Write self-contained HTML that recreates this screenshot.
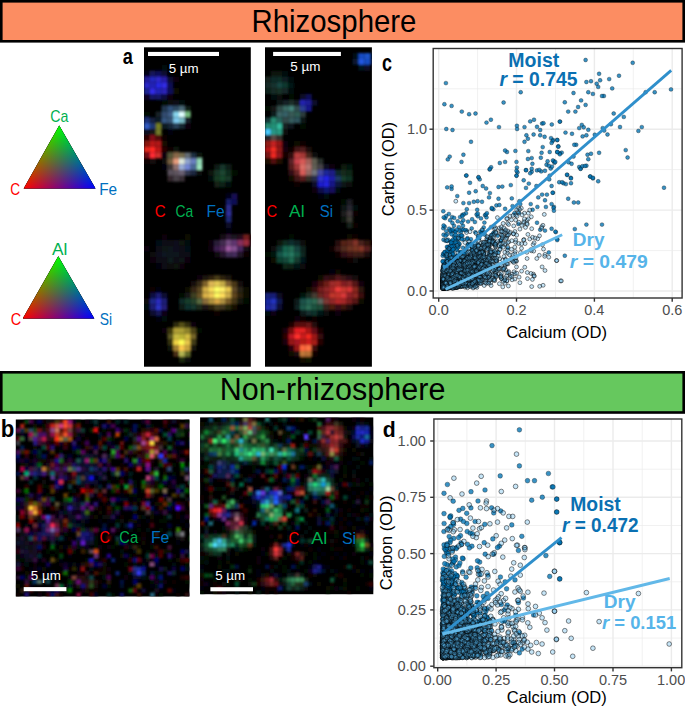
<!DOCTYPE html>
<html><head><meta charset="utf-8"><style>
html,body{margin:0;padding:0;background:#fff;}
svg{display:block;font-family:"Liberation Sans", sans-serif;}
.pts circle{r:1.95px;stroke:#000;stroke-width:.5px;stroke-opacity:.6}
.pd circle{r:2.35px}
.d circle{fill:#56b4e9;fill-opacity:.33;stroke-opacity:.95}
.m circle{fill:#0072b2;fill-opacity:.78}
.pa1 rect{width:5.84px;height:5.84px}
.pa2 rect{width:5.84px;height:5.84px}
.pb1 rect{width:4.33px;height:4.33px}
.pb2 rect{width:4.33px;height:4.33px}
</style></head><body>
<svg width="685" height="708" viewBox="0 0 685 708">
<defs><filter id="pba1" x="-5%" y="-5%" width="110%" height="110%"><feGaussianBlur stdDeviation="1.3"/></filter><filter id="pba2" x="-5%" y="-5%" width="110%" height="110%"><feGaussianBlur stdDeviation="1.3"/></filter><filter id="pbb1" x="-5%" y="-5%" width="110%" height="110%"><feGaussianBlur stdDeviation="0.9"/></filter><filter id="pbb2" x="-5%" y="-5%" width="110%" height="110%"><feGaussianBlur stdDeviation="0.9"/></filter></defs>
<defs><linearGradient id="t1g" gradientUnits="userSpaceOnUse" x1="59.2" y1="125.4" x2="59.2" y2="188.5"><stop offset="0" stop-color="#00ff00"/><stop offset="1" stop-color="#000"/></linearGradient><linearGradient id="t1r" gradientUnits="userSpaceOnUse" x1="23.7" y1="188.5" x2="77.6" y2="157.5"><stop offset="0" stop-color="#ff0000"/><stop offset="1" stop-color="#000"/></linearGradient><linearGradient id="t1b" gradientUnits="userSpaceOnUse" x1="95.5" y1="188.5" x2="41.0" y2="157.8"><stop offset="0" stop-color="#0000ff"/><stop offset="1" stop-color="#000"/></linearGradient><linearGradient id="t2g" gradientUnits="userSpaceOnUse" x1="58.3" y1="256.3" x2="58.3" y2="318.5"><stop offset="0" stop-color="#00ff00"/><stop offset="1" stop-color="#000"/></linearGradient><linearGradient id="t2r" gradientUnits="userSpaceOnUse" x1="22.8" y1="318.5" x2="76.4" y2="287.5"><stop offset="0" stop-color="#ff0000"/><stop offset="1" stop-color="#000"/></linearGradient><linearGradient id="t2b" gradientUnits="userSpaceOnUse" x1="94.3" y1="318.5" x2="40.4" y2="287.7"><stop offset="0" stop-color="#0000ff"/><stop offset="1" stop-color="#000"/></linearGradient><filter id="bl2" x="-50%" y="-50%" width="200%" height="200%"><feGaussianBlur stdDeviation="2.2"/></filter><filter id="bl3" x="-50%" y="-50%" width="200%" height="200%"><feGaussianBlur stdDeviation="3.5"/></filter><filter id="bl1" x="-50%" y="-50%" width="200%" height="200%"><feGaussianBlur stdDeviation="1.2"/></filter></defs><rect x="1.3" y="1.3" width="682.4" height="40" fill="#fc8d62" stroke="#000" stroke-width="2.6"/><text transform="translate(251.55,31.6) scale(0.954,1)" font-size="30.8" fill="#000">Rhizosphere</text><rect x="1.3" y="372.3" width="682.4" height="40.2" fill="#66c85e" stroke="#000" stroke-width="2.6"/><text transform="translate(219.76,399.9) scale(0.991,1)" font-size="30.8" fill="#000">Non-rhizosphere</text><g style="isolation:isolate"><polygon points="59.2,125.4 23.7,188.5 95.5,188.5" fill="url(#t1r)"/><polygon points="59.2,125.4 23.7,188.5 95.5,188.5" fill="url(#t1g)" style="mix-blend-mode:screen"/><polygon points="59.2,125.4 23.7,188.5 95.5,188.5" fill="url(#t1b)" style="mix-blend-mode:screen"/></g><g style="isolation:isolate"><polygon points="58.3,256.3 22.8,318.5 94.3,318.5" fill="url(#t2r)"/><polygon points="58.3,256.3 22.8,318.5 94.3,318.5" fill="url(#t2g)" style="mix-blend-mode:screen"/><polygon points="58.3,256.3 22.8,318.5 94.3,318.5" fill="url(#t2b)" style="mix-blend-mode:screen"/></g><text transform="translate(50.29,121.8) scale(0.878,1)" font-size="16.2" fill="#00b050">Ca</text><text transform="translate(10.32,195.4) scale(0.843,1)" font-size="16.2" fill="#ff0000">C</text><text transform="translate(99.17,195.4) scale(0.950,1)" font-size="16.2" fill="#0070c0">Fe</text><text transform="translate(51.90,255.3) scale(1.069,1)" font-size="16.2" fill="#00b050">Al</text><text transform="translate(10.78,325.4) scale(0.892,1)" font-size="16.2" fill="#ff0000">C</text><text transform="translate(99.71,325.4) scale(0.858,1)" font-size="16.2" fill="#0070c0">Si</text><text transform="translate(122.86,64.4) scale(0.788,1)" font-size="23.0" font-weight="bold" fill="#000">a</text><text transform="translate(381.88,70.6) scale(0.781,1)" font-size="23.0" font-weight="bold" fill="#000">c</text><text transform="translate(0.85,436.9) scale(0.941,1)" font-size="23.6" font-weight="bold" fill="#000">b</text><text transform="translate(382.65,436.7) scale(0.934,1)" font-size="22.7" font-weight="bold" fill="#000">d</text><rect x="144" y="47.3" width="106.8" height="319.4" fill="#000"/><svg x="144" y="47.3" width="106.8" height="319.4" overflow="hidden"><g class="pa1" filter="url(#pba1)"><rect x="17.5" y="17.5" fill="#00090b"/><rect x="0" y="23.4" fill="#050417"/><rect x="5.8" y="23.4" fill="#19195a"/><rect x="11.7" y="23.4" fill="#101058"/><rect x="17.5" y="23.4" fill="#090932"/><rect x="0" y="29.2" fill="#211b9c"/><rect x="5.8" y="29.2" fill="#2127be"/><rect x="11.7" y="29.2" fill="#2f25c9"/><rect x="17.5" y="29.2" fill="#271da9"/><rect x="23.4" y="29.2" fill="#090931"/><rect x="29.2" y="29.2" fill="#0a010b"/><rect x="0" y="35" fill="#2b26ca"/><rect x="5.8" y="35" fill="#2121b6"/><rect x="11.7" y="35" fill="#2828e3"/><rect x="17.5" y="35" fill="#3129e3"/><rect x="23.4" y="35" fill="#0f0f55"/><rect x="0" y="40.9" fill="#1a2093"/><rect x="5.8" y="40.9" fill="#322ae7"/><rect x="11.7" y="40.9" fill="#2121b7"/><rect x="17.5" y="40.9" fill="#2a21b7"/><rect x="23.4" y="40.9" fill="#0f0f59"/><rect x="29.2" y="40.9" fill="#0b0a05"/><rect x="0" y="46.7" fill="#0b0623"/><rect x="5.8" y="46.7" fill="#131267"/><rect x="11.7" y="46.7" fill="#141968"/><rect x="17.5" y="46.7" fill="#0c0c40"/><rect x="23.4" y="46.7" fill="#08020b"/><rect x="17.5" y="52.6" fill="#020b06"/><rect x="23.4" y="52.6" fill="#090c0d"/><rect x="29.2" y="52.6" fill="#070b19"/><rect x="35" y="52.6" fill="#050d0e"/><rect x="17.5" y="58.4" fill="#21384f"/><rect x="23.4" y="58.4" fill="#32527b"/><rect x="29.2" y="58.4" fill="#2f4b64"/><rect x="35" y="58.4" fill="#496777"/><rect x="40.9" y="58.4" fill="#0f1f14"/><rect x="0" y="64.2" fill="#000a05"/><rect x="11.7" y="64.2" fill="#172426"/><rect x="17.5" y="64.2" fill="#304c70"/><rect x="23.4" y="64.2" fill="#405e89"/><rect x="29.2" y="64.2" fill="#88d5ee"/><rect x="35" y="64.2" fill="#e1ffff"/><rect x="40.9" y="64.2" fill="#73b97b"/><rect x="0" y="70.1" fill="#1e3379"/><rect x="5.8" y="70.1" fill="#142141"/><rect x="11.7" y="70.1" fill="#111a27"/><rect x="17.5" y="70.1" fill="#355681"/><rect x="23.4" y="70.1" fill="#375778"/><rect x="29.2" y="70.1" fill="#7fc9ee"/><rect x="35" y="70.1" fill="#77b7c3"/><rect x="40.9" y="70.1" fill="#141f26"/><rect x="0" y="75.9" fill="#315ac2"/><rect x="5.8" y="75.9" fill="#1f3772"/><rect x="11.7" y="75.9" fill="#767f24"/><rect x="17.5" y="75.9" fill="#111a20"/><rect x="23.4" y="75.9" fill="#182739"/><rect x="29.2" y="75.9" fill="#273f57"/><rect x="35" y="75.9" fill="#142830"/><rect x="40.9" y="75.9" fill="#0a020c"/><rect x="0" y="81.8" fill="#080d23"/><rect x="5.8" y="81.8" fill="#161319"/><rect x="11.7" y="81.8" fill="#727c29"/><rect x="23.4" y="81.8" fill="#01010a"/><rect x="0" y="87.6" fill="#2d0606"/><rect x="5.8" y="87.6" fill="#811018"/><rect x="11.7" y="87.6" fill="#50110a"/><rect x="17.5" y="87.6" fill="#0b0000"/><rect x="0" y="93.4" fill="#8a1211"/><rect x="5.8" y="93.4" fill="#b91616"/><rect x="11.7" y="93.4" fill="#b21517"/><rect x="17.5" y="93.4" fill="#130b02"/><rect x="0" y="99.3" fill="#e3251b"/><rect x="5.8" y="99.3" fill="#ff2824"/><rect x="11.7" y="99.3" fill="#be1919"/><rect x="17.5" y="99.3" fill="#250404"/><rect x="23.4" y="99.3" fill="#0c0201"/><rect x="29.2" y="99.3" fill="#0f1209"/><rect x="0" y="105.1" fill="#720e14"/><rect x="5.8" y="105.1" fill="#ff2c35"/><rect x="11.7" y="105.1" fill="#cf2d2a"/><rect x="17.5" y="105.1" fill="#0d060e"/><rect x="23.4" y="105.1" fill="#555738"/><rect x="29.2" y="105.1" fill="#89694a"/><rect x="35" y="105.1" fill="#756c4e"/><rect x="40.9" y="105.1" fill="#636c73"/><rect x="46.7" y="105.1" fill="#1d2f40"/><rect x="52.6" y="105.1" fill="#09130d"/><rect x="0" y="111" fill="#0a0106"/><rect x="5.8" y="111" fill="#190b0b"/><rect x="17.5" y="111" fill="#0b0a07"/><rect x="23.4" y="111" fill="#776042"/><rect x="29.2" y="111" fill="#e79c7d"/><rect x="35" y="111" fill="#dce5d9"/><rect x="40.9" y="111" fill="#90a4cc"/><rect x="46.7" y="111" fill="#697fc0"/><rect x="52.6" y="111" fill="#93d8b4"/><rect x="17.5" y="116.8" fill="#02040b"/><rect x="23.4" y="116.8" fill="#3e3635"/><rect x="29.2" y="116.8" fill="#90716f"/><rect x="35" y="116.8" fill="#9aacd6"/><rect x="40.9" y="116.8" fill="#7386d6"/><rect x="46.7" y="116.8" fill="#4b6a98"/><rect x="52.6" y="116.8" fill="#9ce4be"/><rect x="70.1" y="116.8" fill="#0a1b12"/><rect x="75.9" y="116.8" fill="#133629"/><rect x="81.8" y="116.8" fill="#0c1f14"/><rect x="23.4" y="122.6" fill="#584f5a"/><rect x="29.2" y="122.6" fill="#5f555f"/><rect x="35" y="122.6" fill="#6b6072"/><rect x="40.9" y="122.6" fill="#333851"/><rect x="46.7" y="122.6" fill="#1e263f"/><rect x="52.6" y="122.6" fill="#090f0d"/><rect x="64.2" y="122.6" fill="#0d180f"/><rect x="70.1" y="122.6" fill="#143626"/><rect x="75.9" y="122.6" fill="#1a4732"/><rect x="81.8" y="122.6" fill="#102a1c"/><rect x="87.6" y="122.6" fill="#031005"/><rect x="23.4" y="128.5" fill="#33272c"/><rect x="29.2" y="128.5" fill="#473f47"/><rect x="35" y="128.5" fill="#382f34"/><rect x="64.2" y="128.5" fill="#060f0a"/><rect x="70.1" y="128.5" fill="#173a23"/><rect x="75.9" y="128.5" fill="#18462b"/><rect x="81.8" y="128.5" fill="#123726"/><rect x="70.1" y="134.3" fill="#122014"/><rect x="75.9" y="134.3" fill="#0c2414"/><rect x="81.8" y="134.3" fill="#051008"/><rect x="81.8" y="146" fill="#06061d"/><rect x="87.6" y="146" fill="#160f55"/><rect x="81.8" y="151.8" fill="#171d6a"/><rect x="87.6" y="151.8" fill="#111156"/><rect x="81.8" y="157.7" fill="#2a298a"/><rect x="81.8" y="163.5" fill="#2d2e99"/><rect x="81.8" y="169.4" fill="#1d2573"/><rect x="81.8" y="175.2" fill="#090926"/><rect x="81.8" y="181" fill="#00050b"/><rect x="17.5" y="186.9" fill="#0c0207"/><rect x="40.9" y="186.9" fill="#090a00"/><rect x="75.9" y="186.9" fill="#161016"/><rect x="81.8" y="186.9" fill="#2b1530"/><rect x="87.6" y="186.9" fill="#1d1422"/><rect x="93.4" y="186.9" fill="#260c1b"/><rect x="99.3" y="186.9" fill="#721f1d"/><rect x="105.1" y="186.9" fill="#100303"/><rect x="11.7" y="192.7" fill="#060e14"/><rect x="17.5" y="192.7" fill="#0a0d18"/><rect x="23.4" y="192.7" fill="#0b0e14"/><rect x="29.2" y="192.7" fill="#0e0f1c"/><rect x="35" y="192.7" fill="#0d130e"/><rect x="40.9" y="192.7" fill="#06070b"/><rect x="64.2" y="192.7" fill="#0e0307"/><rect x="70.1" y="192.7" fill="#2b1d39"/><rect x="75.9" y="192.7" fill="#43294f"/><rect x="81.8" y="192.7" fill="#71497f"/><rect x="87.6" y="192.7" fill="#5f356f"/><rect x="93.4" y="192.7" fill="#852f5d"/><rect x="99.3" y="192.7" fill="#9a2b3c"/><rect x="105.1" y="192.7" fill="#1d0708"/><rect x="0" y="198.6" fill="#07010b"/><rect x="11.7" y="198.6" fill="#0c0f16"/><rect x="17.5" y="198.6" fill="#0e1219"/><rect x="23.4" y="198.6" fill="#10181c"/><rect x="29.2" y="198.6" fill="#0c0f1c"/><rect x="35" y="198.6" fill="#0c0c18"/><rect x="40.9" y="198.6" fill="#061113"/><rect x="64.2" y="198.6" fill="#0a0511"/><rect x="70.1" y="198.6" fill="#3b1d4e"/><rect x="75.9" y="198.6" fill="#53275d"/><rect x="81.8" y="198.6" fill="#9c5aa0"/><rect x="87.6" y="198.6" fill="#834f90"/><rect x="93.4" y="198.6" fill="#49275f"/><rect x="99.3" y="198.6" fill="#160a19"/><rect x="5.8" y="204.4" fill="#0e0d0d"/><rect x="11.7" y="204.4" fill="#0f0e1d"/><rect x="17.5" y="204.4" fill="#101221"/><rect x="23.4" y="204.4" fill="#0f121f"/><rect x="29.2" y="204.4" fill="#0f171c"/><rect x="35" y="204.4" fill="#0a1113"/><rect x="40.9" y="204.4" fill="#080a15"/><rect x="70.1" y="204.4" fill="#0e0710"/><rect x="75.9" y="204.4" fill="#26132d"/><rect x="81.8" y="204.4" fill="#412a54"/><rect x="87.6" y="204.4" fill="#452b5c"/><rect x="93.4" y="204.4" fill="#211427"/><rect x="99.3" y="204.4" fill="#0b0306"/><rect x="5.8" y="210.2" fill="#0b0610"/><rect x="11.7" y="210.2" fill="#0b0e14"/><rect x="17.5" y="210.2" fill="#110f13"/><rect x="23.4" y="210.2" fill="#0d1a1b"/><rect x="29.2" y="210.2" fill="#0d1017"/><rect x="35" y="210.2" fill="#0d1317"/><rect x="40.9" y="210.2" fill="#08060f"/><rect x="11.7" y="216.1" fill="#06050f"/><rect x="17.5" y="216.1" fill="#0f0b19"/><rect x="23.4" y="216.1" fill="#070a0d"/><rect x="29.2" y="216.1" fill="#081211"/><rect x="35" y="216.1" fill="#0b0608"/><rect x="52.6" y="227.8" fill="#0f060c"/><rect x="58.4" y="227.8" fill="#1a130f"/><rect x="64.2" y="227.8" fill="#2d2111"/><rect x="70.1" y="227.8" fill="#463a18"/><rect x="75.9" y="227.8" fill="#2f2210"/><rect x="81.8" y="227.8" fill="#1f1508"/><rect x="46.7" y="233.6" fill="#181108"/><rect x="52.6" y="233.6" fill="#392a18"/><rect x="58.4" y="233.6" fill="#7f6229"/><rect x="64.2" y="233.6" fill="#dcb555"/><rect x="70.1" y="233.6" fill="#e3c752"/><rect x="75.9" y="233.6" fill="#c5ab46"/><rect x="81.8" y="233.6" fill="#7d5f30"/><rect x="87.6" y="233.6" fill="#483818"/><rect x="93.4" y="233.6" fill="#121010"/><rect x="5.8" y="239.4" fill="#0a0301"/><rect x="11.7" y="239.4" fill="#05060b"/><rect x="40.9" y="239.4" fill="#090d03"/><rect x="46.7" y="239.4" fill="#382812"/><rect x="52.6" y="239.4" fill="#5c4820"/><rect x="58.4" y="239.4" fill="#d0ac47"/><rect x="64.2" y="239.4" fill="#f7d959"/><rect x="70.1" y="239.4" fill="#ffff66"/><rect x="75.9" y="239.4" fill="#ffec68"/><rect x="81.8" y="239.4" fill="#e7c54d"/><rect x="87.6" y="239.4" fill="#5e4928"/><rect x="93.4" y="239.4" fill="#282016"/><rect x="99.3" y="239.4" fill="#0c0e03"/><rect x="5.8" y="245.3" fill="#100f43"/><rect x="11.7" y="245.3" fill="#1b1b76"/><rect x="17.5" y="245.3" fill="#0b0b33"/><rect x="35" y="245.3" fill="#040b03"/><rect x="40.9" y="245.3" fill="#151614"/><rect x="46.7" y="245.3" fill="#3e4122"/><rect x="52.6" y="245.3" fill="#695327"/><rect x="58.4" y="245.3" fill="#d9b148"/><rect x="64.2" y="245.3" fill="#eec652"/><rect x="70.1" y="245.3" fill="#fff861"/><rect x="75.9" y="245.3" fill="#ffdd5b"/><rect x="81.8" y="245.3" fill="#cbaa48"/><rect x="87.6" y="245.3" fill="#5f441e"/><rect x="93.4" y="245.3" fill="#2d240e"/><rect x="99.3" y="245.3" fill="#0b0804"/><rect x="0" y="251.1" fill="#0c090d"/><rect x="5.8" y="251.1" fill="#1f2589"/><rect x="11.7" y="251.1" fill="#2a2abd"/><rect x="17.5" y="251.1" fill="#1c1b75"/><rect x="35" y="251.1" fill="#102925"/><rect x="40.9" y="251.1" fill="#153e2a"/><rect x="46.7" y="251.1" fill="#27422c"/><rect x="52.6" y="251.1" fill="#586940"/><rect x="58.4" y="251.1" fill="#8a6c3a"/><rect x="64.2" y="251.1" fill="#ae903d"/><rect x="70.1" y="251.1" fill="#d6a545"/><rect x="75.9" y="251.1" fill="#ae8f3f"/><rect x="81.8" y="251.1" fill="#775a28"/><rect x="87.6" y="251.1" fill="#433517"/><rect x="93.4" y="251.1" fill="#19180d"/><rect x="99.3" y="251.1" fill="#040c03"/><rect x="0" y="257" fill="#050c0c"/><rect x="5.8" y="257" fill="#1a1a72"/><rect x="11.7" y="257" fill="#2a33c4"/><rect x="17.5" y="257" fill="#221b79"/><rect x="35" y="257" fill="#091c17"/><rect x="40.9" y="257" fill="#11312d"/><rect x="46.7" y="257" fill="#19372e"/><rect x="52.6" y="257" fill="#1d2a1d"/><rect x="58.4" y="257" fill="#1d1814"/><rect x="64.2" y="257" fill="#2c210f"/><rect x="70.1" y="257" fill="#433b1b"/><rect x="75.9" y="257" fill="#40351d"/><rect x="81.8" y="257" fill="#27250d"/><rect x="87.6" y="257" fill="#180e05"/><rect x="5.8" y="262.8" fill="#0a0a33"/><rect x="11.7" y="262.8" fill="#141758"/><rect x="17.5" y="262.8" fill="#0a0518"/><rect x="70.1" y="262.8" fill="#0c0502"/><rect x="11.7" y="268.6" fill="#00010a"/><rect x="17.5" y="268.6" fill="#000a07"/><rect x="29.2" y="274.5" fill="#2e2b0e"/><rect x="35" y="274.5" fill="#544f16"/><rect x="40.9" y="274.5" fill="#312e0e"/><rect x="46.7" y="274.5" fill="#08060a"/><rect x="17.5" y="280.3" fill="#0a0109"/><rect x="23.4" y="280.3" fill="#3d380f"/><rect x="29.2" y="280.3" fill="#ae9d35"/><rect x="35" y="280.3" fill="#aa9e36"/><rect x="40.9" y="280.3" fill="#8d822c"/><rect x="46.7" y="280.3" fill="#4e4414"/><rect x="52.6" y="280.3" fill="#030b04"/><rect x="23.4" y="286.2" fill="#5a5622"/><rect x="29.2" y="286.2" fill="#c7ba3f"/><rect x="35" y="286.2" fill="#bcb236"/><rect x="40.9" y="286.2" fill="#d1bc40"/><rect x="46.7" y="286.2" fill="#756527"/><rect x="23.4" y="292" fill="#353111"/><rect x="29.2" y="292" fill="#efd345"/><rect x="35" y="292" fill="#fffc54"/><rect x="40.9" y="292" fill="#e6c448"/><rect x="46.7" y="292" fill="#423c13"/><rect x="23.4" y="297.8" fill="#101608"/><rect x="29.2" y="297.8" fill="#a18031"/><rect x="35" y="297.8" fill="#fcc74c"/><rect x="40.9" y="297.8" fill="#c8a43c"/><rect x="46.7" y="297.8" fill="#161309"/><rect x="29.2" y="303.7" fill="#4a2d14"/><rect x="35" y="303.7" fill="#b2b351"/><rect x="40.9" y="303.7" fill="#606728"/><rect x="35" y="309.5" fill="#1f2b11"/><rect x="40.9" y="309.5" fill="#080c0a"/></g></svg><rect x="265" y="47.3" width="106.9" height="319.4" fill="#000"/><svg x="265" y="47.3" width="106.9" height="319.4" overflow="hidden"><g class="pa2" filter="url(#pba2)"><rect x="87.6" y="5.8" fill="#040e15"/><rect x="93.4" y="5.8" fill="#164cc5"/><rect x="99.3" y="5.8" fill="#1b55cd"/><rect x="105.1" y="5.8" fill="#030b20"/><rect x="87.6" y="11.7" fill="#081830"/><rect x="93.4" y="11.7" fill="#2358e2"/><rect x="99.3" y="11.7" fill="#164ec6"/><rect x="105.1" y="11.7" fill="#0f1b45"/><rect x="93.4" y="17.5" fill="#041623"/><rect x="99.3" y="17.5" fill="#0b0e2c"/><rect x="5.8" y="23.4" fill="#0f1311"/><rect x="11.7" y="23.4" fill="#0c130e"/><rect x="17.5" y="23.4" fill="#04080f"/><rect x="0" y="29.2" fill="#14201d"/><rect x="5.8" y="29.2" fill="#0f2a26"/><rect x="11.7" y="29.2" fill="#0f2d28"/><rect x="17.5" y="29.2" fill="#0b1f22"/><rect x="23.4" y="29.2" fill="#030c10"/><rect x="0" y="35" fill="#182b27"/><rect x="5.8" y="35" fill="#15332f"/><rect x="11.7" y="35" fill="#184643"/><rect x="17.5" y="35" fill="#10382f"/><rect x="23.4" y="35" fill="#061612"/><rect x="0" y="40.9" fill="#0c231a"/><rect x="5.8" y="40.9" fill="#182a25"/><rect x="11.7" y="40.9" fill="#123326"/><rect x="17.5" y="40.9" fill="#162526"/><rect x="23.4" y="40.9" fill="#020d0d"/><rect x="5.8" y="46.7" fill="#030a0e"/><rect x="11.7" y="46.7" fill="#090d08"/><rect x="23.4" y="46.7" fill="#000a01"/><rect x="35" y="46.7" fill="#07072a"/><rect x="40.9" y="46.7" fill="#0f0f58"/><rect x="11.7" y="52.6" fill="#081714"/><rect x="17.5" y="52.6" fill="#152126"/><rect x="23.4" y="52.6" fill="#1f2f2a"/><rect x="29.2" y="52.6" fill="#181e20"/><rect x="35" y="52.6" fill="#2022ae"/><rect x="40.9" y="52.6" fill="#1e1a95"/><rect x="46.7" y="52.6" fill="#070c29"/><rect x="0" y="58.4" fill="#000a01"/><rect x="5.8" y="58.4" fill="#131616"/><rect x="11.7" y="58.4" fill="#334d4c"/><rect x="17.5" y="58.4" fill="#3a6a65"/><rect x="23.4" y="58.4" fill="#45837a"/><rect x="29.2" y="58.4" fill="#334e4f"/><rect x="35" y="58.4" fill="#2a3c93"/><rect x="40.9" y="58.4" fill="#19198b"/><rect x="5.8" y="64.2" fill="#101e1e"/><rect x="11.7" y="64.2" fill="#3b6465"/><rect x="17.5" y="64.2" fill="#366167"/><rect x="23.4" y="64.2" fill="#395a56"/><rect x="29.2" y="64.2" fill="#2f5b53"/><rect x="35" y="64.2" fill="#2a3b3b"/><rect x="0" y="70.1" fill="#153938"/><rect x="5.8" y="70.1" fill="#258b72"/><rect x="11.7" y="70.1" fill="#28665d"/><rect x="17.5" y="70.1" fill="#324948"/><rect x="23.4" y="70.1" fill="#365b5d"/><rect x="29.2" y="70.1" fill="#2f535c"/><rect x="35" y="70.1" fill="#0c1715"/><rect x="0" y="75.9" fill="#258971"/><rect x="5.8" y="75.9" fill="#229077"/><rect x="11.7" y="75.9" fill="#30b99c"/><rect x="17.5" y="75.9" fill="#182321"/><rect x="23.4" y="75.9" fill="#0c151b"/><rect x="35" y="75.9" fill="#010b01"/><rect x="0" y="81.8" fill="#49caff"/><rect x="5.8" y="81.8" fill="#289886"/><rect x="11.7" y="81.8" fill="#279a80"/><rect x="17.5" y="81.8" fill="#0e110e"/><rect x="0" y="87.6" fill="#25262c"/><rect x="5.8" y="87.6" fill="#594945"/><rect x="11.7" y="87.6" fill="#352e29"/><rect x="0" y="93.4" fill="#951c19"/><rect x="5.8" y="93.4" fill="#c62420"/><rect x="11.7" y="93.4" fill="#941515"/><rect x="17.5" y="93.4" fill="#0b0108"/><rect x="29.2" y="93.4" fill="#0a0a03"/><rect x="35" y="93.4" fill="#0b0404"/><rect x="0" y="99.3" fill="#b11717"/><rect x="5.8" y="99.3" fill="#f02b21"/><rect x="11.7" y="99.3" fill="#911714"/><rect x="17.5" y="99.3" fill="#13030b"/><rect x="23.4" y="99.3" fill="#110404"/><rect x="29.2" y="99.3" fill="#441515"/><rect x="35" y="99.3" fill="#511a1d"/><rect x="40.9" y="99.3" fill="#1a1009"/><rect x="0" y="105.1" fill="#791919"/><rect x="5.8" y="105.1" fill="#ee2621"/><rect x="11.7" y="105.1" fill="#8f141c"/><rect x="17.5" y="105.1" fill="#140202"/><rect x="23.4" y="105.1" fill="#301010"/><rect x="29.2" y="105.1" fill="#b93d3d"/><rect x="35" y="105.1" fill="#a53936"/><rect x="40.9" y="105.1" fill="#4a281f"/><rect x="46.7" y="105.1" fill="#10100e"/><rect x="0" y="111" fill="#1b0b04"/><rect x="5.8" y="111" fill="#52100b"/><rect x="11.7" y="111" fill="#200e05"/><rect x="23.4" y="111" fill="#5b2025"/><rect x="29.2" y="111" fill="#ca434b"/><rect x="35" y="111" fill="#d75a57"/><rect x="40.9" y="111" fill="#a26159"/><rect x="46.7" y="111" fill="#5e5b50"/><rect x="52.6" y="111" fill="#252d29"/><rect x="23.4" y="116.8" fill="#571d1d"/><rect x="29.2" y="116.8" fill="#a23737"/><rect x="35" y="116.8" fill="#db6d65"/><rect x="40.9" y="116.8" fill="#b5736e"/><rect x="46.7" y="116.8" fill="#615f54"/><rect x="52.6" y="116.8" fill="#444347"/><rect x="58.4" y="116.8" fill="#0f1022"/><rect x="64.2" y="116.8" fill="#0b0311"/><rect x="75.9" y="116.8" fill="#0e1b0d"/><rect x="81.8" y="116.8" fill="#04150a"/><rect x="23.4" y="122.6" fill="#330f13"/><rect x="29.2" y="122.6" fill="#6d2725"/><rect x="35" y="122.6" fill="#d75c58"/><rect x="40.9" y="122.6" fill="#946964"/><rect x="46.7" y="122.6" fill="#71737b"/><rect x="52.6" y="122.6" fill="#4346a2"/><rect x="58.4" y="122.6" fill="#1e2599"/><rect x="64.2" y="122.6" fill="#1c1f86"/><rect x="70.1" y="122.6" fill="#10272c"/><rect x="75.9" y="122.6" fill="#172b1f"/><rect x="81.8" y="122.6" fill="#112517"/><rect x="23.4" y="128.5" fill="#100705"/><rect x="29.2" y="128.5" fill="#411313"/><rect x="35" y="128.5" fill="#581f1e"/><rect x="40.9" y="128.5" fill="#332e25"/><rect x="46.7" y="128.5" fill="#282a4c"/><rect x="52.6" y="128.5" fill="#2e32ce"/><rect x="58.4" y="128.5" fill="#2323e4"/><rect x="64.2" y="128.5" fill="#1a1da4"/><rect x="70.1" y="128.5" fill="#1a3863"/><rect x="75.9" y="128.5" fill="#123d29"/><rect x="81.8" y="128.5" fill="#0e3122"/><rect x="29.2" y="134.3" fill="#0c0402"/><rect x="46.7" y="134.3" fill="#08072b"/><rect x="52.6" y="134.3" fill="#1f1fcd"/><rect x="58.4" y="134.3" fill="#2222de"/><rect x="64.2" y="134.3" fill="#151586"/><rect x="70.1" y="134.3" fill="#0e193f"/><rect x="75.9" y="134.3" fill="#081813"/><rect x="81.8" y="134.3" fill="#090d09"/><rect x="46.7" y="140.2" fill="#09010e"/><rect x="52.6" y="140.2" fill="#0c0a46"/><rect x="58.4" y="140.2" fill="#10186e"/><rect x="64.2" y="140.2" fill="#140e5d"/><rect x="70.1" y="140.2" fill="#02070b"/><rect x="52.6" y="146" fill="#01050d"/><rect x="58.4" y="146" fill="#03080b"/><rect x="75.9" y="151.8" fill="#020b02"/><rect x="81.8" y="151.8" fill="#1a1a23"/><rect x="75.9" y="157.7" fill="#0f1514"/><rect x="81.8" y="157.7" fill="#272730"/><rect x="87.6" y="157.7" fill="#020b0a"/><rect x="75.9" y="163.5" fill="#1e1e1e"/><rect x="81.8" y="163.5" fill="#3f373b"/><rect x="87.6" y="163.5" fill="#0a0403"/><rect x="75.9" y="169.4" fill="#111511"/><rect x="81.8" y="169.4" fill="#3a3a33"/><rect x="81.8" y="175.2" fill="#19201b"/><rect x="87.6" y="175.2" fill="#0a0304"/><rect x="23.4" y="186.9" fill="#000b06"/><rect x="81.8" y="186.9" fill="#0a0b02"/><rect x="87.6" y="186.9" fill="#0c0504"/><rect x="11.7" y="192.7" fill="#0c1209"/><rect x="17.5" y="192.7" fill="#102f23"/><rect x="23.4" y="192.7" fill="#102e2d"/><rect x="29.2" y="192.7" fill="#092123"/><rect x="35" y="192.7" fill="#0c0908"/><rect x="70.1" y="192.7" fill="#27110e"/><rect x="75.9" y="192.7" fill="#542219"/><rect x="81.8" y="192.7" fill="#5b251b"/><rect x="87.6" y="192.7" fill="#803326"/><rect x="93.4" y="192.7" fill="#49241c"/><rect x="99.3" y="192.7" fill="#32140f"/><rect x="105.1" y="192.7" fill="#0c0506"/><rect x="5.8" y="198.6" fill="#0b080c"/><rect x="11.7" y="198.6" fill="#0d312e"/><rect x="17.5" y="198.6" fill="#19644d"/><rect x="23.4" y="198.6" fill="#216a53"/><rect x="29.2" y="198.6" fill="#14453f"/><rect x="35" y="198.6" fill="#0a241d"/><rect x="64.2" y="198.6" fill="#0d0504"/><rect x="70.1" y="198.6" fill="#391717"/><rect x="75.9" y="198.6" fill="#51291d"/><rect x="81.8" y="198.6" fill="#6b3120"/><rect x="87.6" y="198.6" fill="#763523"/><rect x="93.4" y="198.6" fill="#843527"/><rect x="99.3" y="198.6" fill="#571f1f"/><rect x="105.1" y="198.6" fill="#231513"/><rect x="0" y="204.4" fill="#000a00"/><rect x="5.8" y="204.4" fill="#061511"/><rect x="11.7" y="204.4" fill="#175549"/><rect x="17.5" y="204.4" fill="#1e715b"/><rect x="23.4" y="204.4" fill="#287860"/><rect x="29.2" y="204.4" fill="#155645"/><rect x="35" y="204.4" fill="#0b2720"/><rect x="70.1" y="204.4" fill="#100605"/><rect x="75.9" y="204.4" fill="#301114"/><rect x="81.8" y="204.4" fill="#3f1915"/><rect x="87.6" y="204.4" fill="#411a14"/><rect x="93.4" y="204.4" fill="#3c1e13"/><rect x="99.3" y="204.4" fill="#1f0c09"/><rect x="5.8" y="210.2" fill="#070d05"/><rect x="11.7" y="210.2" fill="#104331"/><rect x="17.5" y="210.2" fill="#134a3a"/><rect x="23.4" y="210.2" fill="#1a6950"/><rect x="29.2" y="210.2" fill="#123b2f"/><rect x="35" y="210.2" fill="#06161b"/><rect x="81.8" y="210.2" fill="#0a0101"/><rect x="87.6" y="210.2" fill="#08080b"/><rect x="17.5" y="216.1" fill="#082619"/><rect x="23.4" y="216.1" fill="#072016"/><rect x="29.2" y="216.1" fill="#051216"/><rect x="35" y="216.1" fill="#09070b"/><rect x="64.2" y="221.9" fill="#03010a"/><rect x="70.1" y="221.9" fill="#0a0701"/><rect x="52.6" y="227.8" fill="#0e0a03"/><rect x="58.4" y="227.8" fill="#350b13"/><rect x="64.2" y="227.8" fill="#300f0b"/><rect x="70.1" y="227.8" fill="#52181a"/><rect x="75.9" y="227.8" fill="#3e1715"/><rect x="81.8" y="227.8" fill="#290a13"/><rect x="87.6" y="227.8" fill="#130b0e"/><rect x="46.7" y="233.6" fill="#1e0508"/><rect x="52.6" y="233.6" fill="#440e0f"/><rect x="58.4" y="233.6" fill="#6e1d18"/><rect x="64.2" y="233.6" fill="#9e2b2c"/><rect x="70.1" y="233.6" fill="#a92a26"/><rect x="75.9" y="233.6" fill="#831e20"/><rect x="81.8" y="233.6" fill="#892828"/><rect x="87.6" y="233.6" fill="#541314"/><rect x="93.4" y="233.6" fill="#12040b"/><rect x="40.9" y="239.4" fill="#0d0b05"/><rect x="46.7" y="239.4" fill="#300b0b"/><rect x="52.6" y="239.4" fill="#731a1a"/><rect x="58.4" y="239.4" fill="#8f2726"/><rect x="64.2" y="239.4" fill="#ab2727"/><rect x="70.1" y="239.4" fill="#eb3b39"/><rect x="75.9" y="239.4" fill="#c9372e"/><rect x="81.8" y="239.4" fill="#d43231"/><rect x="87.6" y="239.4" fill="#86261f"/><rect x="93.4" y="239.4" fill="#2e140b"/><rect x="0" y="245.3" fill="#12207b"/><rect x="5.8" y="245.3" fill="#121a75"/><rect x="11.7" y="245.3" fill="#0e0722"/><rect x="35" y="245.3" fill="#06140f"/><rect x="40.9" y="245.3" fill="#1c2923"/><rect x="46.7" y="245.3" fill="#463e32"/><rect x="52.6" y="245.3" fill="#6c2523"/><rect x="58.4" y="245.3" fill="#8a2125"/><rect x="64.2" y="245.3" fill="#bf342c"/><rect x="70.1" y="245.3" fill="#c2312b"/><rect x="75.9" y="245.3" fill="#d83839"/><rect x="81.8" y="245.3" fill="#8f2327"/><rect x="87.6" y="245.3" fill="#8c2520"/><rect x="93.4" y="245.3" fill="#3e0e0e"/><rect x="0" y="251.1" fill="#1925a1"/><rect x="5.8" y="251.1" fill="#2433bd"/><rect x="11.7" y="251.1" fill="#0f1250"/><rect x="29.2" y="251.1" fill="#0e1b1a"/><rect x="35" y="251.1" fill="#1b514a"/><rect x="40.9" y="251.1" fill="#276555"/><rect x="46.7" y="251.1" fill="#2f6951"/><rect x="52.6" y="251.1" fill="#5c635b"/><rect x="58.4" y="251.1" fill="#7d3830"/><rect x="64.2" y="251.1" fill="#902525"/><rect x="70.1" y="251.1" fill="#b42828"/><rect x="75.9" y="251.1" fill="#a52525"/><rect x="81.8" y="251.1" fill="#7b1c1d"/><rect x="87.6" y="251.1" fill="#561712"/><rect x="93.4" y="251.1" fill="#100c04"/><rect x="0" y="257" fill="#1f25a7"/><rect x="5.8" y="257" fill="#202d9f"/><rect x="11.7" y="257" fill="#0a0b34"/><rect x="29.2" y="257" fill="#0b2122"/><rect x="35" y="257" fill="#1d5848"/><rect x="40.9" y="257" fill="#296c55"/><rect x="46.7" y="257" fill="#1e523f"/><rect x="52.6" y="257" fill="#1e4b37"/><rect x="58.4" y="257" fill="#35211d"/><rect x="64.2" y="257" fill="#4d1a10"/><rect x="70.1" y="257" fill="#3b0e15"/><rect x="75.9" y="257" fill="#40160f"/><rect x="81.8" y="257" fill="#230d11"/><rect x="0" y="262.8" fill="#010811"/><rect x="5.8" y="262.8" fill="#0a0413"/><rect x="35" y="262.8" fill="#0f1a1b"/><rect x="40.9" y="262.8" fill="#132e2e"/><rect x="46.7" y="262.8" fill="#113229"/><rect x="52.6" y="262.8" fill="#061514"/><rect x="58.4" y="262.8" fill="#080a0c"/><rect x="70.1" y="262.8" fill="#0c060a"/><rect x="29.2" y="268.6" fill="#0b0108"/><rect x="35" y="268.6" fill="#0b0206"/><rect x="46.7" y="268.6" fill="#0a0000"/><rect x="23.4" y="274.5" fill="#1a0404"/><rect x="29.2" y="274.5" fill="#560b0a"/><rect x="35" y="274.5" fill="#5a0c0c"/><rect x="40.9" y="274.5" fill="#691613"/><rect x="46.7" y="274.5" fill="#200b0c"/><rect x="17.5" y="280.3" fill="#1f0308"/><rect x="23.4" y="280.3" fill="#761010"/><rect x="29.2" y="280.3" fill="#e31f20"/><rect x="35" y="280.3" fill="#e12421"/><rect x="40.9" y="280.3" fill="#a71616"/><rect x="46.7" y="280.3" fill="#621016"/><rect x="52.6" y="280.3" fill="#1f0404"/><rect x="17.5" y="286.2" fill="#2f0505"/><rect x="23.4" y="286.2" fill="#b91822"/><rect x="29.2" y="286.2" fill="#ff2d2c"/><rect x="35" y="286.2" fill="#cc1b1d"/><rect x="40.9" y="286.2" fill="#f0281f"/><rect x="46.7" y="286.2" fill="#9b1915"/><rect x="52.6" y="286.2" fill="#370710"/><rect x="17.5" y="292" fill="#1f040b"/><rect x="23.4" y="292" fill="#951417"/><rect x="29.2" y="292" fill="#a61620"/><rect x="35" y="292" fill="#b71a19"/><rect x="40.9" y="292" fill="#cf1d1c"/><rect x="46.7" y="292" fill="#a71a15"/><rect x="52.6" y="292" fill="#270504"/><rect x="23.4" y="297.8" fill="#2c0609"/><rect x="29.2" y="297.8" fill="#981615"/><rect x="35" y="297.8" fill="#ff673d"/><rect x="40.9" y="297.8" fill="#ff7343"/><rect x="46.7" y="297.8" fill="#3c0e08"/><rect x="23.4" y="303.7" fill="#0d0801"/><rect x="29.2" y="303.7" fill="#1e070e"/><rect x="35" y="303.7" fill="#c07739"/><rect x="40.9" y="303.7" fill="#b67036"/><rect x="46.7" y="303.7" fill="#0d0402"/><rect x="35" y="309.5" fill="#120f04"/><rect x="40.9" y="309.5" fill="#0e1205"/></g></svg><rect x="15.8" y="419.5" width="173.6" height="177" fill="#000"/><svg x="15.8" y="419.5" width="173.6" height="177" overflow="hidden"><g class="pb1" filter="url(#pbb1)"><rect x="8.7" y="0" fill="#004209"/><rect x="13" y="0" fill="#440044"/><rect x="17.3" y="0" fill="#00000b"/><rect x="21.6" y="0" fill="#000053"/><rect x="26" y="0" fill="#0a0000"/><rect x="30.3" y="0" fill="#070d0e"/><rect x="34.6" y="0" fill="#1a0711"/><rect x="39" y="0" fill="#47390d"/><rect x="43.3" y="0" fill="#5c140c"/><rect x="47.6" y="0" fill="#ff4521"/><rect x="52" y="0" fill="#931772"/><rect x="56.3" y="0" fill="#0e041e"/><rect x="60.6" y="0" fill="#010c00"/><rect x="69.3" y="0" fill="#0b020b"/><rect x="73.6" y="0" fill="#00090a"/><rect x="77.9" y="0" fill="#0c3233"/><rect x="90.9" y="0" fill="#3a0d00"/><rect x="99.6" y="0" fill="#002424"/><rect x="103.9" y="0" fill="#00000a"/><rect x="108.2" y="0" fill="#042323"/><rect x="125.6" y="0" fill="#0c0424"/><rect x="129.9" y="0" fill="#550034"/><rect x="147.2" y="0" fill="#4b050c"/><rect x="151.6" y="0" fill="#0c0500"/><rect x="155.9" y="0" fill="#0b072c"/><rect x="160.2" y="0" fill="#0b0004"/><rect x="168.9" y="0" fill="#020b05"/><rect x="173.2" y="0" fill="#060d00"/><rect x="4.3" y="4.3" fill="#a8210a"/><rect x="17.3" y="4.3" fill="#0b0d00"/><rect x="26" y="4.3" fill="#010b04"/><rect x="30.3" y="4.3" fill="#440510"/><rect x="34.6" y="4.3" fill="#c62213"/><rect x="39" y="4.3" fill="#d3513d"/><rect x="43.3" y="4.3" fill="#d93e7f"/><rect x="47.6" y="4.3" fill="#ff5230"/><rect x="52" y="4.3" fill="#ce343c"/><rect x="56.3" y="4.3" fill="#300906"/><rect x="60.6" y="4.3" fill="#6d0f01"/><rect x="77.9" y="4.3" fill="#051919"/><rect x="82.3" y="4.3" fill="#0b0005"/><rect x="86.6" y="4.3" fill="#140d6e"/><rect x="90.9" y="4.3" fill="#000032"/><rect x="95.3" y="4.3" fill="#44004c"/><rect x="99.6" y="4.3" fill="#00060b"/><rect x="116.9" y="4.3" fill="#010c57"/><rect x="121.2" y="4.3" fill="#010c00"/><rect x="129.9" y="4.3" fill="#040b2d"/><rect x="134.2" y="4.3" fill="#010b00"/><rect x="147.2" y="4.3" fill="#220501"/><rect x="151.6" y="4.3" fill="#00000a"/><rect x="164.5" y="4.3" fill="#593b00"/><rect x="168.9" y="4.3" fill="#340a3f"/><rect x="0" y="8.7" fill="#631150"/><rect x="4.3" y="8.7" fill="#002c45"/><rect x="8.7" y="8.7" fill="#523a00"/><rect x="13" y="8.7" fill="#294864"/><rect x="17.3" y="8.7" fill="#0a4012"/><rect x="21.6" y="8.7" fill="#770f0e"/><rect x="26" y="8.7" fill="#140e0a"/><rect x="30.3" y="8.7" fill="#480f0d"/><rect x="34.6" y="8.7" fill="#954888"/><rect x="39" y="8.7" fill="#d07861"/><rect x="43.3" y="8.7" fill="#5c170c"/><rect x="47.6" y="8.7" fill="#bb2817"/><rect x="52" y="8.7" fill="#75473f"/><rect x="56.3" y="8.7" fill="#261009"/><rect x="60.6" y="8.7" fill="#3e0e3e"/><rect x="65" y="8.7" fill="#0e3b30"/><rect x="73.6" y="8.7" fill="#0b2000"/><rect x="77.9" y="8.7" fill="#e2070a"/><rect x="86.6" y="8.7" fill="#000c00"/><rect x="90.9" y="8.7" fill="#0d0500"/><rect x="99.6" y="8.7" fill="#3a016c"/><rect x="103.9" y="8.7" fill="#140017"/><rect x="108.2" y="8.7" fill="#042a07"/><rect x="112.6" y="8.7" fill="#0b0508"/><rect x="116.9" y="8.7" fill="#010c53"/><rect x="125.6" y="8.7" fill="#261006"/><rect x="129.9" y="8.7" fill="#2b080d"/><rect x="134.2" y="8.7" fill="#2c060a"/><rect x="138.6" y="8.7" fill="#5a0d02"/><rect x="142.9" y="8.7" fill="#010839"/><rect x="151.6" y="8.7" fill="#0c0800"/><rect x="155.9" y="8.7" fill="#55057c"/><rect x="160.2" y="8.7" fill="#0f2813"/><rect x="164.5" y="8.7" fill="#072007"/><rect x="168.9" y="8.7" fill="#000b00"/><rect x="173.2" y="8.7" fill="#051e00"/><rect x="0" y="13" fill="#000c00"/><rect x="4.3" y="13" fill="#0c0020"/><rect x="8.7" y="13" fill="#03010e"/><rect x="13" y="13" fill="#a40852"/><rect x="17.3" y="13" fill="#475b49"/><rect x="21.6" y="13" fill="#4d116c"/><rect x="26" y="13" fill="#4c1167"/><rect x="30.3" y="13" fill="#350c19"/><rect x="34.6" y="13" fill="#9a104d"/><rect x="39" y="13" fill="#c53e1b"/><rect x="43.3" y="13" fill="#882b14"/><rect x="47.6" y="13" fill="#ff562b"/><rect x="52" y="13" fill="#96124d"/><rect x="56.3" y="13" fill="#290b05"/><rect x="60.6" y="13" fill="#060b0c"/><rect x="65" y="13" fill="#0d040b"/><rect x="82.3" y="13" fill="#000e29"/><rect x="90.9" y="13" fill="#450052"/><rect x="99.6" y="13" fill="#ba4100"/><rect x="108.2" y="13" fill="#060b04"/><rect x="112.6" y="13" fill="#0b2828"/><rect x="116.9" y="13" fill="#150c09"/><rect x="121.2" y="13" fill="#220609"/><rect x="125.6" y="13" fill="#6c1313"/><rect x="129.9" y="13" fill="#cc233a"/><rect x="134.2" y="13" fill="#5e0e09"/><rect x="138.6" y="13" fill="#330908"/><rect x="147.2" y="13" fill="#034d2d"/><rect x="151.6" y="13" fill="#290a64"/><rect x="155.9" y="13" fill="#00020c"/><rect x="160.2" y="13" fill="#0f321c"/><rect x="164.5" y="13" fill="#163f0f"/><rect x="173.2" y="13" fill="#49024a"/><rect x="0" y="17.3" fill="#4c0008"/><rect x="4.3" y="17.3" fill="#356835"/><rect x="8.7" y="17.3" fill="#04010c"/><rect x="13" y="17.3" fill="#4f453b"/><rect x="17.3" y="17.3" fill="#511893"/><rect x="21.6" y="17.3" fill="#581649"/><rect x="26" y="17.3" fill="#b81648"/><rect x="30.3" y="17.3" fill="#31091b"/><rect x="34.6" y="17.3" fill="#2a150b"/><rect x="39" y="17.3" fill="#ff3013"/><rect x="43.3" y="17.3" fill="#c57724"/><rect x="47.6" y="17.3" fill="#586449"/><rect x="52" y="17.3" fill="#a5530b"/><rect x="56.3" y="17.3" fill="#110302"/><rect x="60.6" y="17.3" fill="#100534"/><rect x="69.3" y="17.3" fill="#0c0600"/><rect x="82.3" y="17.3" fill="#010b0e"/><rect x="86.6" y="17.3" fill="#500003"/><rect x="90.9" y="17.3" fill="#062c00"/><rect x="95.3" y="17.3" fill="#040b04"/><rect x="108.2" y="17.3" fill="#000045"/><rect x="116.9" y="17.3" fill="#1e2727"/><rect x="121.2" y="17.3" fill="#580e77"/><rect x="125.6" y="17.3" fill="#891f1a"/><rect x="129.9" y="17.3" fill="#3c0a0a"/><rect x="134.2" y="17.3" fill="#a33679"/><rect x="138.6" y="17.3" fill="#de6a43"/><rect x="142.9" y="17.3" fill="#130303"/><rect x="151.6" y="17.3" fill="#003e48"/><rect x="160.2" y="17.3" fill="#000d05"/><rect x="173.2" y="17.3" fill="#0e2b01"/><rect x="0" y="21.6" fill="#3d3f46"/><rect x="17.3" y="21.6" fill="#271482"/><rect x="21.6" y="21.6" fill="#3f1034"/><rect x="26" y="21.6" fill="#2e0b24"/><rect x="30.3" y="21.6" fill="#220512"/><rect x="34.6" y="21.6" fill="#120303"/><rect x="39" y="21.6" fill="#5e0502"/><rect x="43.3" y="21.6" fill="#180528"/><rect x="47.6" y="21.6" fill="#460b01"/><rect x="52" y="21.6" fill="#0f0101"/><rect x="56.3" y="21.6" fill="#271267"/><rect x="65" y="21.6" fill="#0d0004"/><rect x="69.3" y="21.6" fill="#3b004f"/><rect x="82.3" y="21.6" fill="#570802"/><rect x="90.9" y="21.6" fill="#080032"/><rect x="95.3" y="21.6" fill="#00000e"/><rect x="103.9" y="21.6" fill="#620e07"/><rect x="116.9" y="21.6" fill="#2f160f"/><rect x="121.2" y="21.6" fill="#3b0b08"/><rect x="125.6" y="21.6" fill="#a84794"/><rect x="129.9" y="21.6" fill="#a52922"/><rect x="134.2" y="21.6" fill="#ffdc41"/><rect x="138.6" y="21.6" fill="#3f150c"/><rect x="142.9" y="21.6" fill="#2c0e07"/><rect x="147.2" y="21.6" fill="#241701"/><rect x="155.9" y="21.6" fill="#0c0700"/><rect x="160.2" y="21.6" fill="#030046"/><rect x="164.5" y="21.6" fill="#1f0a65"/><rect x="173.2" y="21.6" fill="#000158"/><rect x="4.3" y="26" fill="#001f51"/><rect x="17.3" y="26" fill="#0c0e03"/><rect x="21.6" y="26" fill="#050510"/><rect x="26" y="26" fill="#034438"/><rect x="30.3" y="26" fill="#4a0400"/><rect x="34.6" y="26" fill="#270a73"/><rect x="43.3" y="26" fill="#01040c"/><rect x="47.6" y="26" fill="#37000d"/><rect x="56.3" y="26" fill="#000064"/><rect x="60.6" y="26" fill="#030436"/><rect x="69.3" y="26" fill="#350a02"/><rect x="73.6" y="26" fill="#290824"/><rect x="77.9" y="26" fill="#000152"/><rect x="82.3" y="26" fill="#30080d"/><rect x="86.6" y="26" fill="#00473b"/><rect x="90.9" y="26" fill="#0e0300"/><rect x="95.3" y="26" fill="#1a053b"/><rect x="99.6" y="26" fill="#004039"/><rect x="103.9" y="26" fill="#510000"/><rect x="112.6" y="26" fill="#105701"/><rect x="116.9" y="26" fill="#2f4949"/><rect x="121.2" y="26" fill="#7f4c16"/><rect x="125.6" y="26" fill="#6c121b"/><rect x="129.9" y="26" fill="#7a1715"/><rect x="134.2" y="26" fill="#941f1e"/><rect x="138.6" y="26" fill="#671315"/><rect x="142.9" y="26" fill="#423334"/><rect x="151.6" y="26" fill="#0e5e2c"/><rect x="155.9" y="26" fill="#0d060d"/><rect x="173.2" y="26" fill="#06000b"/><rect x="0" y="30.3" fill="#480754"/><rect x="4.3" y="30.3" fill="#2f2000"/><rect x="8.7" y="30.3" fill="#6e0800"/><rect x="13" y="30.3" fill="#01090b"/><rect x="17.3" y="30.3" fill="#00004b"/><rect x="21.6" y="30.3" fill="#002525"/><rect x="30.3" y="30.3" fill="#00000a"/><rect x="34.6" y="30.3" fill="#4b2d00"/><rect x="43.3" y="30.3" fill="#000b06"/><rect x="56.3" y="30.3" fill="#000e0b"/><rect x="60.6" y="30.3" fill="#0c3d07"/><rect x="65" y="30.3" fill="#57045b"/><rect x="69.3" y="30.3" fill="#0a0209"/><rect x="73.6" y="30.3" fill="#02060f"/><rect x="77.9" y="30.3" fill="#401e3e"/><rect x="86.6" y="30.3" fill="#0b000d"/><rect x="95.3" y="30.3" fill="#27a327"/><rect x="99.6" y="30.3" fill="#4a044c"/><rect x="108.2" y="30.3" fill="#412c09"/><rect x="112.6" y="30.3" fill="#2c0532"/><rect x="116.9" y="30.3" fill="#261205"/><rect x="121.2" y="30.3" fill="#200606"/><rect x="125.6" y="30.3" fill="#260710"/><rect x="129.9" y="30.3" fill="#5c102d"/><rect x="134.2" y="30.3" fill="#ad932b"/><rect x="138.6" y="30.3" fill="#b95a68"/><rect x="142.9" y="30.3" fill="#1a040a"/><rect x="147.2" y="30.3" fill="#4a004e"/><rect x="155.9" y="30.3" fill="#180539"/><rect x="160.2" y="30.3" fill="#03000c"/><rect x="164.5" y="30.3" fill="#19060a"/><rect x="168.9" y="30.3" fill="#760a03"/><rect x="0" y="34.6" fill="#000b69"/><rect x="8.7" y="34.6" fill="#29000c"/><rect x="17.3" y="34.6" fill="#0b0008"/><rect x="21.6" y="34.6" fill="#002216"/><rect x="26" y="34.6" fill="#020c5a"/><rect x="30.3" y="34.6" fill="#0e0000"/><rect x="39" y="34.6" fill="#560402"/><rect x="43.3" y="34.6" fill="#311b6c"/><rect x="47.6" y="34.6" fill="#02080d"/><rect x="52" y="34.6" fill="#01002d"/><rect x="60.6" y="34.6" fill="#040412"/><rect x="65" y="34.6" fill="#0d1424"/><rect x="69.3" y="34.6" fill="#0a1737"/><rect x="73.6" y="34.6" fill="#160f2c"/><rect x="77.9" y="34.6" fill="#06081d"/><rect x="82.3" y="34.6" fill="#0f050f"/><rect x="86.6" y="34.6" fill="#4d2b57"/><rect x="90.9" y="34.6" fill="#0a0e23"/><rect x="95.3" y="34.6" fill="#1c4410"/><rect x="99.6" y="34.6" fill="#460572"/><rect x="103.9" y="34.6" fill="#550707"/><rect x="108.2" y="34.6" fill="#000e0c"/><rect x="112.6" y="34.6" fill="#0b0100"/><rect x="121.2" y="34.6" fill="#310e13"/><rect x="125.6" y="34.6" fill="#310707"/><rect x="129.9" y="34.6" fill="#266607"/><rect x="134.2" y="34.6" fill="#e1596e"/><rect x="138.6" y="34.6" fill="#47290e"/><rect x="142.9" y="34.6" fill="#2937ff"/><rect x="147.2" y="34.6" fill="#4c0000"/><rect x="151.6" y="34.6" fill="#3b2a00"/><rect x="155.9" y="34.6" fill="#55080c"/><rect x="160.2" y="34.6" fill="#07000a"/><rect x="168.9" y="34.6" fill="#0d0500"/><rect x="0" y="39" fill="#00012f"/><rect x="4.3" y="39" fill="#1b002c"/><rect x="8.7" y="39" fill="#03052e"/><rect x="13" y="39" fill="#0d0009"/><rect x="17.3" y="39" fill="#1a002c"/><rect x="21.6" y="39" fill="#0c0b0c"/><rect x="26" y="39" fill="#080a04"/><rect x="30.3" y="39" fill="#13030c"/><rect x="34.6" y="39" fill="#210d1b"/><rect x="39" y="39" fill="#1f0889"/><rect x="43.3" y="39" fill="#1f661e"/><rect x="47.6" y="39" fill="#070212"/><rect x="52" y="39" fill="#2c052e"/><rect x="56.3" y="39" fill="#110414"/><rect x="60.6" y="39" fill="#1f554e"/><rect x="65" y="39" fill="#091438"/><rect x="69.3" y="39" fill="#9e1374"/><rect x="73.6" y="39" fill="#056817"/><rect x="77.9" y="39" fill="#5c3611"/><rect x="82.3" y="39" fill="#03034d"/><rect x="86.6" y="39" fill="#2d1087"/><rect x="90.9" y="39" fill="#221c00"/><rect x="108.2" y="39" fill="#280b6c"/><rect x="112.6" y="39" fill="#05000c"/><rect x="116.9" y="39" fill="#288622"/><rect x="121.2" y="39" fill="#180265"/><rect x="125.6" y="39" fill="#4c020e"/><rect x="129.9" y="39" fill="#740404"/><rect x="134.2" y="39" fill="#1c040f"/><rect x="142.9" y="39" fill="#372408"/><rect x="147.2" y="39" fill="#09259d"/><rect x="160.2" y="39" fill="#0a0008"/><rect x="164.5" y="39" fill="#3a0038"/><rect x="173.2" y="39" fill="#00000b"/><rect x="4.3" y="43.3" fill="#070d00"/><rect x="8.7" y="43.3" fill="#0b070c"/><rect x="13" y="43.3" fill="#020214"/><rect x="17.3" y="43.3" fill="#0e072a"/><rect x="21.6" y="43.3" fill="#035816"/><rect x="26" y="43.3" fill="#0d0310"/><rect x="30.3" y="43.3" fill="#180e15"/><rect x="34.6" y="43.3" fill="#691421"/><rect x="39" y="43.3" fill="#370441"/><rect x="43.3" y="43.3" fill="#1c071b"/><rect x="47.6" y="43.3" fill="#380d27"/><rect x="52" y="43.3" fill="#2f151e"/><rect x="56.3" y="43.3" fill="#1f0c5f"/><rect x="60.6" y="43.3" fill="#101737"/><rect x="65" y="43.3" fill="#0d0823"/><rect x="69.3" y="43.3" fill="#0e0b3e"/><rect x="73.6" y="43.3" fill="#150928"/><rect x="77.9" y="43.3" fill="#081020"/><rect x="82.3" y="43.3" fill="#4c0929"/><rect x="86.6" y="43.3" fill="#02020b"/><rect x="90.9" y="43.3" fill="#26002c"/><rect x="103.9" y="43.3" fill="#0c0002"/><rect x="112.6" y="43.3" fill="#080365"/><rect x="116.9" y="43.3" fill="#0d0e0b"/><rect x="121.2" y="43.3" fill="#250940"/><rect x="125.6" y="43.3" fill="#0c0c00"/><rect x="129.9" y="43.3" fill="#880e7f"/><rect x="134.2" y="43.3" fill="#0a0000"/><rect x="142.9" y="43.3" fill="#043a0a"/><rect x="147.2" y="43.3" fill="#440000"/><rect x="151.6" y="43.3" fill="#3f0009"/><rect x="155.9" y="43.3" fill="#000d00"/><rect x="164.5" y="43.3" fill="#008c00"/><rect x="173.2" y="43.3" fill="#006600"/><rect x="4.3" y="47.6" fill="#af0047"/><rect x="8.7" y="47.6" fill="#02023f"/><rect x="13" y="47.6" fill="#491637"/><rect x="17.3" y="47.6" fill="#332647"/><rect x="21.6" y="47.6" fill="#111547"/><rect x="26" y="47.6" fill="#bc782d"/><rect x="30.3" y="47.6" fill="#442f0e"/><rect x="34.6" y="47.6" fill="#3f0d39"/><rect x="39" y="47.6" fill="#420f6a"/><rect x="43.3" y="47.6" fill="#32192b"/><rect x="47.6" y="47.6" fill="#401270"/><rect x="52" y="47.6" fill="#6a733d"/><rect x="56.3" y="47.6" fill="#2f5663"/><rect x="60.6" y="47.6" fill="#4f389c"/><rect x="65" y="47.6" fill="#290c40"/><rect x="69.3" y="47.6" fill="#120827"/><rect x="73.6" y="47.6" fill="#0f3f68"/><rect x="77.9" y="47.6" fill="#1a1d5c"/><rect x="82.3" y="47.6" fill="#060c26"/><rect x="86.6" y="47.6" fill="#2d0e75"/><rect x="90.9" y="47.6" fill="#080d07"/><rect x="95.3" y="47.6" fill="#40028f"/><rect x="99.6" y="47.6" fill="#573205"/><rect x="103.9" y="47.6" fill="#0c0503"/><rect x="108.2" y="47.6" fill="#420800"/><rect x="116.9" y="47.6" fill="#140303"/><rect x="121.2" y="47.6" fill="#ba1f1d"/><rect x="125.6" y="47.6" fill="#05010e"/><rect x="129.9" y="47.6" fill="#5b0a8a"/><rect x="134.2" y="47.6" fill="#000c00"/><rect x="138.6" y="47.6" fill="#271732"/><rect x="147.2" y="47.6" fill="#0e0000"/><rect x="151.6" y="47.6" fill="#2c4a72"/><rect x="164.5" y="47.6" fill="#00410c"/><rect x="168.9" y="47.6" fill="#1f3362"/><rect x="0" y="52" fill="#040d44"/><rect x="4.3" y="52" fill="#00000e"/><rect x="8.7" y="52" fill="#03b57d"/><rect x="13" y="52" fill="#3f1677"/><rect x="17.3" y="52" fill="#1a2181"/><rect x="21.6" y="52" fill="#141653"/><rect x="26" y="52" fill="#43157f"/><rect x="30.3" y="52" fill="#23141c"/><rect x="34.6" y="52" fill="#107276"/><rect x="39" y="52" fill="#2d0b28"/><rect x="43.3" y="52" fill="#3a0e47"/><rect x="47.6" y="52" fill="#1f0719"/><rect x="52" y="52" fill="#190511"/><rect x="56.3" y="52" fill="#810b17"/><rect x="60.6" y="52" fill="#0b0722"/><rect x="65" y="52" fill="#080728"/><rect x="69.3" y="52" fill="#0d193e"/><rect x="73.6" y="52" fill="#07131b"/><rect x="77.9" y="52" fill="#070a25"/><rect x="82.3" y="52" fill="#220d46"/><rect x="86.6" y="52" fill="#030c15"/><rect x="95.3" y="52" fill="#032b2d"/><rect x="99.6" y="52" fill="#567640"/><rect x="103.9" y="52" fill="#000063"/><rect x="108.2" y="52" fill="#0e000a"/><rect x="112.6" y="52" fill="#021a1a"/><rect x="129.9" y="52" fill="#00000c"/><rect x="134.2" y="52" fill="#3b3505"/><rect x="138.6" y="52" fill="#2dc03a"/><rect x="147.2" y="52" fill="#0a0c06"/><rect x="155.9" y="52" fill="#000c01"/><rect x="164.5" y="52" fill="#332c0c"/><rect x="168.9" y="52" fill="#090a08"/><rect x="173.2" y="52" fill="#3e0044"/><rect x="4.3" y="56.3" fill="#5c392e"/><rect x="8.7" y="56.3" fill="#510b51"/><rect x="17.3" y="56.3" fill="#052833"/><rect x="21.6" y="56.3" fill="#04030f"/><rect x="26" y="56.3" fill="#0a0106"/><rect x="34.6" y="56.3" fill="#5c3591"/><rect x="39" y="56.3" fill="#0f0c10"/><rect x="43.3" y="56.3" fill="#350e64"/><rect x="47.6" y="56.3" fill="#190a57"/><rect x="52" y="56.3" fill="#140512"/><rect x="56.3" y="56.3" fill="#390c17"/><rect x="60.6" y="56.3" fill="#0b404c"/><rect x="65" y="56.3" fill="#4d3a31"/><rect x="69.3" y="56.3" fill="#0d0d48"/><rect x="73.6" y="56.3" fill="#0e0eea"/><rect x="77.9" y="56.3" fill="#06061b"/><rect x="82.3" y="56.3" fill="#031325"/><rect x="86.6" y="56.3" fill="#261e43"/><rect x="95.3" y="56.3" fill="#00000a"/><rect x="99.6" y="56.3" fill="#000b03"/><rect x="103.9" y="56.3" fill="#0a0001"/><rect x="112.6" y="56.3" fill="#000c07"/><rect x="129.9" y="56.3" fill="#b24172"/><rect x="134.2" y="56.3" fill="#460e51"/><rect x="138.6" y="56.3" fill="#034345"/><rect x="147.2" y="56.3" fill="#0c6000"/><rect x="151.6" y="56.3" fill="#030049"/><rect x="155.9" y="56.3" fill="#000027"/><rect x="168.9" y="56.3" fill="#6d4c64"/><rect x="173.2" y="56.3" fill="#374479"/><rect x="13" y="60.6" fill="#002a2a"/><rect x="26" y="60.6" fill="#070d0c"/><rect x="39" y="60.6" fill="#0d026d"/><rect x="43.3" y="60.6" fill="#dc2d52"/><rect x="47.6" y="60.6" fill="#0c0109"/><rect x="52" y="60.6" fill="#1d0904"/><rect x="56.3" y="60.6" fill="#402d06"/><rect x="60.6" y="60.6" fill="#044961"/><rect x="65" y="60.6" fill="#070b20"/><rect x="69.3" y="60.6" fill="#0d0d3e"/><rect x="73.6" y="60.6" fill="#0a0b38"/><rect x="77.9" y="60.6" fill="#0a0b2c"/><rect x="82.3" y="60.6" fill="#03030e"/><rect x="90.9" y="60.6" fill="#010d00"/><rect x="103.9" y="60.6" fill="#38000c"/><rect x="112.6" y="60.6" fill="#210963"/><rect x="116.9" y="60.6" fill="#000b00"/><rect x="125.6" y="60.6" fill="#01660b"/><rect x="129.9" y="60.6" fill="#20132e"/><rect x="134.2" y="60.6" fill="#1d062c"/><rect x="138.6" y="60.6" fill="#0a0a03"/><rect x="142.9" y="60.6" fill="#000d07"/><rect x="147.2" y="60.6" fill="#0c0446"/><rect x="151.6" y="60.6" fill="#04000b"/><rect x="155.9" y="60.6" fill="#2a003a"/><rect x="168.9" y="60.6" fill="#0b0000"/><rect x="173.2" y="60.6" fill="#1b6142"/><rect x="8.7" y="65" fill="#310000"/><rect x="21.6" y="65" fill="#4a0000"/><rect x="26" y="65" fill="#000a00"/><rect x="30.3" y="65" fill="#020a00"/><rect x="34.6" y="65" fill="#52080b"/><rect x="39" y="65" fill="#1e1871"/><rect x="43.3" y="65" fill="#000459"/><rect x="52" y="65" fill="#0b3a3f"/><rect x="60.6" y="65" fill="#07010e"/><rect x="65" y="65" fill="#070a13"/><rect x="69.3" y="65" fill="#40061a"/><rect x="77.9" y="65" fill="#0c0911"/><rect x="82.3" y="65" fill="#031a2a"/><rect x="90.9" y="65" fill="#24186e"/><rect x="95.3" y="65" fill="#462e00"/><rect x="99.6" y="65" fill="#004c04"/><rect x="108.2" y="65" fill="#009e38"/><rect x="112.6" y="65" fill="#4e2f06"/><rect x="116.9" y="65" fill="#000a0e"/><rect x="125.6" y="65" fill="#2d5102"/><rect x="129.9" y="65" fill="#391708"/><rect x="134.2" y="65" fill="#250b0f"/><rect x="138.6" y="65" fill="#0d0a00"/><rect x="142.9" y="65" fill="#015400"/><rect x="147.2" y="65" fill="#000b00"/><rect x="151.6" y="65" fill="#09000a"/><rect x="155.9" y="65" fill="#0c0428"/><rect x="160.2" y="65" fill="#081a0f"/><rect x="164.5" y="65" fill="#013d38"/><rect x="168.9" y="65" fill="#0c0404"/><rect x="0" y="69.3" fill="#3a002d"/><rect x="4.3" y="69.3" fill="#060e00"/><rect x="8.7" y="69.3" fill="#006c00"/><rect x="21.6" y="69.3" fill="#5e0000"/><rect x="26" y="69.3" fill="#03000e"/><rect x="34.6" y="69.3" fill="#553900"/><rect x="39" y="69.3" fill="#0d0308"/><rect x="52" y="69.3" fill="#000e00"/><rect x="56.3" y="69.3" fill="#000e09"/><rect x="65" y="69.3" fill="#c20002"/><rect x="69.3" y="69.3" fill="#610703"/><rect x="73.6" y="69.3" fill="#780105"/><rect x="77.9" y="69.3" fill="#352624"/><rect x="82.3" y="69.3" fill="#080c05"/><rect x="86.6" y="69.3" fill="#5c272d"/><rect x="95.3" y="69.3" fill="#003105"/><rect x="99.6" y="69.3" fill="#4d000b"/><rect x="108.2" y="69.3" fill="#380400"/><rect x="112.6" y="69.3" fill="#5d3f00"/><rect x="116.9" y="69.3" fill="#010057"/><rect x="125.6" y="69.3" fill="#030d00"/><rect x="129.9" y="69.3" fill="#c54427"/><rect x="134.2" y="69.3" fill="#545f2a"/><rect x="138.6" y="69.3" fill="#483900"/><rect x="142.9" y="69.3" fill="#0c1906"/><rect x="147.2" y="69.3" fill="#79664b"/><rect x="160.2" y="69.3" fill="#200b6c"/><rect x="164.5" y="69.3" fill="#05052f"/><rect x="168.9" y="69.3" fill="#035e05"/><rect x="8.7" y="73.6" fill="#0d0f0f"/><rect x="13" y="73.6" fill="#1d074c"/><rect x="17.3" y="73.6" fill="#0d010d"/><rect x="21.6" y="73.6" fill="#070037"/><rect x="30.3" y="73.6" fill="#000d03"/><rect x="34.6" y="73.6" fill="#0c0000"/><rect x="47.6" y="73.6" fill="#6a3f01"/><rect x="56.3" y="73.6" fill="#0e0204"/><rect x="60.6" y="73.6" fill="#290007"/><rect x="69.3" y="73.6" fill="#5b330e"/><rect x="73.6" y="73.6" fill="#28183d"/><rect x="77.9" y="73.6" fill="#00000a"/><rect x="82.3" y="73.6" fill="#540000"/><rect x="86.6" y="73.6" fill="#0d030b"/><rect x="103.9" y="73.6" fill="#00000a"/><rect x="112.6" y="73.6" fill="#050a00"/><rect x="116.9" y="73.6" fill="#010b00"/><rect x="129.9" y="73.6" fill="#851013"/><rect x="134.2" y="73.6" fill="#2f1412"/><rect x="147.2" y="73.6" fill="#0c0639"/><rect x="155.9" y="73.6" fill="#453505"/><rect x="160.2" y="73.6" fill="#260d00"/><rect x="164.5" y="73.6" fill="#1d3d2e"/><rect x="173.2" y="73.6" fill="#000b04"/><rect x="0" y="77.9" fill="#0d045b"/><rect x="4.3" y="77.9" fill="#150d46"/><rect x="8.7" y="77.9" fill="#092e02"/><rect x="13" y="77.9" fill="#2b0f04"/><rect x="17.3" y="77.9" fill="#0c060b"/><rect x="21.6" y="77.9" fill="#220943"/><rect x="26" y="77.9" fill="#6f4800"/><rect x="30.3" y="77.9" fill="#390e38"/><rect x="34.6" y="77.9" fill="#034338"/><rect x="47.6" y="77.9" fill="#0e4b11"/><rect x="52" y="77.9" fill="#027209"/><rect x="56.3" y="77.9" fill="#17094f"/><rect x="60.6" y="77.9" fill="#08041c"/><rect x="69.3" y="77.9" fill="#365c05"/><rect x="82.3" y="77.9" fill="#09000b"/><rect x="86.6" y="77.9" fill="#550200"/><rect x="90.9" y="77.9" fill="#020b00"/><rect x="95.3" y="77.9" fill="#520270"/><rect x="99.6" y="77.9" fill="#000451"/><rect x="103.9" y="77.9" fill="#000923"/><rect x="108.2" y="77.9" fill="#040721"/><rect x="116.9" y="77.9" fill="#01000c"/><rect x="121.2" y="77.9" fill="#000b00"/><rect x="125.6" y="77.9" fill="#0b0209"/><rect x="129.9" y="77.9" fill="#020b0c"/><rect x="134.2" y="77.9" fill="#00000d"/><rect x="142.9" y="77.9" fill="#730001"/><rect x="147.2" y="77.9" fill="#080d06"/><rect x="151.6" y="77.9" fill="#4f3540"/><rect x="168.9" y="77.9" fill="#0e0708"/><rect x="173.2" y="77.9" fill="#000031"/><rect x="0" y="82.3" fill="#00070e"/><rect x="4.3" y="82.3" fill="#13052b"/><rect x="8.7" y="82.3" fill="#2b221e"/><rect x="13" y="82.3" fill="#723011"/><rect x="17.3" y="82.3" fill="#5f610f"/><rect x="21.6" y="82.3" fill="#582e0b"/><rect x="26" y="82.3" fill="#280a34"/><rect x="30.3" y="82.3" fill="#42004c"/><rect x="39" y="82.3" fill="#564d31"/><rect x="43.3" y="82.3" fill="#0d0911"/><rect x="47.6" y="82.3" fill="#0d131c"/><rect x="52" y="82.3" fill="#0c0c32"/><rect x="56.3" y="82.3" fill="#15172a"/><rect x="60.6" y="82.3" fill="#070724"/><rect x="65" y="82.3" fill="#0d304c"/><rect x="69.3" y="82.3" fill="#4e046e"/><rect x="73.6" y="82.3" fill="#020112"/><rect x="77.9" y="82.3" fill="#270f72"/><rect x="86.6" y="82.3" fill="#0b0000"/><rect x="90.9" y="82.3" fill="#00000b"/><rect x="95.3" y="82.3" fill="#002927"/><rect x="108.2" y="82.3" fill="#770000"/><rect x="112.6" y="82.3" fill="#0d0008"/><rect x="116.9" y="82.3" fill="#1f0a05"/><rect x="125.6" y="82.3" fill="#760b26"/><rect x="129.9" y="82.3" fill="#381d98"/><rect x="138.6" y="82.3" fill="#0c0b00"/><rect x="142.9" y="82.3" fill="#070d00"/><rect x="147.2" y="82.3" fill="#612400"/><rect x="151.6" y="82.3" fill="#033500"/><rect x="155.9" y="82.3" fill="#00003b"/><rect x="160.2" y="82.3" fill="#380000"/><rect x="164.5" y="82.3" fill="#1d020e"/><rect x="173.2" y="82.3" fill="#601d0e"/><rect x="0" y="86.6" fill="#0e062f"/><rect x="4.3" y="86.6" fill="#0c0520"/><rect x="8.7" y="86.6" fill="#471e0f"/><rect x="13" y="86.6" fill="#ffcb39"/><rect x="17.3" y="86.6" fill="#d5772b"/><rect x="21.6" y="86.6" fill="#4d200b"/><rect x="26" y="86.6" fill="#100902"/><rect x="34.6" y="86.6" fill="#3b0001"/><rect x="39" y="86.6" fill="#2e1f0c"/><rect x="47.6" y="86.6" fill="#140822"/><rect x="52" y="86.6" fill="#311da3"/><rect x="56.3" y="86.6" fill="#130d47"/><rect x="60.6" y="86.6" fill="#130925"/><rect x="65" y="86.6" fill="#550e7e"/><rect x="69.3" y="86.6" fill="#140821"/><rect x="73.6" y="86.6" fill="#690d6b"/><rect x="77.9" y="86.6" fill="#18100c"/><rect x="82.3" y="86.6" fill="#0d0000"/><rect x="90.9" y="86.6" fill="#370d00"/><rect x="95.3" y="86.6" fill="#030c00"/><rect x="99.6" y="86.6" fill="#003d04"/><rect x="103.9" y="86.6" fill="#050a00"/><rect x="108.2" y="86.6" fill="#270d5c"/><rect x="112.6" y="86.6" fill="#1c095f"/><rect x="116.9" y="86.6" fill="#003349"/><rect x="121.2" y="86.6" fill="#0c0501"/><rect x="125.6" y="86.6" fill="#573523"/><rect x="129.9" y="86.6" fill="#760000"/><rect x="134.2" y="86.6" fill="#000c5f"/><rect x="142.9" y="86.6" fill="#380700"/><rect x="147.2" y="86.6" fill="#000d00"/><rect x="151.6" y="86.6" fill="#00004a"/><rect x="155.9" y="86.6" fill="#0e000b"/><rect x="160.2" y="86.6" fill="#4e07ff"/><rect x="164.5" y="86.6" fill="#3d003d"/><rect x="173.2" y="86.6" fill="#0d0400"/><rect x="4.3" y="90.9" fill="#8e042e"/><rect x="8.7" y="90.9" fill="#3e0f11"/><rect x="13" y="90.9" fill="#c34e5b"/><rect x="17.3" y="90.9" fill="#ffb137"/><rect x="21.6" y="90.9" fill="#991d0a"/><rect x="39" y="90.9" fill="#08030d"/><rect x="43.3" y="90.9" fill="#0a0a30"/><rect x="47.6" y="90.9" fill="#061317"/><rect x="52" y="90.9" fill="#150a37"/><rect x="56.3" y="90.9" fill="#0c051a"/><rect x="60.6" y="90.9" fill="#0e0513"/><rect x="65" y="90.9" fill="#0b0b33"/><rect x="69.3" y="90.9" fill="#416717"/><rect x="73.6" y="90.9" fill="#020e06"/><rect x="82.3" y="90.9" fill="#0d0705"/><rect x="90.9" y="90.9" fill="#330007"/><rect x="95.3" y="90.9" fill="#000c0b"/><rect x="99.6" y="90.9" fill="#210842"/><rect x="116.9" y="90.9" fill="#0b0b00"/><rect x="129.9" y="90.9" fill="#4d3b41"/><rect x="134.2" y="90.9" fill="#090c0b"/><rect x="138.6" y="90.9" fill="#090031"/><rect x="142.9" y="90.9" fill="#07000d"/><rect x="147.2" y="90.9" fill="#390a3e"/><rect x="151.6" y="90.9" fill="#00000c"/><rect x="160.2" y="90.9" fill="#0a0402"/><rect x="168.9" y="90.9" fill="#0c0000"/><rect x="173.2" y="90.9" fill="#000b00"/><rect x="0" y="95.3" fill="#000a08"/><rect x="4.3" y="95.3" fill="#6b0104"/><rect x="8.7" y="95.3" fill="#140309"/><rect x="13" y="95.3" fill="#683714"/><rect x="17.3" y="95.3" fill="#3e1f16"/><rect x="21.6" y="95.3" fill="#150d0a"/><rect x="26" y="95.3" fill="#730666"/><rect x="30.3" y="95.3" fill="#3749d2"/><rect x="34.6" y="95.3" fill="#4a0f49"/><rect x="39" y="95.3" fill="#04040f"/><rect x="43.3" y="95.3" fill="#2c0a3a"/><rect x="47.6" y="95.3" fill="#120410"/><rect x="52" y="95.3" fill="#0b0c23"/><rect x="56.3" y="95.3" fill="#0c0c21"/><rect x="60.6" y="95.3" fill="#480c6a"/><rect x="65" y="95.3" fill="#0e0f3f"/><rect x="69.3" y="95.3" fill="#0b142b"/><rect x="73.6" y="95.3" fill="#0c010e"/><rect x="77.9" y="95.3" fill="#0b0a02"/><rect x="86.6" y="95.3" fill="#070c0d"/><rect x="90.9" y="95.3" fill="#0c080b"/><rect x="95.3" y="95.3" fill="#21074a"/><rect x="99.6" y="95.3" fill="#00000b"/><rect x="103.9" y="95.3" fill="#0b0001"/><rect x="116.9" y="95.3" fill="#000069"/><rect x="121.2" y="95.3" fill="#0d0701"/><rect x="125.6" y="95.3" fill="#000a0a"/><rect x="134.2" y="95.3" fill="#0d0800"/><rect x="147.2" y="95.3" fill="#000c03"/><rect x="151.6" y="95.3" fill="#0a2f2f"/><rect x="160.2" y="95.3" fill="#0b0600"/><rect x="164.5" y="95.3" fill="#00000c"/><rect x="168.9" y="95.3" fill="#1d0621"/><rect x="173.2" y="95.3" fill="#350002"/><rect x="0" y="99.6" fill="#00080c"/><rect x="13" y="99.6" fill="#820406"/><rect x="17.3" y="99.6" fill="#130603"/><rect x="21.6" y="99.6" fill="#0e1112"/><rect x="26" y="99.6" fill="#060e1a"/><rect x="30.3" y="99.6" fill="#5d1a92"/><rect x="34.6" y="99.6" fill="#400f2e"/><rect x="39" y="99.6" fill="#36182a"/><rect x="43.3" y="99.6" fill="#120c15"/><rect x="47.6" y="99.6" fill="#752c0d"/><rect x="52" y="99.6" fill="#0c1015"/><rect x="56.3" y="99.6" fill="#060921"/><rect x="60.6" y="99.6" fill="#050515"/><rect x="65" y="99.6" fill="#090c17"/><rect x="69.3" y="99.6" fill="#050514"/><rect x="82.3" y="99.6" fill="#00000b"/><rect x="90.9" y="99.6" fill="#03040d"/><rect x="95.3" y="99.6" fill="#00000a"/><rect x="99.6" y="99.6" fill="#000d06"/><rect x="103.9" y="99.6" fill="#090b08"/><rect x="112.6" y="99.6" fill="#0c0e00"/><rect x="116.9" y="99.6" fill="#0b0700"/><rect x="121.2" y="99.6" fill="#01000b"/><rect x="129.9" y="99.6" fill="#00000e"/><rect x="134.2" y="99.6" fill="#0b0006"/><rect x="142.9" y="99.6" fill="#010c04"/><rect x="147.2" y="99.6" fill="#000d03"/><rect x="164.5" y="99.6" fill="#00000e"/><rect x="0" y="103.9" fill="#890001"/><rect x="8.7" y="103.9" fill="#03080f"/><rect x="13" y="103.9" fill="#04020c"/><rect x="17.3" y="103.9" fill="#6d2930"/><rect x="21.6" y="103.9" fill="#0d053d"/><rect x="26" y="103.9" fill="#151c54"/><rect x="30.3" y="103.9" fill="#491a53"/><rect x="34.6" y="103.9" fill="#ff295c"/><rect x="39" y="103.9" fill="#731836"/><rect x="43.3" y="103.9" fill="#160c11"/><rect x="47.6" y="103.9" fill="#5d0b06"/><rect x="52" y="103.9" fill="#0b4a21"/><rect x="56.3" y="103.9" fill="#0e1328"/><rect x="60.6" y="103.9" fill="#061226"/><rect x="65" y="103.9" fill="#01090c"/><rect x="86.6" y="103.9" fill="#030d3a"/><rect x="99.6" y="103.9" fill="#003636"/><rect x="108.2" y="103.9" fill="#011926"/><rect x="112.6" y="103.9" fill="#1c15a4"/><rect x="116.9" y="103.9" fill="#01000c"/><rect x="121.2" y="103.9" fill="#0b0008"/><rect x="134.2" y="103.9" fill="#46050c"/><rect x="151.6" y="103.9" fill="#060438"/><rect x="160.2" y="103.9" fill="#00000b"/><rect x="168.9" y="103.9" fill="#05000c"/><rect x="173.2" y="103.9" fill="#0e0000"/><rect x="0" y="108.2" fill="#50355b"/><rect x="4.3" y="108.2" fill="#0c090d"/><rect x="8.7" y="108.2" fill="#990d53"/><rect x="13" y="108.2" fill="#100410"/><rect x="17.3" y="108.2" fill="#2a0523"/><rect x="21.6" y="108.2" fill="#070410"/><rect x="26" y="108.2" fill="#13174b"/><rect x="30.3" y="108.2" fill="#682372"/><rect x="34.6" y="108.2" fill="#7c69ac"/><rect x="39" y="108.2" fill="#682068"/><rect x="43.3" y="108.2" fill="#2f0d14"/><rect x="47.6" y="108.2" fill="#2d0136"/><rect x="52" y="108.2" fill="#0b0106"/><rect x="56.3" y="108.2" fill="#010149"/><rect x="60.6" y="108.2" fill="#3d040b"/><rect x="65" y="108.2" fill="#093317"/><rect x="69.3" y="108.2" fill="#120a36"/><rect x="73.6" y="108.2" fill="#21230b"/><rect x="77.9" y="108.2" fill="#5d053b"/><rect x="82.3" y="108.2" fill="#000b00"/><rect x="86.6" y="108.2" fill="#040d56"/><rect x="90.9" y="108.2" fill="#06010d"/><rect x="95.3" y="108.2" fill="#4d0958"/><rect x="99.6" y="108.2" fill="#0c040d"/><rect x="112.6" y="108.2" fill="#000b0c"/><rect x="121.2" y="108.2" fill="#000d00"/><rect x="129.9" y="108.2" fill="#000c09"/><rect x="142.9" y="108.2" fill="#000d05"/><rect x="151.6" y="108.2" fill="#050a06"/><rect x="160.2" y="108.2" fill="#397d00"/><rect x="164.5" y="108.2" fill="#0c0505"/><rect x="0" y="112.6" fill="#0b0104"/><rect x="4.3" y="112.6" fill="#0c0f18"/><rect x="8.7" y="112.6" fill="#1d0a2e"/><rect x="13" y="112.6" fill="#0e0449"/><rect x="17.3" y="112.6" fill="#130826"/><rect x="21.6" y="112.6" fill="#1a0d55"/><rect x="26" y="112.6" fill="#141b5f"/><rect x="30.3" y="112.6" fill="#221356"/><rect x="34.6" y="112.6" fill="#372453"/><rect x="39" y="112.6" fill="#5e1620"/><rect x="43.3" y="112.6" fill="#100312"/><rect x="47.6" y="112.6" fill="#000a04"/><rect x="60.6" y="112.6" fill="#69482a"/><rect x="65" y="112.6" fill="#131374"/><rect x="69.3" y="112.6" fill="#161677"/><rect x="73.6" y="112.6" fill="#14114c"/><rect x="77.9" y="112.6" fill="#0a0007"/><rect x="90.9" y="112.6" fill="#0b0003"/><rect x="95.3" y="112.6" fill="#0b0008"/><rect x="103.9" y="112.6" fill="#06050d"/><rect x="116.9" y="112.6" fill="#00060b"/><rect x="125.6" y="112.6" fill="#0e0000"/><rect x="138.6" y="112.6" fill="#2d150b"/><rect x="147.2" y="112.6" fill="#0e0200"/><rect x="151.6" y="112.6" fill="#00414e"/><rect x="155.9" y="112.6" fill="#00000b"/><rect x="160.2" y="112.6" fill="#3d4842"/><rect x="164.5" y="112.6" fill="#7d7d82"/><rect x="173.2" y="112.6" fill="#000c00"/><rect x="0" y="116.9" fill="#090a12"/><rect x="4.3" y="116.9" fill="#1b0a2d"/><rect x="8.7" y="116.9" fill="#080e11"/><rect x="13" y="116.9" fill="#0e4c5a"/><rect x="17.3" y="116.9" fill="#601420"/><rect x="21.6" y="116.9" fill="#100f6c"/><rect x="26" y="116.9" fill="#540d31"/><rect x="30.3" y="116.9" fill="#0a0a2c"/><rect x="34.6" y="116.9" fill="#2d0747"/><rect x="39" y="116.9" fill="#0c151d"/><rect x="43.3" y="116.9" fill="#01353f"/><rect x="47.6" y="116.9" fill="#00000a"/><rect x="52" y="116.9" fill="#0b0001"/><rect x="60.6" y="116.9" fill="#0d0d4c"/><rect x="65" y="116.9" fill="#221679"/><rect x="69.3" y="116.9" fill="#111162"/><rect x="73.6" y="116.9" fill="#161558"/><rect x="77.9" y="116.9" fill="#000d01"/><rect x="90.9" y="116.9" fill="#5f0000"/><rect x="99.6" y="116.9" fill="#083940"/><rect x="108.2" y="116.9" fill="#00000e"/><rect x="121.2" y="116.9" fill="#000b00"/><rect x="125.6" y="116.9" fill="#0e040b"/><rect x="147.2" y="116.9" fill="#032107"/><rect x="160.2" y="116.9" fill="#0c0d10"/><rect x="164.5" y="116.9" fill="#1f1319"/><rect x="173.2" y="116.9" fill="#004000"/><rect x="0" y="121.2" fill="#0a142c"/><rect x="4.3" y="121.2" fill="#100d28"/><rect x="8.7" y="121.2" fill="#140b1c"/><rect x="13" y="121.2" fill="#12061d"/><rect x="17.3" y="121.2" fill="#130818"/><rect x="21.6" y="121.2" fill="#1a0f23"/><rect x="26" y="121.2" fill="#0c0106"/><rect x="34.6" y="121.2" fill="#0e222b"/><rect x="39" y="121.2" fill="#01010f"/><rect x="56.3" y="121.2" fill="#350073"/><rect x="60.6" y="121.2" fill="#091118"/><rect x="65" y="121.2" fill="#5e14c9"/><rect x="69.3" y="121.2" fill="#100b2f"/><rect x="73.6" y="121.2" fill="#111229"/><rect x="77.9" y="121.2" fill="#000b00"/><rect x="99.6" y="121.2" fill="#073100"/><rect x="103.9" y="121.2" fill="#000068"/><rect x="108.2" y="121.2" fill="#000b26"/><rect x="112.6" y="121.2" fill="#0a0600"/><rect x="125.6" y="121.2" fill="#0d0700"/><rect x="134.2" y="121.2" fill="#0a000d"/><rect x="160.2" y="121.2" fill="#00000c"/><rect x="173.2" y="121.2" fill="#00000d"/><rect x="0" y="125.6" fill="#0b0516"/><rect x="4.3" y="125.6" fill="#0b0d1a"/><rect x="8.7" y="125.6" fill="#0d121d"/><rect x="13" y="125.6" fill="#0c0e16"/><rect x="17.3" y="125.6" fill="#140927"/><rect x="21.6" y="125.6" fill="#060f67"/><rect x="26" y="125.6" fill="#1e010b"/><rect x="34.6" y="125.6" fill="#02630c"/><rect x="43.3" y="125.6" fill="#080c00"/><rect x="47.6" y="125.6" fill="#06000e"/><rect x="52" y="125.6" fill="#181004"/><rect x="56.3" y="125.6" fill="#2d002d"/><rect x="60.6" y="125.6" fill="#020a0d"/><rect x="65" y="125.6" fill="#07080c"/><rect x="69.3" y="125.6" fill="#0d0122"/><rect x="77.9" y="125.6" fill="#040f01"/><rect x="82.3" y="125.6" fill="#0e020d"/><rect x="90.9" y="125.6" fill="#0a0509"/><rect x="95.3" y="125.6" fill="#000c05"/><rect x="108.2" y="125.6" fill="#29000d"/><rect x="112.6" y="125.6" fill="#011010"/><rect x="116.9" y="125.6" fill="#35240c"/><rect x="121.2" y="125.6" fill="#0c0d00"/><rect x="134.2" y="125.6" fill="#060b06"/><rect x="138.6" y="125.6" fill="#390706"/><rect x="151.6" y="125.6" fill="#430c32"/><rect x="0" y="129.9" fill="#340309"/><rect x="4.3" y="129.9" fill="#1e1936"/><rect x="8.7" y="129.9" fill="#190c33"/><rect x="13" y="129.9" fill="#160a17"/><rect x="17.3" y="129.9" fill="#130926"/><rect x="21.6" y="129.9" fill="#14030e"/><rect x="30.3" y="129.9" fill="#000d00"/><rect x="39" y="129.9" fill="#000c05"/><rect x="43.3" y="129.9" fill="#0c0000"/><rect x="52" y="129.9" fill="#650000"/><rect x="56.3" y="129.9" fill="#000d04"/><rect x="65" y="129.9" fill="#371f00"/><rect x="69.3" y="129.9" fill="#010d00"/><rect x="73.6" y="129.9" fill="#614759"/><rect x="77.9" y="129.9" fill="#db4e18"/><rect x="82.3" y="129.9" fill="#0b0000"/><rect x="103.9" y="129.9" fill="#050e08"/><rect x="116.9" y="129.9" fill="#000c09"/><rect x="121.2" y="129.9" fill="#423600"/><rect x="129.9" y="129.9" fill="#000a06"/><rect x="138.6" y="129.9" fill="#09000c"/><rect x="142.9" y="129.9" fill="#470004"/><rect x="147.2" y="129.9" fill="#070d00"/><rect x="151.6" y="129.9" fill="#0b0705"/><rect x="164.5" y="129.9" fill="#000069"/><rect x="168.9" y="129.9" fill="#191241"/><rect x="0" y="134.2" fill="#060b0f"/><rect x="4.3" y="134.2" fill="#0a041b"/><rect x="8.7" y="134.2" fill="#111025"/><rect x="13" y="134.2" fill="#12072f"/><rect x="17.3" y="134.2" fill="#120824"/><rect x="21.6" y="134.2" fill="#042532"/><rect x="34.6" y="134.2" fill="#000d00"/><rect x="43.3" y="134.2" fill="#003d0b"/><rect x="52" y="134.2" fill="#00000c"/><rect x="77.9" y="134.2" fill="#632e74"/><rect x="82.3" y="134.2" fill="#0b0004"/><rect x="90.9" y="134.2" fill="#200389"/><rect x="103.9" y="134.2" fill="#0b0e05"/><rect x="108.2" y="134.2" fill="#090050"/><rect x="112.6" y="134.2" fill="#000a00"/><rect x="116.9" y="134.2" fill="#0c0003"/><rect x="121.2" y="134.2" fill="#0c0000"/><rect x="129.9" y="134.2" fill="#00372e"/><rect x="134.2" y="134.2" fill="#6d0046"/><rect x="138.6" y="134.2" fill="#000b0b"/><rect x="142.9" y="134.2" fill="#4a0400"/><rect x="151.6" y="134.2" fill="#270b72"/><rect x="155.9" y="134.2" fill="#08000c"/><rect x="164.5" y="134.2" fill="#2d0d35"/><rect x="173.2" y="134.2" fill="#004946"/><rect x="0" y="138.6" fill="#070d10"/><rect x="4.3" y="138.6" fill="#030e06"/><rect x="8.7" y="138.6" fill="#080f1c"/><rect x="13" y="138.6" fill="#0b0915"/><rect x="17.3" y="138.6" fill="#34083f"/><rect x="21.6" y="138.6" fill="#04010c"/><rect x="26" y="138.6" fill="#1e001b"/><rect x="34.6" y="138.6" fill="#614a0d"/><rect x="39" y="138.6" fill="#0d0700"/><rect x="43.3" y="138.6" fill="#04000c"/><rect x="69.3" y="138.6" fill="#000c00"/><rect x="73.6" y="138.6" fill="#1d0cbd"/><rect x="77.9" y="138.6" fill="#000a01"/><rect x="82.3" y="138.6" fill="#0c0004"/><rect x="86.6" y="138.6" fill="#2b0003"/><rect x="95.3" y="138.6" fill="#071d65"/><rect x="112.6" y="138.6" fill="#2d0003"/><rect x="116.9" y="138.6" fill="#05096c"/><rect x="121.2" y="138.6" fill="#5d0308"/><rect x="125.6" y="138.6" fill="#00000c"/><rect x="129.9" y="138.6" fill="#0d0d0d"/><rect x="134.2" y="138.6" fill="#05060d"/><rect x="138.6" y="138.6" fill="#000073"/><rect x="151.6" y="138.6" fill="#030a00"/><rect x="160.2" y="138.6" fill="#0b0b02"/><rect x="164.5" y="138.6" fill="#380300"/><rect x="168.9" y="138.6" fill="#530100"/><rect x="173.2" y="138.6" fill="#070d00"/><rect x="0" y="142.9" fill="#15133b"/><rect x="4.3" y="142.9" fill="#08000a"/><rect x="8.7" y="142.9" fill="#040f0f"/><rect x="17.3" y="142.9" fill="#0d0007"/><rect x="30.3" y="142.9" fill="#0a0055"/><rect x="43.3" y="142.9" fill="#0a0008"/><rect x="47.6" y="142.9" fill="#0d002c"/><rect x="52" y="142.9" fill="#01040e"/><rect x="56.3" y="142.9" fill="#070c0e"/><rect x="60.6" y="142.9" fill="#04040b"/><rect x="65" y="142.9" fill="#1b1008"/><rect x="69.3" y="142.9" fill="#2d0e00"/><rect x="73.6" y="142.9" fill="#4c1737"/><rect x="77.9" y="142.9" fill="#000066"/><rect x="82.3" y="142.9" fill="#1b0959"/><rect x="86.6" y="142.9" fill="#0a0c0c"/><rect x="108.2" y="142.9" fill="#000c05"/><rect x="116.9" y="142.9" fill="#010b05"/><rect x="125.6" y="142.9" fill="#010b07"/><rect x="129.9" y="142.9" fill="#00040d"/><rect x="134.2" y="142.9" fill="#864e7c"/><rect x="138.6" y="142.9" fill="#00002f"/><rect x="155.9" y="142.9" fill="#000b0d"/><rect x="164.5" y="142.9" fill="#0e0500"/><rect x="168.9" y="142.9" fill="#000d05"/><rect x="0" y="147.2" fill="#370631"/><rect x="4.3" y="147.2" fill="#1c0000"/><rect x="13" y="147.2" fill="#00000b"/><rect x="17.3" y="147.2" fill="#0e000b"/><rect x="21.6" y="147.2" fill="#000227"/><rect x="26" y="147.2" fill="#0d0800"/><rect x="47.6" y="147.2" fill="#1f0441"/><rect x="52" y="147.2" fill="#0b0606"/><rect x="56.3" y="147.2" fill="#2a2600"/><rect x="60.6" y="147.2" fill="#03020b"/><rect x="65" y="147.2" fill="#830f08"/><rect x="73.6" y="147.2" fill="#001116"/><rect x="82.3" y="147.2" fill="#0d0000"/><rect x="86.6" y="147.2" fill="#0d0700"/><rect x="90.9" y="147.2" fill="#07000a"/><rect x="112.6" y="147.2" fill="#710214"/><rect x="116.9" y="147.2" fill="#212b87"/><rect x="121.2" y="147.2" fill="#1a329e"/><rect x="125.6" y="147.2" fill="#0a0b8f"/><rect x="142.9" y="147.2" fill="#160749"/><rect x="147.2" y="147.2" fill="#071616"/><rect x="155.9" y="147.2" fill="#0b003d"/><rect x="164.5" y="147.2" fill="#000067"/><rect x="168.9" y="147.2" fill="#000b08"/><rect x="173.2" y="147.2" fill="#08061a"/><rect x="8.7" y="151.6" fill="#0d0c00"/><rect x="13" y="151.6" fill="#0d0000"/><rect x="17.3" y="151.6" fill="#1e0626"/><rect x="26" y="151.6" fill="#0e000c"/><rect x="34.6" y="151.6" fill="#000d49"/><rect x="43.3" y="151.6" fill="#0c0602"/><rect x="47.6" y="151.6" fill="#0a6b02"/><rect x="60.6" y="151.6" fill="#0b010a"/><rect x="65" y="151.6" fill="#110402"/><rect x="69.3" y="151.6" fill="#2a0a23"/><rect x="77.9" y="151.6" fill="#450e05"/><rect x="82.3" y="151.6" fill="#0a0700"/><rect x="86.6" y="151.6" fill="#090d00"/><rect x="90.9" y="151.6" fill="#0d0104"/><rect x="99.6" y="151.6" fill="#08236f"/><rect x="112.6" y="151.6" fill="#030c0f"/><rect x="116.9" y="151.6" fill="#1f2068"/><rect x="121.2" y="151.6" fill="#343bf9"/><rect x="125.6" y="151.6" fill="#0c3066"/><rect x="134.2" y="151.6" fill="#040935"/><rect x="138.6" y="151.6" fill="#010b00"/><rect x="142.9" y="151.6" fill="#000b00"/><rect x="151.6" y="151.6" fill="#1f0e6f"/><rect x="155.9" y="151.6" fill="#08282a"/><rect x="0" y="155.9" fill="#220727"/><rect x="4.3" y="155.9" fill="#000462"/><rect x="8.7" y="155.9" fill="#060c09"/><rect x="13" y="155.9" fill="#4e0654"/><rect x="17.3" y="155.9" fill="#00030c"/><rect x="30.3" y="155.9" fill="#05000c"/><rect x="34.6" y="155.9" fill="#000d09"/><rect x="52" y="155.9" fill="#09000c"/><rect x="56.3" y="155.9" fill="#804239"/><rect x="60.6" y="155.9" fill="#280a14"/><rect x="65" y="155.9" fill="#2a070e"/><rect x="69.3" y="155.9" fill="#110c0c"/><rect x="73.6" y="155.9" fill="#10464a"/><rect x="86.6" y="155.9" fill="#000c0c"/><rect x="90.9" y="155.9" fill="#45004f"/><rect x="108.2" y="155.9" fill="#0c040e"/><rect x="116.9" y="155.9" fill="#0a0b31"/><rect x="121.2" y="155.9" fill="#070a28"/><rect x="125.6" y="155.9" fill="#040f18"/><rect x="129.9" y="155.9" fill="#000b00"/><rect x="134.2" y="155.9" fill="#4b005f"/><rect x="138.6" y="155.9" fill="#000a0b"/><rect x="142.9" y="155.9" fill="#000b6f"/><rect x="164.5" y="155.9" fill="#240000"/><rect x="168.9" y="155.9" fill="#300000"/><rect x="173.2" y="155.9" fill="#0c0600"/><rect x="8.7" y="160.2" fill="#330d3d"/><rect x="13" y="160.2" fill="#000a03"/><rect x="17.3" y="160.2" fill="#053461"/><rect x="21.6" y="160.2" fill="#547769"/><rect x="26" y="160.2" fill="#0c0000"/><rect x="30.3" y="160.2" fill="#0c3f47"/><rect x="39" y="160.2" fill="#0d000b"/><rect x="52" y="160.2" fill="#023805"/><rect x="56.3" y="160.2" fill="#190c12"/><rect x="60.6" y="160.2" fill="#6d1175"/><rect x="65" y="160.2" fill="#270a14"/><rect x="69.3" y="160.2" fill="#270f13"/><rect x="73.6" y="160.2" fill="#2d361a"/><rect x="77.9" y="160.2" fill="#220f0d"/><rect x="82.3" y="160.2" fill="#0b0000"/><rect x="90.9" y="160.2" fill="#2a190c"/><rect x="103.9" y="160.2" fill="#000c40"/><rect x="116.9" y="160.2" fill="#000060"/><rect x="121.2" y="160.2" fill="#00000b"/><rect x="134.2" y="160.2" fill="#060d00"/><rect x="138.6" y="160.2" fill="#15031f"/><rect x="142.9" y="160.2" fill="#00080a"/><rect x="147.2" y="160.2" fill="#0c0009"/><rect x="155.9" y="160.2" fill="#0d0300"/><rect x="168.9" y="160.2" fill="#000e00"/><rect x="173.2" y="160.2" fill="#000e00"/><rect x="0" y="164.5" fill="#070a00"/><rect x="8.7" y="164.5" fill="#5b0e00"/><rect x="13" y="164.5" fill="#00050a"/><rect x="39" y="164.5" fill="#6a2e4f"/><rect x="43.3" y="164.5" fill="#006637"/><rect x="47.6" y="164.5" fill="#0d040b"/><rect x="52" y="164.5" fill="#00151e"/><rect x="56.3" y="164.5" fill="#0c030a"/><rect x="60.6" y="164.5" fill="#1a130d"/><rect x="65" y="164.5" fill="#140976"/><rect x="69.3" y="164.5" fill="#2e0b1c"/><rect x="73.6" y="164.5" fill="#254f1e"/><rect x="77.9" y="164.5" fill="#170707"/><rect x="86.6" y="164.5" fill="#020037"/><rect x="90.9" y="164.5" fill="#060e00"/><rect x="103.9" y="164.5" fill="#000c2c"/><rect x="116.9" y="164.5" fill="#070c05"/><rect x="121.2" y="164.5" fill="#593c00"/><rect x="134.2" y="164.5" fill="#00000d"/><rect x="138.6" y="164.5" fill="#00090c"/><rect x="142.9" y="164.5" fill="#0c0b66"/><rect x="173.2" y="164.5" fill="#000b0d"/><rect x="4.3" y="168.9" fill="#301c0e"/><rect x="8.7" y="168.9" fill="#050d00"/><rect x="13" y="168.9" fill="#3d0406"/><rect x="21.6" y="168.9" fill="#0b0004"/><rect x="30.3" y="168.9" fill="#040034"/><rect x="34.6" y="168.9" fill="#000027"/><rect x="39" y="168.9" fill="#00005f"/><rect x="47.6" y="168.9" fill="#0a0e0c"/><rect x="52" y="168.9" fill="#037400"/><rect x="65" y="168.9" fill="#130312"/><rect x="69.3" y="168.9" fill="#190f06"/><rect x="73.6" y="168.9" fill="#100204"/><rect x="77.9" y="168.9" fill="#0b0000"/><rect x="112.6" y="168.9" fill="#0d5d07"/><rect x="116.9" y="168.9" fill="#5d000d"/><rect x="125.6" y="168.9" fill="#100738"/><rect x="138.6" y="168.9" fill="#1a0e24"/><rect x="151.6" y="168.9" fill="#5b0000"/><rect x="155.9" y="168.9" fill="#00000d"/><rect x="0" y="173.2" fill="#0d0000"/><rect x="8.7" y="173.2" fill="#200d73"/><rect x="21.6" y="173.2" fill="#0b000c"/><rect x="30.3" y="173.2" fill="#370100"/><rect x="34.6" y="173.2" fill="#000765"/><rect x="39" y="173.2" fill="#3f0b07"/><rect x="43.3" y="173.2" fill="#0d0000"/><rect x="60.6" y="173.2" fill="#84083e"/><rect x="73.6" y="173.2" fill="#3f0500"/><rect x="77.9" y="173.2" fill="#000021"/><rect x="90.9" y="173.2" fill="#062a27"/><rect x="95.3" y="173.2" fill="#000d00"/><rect x="103.9" y="173.2" fill="#080961"/><rect x="121.2" y="173.2" fill="#380b00"/><rect x="134.2" y="173.2" fill="#286983"/><rect x="138.6" y="173.2" fill="#0a0000"/><rect x="142.9" y="173.2" fill="#000e00"/><rect x="160.2" y="173.2" fill="#0a0306"/><rect x="168.9" y="173.2" fill="#2d0709"/><rect x="173.2" y="173.2" fill="#0a081b"/></g></svg><rect x="200.1" y="417.4" width="173.2" height="176.8" fill="#000"/><svg x="200.1" y="417.4" width="173.2" height="176.8" overflow="hidden"><g class="pb2" filter="url(#pbb2)"><rect x="8.7" y="0" fill="#085372"/><rect x="17.3" y="0" fill="#020c04"/><rect x="21.6" y="0" fill="#041d50"/><rect x="26" y="0" fill="#0c0f08"/><rect x="30.3" y="0" fill="#0a4e2e"/><rect x="34.6" y="0" fill="#031806"/><rect x="39" y="0" fill="#0b0a06"/><rect x="43.3" y="0" fill="#7b7c43"/><rect x="47.6" y="0" fill="#59191e"/><rect x="52" y="0" fill="#290b0f"/><rect x="65" y="0" fill="#1c7469"/><rect x="77.9" y="0" fill="#04240b"/><rect x="82.3" y="0" fill="#0d3b2c"/><rect x="86.6" y="0" fill="#03020d"/><rect x="90.9" y="0" fill="#1f0200"/><rect x="95.3" y="0" fill="#040e03"/><rect x="99.6" y="0" fill="#2b0e05"/><rect x="108.2" y="0" fill="#000e03"/><rect x="112.6" y="0" fill="#0b3315"/><rect x="125.6" y="0" fill="#4c155d"/><rect x="129.9" y="0" fill="#190404"/><rect x="134.2" y="0" fill="#09040f"/><rect x="151.6" y="0" fill="#0d000e"/><rect x="155.9" y="0" fill="#00000e"/><rect x="160.2" y="0" fill="#0e0105"/><rect x="0" y="4.3" fill="#0e1003"/><rect x="4.3" y="4.3" fill="#030c07"/><rect x="8.7" y="4.3" fill="#0d1907"/><rect x="13" y="4.3" fill="#0f1d0f"/><rect x="17.3" y="4.3" fill="#0f0c0b"/><rect x="21.6" y="4.3" fill="#071a1a"/><rect x="26" y="4.3" fill="#092a1d"/><rect x="30.3" y="4.3" fill="#0e414c"/><rect x="34.6" y="4.3" fill="#041e4e"/><rect x="39" y="4.3" fill="#28191c"/><rect x="43.3" y="4.3" fill="#4d3a67"/><rect x="47.6" y="4.3" fill="#6e352a"/><rect x="52" y="4.3" fill="#816f41"/><rect x="56.3" y="4.3" fill="#0b4e25"/><rect x="60.6" y="4.3" fill="#03150f"/><rect x="69.3" y="4.3" fill="#000d0d"/><rect x="73.6" y="4.3" fill="#0c0000"/><rect x="82.3" y="4.3" fill="#010b0d"/><rect x="116.9" y="4.3" fill="#166731"/><rect x="121.2" y="4.3" fill="#110508"/><rect x="125.6" y="4.3" fill="#3d1010"/><rect x="129.9" y="4.3" fill="#2d0c11"/><rect x="134.2" y="4.3" fill="#433922"/><rect x="138.6" y="4.3" fill="#181407"/><rect x="155.9" y="4.3" fill="#030824"/><rect x="160.2" y="4.3" fill="#0f071f"/><rect x="164.5" y="4.3" fill="#020a0f"/><rect x="0" y="8.7" fill="#111109"/><rect x="4.3" y="8.7" fill="#0a2514"/><rect x="8.7" y="8.7" fill="#0a2614"/><rect x="13" y="8.7" fill="#134826"/><rect x="17.3" y="8.7" fill="#172922"/><rect x="21.6" y="8.7" fill="#184525"/><rect x="26" y="8.7" fill="#1f5f32"/><rect x="30.3" y="8.7" fill="#a05f34"/><rect x="34.6" y="8.7" fill="#1c6f41"/><rect x="39" y="8.7" fill="#75623d"/><rect x="43.3" y="8.7" fill="#83b05e"/><rect x="47.6" y="8.7" fill="#af433e"/><rect x="52" y="8.7" fill="#425b64"/><rect x="56.3" y="8.7" fill="#4d2f21"/><rect x="60.6" y="8.7" fill="#08290f"/><rect x="65" y="8.7" fill="#0e0704"/><rect x="73.6" y="8.7" fill="#003528"/><rect x="82.3" y="8.7" fill="#00030b"/><rect x="86.6" y="8.7" fill="#093971"/><rect x="90.9" y="8.7" fill="#001369"/><rect x="95.3" y="8.7" fill="#00000a"/><rect x="116.9" y="8.7" fill="#480c0e"/><rect x="121.2" y="8.7" fill="#4e141e"/><rect x="125.6" y="8.7" fill="#922932"/><rect x="129.9" y="8.7" fill="#902d36"/><rect x="134.2" y="8.7" fill="#792f22"/><rect x="138.6" y="8.7" fill="#501414"/><rect x="142.9" y="8.7" fill="#0c0a03"/><rect x="147.2" y="8.7" fill="#04000e"/><rect x="151.6" y="8.7" fill="#0b0517"/><rect x="155.9" y="8.7" fill="#232caa"/><rect x="160.2" y="8.7" fill="#15208d"/><rect x="164.5" y="8.7" fill="#162e9b"/><rect x="168.9" y="8.7" fill="#020310"/><rect x="0" y="13" fill="#082b10"/><rect x="4.3" y="13" fill="#0c8a36"/><rect x="8.7" y="13" fill="#194625"/><rect x="13" y="13" fill="#162a16"/><rect x="17.3" y="13" fill="#3e4422"/><rect x="21.6" y="13" fill="#297e40"/><rect x="26" y="13" fill="#185f30"/><rect x="30.3" y="13" fill="#0b3f54"/><rect x="34.6" y="13" fill="#0a251d"/><rect x="39" y="13" fill="#2f4d2f"/><rect x="43.3" y="13" fill="#857a4d"/><rect x="47.6" y="13" fill="#68c980"/><rect x="52" y="13" fill="#4e4d56"/><rect x="56.3" y="13" fill="#134123"/><rect x="60.6" y="13" fill="#115724"/><rect x="65" y="13" fill="#0b3816"/><rect x="69.3" y="13" fill="#080b06"/><rect x="77.9" y="13" fill="#5a4929"/><rect x="82.3" y="13" fill="#070d00"/><rect x="86.6" y="13" fill="#000a00"/><rect x="90.9" y="13" fill="#0b062c"/><rect x="95.3" y="13" fill="#003629"/><rect x="99.6" y="13" fill="#010c07"/><rect x="103.9" y="13" fill="#0b0106"/><rect x="108.2" y="13" fill="#063f2a"/><rect x="116.9" y="13" fill="#2f6f31"/><rect x="121.2" y="13" fill="#612a1d"/><rect x="125.6" y="13" fill="#bb383f"/><rect x="129.9" y="13" fill="#32152e"/><rect x="134.2" y="13" fill="#872828"/><rect x="138.6" y="13" fill="#652420"/><rect x="142.9" y="13" fill="#1f0e12"/><rect x="147.2" y="13" fill="#0a0e0c"/><rect x="151.6" y="13" fill="#050c31"/><rect x="155.9" y="13" fill="#1b28c5"/><rect x="160.2" y="13" fill="#252dd3"/><rect x="164.5" y="13" fill="#1925b9"/><rect x="168.9" y="13" fill="#030518"/><rect x="0" y="17.3" fill="#1f6e39"/><rect x="4.3" y="17.3" fill="#123017"/><rect x="8.7" y="17.3" fill="#15201d"/><rect x="13" y="17.3" fill="#10351d"/><rect x="17.3" y="17.3" fill="#279c4f"/><rect x="21.6" y="17.3" fill="#133c23"/><rect x="26" y="17.3" fill="#2c8f95"/><rect x="30.3" y="17.3" fill="#0a321e"/><rect x="34.6" y="17.3" fill="#704e2f"/><rect x="39" y="17.3" fill="#0d2f17"/><rect x="43.3" y="17.3" fill="#2c9b47"/><rect x="47.6" y="17.3" fill="#29482b"/><rect x="52" y="17.3" fill="#263f23"/><rect x="56.3" y="17.3" fill="#165b2b"/><rect x="60.6" y="17.3" fill="#2e9742"/><rect x="65" y="17.3" fill="#0c2b17"/><rect x="69.3" y="17.3" fill="#0e1009"/><rect x="77.9" y="17.3" fill="#0d0402"/><rect x="82.3" y="17.3" fill="#030d06"/><rect x="86.6" y="17.3" fill="#0c0c0a"/><rect x="90.9" y="17.3" fill="#004a15"/><rect x="103.9" y="17.3" fill="#573dff"/><rect x="116.9" y="17.3" fill="#325c4c"/><rect x="121.2" y="17.3" fill="#3f1b3b"/><rect x="125.6" y="17.3" fill="#491616"/><rect x="129.9" y="17.3" fill="#942929"/><rect x="134.2" y="17.3" fill="#c6413b"/><rect x="138.6" y="17.3" fill="#8c3533"/><rect x="142.9" y="17.3" fill="#191308"/><rect x="151.6" y="17.3" fill="#0b1056"/><rect x="155.9" y="17.3" fill="#192da1"/><rect x="160.2" y="17.3" fill="#101c7a"/><rect x="164.5" y="17.3" fill="#15689f"/><rect x="168.9" y="17.3" fill="#030516"/><rect x="0" y="21.6" fill="#09211d"/><rect x="4.3" y="21.6" fill="#081f16"/><rect x="8.7" y="21.6" fill="#842e1b"/><rect x="13" y="21.6" fill="#43f676"/><rect x="17.3" y="21.6" fill="#2a8051"/><rect x="21.6" y="21.6" fill="#29e967"/><rect x="26" y="21.6" fill="#279457"/><rect x="30.3" y="21.6" fill="#6c5439"/><rect x="34.6" y="21.6" fill="#1d7040"/><rect x="39" y="21.6" fill="#2ab5cb"/><rect x="43.3" y="21.6" fill="#266141"/><rect x="47.6" y="21.6" fill="#10231a"/><rect x="52" y="21.6" fill="#6e7245"/><rect x="56.3" y="21.6" fill="#092b12"/><rect x="60.6" y="21.6" fill="#1f552c"/><rect x="65" y="21.6" fill="#278344"/><rect x="69.3" y="21.6" fill="#07190d"/><rect x="73.6" y="21.6" fill="#01090c"/><rect x="82.3" y="21.6" fill="#000f06"/><rect x="86.6" y="21.6" fill="#001259"/><rect x="103.9" y="21.6" fill="#0e0e11"/><rect x="108.2" y="21.6" fill="#0b0001"/><rect x="112.6" y="21.6" fill="#041346"/><rect x="116.9" y="21.6" fill="#290e1a"/><rect x="121.2" y="21.6" fill="#902b2b"/><rect x="125.6" y="21.6" fill="#4e215a"/><rect x="129.9" y="21.6" fill="#7f2323"/><rect x="134.2" y="21.6" fill="#942933"/><rect x="138.6" y="21.6" fill="#481318"/><rect x="142.9" y="21.6" fill="#481214"/><rect x="147.2" y="21.6" fill="#100202"/><rect x="151.6" y="21.6" fill="#050824"/><rect x="155.9" y="21.6" fill="#081638"/><rect x="160.2" y="21.6" fill="#1d2bcd"/><rect x="164.5" y="21.6" fill="#161f96"/><rect x="168.9" y="21.6" fill="#090e16"/><rect x="0" y="26" fill="#0c3e29"/><rect x="4.3" y="26" fill="#215a29"/><rect x="8.7" y="26" fill="#0e2a19"/><rect x="13" y="26" fill="#16542d"/><rect x="17.3" y="26" fill="#132614"/><rect x="21.6" y="26" fill="#183d25"/><rect x="26" y="26" fill="#1a6e37"/><rect x="30.3" y="26" fill="#114123"/><rect x="34.6" y="26" fill="#344221"/><rect x="39" y="26" fill="#4b8f5c"/><rect x="43.3" y="26" fill="#1f7641"/><rect x="47.6" y="26" fill="#155d2d"/><rect x="52" y="26" fill="#144c2c"/><rect x="56.3" y="26" fill="#256436"/><rect x="60.6" y="26" fill="#3a552f"/><rect x="65" y="26" fill="#1a4d2d"/><rect x="69.3" y="26" fill="#082a19"/><rect x="73.6" y="26" fill="#1a452a"/><rect x="77.9" y="26" fill="#0c3b5a"/><rect x="82.3" y="26" fill="#0f1816"/><rect x="86.6" y="26" fill="#11200e"/><rect x="90.9" y="26" fill="#9c140f"/><rect x="99.6" y="26" fill="#061d10"/><rect x="103.9" y="26" fill="#4a0002"/><rect x="108.2" y="26" fill="#0e0800"/><rect x="112.6" y="26" fill="#0e0a03"/><rect x="116.9" y="26" fill="#1c0808"/><rect x="121.2" y="26" fill="#531919"/><rect x="125.6" y="26" fill="#5f1d1d"/><rect x="129.9" y="26" fill="#9e222c"/><rect x="134.2" y="26" fill="#8e322b"/><rect x="138.6" y="26" fill="#371016"/><rect x="142.9" y="26" fill="#0e0404"/><rect x="147.2" y="26" fill="#0a0101"/><rect x="155.9" y="26" fill="#0f162b"/><rect x="160.2" y="26" fill="#0f051a"/><rect x="164.5" y="26" fill="#030720"/><rect x="0" y="30.3" fill="#16371b"/><rect x="4.3" y="30.3" fill="#162c16"/><rect x="8.7" y="30.3" fill="#216e3a"/><rect x="13" y="30.3" fill="#1a6335"/><rect x="17.3" y="30.3" fill="#267d41"/><rect x="21.6" y="30.3" fill="#204f27"/><rect x="26" y="30.3" fill="#196937"/><rect x="30.3" y="30.3" fill="#185b34"/><rect x="34.6" y="30.3" fill="#3ec372"/><rect x="39" y="30.3" fill="#249090"/><rect x="43.3" y="30.3" fill="#2ca967"/><rect x="47.6" y="30.3" fill="#267650"/><rect x="52" y="30.3" fill="#30c670"/><rect x="56.3" y="30.3" fill="#2aa666"/><rect x="60.6" y="30.3" fill="#2cae69"/><rect x="65" y="30.3" fill="#226045"/><rect x="69.3" y="30.3" fill="#41e3b1"/><rect x="73.6" y="30.3" fill="#1a683f"/><rect x="77.9" y="30.3" fill="#103a22"/><rect x="82.3" y="30.3" fill="#62784b"/><rect x="86.6" y="30.3" fill="#09664c"/><rect x="90.9" y="30.3" fill="#115037"/><rect x="95.3" y="30.3" fill="#0a2a1a"/><rect x="99.6" y="30.3" fill="#13461f"/><rect x="103.9" y="30.3" fill="#010e3a"/><rect x="108.2" y="30.3" fill="#010e01"/><rect x="112.6" y="30.3" fill="#0f321c"/><rect x="116.9" y="30.3" fill="#2f281c"/><rect x="121.2" y="30.3" fill="#301217"/><rect x="125.6" y="30.3" fill="#4c2219"/><rect x="129.9" y="30.3" fill="#c16052"/><rect x="134.2" y="30.3" fill="#c7392c"/><rect x="138.6" y="30.3" fill="#341710"/><rect x="142.9" y="30.3" fill="#110805"/><rect x="151.6" y="30.3" fill="#0b0802"/><rect x="0" y="34.6" fill="#060f08"/><rect x="4.3" y="34.6" fill="#12231a"/><rect x="8.7" y="34.6" fill="#0a325c"/><rect x="13" y="34.6" fill="#0e4667"/><rect x="17.3" y="34.6" fill="#488140"/><rect x="21.6" y="34.6" fill="#144d29"/><rect x="26" y="34.6" fill="#24884a"/><rect x="30.3" y="34.6" fill="#114225"/><rect x="34.6" y="34.6" fill="#1fbb7c"/><rect x="39" y="34.6" fill="#359857"/><rect x="43.3" y="34.6" fill="#2eb977"/><rect x="47.6" y="34.6" fill="#3ae986"/><rect x="52" y="34.6" fill="#2db06d"/><rect x="56.3" y="34.6" fill="#27bcdd"/><rect x="60.6" y="34.6" fill="#76ba74"/><rect x="65" y="34.6" fill="#279c60"/><rect x="69.3" y="34.6" fill="#48915f"/><rect x="73.6" y="34.6" fill="#2b8150"/><rect x="77.9" y="34.6" fill="#2caea6"/><rect x="82.3" y="34.6" fill="#32d17b"/><rect x="86.6" y="34.6" fill="#22936f"/><rect x="90.9" y="34.6" fill="#1c7499"/><rect x="95.3" y="34.6" fill="#0b361d"/><rect x="99.6" y="34.6" fill="#082414"/><rect x="103.9" y="34.6" fill="#051415"/><rect x="108.2" y="34.6" fill="#5d070b"/><rect x="112.6" y="34.6" fill="#01070d"/><rect x="116.9" y="34.6" fill="#19374e"/><rect x="121.2" y="34.6" fill="#191311"/><rect x="125.6" y="34.6" fill="#561a1f"/><rect x="129.9" y="34.6" fill="#8d8a44"/><rect x="134.2" y="34.6" fill="#5f1b1b"/><rect x="138.6" y="34.6" fill="#1c0808"/><rect x="142.9" y="34.6" fill="#0b0202"/><rect x="155.9" y="34.6" fill="#0c0300"/><rect x="160.2" y="34.6" fill="#0b0d07"/><rect x="0" y="39" fill="#0a090b"/><rect x="4.3" y="39" fill="#073d2e"/><rect x="8.7" y="39" fill="#092217"/><rect x="13" y="39" fill="#071b11"/><rect x="17.3" y="39" fill="#072410"/><rect x="21.6" y="39" fill="#133526"/><rect x="26" y="39" fill="#082813"/><rect x="30.3" y="39" fill="#0c2e1c"/><rect x="34.6" y="39" fill="#123d21"/><rect x="39" y="39" fill="#23aa99"/><rect x="43.3" y="39" fill="#22834d"/><rect x="47.6" y="39" fill="#237e46"/><rect x="52" y="39" fill="#5f5c39"/><rect x="56.3" y="39" fill="#163829"/><rect x="60.6" y="39" fill="#26985d"/><rect x="65" y="39" fill="#175e36"/><rect x="69.3" y="39" fill="#0e2d1e"/><rect x="73.6" y="39" fill="#155442"/><rect x="77.9" y="39" fill="#104533"/><rect x="82.3" y="39" fill="#092717"/><rect x="86.6" y="39" fill="#0b583e"/><rect x="90.9" y="39" fill="#0f3d26"/><rect x="95.3" y="39" fill="#0b311a"/><rect x="99.6" y="39" fill="#021706"/><rect x="108.2" y="39" fill="#0d0201"/><rect x="112.6" y="39" fill="#01000e"/><rect x="121.2" y="39" fill="#0f1040"/><rect x="125.6" y="39" fill="#100b06"/><rect x="129.9" y="39" fill="#270b13"/><rect x="134.2" y="39" fill="#195f43"/><rect x="138.6" y="39" fill="#110f05"/><rect x="151.6" y="39" fill="#000a0c"/><rect x="155.9" y="39" fill="#050b08"/><rect x="168.9" y="39" fill="#00080b"/><rect x="4.3" y="43.3" fill="#061002"/><rect x="8.7" y="43.3" fill="#0c0f0d"/><rect x="13" y="43.3" fill="#08161d"/><rect x="17.3" y="43.3" fill="#3e3f70"/><rect x="21.6" y="43.3" fill="#13244c"/><rect x="26" y="43.3" fill="#0c2630"/><rect x="30.3" y="43.3" fill="#081621"/><rect x="34.6" y="43.3" fill="#07241b"/><rect x="39" y="43.3" fill="#061914"/><rect x="43.3" y="43.3" fill="#072344"/><rect x="47.6" y="43.3" fill="#062317"/><rect x="52" y="43.3" fill="#0c100d"/><rect x="56.3" y="43.3" fill="#081e12"/><rect x="60.6" y="43.3" fill="#118638"/><rect x="65" y="43.3" fill="#072312"/><rect x="69.3" y="43.3" fill="#061e10"/><rect x="73.6" y="43.3" fill="#0b4f2d"/><rect x="77.9" y="43.3" fill="#0e1c11"/><rect x="82.3" y="43.3" fill="#395424"/><rect x="86.6" y="43.3" fill="#031907"/><rect x="90.9" y="43.3" fill="#0f080f"/><rect x="116.9" y="43.3" fill="#000b01"/><rect x="125.6" y="43.3" fill="#16020b"/><rect x="129.9" y="43.3" fill="#0d040e"/><rect x="134.2" y="43.3" fill="#03020c"/><rect x="138.6" y="43.3" fill="#08000b"/><rect x="147.2" y="43.3" fill="#00000d"/><rect x="160.2" y="43.3" fill="#000c00"/><rect x="168.9" y="43.3" fill="#00185c"/><rect x="0" y="47.6" fill="#000c00"/><rect x="4.3" y="47.6" fill="#000c00"/><rect x="8.7" y="47.6" fill="#034241"/><rect x="13" y="47.6" fill="#081228"/><rect x="17.3" y="47.6" fill="#0e2078"/><rect x="21.6" y="47.6" fill="#15295d"/><rect x="26" y="47.6" fill="#0d1839"/><rect x="30.3" y="47.6" fill="#0d2aa0"/><rect x="34.6" y="47.6" fill="#195833"/><rect x="39" y="47.6" fill="#08040d"/><rect x="52" y="47.6" fill="#000e00"/><rect x="65" y="47.6" fill="#000b07"/><rect x="73.6" y="47.6" fill="#00000b"/><rect x="77.9" y="47.6" fill="#4a0000"/><rect x="82.3" y="47.6" fill="#002bd5"/><rect x="90.9" y="47.6" fill="#5e351a"/><rect x="95.3" y="47.6" fill="#000d00"/><rect x="99.6" y="47.6" fill="#001860"/><rect x="103.9" y="47.6" fill="#05090c"/><rect x="108.2" y="47.6" fill="#000a00"/><rect x="112.6" y="47.6" fill="#1a0702"/><rect x="116.9" y="47.6" fill="#655e28"/><rect x="121.2" y="47.6" fill="#02061e"/><rect x="125.6" y="47.6" fill="#08030c"/><rect x="129.9" y="47.6" fill="#16103a"/><rect x="134.2" y="47.6" fill="#4a1752"/><rect x="142.9" y="47.6" fill="#000c00"/><rect x="155.9" y="47.6" fill="#000e08"/><rect x="4.3" y="52" fill="#450800"/><rect x="8.7" y="52" fill="#1b593d"/><rect x="13" y="52" fill="#080f22"/><rect x="17.3" y="52" fill="#1c226a"/><rect x="21.6" y="52" fill="#0f1c46"/><rect x="26" y="52" fill="#121c52"/><rect x="30.3" y="52" fill="#183e7c"/><rect x="34.6" y="52" fill="#03176a"/><rect x="52" y="52" fill="#000d07"/><rect x="56.3" y="52" fill="#000d42"/><rect x="65" y="52" fill="#053234"/><rect x="69.3" y="52" fill="#055421"/><rect x="73.6" y="52" fill="#00115d"/><rect x="77.9" y="52" fill="#290600"/><rect x="82.3" y="52" fill="#001134"/><rect x="95.3" y="52" fill="#050a08"/><rect x="108.2" y="52" fill="#0c1e1a"/><rect x="112.6" y="52" fill="#9d0b16"/><rect x="116.9" y="52" fill="#631414"/><rect x="121.2" y="52" fill="#220610"/><rect x="125.6" y="52" fill="#05141e"/><rect x="129.9" y="52" fill="#101244"/><rect x="134.2" y="52" fill="#14122c"/><rect x="142.9" y="52" fill="#000b04"/><rect x="151.6" y="52" fill="#000a0c"/><rect x="0" y="56.3" fill="#00000d"/><rect x="8.7" y="56.3" fill="#280506"/><rect x="13" y="56.3" fill="#16165e"/><rect x="17.3" y="56.3" fill="#0e1d46"/><rect x="21.6" y="56.3" fill="#0e1c48"/><rect x="26" y="56.3" fill="#4f2a5a"/><rect x="30.3" y="56.3" fill="#080e26"/><rect x="34.6" y="56.3" fill="#014635"/><rect x="39" y="56.3" fill="#0d0800"/><rect x="47.6" y="56.3" fill="#0a0603"/><rect x="52" y="56.3" fill="#08000d"/><rect x="60.6" y="56.3" fill="#580a17"/><rect x="69.3" y="56.3" fill="#0a0000"/><rect x="73.6" y="56.3" fill="#460704"/><rect x="82.3" y="56.3" fill="#0e0708"/><rect x="86.6" y="56.3" fill="#4b0620"/><rect x="90.9" y="56.3" fill="#0b3021"/><rect x="95.3" y="56.3" fill="#510001"/><rect x="103.9" y="56.3" fill="#08030b"/><rect x="108.2" y="56.3" fill="#0b1307"/><rect x="112.6" y="56.3" fill="#086b2b"/><rect x="116.9" y="56.3" fill="#19211f"/><rect x="121.2" y="56.3" fill="#0f2a1e"/><rect x="125.6" y="56.3" fill="#082416"/><rect x="129.9" y="56.3" fill="#111032"/><rect x="142.9" y="56.3" fill="#080b06"/><rect x="151.6" y="56.3" fill="#0e0708"/><rect x="0" y="60.6" fill="#0a0000"/><rect x="4.3" y="60.6" fill="#083610"/><rect x="8.7" y="60.6" fill="#080f35"/><rect x="17.3" y="60.6" fill="#0f0103"/><rect x="21.6" y="60.6" fill="#0c030a"/><rect x="26" y="60.6" fill="#0e0908"/><rect x="30.3" y="60.6" fill="#00133c"/><rect x="43.3" y="60.6" fill="#002220"/><rect x="47.6" y="60.6" fill="#05173f"/><rect x="65" y="60.6" fill="#2f0605"/><rect x="69.3" y="60.6" fill="#005923"/><rect x="73.6" y="60.6" fill="#0c0008"/><rect x="82.3" y="60.6" fill="#00164d"/><rect x="86.6" y="60.6" fill="#000725"/><rect x="90.9" y="60.6" fill="#096c24"/><rect x="95.3" y="60.6" fill="#001451"/><rect x="103.9" y="60.6" fill="#070d09"/><rect x="108.2" y="60.6" fill="#6f7161"/><rect x="112.6" y="60.6" fill="#193429"/><rect x="116.9" y="60.6" fill="#317b62"/><rect x="121.2" y="60.6" fill="#33bdb8"/><rect x="125.6" y="60.6" fill="#154739"/><rect x="129.9" y="60.6" fill="#0b261e"/><rect x="138.6" y="60.6" fill="#050d00"/><rect x="151.6" y="60.6" fill="#0d0004"/><rect x="155.9" y="60.6" fill="#08000b"/><rect x="164.5" y="60.6" fill="#000b08"/><rect x="4.3" y="65" fill="#0b0300"/><rect x="8.7" y="65" fill="#050d0a"/><rect x="26" y="65" fill="#4d0909"/><rect x="30.3" y="65" fill="#1c4b27"/><rect x="39" y="65" fill="#006b47"/><rect x="43.3" y="65" fill="#0a0000"/><rect x="77.9" y="65" fill="#0e0000"/><rect x="86.6" y="65" fill="#020c00"/><rect x="90.9" y="65" fill="#003a30"/><rect x="95.3" y="65" fill="#000e44"/><rect x="99.6" y="65" fill="#021005"/><rect x="103.9" y="65" fill="#08141b"/><rect x="108.2" y="65" fill="#31a486"/><rect x="112.6" y="65" fill="#26dd7d"/><rect x="116.9" y="65" fill="#22a781"/><rect x="121.2" y="65" fill="#13a3e8"/><rect x="125.6" y="65" fill="#2fa57b"/><rect x="129.9" y="65" fill="#163228"/><rect x="134.2" y="65" fill="#090e0b"/><rect x="138.6" y="65" fill="#00000c"/><rect x="142.9" y="65" fill="#520000"/><rect x="147.2" y="65" fill="#061129"/><rect x="151.6" y="65" fill="#000d04"/><rect x="155.9" y="65" fill="#070b0c"/><rect x="160.2" y="65" fill="#000c00"/><rect x="168.9" y="65" fill="#000d00"/><rect x="4.3" y="69.3" fill="#0a040c"/><rect x="8.7" y="69.3" fill="#570100"/><rect x="13" y="69.3" fill="#050c0b"/><rect x="17.3" y="69.3" fill="#000c00"/><rect x="21.6" y="69.3" fill="#000d0d"/><rect x="30.3" y="69.3" fill="#450808"/><rect x="34.6" y="69.3" fill="#0c0e08"/><rect x="47.6" y="69.3" fill="#964b3a"/><rect x="52" y="69.3" fill="#000110"/><rect x="56.3" y="69.3" fill="#03030b"/><rect x="60.6" y="69.3" fill="#231626"/><rect x="65" y="69.3" fill="#145b74"/><rect x="69.3" y="69.3" fill="#041427"/><rect x="73.6" y="69.3" fill="#641d3d"/><rect x="77.9" y="69.3" fill="#200714"/><rect x="82.3" y="69.3" fill="#010e0b"/><rect x="86.6" y="69.3" fill="#031967"/><rect x="90.9" y="69.3" fill="#161454"/><rect x="95.3" y="69.3" fill="#4f1315"/><rect x="99.6" y="69.3" fill="#571110"/><rect x="103.9" y="69.3" fill="#0d181e"/><rect x="108.2" y="69.3" fill="#2e7c5f"/><rect x="112.6" y="69.3" fill="#2f8c6f"/><rect x="116.9" y="69.3" fill="#27876b"/><rect x="121.2" y="69.3" fill="#297c61"/><rect x="125.6" y="69.3" fill="#9fd39b"/><rect x="129.9" y="69.3" fill="#664532"/><rect x="134.2" y="69.3" fill="#021213"/><rect x="147.2" y="69.3" fill="#0b0000"/><rect x="168.9" y="69.3" fill="#00020b"/><rect x="8.7" y="73.6" fill="#0a0700"/><rect x="26" y="73.6" fill="#0d0400"/><rect x="30.3" y="73.6" fill="#090d0c"/><rect x="43.3" y="73.6" fill="#58000d"/><rect x="47.6" y="73.6" fill="#01471a"/><rect x="52" y="73.6" fill="#0e0c3b"/><rect x="56.3" y="73.6" fill="#3479e9"/><rect x="60.6" y="73.6" fill="#6037d8"/><rect x="65" y="73.6" fill="#0f2262"/><rect x="69.3" y="73.6" fill="#1c2ab3"/><rect x="73.6" y="73.6" fill="#2730d4"/><rect x="77.9" y="73.6" fill="#5b66cf"/><rect x="82.3" y="73.6" fill="#061223"/><rect x="86.6" y="73.6" fill="#09041c"/><rect x="90.9" y="73.6" fill="#130406"/><rect x="95.3" y="73.6" fill="#a5263b"/><rect x="99.6" y="73.6" fill="#b54f30"/><rect x="103.9" y="73.6" fill="#0c0706"/><rect x="108.2" y="73.6" fill="#092822"/><rect x="112.6" y="73.6" fill="#1a5a73"/><rect x="116.9" y="73.6" fill="#15503b"/><rect x="121.2" y="73.6" fill="#1c5342"/><rect x="125.6" y="73.6" fill="#a21e1b"/><rect x="129.9" y="73.6" fill="#0b240e"/><rect x="134.2" y="73.6" fill="#501108"/><rect x="151.6" y="73.6" fill="#00000a"/><rect x="160.2" y="73.6" fill="#0e0404"/><rect x="164.5" y="73.6" fill="#00010c"/><rect x="0" y="77.9" fill="#0b0400"/><rect x="8.7" y="77.9" fill="#27080d"/><rect x="21.6" y="77.9" fill="#1b4b1d"/><rect x="30.3" y="77.9" fill="#06000c"/><rect x="39" y="77.9" fill="#0a0309"/><rect x="47.6" y="77.9" fill="#010210"/><rect x="52" y="77.9" fill="#0e155f"/><rect x="56.3" y="77.9" fill="#202fce"/><rect x="60.6" y="77.9" fill="#1b2489"/><rect x="65" y="77.9" fill="#0f3ba0"/><rect x="69.3" y="77.9" fill="#205d90"/><rect x="73.6" y="77.9" fill="#264fff"/><rect x="77.9" y="77.9" fill="#1c248d"/><rect x="82.3" y="77.9" fill="#0f1b7a"/><rect x="86.6" y="77.9" fill="#0a1f9d"/><rect x="90.9" y="77.9" fill="#010112"/><rect x="95.3" y="77.9" fill="#090e00"/><rect x="103.9" y="77.9" fill="#004432"/><rect x="112.6" y="77.9" fill="#001353"/><rect x="116.9" y="77.9" fill="#00142b"/><rect x="125.6" y="77.9" fill="#1b1003"/><rect x="129.9" y="77.9" fill="#005419"/><rect x="134.2" y="77.9" fill="#39000b"/><rect x="142.9" y="77.9" fill="#003f2f"/><rect x="147.2" y="77.9" fill="#00040a"/><rect x="155.9" y="77.9" fill="#0b0200"/><rect x="164.5" y="77.9" fill="#000c00"/><rect x="168.9" y="77.9" fill="#0d0004"/><rect x="0" y="82.3" fill="#0d000c"/><rect x="8.7" y="82.3" fill="#17080c"/><rect x="13" y="82.3" fill="#115e45"/><rect x="17.3" y="82.3" fill="#181003"/><rect x="26" y="82.3" fill="#226035"/><rect x="30.3" y="82.3" fill="#43b662"/><rect x="34.6" y="82.3" fill="#071b13"/><rect x="43.3" y="82.3" fill="#01000d"/><rect x="47.6" y="82.3" fill="#00000e"/><rect x="52" y="82.3" fill="#0b0922"/><rect x="56.3" y="82.3" fill="#061524"/><rect x="60.6" y="82.3" fill="#2454b3"/><rect x="65" y="82.3" fill="#2aa1c8"/><rect x="69.3" y="82.3" fill="#246274"/><rect x="73.6" y="82.3" fill="#2268ff"/><rect x="77.9" y="82.3" fill="#222c7b"/><rect x="82.3" y="82.3" fill="#131630"/><rect x="86.6" y="82.3" fill="#03090d"/><rect x="90.9" y="82.3" fill="#12512c"/><rect x="95.3" y="82.3" fill="#400d0e"/><rect x="99.6" y="82.3" fill="#000a3f"/><rect x="112.6" y="82.3" fill="#39070c"/><rect x="121.2" y="82.3" fill="#000b45"/><rect x="125.6" y="82.3" fill="#42164a"/><rect x="129.9" y="82.3" fill="#0b0d00"/><rect x="142.9" y="82.3" fill="#0c0000"/><rect x="151.6" y="82.3" fill="#000b00"/><rect x="155.9" y="82.3" fill="#241339"/><rect x="164.5" y="82.3" fill="#0b3216"/><rect x="4.3" y="86.6" fill="#0d571b"/><rect x="8.7" y="86.6" fill="#562176"/><rect x="13" y="86.6" fill="#530c0d"/><rect x="17.3" y="86.6" fill="#3f090a"/><rect x="21.6" y="86.6" fill="#63100f"/><rect x="26" y="86.6" fill="#359d4f"/><rect x="30.3" y="86.6" fill="#1e5939"/><rect x="34.6" y="86.6" fill="#0e385c"/><rect x="39" y="86.6" fill="#540700"/><rect x="52" y="86.6" fill="#04060e"/><rect x="56.3" y="86.6" fill="#06160c"/><rect x="60.6" y="86.6" fill="#27c270"/><rect x="65" y="86.6" fill="#37d984"/><rect x="69.3" y="86.6" fill="#6e985d"/><rect x="73.6" y="86.6" fill="#183825"/><rect x="77.9" y="86.6" fill="#287040"/><rect x="82.3" y="86.6" fill="#044967"/><rect x="86.6" y="86.6" fill="#0e0206"/><rect x="95.3" y="86.6" fill="#154220"/><rect x="99.6" y="86.6" fill="#003b2c"/><rect x="103.9" y="86.6" fill="#0d0400"/><rect x="121.2" y="86.6" fill="#0c000a"/><rect x="125.6" y="86.6" fill="#001f09"/><rect x="129.9" y="86.6" fill="#0d5067"/><rect x="134.2" y="86.6" fill="#000b06"/><rect x="151.6" y="86.6" fill="#00000b"/><rect x="160.2" y="86.6" fill="#0e0000"/><rect x="164.5" y="86.6" fill="#0c0000"/><rect x="8.7" y="90.9" fill="#8f1914"/><rect x="13" y="90.9" fill="#ec2020"/><rect x="17.3" y="90.9" fill="#ff2c40"/><rect x="21.6" y="90.9" fill="#601c58"/><rect x="26" y="90.9" fill="#040b3d"/><rect x="30.3" y="90.9" fill="#080512"/><rect x="34.6" y="90.9" fill="#0f0414"/><rect x="39" y="90.9" fill="#0e0103"/><rect x="43.3" y="90.9" fill="#390606"/><rect x="56.3" y="90.9" fill="#0a1914"/><rect x="60.6" y="90.9" fill="#16657b"/><rect x="65" y="90.9" fill="#648451"/><rect x="69.3" y="90.9" fill="#21683f"/><rect x="73.6" y="90.9" fill="#3dbc6c"/><rect x="77.9" y="90.9" fill="#188351"/><rect x="82.3" y="90.9" fill="#112315"/><rect x="90.9" y="90.9" fill="#000d06"/><rect x="95.3" y="90.9" fill="#0e7784"/><rect x="103.9" y="90.9" fill="#091f16"/><rect x="112.6" y="90.9" fill="#230704"/><rect x="125.6" y="90.9" fill="#005516"/><rect x="134.2" y="90.9" fill="#01092b"/><rect x="138.6" y="90.9" fill="#0e000d"/><rect x="147.2" y="90.9" fill="#0b0006"/><rect x="160.2" y="90.9" fill="#0a0c00"/><rect x="164.5" y="90.9" fill="#000d00"/><rect x="4.3" y="95.3" fill="#03531d"/><rect x="8.7" y="95.3" fill="#370707"/><rect x="13" y="95.3" fill="#6c0f15"/><rect x="17.3" y="95.3" fill="#923689"/><rect x="21.6" y="95.3" fill="#2e1d77"/><rect x="26" y="95.3" fill="#1d2592"/><rect x="30.3" y="95.3" fill="#371f44"/><rect x="34.6" y="95.3" fill="#694e5c"/><rect x="39" y="95.3" fill="#360e1b"/><rect x="43.3" y="95.3" fill="#0b0306"/><rect x="56.3" y="95.3" fill="#277a4a"/><rect x="60.6" y="95.3" fill="#154d36"/><rect x="65" y="95.3" fill="#1b532d"/><rect x="69.3" y="95.3" fill="#85b172"/><rect x="73.6" y="95.3" fill="#30a361"/><rect x="77.9" y="95.3" fill="#2f975b"/><rect x="82.3" y="95.3" fill="#121009"/><rect x="86.6" y="95.3" fill="#1e8c42"/><rect x="90.9" y="95.3" fill="#000b0e"/><rect x="95.3" y="95.3" fill="#000c00"/><rect x="108.2" y="95.3" fill="#2d1105"/><rect x="112.6" y="95.3" fill="#0b0200"/><rect x="116.9" y="95.3" fill="#0b0900"/><rect x="125.6" y="95.3" fill="#071031"/><rect x="129.9" y="95.3" fill="#00030d"/><rect x="134.2" y="95.3" fill="#050d07"/><rect x="138.6" y="95.3" fill="#0a0004"/><rect x="147.2" y="95.3" fill="#000d0c"/><rect x="151.6" y="95.3" fill="#07010a"/><rect x="155.9" y="95.3" fill="#0d0005"/><rect x="164.5" y="95.3" fill="#0d0000"/><rect x="168.9" y="95.3" fill="#000a0d"/><rect x="4.3" y="99.6" fill="#001b84"/><rect x="13" y="99.6" fill="#10010e"/><rect x="17.3" y="99.6" fill="#080627"/><rect x="21.6" y="99.6" fill="#5f2c80"/><rect x="26" y="99.6" fill="#160713"/><rect x="30.3" y="99.6" fill="#360e1c"/><rect x="34.6" y="99.6" fill="#ae6674"/><rect x="39" y="99.6" fill="#5c172e"/><rect x="43.3" y="99.6" fill="#16050a"/><rect x="52" y="99.6" fill="#0c0306"/><rect x="56.3" y="99.6" fill="#0f0c13"/><rect x="60.6" y="99.6" fill="#1c4727"/><rect x="65" y="99.6" fill="#137c5d"/><rect x="69.3" y="99.6" fill="#1cb24e"/><rect x="73.6" y="99.6" fill="#2e9862"/><rect x="77.9" y="99.6" fill="#775438"/><rect x="82.3" y="99.6" fill="#d84739"/><rect x="86.6" y="99.6" fill="#0e0101"/><rect x="95.3" y="99.6" fill="#0d3b1a"/><rect x="99.6" y="99.6" fill="#00853f"/><rect x="116.9" y="99.6" fill="#0b1131"/><rect x="121.2" y="99.6" fill="#000e00"/><rect x="125.6" y="99.6" fill="#000e00"/><rect x="129.9" y="99.6" fill="#052b37"/><rect x="138.6" y="99.6" fill="#00000b"/><rect x="142.9" y="99.6" fill="#0a0000"/><rect x="155.9" y="99.6" fill="#000d1b"/><rect x="160.2" y="99.6" fill="#050b04"/><rect x="164.5" y="99.6" fill="#001a46"/><rect x="168.9" y="99.6" fill="#09000a"/><rect x="0" y="103.9" fill="#5b0a00"/><rect x="4.3" y="103.9" fill="#01020d"/><rect x="8.7" y="103.9" fill="#1d6878"/><rect x="21.6" y="103.9" fill="#00000d"/><rect x="26" y="103.9" fill="#822360"/><rect x="30.3" y="103.9" fill="#5c222e"/><rect x="34.6" y="103.9" fill="#641a37"/><rect x="39" y="103.9" fill="#d3304e"/><rect x="43.3" y="103.9" fill="#1b0609"/><rect x="52" y="103.9" fill="#0026a0"/><rect x="60.6" y="103.9" fill="#02372a"/><rect x="69.3" y="103.9" fill="#0d2219"/><rect x="73.6" y="103.9" fill="#4a2516"/><rect x="77.9" y="103.9" fill="#030b06"/><rect x="82.3" y="103.9" fill="#133e19"/><rect x="90.9" y="103.9" fill="#09000b"/><rect x="95.3" y="103.9" fill="#003b16"/><rect x="103.9" y="103.9" fill="#000a0c"/><rect x="116.9" y="103.9" fill="#0a0c41"/><rect x="121.2" y="103.9" fill="#0b0104"/><rect x="125.6" y="103.9" fill="#00145e"/><rect x="129.9" y="103.9" fill="#002111"/><rect x="134.2" y="103.9" fill="#00000b"/><rect x="138.6" y="103.9" fill="#0d0000"/><rect x="147.2" y="103.9" fill="#00051b"/><rect x="164.5" y="103.9" fill="#00070e"/><rect x="4.3" y="108.2" fill="#0a1b15"/><rect x="21.6" y="108.2" fill="#000e08"/><rect x="26" y="108.2" fill="#2a0f19"/><rect x="30.3" y="108.2" fill="#581d38"/><rect x="34.6" y="108.2" fill="#87404d"/><rect x="39" y="108.2" fill="#3f372d"/><rect x="43.3" y="108.2" fill="#2a382c"/><rect x="47.6" y="108.2" fill="#06160a"/><rect x="65" y="108.2" fill="#1f010c"/><rect x="69.3" y="108.2" fill="#010c05"/><rect x="77.9" y="108.2" fill="#11381d"/><rect x="82.3" y="108.2" fill="#0c0000"/><rect x="86.6" y="108.2" fill="#001f13"/><rect x="95.3" y="108.2" fill="#001155"/><rect x="108.2" y="108.2" fill="#060b0b"/><rect x="129.9" y="108.2" fill="#300511"/><rect x="138.6" y="108.2" fill="#09000c"/><rect x="142.9" y="108.2" fill="#0d0005"/><rect x="151.6" y="108.2" fill="#0b0d00"/><rect x="155.9" y="108.2" fill="#00000c"/><rect x="160.2" y="108.2" fill="#01000c"/><rect x="4.3" y="112.6" fill="#0a162b"/><rect x="13" y="112.6" fill="#07020d"/><rect x="21.6" y="112.6" fill="#000c00"/><rect x="26" y="112.6" fill="#090d0b"/><rect x="30.3" y="112.6" fill="#283522"/><rect x="34.6" y="112.6" fill="#336b48"/><rect x="39" y="112.6" fill="#394c34"/><rect x="43.3" y="112.6" fill="#1f351c"/><rect x="47.6" y="112.6" fill="#152912"/><rect x="52" y="112.6" fill="#0e0c06"/><rect x="86.6" y="112.6" fill="#00020e"/><rect x="90.9" y="112.6" fill="#080e04"/><rect x="103.9" y="112.6" fill="#000a0d"/><rect x="112.6" y="112.6" fill="#060b00"/><rect x="116.9" y="112.6" fill="#0d0000"/><rect x="125.6" y="112.6" fill="#0c0006"/><rect x="129.9" y="112.6" fill="#0a0000"/><rect x="134.2" y="112.6" fill="#0b0e00"/><rect x="151.6" y="112.6" fill="#0c0100"/><rect x="155.9" y="112.6" fill="#0c050e"/><rect x="160.2" y="112.6" fill="#231111"/><rect x="164.5" y="112.6" fill="#00010c"/><rect x="0" y="116.9" fill="#023420"/><rect x="4.3" y="116.9" fill="#271b1b"/><rect x="8.7" y="116.9" fill="#0e3c21"/><rect x="13" y="116.9" fill="#0e3021"/><rect x="17.3" y="116.9" fill="#144b2f"/><rect x="21.6" y="116.9" fill="#4b3024"/><rect x="26" y="116.9" fill="#102214"/><rect x="30.3" y="116.9" fill="#195128"/><rect x="34.6" y="116.9" fill="#52bb64"/><rect x="39" y="116.9" fill="#368b4d"/><rect x="43.3" y="116.9" fill="#0e3025"/><rect x="47.6" y="116.9" fill="#2c6b35"/><rect x="52" y="116.9" fill="#101d15"/><rect x="69.3" y="116.9" fill="#0c0508"/><rect x="77.9" y="116.9" fill="#350d03"/><rect x="86.6" y="116.9" fill="#00090c"/><rect x="90.9" y="116.9" fill="#0a0000"/><rect x="95.3" y="116.9" fill="#00010c"/><rect x="99.6" y="116.9" fill="#080a0c"/><rect x="112.6" y="116.9" fill="#0c0002"/><rect x="116.9" y="116.9" fill="#030b00"/><rect x="134.2" y="116.9" fill="#010d05"/><rect x="147.2" y="116.9" fill="#00000b"/><rect x="155.9" y="116.9" fill="#793314"/><rect x="160.2" y="116.9" fill="#5f2810"/><rect x="164.5" y="116.9" fill="#110703"/><rect x="0" y="121.2" fill="#040f0b"/><rect x="4.3" y="121.2" fill="#164d3b"/><rect x="8.7" y="121.2" fill="#19533b"/><rect x="13" y="121.2" fill="#37aa9e"/><rect x="17.3" y="121.2" fill="#44bff0"/><rect x="21.6" y="121.2" fill="#34a17f"/><rect x="26" y="121.2" fill="#164e3f"/><rect x="30.3" y="121.2" fill="#1a5d2e"/><rect x="34.6" y="121.2" fill="#1d6230"/><rect x="39" y="121.2" fill="#42cb6d"/><rect x="43.3" y="121.2" fill="#1e6333"/><rect x="47.6" y="121.2" fill="#2a8c4c"/><rect x="52" y="121.2" fill="#0b1d18"/><rect x="73.6" y="121.2" fill="#010e00"/><rect x="86.6" y="121.2" fill="#0a081e"/><rect x="90.9" y="121.2" fill="#00000d"/><rect x="99.6" y="121.2" fill="#003129"/><rect x="103.9" y="121.2" fill="#001b16"/><rect x="108.2" y="121.2" fill="#0b3e25"/><rect x="121.2" y="121.2" fill="#00000d"/><rect x="125.6" y="121.2" fill="#0e0600"/><rect x="129.9" y="121.2" fill="#0b0b0b"/><rect x="134.2" y="121.2" fill="#0b0000"/><rect x="151.6" y="121.2" fill="#000b00"/><rect x="155.9" y="121.2" fill="#246f28"/><rect x="160.2" y="121.2" fill="#279837"/><rect x="164.5" y="121.2" fill="#082f1b"/><rect x="0" y="125.6" fill="#112616"/><rect x="4.3" y="125.6" fill="#185b37"/><rect x="8.7" y="125.6" fill="#42be86"/><rect x="13" y="125.6" fill="#50e0ff"/><rect x="17.3" y="125.6" fill="#39afbe"/><rect x="21.6" y="125.6" fill="#3ab7b1"/><rect x="26" y="125.6" fill="#22704e"/><rect x="30.3" y="125.6" fill="#1a8b5c"/><rect x="34.6" y="125.6" fill="#0c2d20"/><rect x="39" y="125.6" fill="#185a28"/><rect x="43.3" y="125.6" fill="#143f1f"/><rect x="47.6" y="125.6" fill="#62381b"/><rect x="52" y="125.6" fill="#041807"/><rect x="69.3" y="125.6" fill="#150303"/><rect x="73.6" y="125.6" fill="#741d1f"/><rect x="77.9" y="125.6" fill="#270815"/><rect x="82.3" y="125.6" fill="#152988"/><rect x="86.6" y="125.6" fill="#2132de"/><rect x="90.9" y="125.6" fill="#021013"/><rect x="99.6" y="125.6" fill="#00000b"/><rect x="103.9" y="125.6" fill="#0a0000"/><rect x="108.2" y="125.6" fill="#04000d"/><rect x="129.9" y="125.6" fill="#0d0002"/><rect x="142.9" y="125.6" fill="#00010c"/><rect x="151.6" y="125.6" fill="#010b08"/><rect x="155.9" y="125.6" fill="#105823"/><rect x="160.2" y="125.6" fill="#2fe84f"/><rect x="164.5" y="125.6" fill="#6b561b"/><rect x="168.9" y="125.6" fill="#0d0009"/><rect x="0" y="129.9" fill="#071817"/><rect x="4.3" y="129.9" fill="#1e4530"/><rect x="8.7" y="129.9" fill="#184f33"/><rect x="13" y="129.9" fill="#1e6346"/><rect x="17.3" y="129.9" fill="#328461"/><rect x="21.6" y="129.9" fill="#35845c"/><rect x="26" y="129.9" fill="#151e17"/><rect x="34.6" y="129.9" fill="#051716"/><rect x="39" y="129.9" fill="#0b2613"/><rect x="43.3" y="129.9" fill="#041606"/><rect x="47.6" y="129.9" fill="#0b0903"/><rect x="60.6" y="129.9" fill="#0d030c"/><rect x="69.3" y="129.9" fill="#531515"/><rect x="73.6" y="129.9" fill="#ff3c37"/><rect x="77.9" y="129.9" fill="#9a242d"/><rect x="82.3" y="129.9" fill="#070719"/><rect x="86.6" y="129.9" fill="#18299e"/><rect x="108.2" y="129.9" fill="#0d0000"/><rect x="116.9" y="129.9" fill="#03000c"/><rect x="129.9" y="129.9" fill="#000a00"/><rect x="134.2" y="129.9" fill="#0a0000"/><rect x="138.6" y="129.9" fill="#0a0000"/><rect x="155.9" y="129.9" fill="#12541e"/><rect x="160.2" y="129.9" fill="#1e8933"/><rect x="164.5" y="129.9" fill="#082316"/><rect x="168.9" y="129.9" fill="#070d00"/><rect x="0" y="134.2" fill="#0b0202"/><rect x="4.3" y="134.2" fill="#0e0a07"/><rect x="8.7" y="134.2" fill="#152615"/><rect x="13" y="134.2" fill="#0f3824"/><rect x="17.3" y="134.2" fill="#0f3223"/><rect x="26" y="134.2" fill="#080811"/><rect x="34.6" y="134.2" fill="#0d0900"/><rect x="60.6" y="134.2" fill="#00000c"/><rect x="65" y="134.2" fill="#000d00"/><rect x="69.3" y="134.2" fill="#481213"/><rect x="73.6" y="134.2" fill="#d0343e"/><rect x="77.9" y="134.2" fill="#8a2728"/><rect x="86.6" y="134.2" fill="#090c00"/><rect x="90.9" y="134.2" fill="#150307"/><rect x="95.3" y="134.2" fill="#7a221f"/><rect x="99.6" y="134.2" fill="#321615"/><rect x="103.9" y="134.2" fill="#0f0f05"/><rect x="112.6" y="134.2" fill="#000d05"/><rect x="121.2" y="134.2" fill="#00000d"/><rect x="134.2" y="134.2" fill="#00000c"/><rect x="142.9" y="134.2" fill="#00000e"/><rect x="151.6" y="134.2" fill="#0b000d"/><rect x="168.9" y="134.2" fill="#04000b"/><rect x="0" y="138.6" fill="#000b0a"/><rect x="4.3" y="138.6" fill="#040a00"/><rect x="17.3" y="138.6" fill="#0d000d"/><rect x="26" y="138.6" fill="#020d0d"/><rect x="56.3" y="138.6" fill="#0d050b"/><rect x="69.3" y="138.6" fill="#210a0e"/><rect x="73.6" y="138.6" fill="#61241a"/><rect x="77.9" y="138.6" fill="#0b0303"/><rect x="82.3" y="138.6" fill="#000c00"/><rect x="90.9" y="138.6" fill="#140505"/><rect x="95.3" y="138.6" fill="#3a0f14"/><rect x="99.6" y="138.6" fill="#581f13"/><rect x="112.6" y="138.6" fill="#040a00"/><rect x="116.9" y="138.6" fill="#04040c"/><rect x="129.9" y="138.6" fill="#0e0100"/><rect x="138.6" y="138.6" fill="#00060b"/><rect x="142.9" y="138.6" fill="#0e0000"/><rect x="160.2" y="138.6" fill="#000d07"/><rect x="164.5" y="138.6" fill="#0c0102"/><rect x="0" y="142.9" fill="#000c00"/><rect x="4.3" y="142.9" fill="#000e0c"/><rect x="17.3" y="142.9" fill="#000b00"/><rect x="26" y="142.9" fill="#090a00"/><rect x="56.3" y="142.9" fill="#0c000b"/><rect x="77.9" y="142.9" fill="#010d05"/><rect x="95.3" y="142.9" fill="#0e0106"/><rect x="99.6" y="142.9" fill="#01281e"/><rect x="108.2" y="142.9" fill="#000e00"/><rect x="112.6" y="142.9" fill="#00000c"/><rect x="160.2" y="142.9" fill="#000e00"/><rect x="164.5" y="142.9" fill="#04000d"/><rect x="168.9" y="142.9" fill="#0a4332"/><rect x="0" y="147.2" fill="#00030d"/><rect x="17.3" y="147.2" fill="#090d00"/><rect x="30.3" y="147.2" fill="#012f0e"/><rect x="34.6" y="147.2" fill="#000c3b"/><rect x="47.6" y="147.2" fill="#000b00"/><rect x="65" y="147.2" fill="#000b44"/><rect x="69.3" y="147.2" fill="#0d0000"/><rect x="73.6" y="147.2" fill="#060c07"/><rect x="82.3" y="147.2" fill="#000e00"/><rect x="90.9" y="147.2" fill="#00104e"/><rect x="95.3" y="147.2" fill="#000b00"/><rect x="108.2" y="147.2" fill="#02030c"/><rect x="112.6" y="147.2" fill="#141757"/><rect x="116.9" y="147.2" fill="#1a1d88"/><rect x="121.2" y="147.2" fill="#030415"/><rect x="125.6" y="147.2" fill="#04010d"/><rect x="142.9" y="147.2" fill="#0a0000"/><rect x="147.2" y="147.2" fill="#004030"/><rect x="151.6" y="147.2" fill="#0b0000"/><rect x="0" y="151.6" fill="#00090c"/><rect x="21.6" y="151.6" fill="#000d0a"/><rect x="26" y="151.6" fill="#000d0c"/><rect x="47.6" y="151.6" fill="#112510"/><rect x="56.3" y="151.6" fill="#04020d"/><rect x="69.3" y="151.6" fill="#000b0b"/><rect x="82.3" y="151.6" fill="#000d00"/><rect x="86.6" y="151.6" fill="#06080e"/><rect x="95.3" y="151.6" fill="#00000a"/><rect x="103.9" y="151.6" fill="#050c00"/><rect x="108.2" y="151.6" fill="#0e0524"/><rect x="112.6" y="151.6" fill="#1a1b88"/><rect x="116.9" y="151.6" fill="#0e1d6b"/><rect x="121.2" y="151.6" fill="#05102b"/><rect x="129.9" y="151.6" fill="#00080c"/><rect x="134.2" y="151.6" fill="#00020b"/><rect x="151.6" y="151.6" fill="#00000c"/><rect x="155.9" y="151.6" fill="#090d00"/><rect x="160.2" y="151.6" fill="#00030c"/><rect x="168.9" y="151.6" fill="#05060d"/><rect x="0" y="155.9" fill="#0e0c00"/><rect x="4.3" y="155.9" fill="#004d17"/><rect x="8.7" y="155.9" fill="#084113"/><rect x="26" y="155.9" fill="#01030c"/><rect x="30.3" y="155.9" fill="#050b0c"/><rect x="56.3" y="155.9" fill="#01000e"/><rect x="60.6" y="155.9" fill="#07100b"/><rect x="65" y="155.9" fill="#1e1105"/><rect x="69.3" y="155.9" fill="#0d030e"/><rect x="73.6" y="155.9" fill="#0f0c36"/><rect x="77.9" y="155.9" fill="#03000b"/><rect x="86.6" y="155.9" fill="#0e1a1c"/><rect x="90.9" y="155.9" fill="#101e1e"/><rect x="95.3" y="155.9" fill="#443732"/><rect x="99.6" y="155.9" fill="#0a1a12"/><rect x="108.2" y="155.9" fill="#0e0400"/><rect x="112.6" y="155.9" fill="#0b0b0a"/><rect x="134.2" y="155.9" fill="#090b00"/><rect x="138.6" y="155.9" fill="#1c0000"/><rect x="160.2" y="155.9" fill="#020a00"/><rect x="168.9" y="155.9" fill="#000d00"/><rect x="0" y="160.2" fill="#0d0207"/><rect x="13" y="160.2" fill="#050d00"/><rect x="34.6" y="160.2" fill="#0d0800"/><rect x="39" y="160.2" fill="#0c0007"/><rect x="47.6" y="160.2" fill="#000c00"/><rect x="56.3" y="160.2" fill="#160505"/><rect x="60.6" y="160.2" fill="#38180e"/><rect x="65" y="160.2" fill="#6e1818"/><rect x="69.3" y="160.2" fill="#a22735"/><rect x="73.6" y="160.2" fill="#320c0c"/><rect x="77.9" y="160.2" fill="#06130e"/><rect x="82.3" y="160.2" fill="#163521"/><rect x="86.6" y="160.2" fill="#2a7046"/><rect x="90.9" y="160.2" fill="#36895c"/><rect x="95.3" y="160.2" fill="#46a065"/><rect x="99.6" y="160.2" fill="#3d8b59"/><rect x="103.9" y="160.2" fill="#172616"/><rect x="129.9" y="160.2" fill="#0a5438"/><rect x="142.9" y="160.2" fill="#0c0800"/><rect x="0" y="164.5" fill="#0b0000"/><rect x="4.3" y="164.5" fill="#09061e"/><rect x="13" y="164.5" fill="#0b0500"/><rect x="21.6" y="164.5" fill="#0c0709"/><rect x="26" y="164.5" fill="#060b00"/><rect x="34.6" y="164.5" fill="#004e33"/><rect x="47.6" y="164.5" fill="#0a0d0d"/><rect x="52" y="164.5" fill="#0a3815"/><rect x="56.3" y="164.5" fill="#1f0505"/><rect x="60.6" y="164.5" fill="#2b0a12"/><rect x="65" y="164.5" fill="#54151d"/><rect x="69.3" y="164.5" fill="#782621"/><rect x="73.6" y="164.5" fill="#670e16"/><rect x="77.9" y="164.5" fill="#0e0f0d"/><rect x="82.3" y="164.5" fill="#091618"/><rect x="86.6" y="164.5" fill="#194031"/><rect x="90.9" y="164.5" fill="#245e3b"/><rect x="95.3" y="164.5" fill="#203421"/><rect x="99.6" y="164.5" fill="#1b3519"/><rect x="103.9" y="164.5" fill="#133a69"/><rect x="108.2" y="164.5" fill="#040b13"/><rect x="116.9" y="164.5" fill="#090b00"/><rect x="129.9" y="164.5" fill="#0c0000"/><rect x="142.9" y="164.5" fill="#000c06"/><rect x="164.5" y="164.5" fill="#0c0000"/><rect x="168.9" y="164.5" fill="#320404"/><rect x="0" y="168.9" fill="#02060c"/><rect x="13" y="168.9" fill="#0c0000"/><rect x="17.3" y="168.9" fill="#57000a"/><rect x="34.6" y="168.9" fill="#03030c"/><rect x="60.6" y="168.9" fill="#02000c"/><rect x="65" y="168.9" fill="#0a0303"/><rect x="69.3" y="168.9" fill="#0f0101"/><rect x="73.6" y="168.9" fill="#0c0000"/><rect x="77.9" y="168.9" fill="#071469"/><rect x="82.3" y="168.9" fill="#050c08"/><rect x="86.6" y="168.9" fill="#194237"/><rect x="90.9" y="168.9" fill="#16261b"/><rect x="95.3" y="168.9" fill="#173f2e"/><rect x="99.6" y="168.9" fill="#0f231c"/><rect x="103.9" y="168.9" fill="#100a0d"/><rect x="125.6" y="168.9" fill="#0e0b00"/><rect x="129.9" y="168.9" fill="#000b00"/><rect x="134.2" y="168.9" fill="#0e000e"/><rect x="138.6" y="168.9" fill="#000a07"/><rect x="142.9" y="168.9" fill="#090c05"/><rect x="155.9" y="168.9" fill="#000c03"/><rect x="168.9" y="168.9" fill="#00000c"/><rect x="0" y="173.2" fill="#000b04"/><rect x="13" y="173.2" fill="#0b0b05"/><rect x="17.3" y="173.2" fill="#0c0004"/><rect x="21.6" y="173.2" fill="#09060b"/><rect x="34.6" y="173.2" fill="#000c0a"/><rect x="47.6" y="173.2" fill="#0a0d03"/><rect x="56.3" y="173.2" fill="#081d14"/><rect x="65" y="173.2" fill="#0c0600"/><rect x="73.6" y="173.2" fill="#0b0000"/><rect x="125.6" y="173.2" fill="#000e02"/><rect x="147.2" y="173.2" fill="#0b0600"/></g></svg><rect x="148" y="51.9" width="71" height="4.1" fill="#fff"/><text transform="translate(168.67,72.6) scale(1.012,1)" font-size="13.2" fill="#fff">5 µm</text><rect x="273.1" y="51.9" width="67.79999999999995" height="4.1" fill="#fff"/><text transform="translate(290.36,71.2) scale(1.020,1)" font-size="13.2" fill="#fff">5 µm</text><rect x="23.7" y="587.1" width="42.7" height="4.1" fill="#fff"/><text transform="translate(30.86,579.6) scale(1.016,1)" font-size="13.2" fill="#fff">5 µm</text><rect x="210.4" y="587.2" width="42.599999999999994" height="4.1" fill="#fff"/><text transform="translate(215.16,579.6) scale(1.016,1)" font-size="13.2" fill="#fff">5 µm</text><text transform="translate(154.75,217.1) scale(0.931,1)" font-size="16.2" fill="#ff0000">C</text><text transform="translate(175.40,217.1) scale(0.858,1)" font-size="16.2" fill="#00b050">Ca</text><text transform="translate(206.55,217.1) scale(0.962,1)" font-size="16.2" fill="#0070c0">Fe</text><text transform="translate(266.46,217.1) scale(0.911,1)" font-size="16.2" fill="#ff0000">C</text><text transform="translate(289.10,217.1) scale(1.069,1)" font-size="16.2" fill="#00b050">Al</text><text transform="translate(319.85,217.1) scale(0.922,1)" font-size="16.2" fill="#0070c0">Si</text><text transform="translate(99.38,543.1) scale(0.892,1)" font-size="16.2" fill="#ff0000">C</text><text transform="translate(119.37,543.1) scale(0.903,1)" font-size="16.2" fill="#00b050">Ca</text><text transform="translate(150.93,543.1) scale(0.979,1)" font-size="16.2" fill="#0070c0">Fe</text><text transform="translate(288.45,544.0) scale(0.921,1)" font-size="16.2" fill="#ff0000">C</text><text transform="translate(311.20,544.0) scale(1.107,1)" font-size="16.2" fill="#00b050">Al</text><text transform="translate(341.89,544.0) scale(0.994,1)" font-size="16.2" fill="#0070c0">Si</text><rect x="433.2" y="48.5" width="248.9" height="249.5" fill="#fff"/><line x1="477.6" y1="48.5" x2="477.6" y2="298" stroke="#ebebeb" stroke-width="0.7"/><line x1="555.5" y1="48.5" x2="555.5" y2="298" stroke="#ebebeb" stroke-width="0.7"/><line x1="633.3" y1="48.5" x2="633.3" y2="298" stroke="#ebebeb" stroke-width="0.7"/><line x1="433.2" y1="250.6" x2="682.1" y2="250.6" stroke="#ebebeb" stroke-width="0.7"/><line x1="433.2" y1="169.6" x2="682.1" y2="169.6" stroke="#ebebeb" stroke-width="0.7"/><line x1="433.2" y1="88.8" x2="682.1" y2="88.8" stroke="#ebebeb" stroke-width="0.7"/><line x1="438.7" y1="48.5" x2="438.7" y2="298" stroke="#ebebeb" stroke-width="1.4"/><line x1="516.5" y1="48.5" x2="516.5" y2="298" stroke="#ebebeb" stroke-width="1.4"/><line x1="594.4" y1="48.5" x2="594.4" y2="298" stroke="#ebebeb" stroke-width="1.4"/><line x1="672.2" y1="48.5" x2="672.2" y2="298" stroke="#ebebeb" stroke-width="1.4"/><line x1="433.2" y1="291" x2="682.1" y2="291" stroke="#ebebeb" stroke-width="1.4"/><line x1="433.2" y1="210.1" x2="682.1" y2="210.1" stroke="#ebebeb" stroke-width="1.4"/><line x1="433.2" y1="129.2" x2="682.1" y2="129.2" stroke="#ebebeb" stroke-width="1.4"/><g class="pts pts"><g class="m"><circle cx="573.5" cy="156.6"/><circle cx="561.7" cy="152.6"/><circle cx="473.7" cy="262.5"/><circle cx="448" cy="248.2"/><circle cx="559.8" cy="153.3"/><circle cx="450.7" cy="267.7"/><circle cx="458" cy="276.9"/><circle cx="443.7" cy="278.6"/><circle cx="452.5" cy="241"/><circle cx="524.5" cy="141.8"/><circle cx="449.2" cy="282"/><circle cx="451.5" cy="230.4"/><circle cx="445.4" cy="279.4"/><circle cx="541.2" cy="171.4"/><circle cx="446" cy="284"/><circle cx="555.8" cy="232.1"/><circle cx="455" cy="273.6"/><circle cx="443.3" cy="228.3"/><circle cx="540.8" cy="157.7"/><circle cx="574.8" cy="229.1"/><circle cx="612.2" cy="88.4"/><circle cx="465.5" cy="273.6"/><circle cx="551.6" cy="186"/><circle cx="457" cy="255.5"/><circle cx="442.9" cy="284.4"/><circle cx="579.2" cy="167"/><circle cx="451" cy="242"/><circle cx="467.5" cy="238.1"/><circle cx="452.5" cy="249.8"/><circle cx="466.8" cy="209.2"/><circle cx="474.1" cy="251.8"/><circle cx="490.9" cy="119.7"/><circle cx="461.8" cy="263.2"/><circle cx="586.4" cy="82"/><circle cx="481.5" cy="267.8"/><circle cx="476.6" cy="263.2"/><circle cx="446.9" cy="263.8"/><circle cx="466" cy="213.2"/><circle cx="463.6" cy="239.6"/><circle cx="532.6" cy="209.8"/></g><g class="m"><circle cx="452.4" cy="281.3"/><circle cx="446.7" cy="252.8"/><circle cx="489.6" cy="169.5"/><circle cx="443.9" cy="266.3"/><circle cx="537" cy="126.8"/><circle cx="452.9" cy="244.2"/><circle cx="483.5" cy="232.4"/><circle cx="451.6" cy="105.9"/><circle cx="459.5" cy="276.5"/><circle cx="486.1" cy="188.5"/><circle cx="447.6" cy="284.2"/><circle cx="537" cy="222.7"/><circle cx="445.3" cy="276.5"/><circle cx="553.8" cy="161.3"/><circle cx="477.8" cy="216.3"/><circle cx="452.9" cy="278.6"/><circle cx="452.1" cy="252.5"/><circle cx="553" cy="140"/><circle cx="444.1" cy="286.6"/><circle cx="582.6" cy="136.4"/><circle cx="515.4" cy="150.9"/><circle cx="462.3" cy="214.9"/><circle cx="445.1" cy="218.2"/><circle cx="571" cy="183.2"/><circle cx="452.2" cy="262"/><circle cx="491.8" cy="239.3"/><circle cx="446.8" cy="273"/><circle cx="447.6" cy="246.9"/><circle cx="531.7" cy="171.8"/><circle cx="546.5" cy="164.7"/><circle cx="542.1" cy="123.5"/><circle cx="507" cy="152"/><circle cx="453.7" cy="264.1"/><circle cx="451" cy="275.5"/><circle cx="505.1" cy="208.8"/><circle cx="613.7" cy="113.5"/><circle cx="451.6" cy="188.9"/><circle cx="443.7" cy="284.9"/><circle cx="527.9" cy="159"/><circle cx="442.5" cy="284.1"/></g><g class="m"><circle cx="452" cy="271.7"/><circle cx="444.2" cy="277.2"/><circle cx="459" cy="274.9"/><circle cx="478.1" cy="253.4"/><circle cx="586.4" cy="165.7"/><circle cx="568.6" cy="162.3"/><circle cx="460.1" cy="253.3"/><circle cx="479.7" cy="249.4"/><circle cx="483.1" cy="254.9"/><circle cx="446.6" cy="262.6"/><circle cx="485" cy="215.2"/><circle cx="516.9" cy="125.8"/><circle cx="461.1" cy="231.8"/><circle cx="462.7" cy="260.6"/><circle cx="456.7" cy="239.7"/><circle cx="451" cy="268.4"/><circle cx="484.9" cy="269.4"/><circle cx="443.9" cy="276.8"/><circle cx="446" cy="260.5"/><circle cx="549.2" cy="179.4"/><circle cx="451.1" cy="270.6"/><circle cx="443.5" cy="234.8"/><circle cx="443.5" cy="262.5"/><circle cx="458" cy="258.9"/><circle cx="448.9" cy="270.3"/><circle cx="472.4" cy="252.8"/><circle cx="467.9" cy="257"/><circle cx="464.9" cy="269.7"/><circle cx="445.2" cy="279.1"/><circle cx="451.4" cy="257.6"/><circle cx="471.9" cy="247.6"/><circle cx="446.6" cy="256.1"/><circle cx="632.7" cy="62.8"/><circle cx="498.5" cy="187"/><circle cx="457.8" cy="242.2"/><circle cx="558.3" cy="146.3"/><circle cx="447.5" cy="269.9"/><circle cx="443.4" cy="279.5"/><circle cx="550.7" cy="168.5"/><circle cx="453.5" cy="275.9"/></g><g class="m"><circle cx="446.4" cy="264.1"/><circle cx="526.4" cy="135.3"/><circle cx="459.1" cy="238.6"/><circle cx="588.3" cy="159.2"/><circle cx="453.6" cy="245.3"/><circle cx="463" cy="252.8"/><circle cx="554.5" cy="162.8"/><circle cx="526" cy="187.9"/><circle cx="551.6" cy="228.7"/><circle cx="444" cy="279.1"/><circle cx="474.9" cy="222"/><circle cx="443.3" cy="284.5"/><circle cx="463.7" cy="214.4"/><circle cx="445" cy="268.5"/><circle cx="443.2" cy="280.6"/><circle cx="449.6" cy="269.8"/><circle cx="486.5" cy="217.4"/><circle cx="505.1" cy="161.9"/><circle cx="445.2" cy="268.5"/><circle cx="444.9" cy="287.5"/><circle cx="446.6" cy="275.8"/><circle cx="476.1" cy="261.2"/><circle cx="457.9" cy="266.9"/><circle cx="446.5" cy="264.5"/><circle cx="444.5" cy="283.1"/><circle cx="463.1" cy="267.7"/><circle cx="451.8" cy="275.1"/><circle cx="444.8" cy="252.7"/><circle cx="500.8" cy="246.5"/><circle cx="448.6" cy="249.9"/><circle cx="451.6" cy="186.4"/><circle cx="463" cy="225.8"/><circle cx="455.9" cy="243.8"/><circle cx="446.9" cy="278.9"/><circle cx="464" cy="265.8"/><circle cx="568.2" cy="111.6"/><circle cx="552" cy="166.6"/><circle cx="472.8" cy="272.3"/><circle cx="453.8" cy="256.7"/><circle cx="474.4" cy="264.2"/></g><g class="m"><circle cx="585.6" cy="104.9"/><circle cx="457.9" cy="275.9"/><circle cx="458.5" cy="281.7"/><circle cx="448.7" cy="258.7"/><circle cx="452" cy="262.9"/><circle cx="489.1" cy="253.9"/><circle cx="442.7" cy="255.7"/><circle cx="449.4" cy="271.5"/><circle cx="581.8" cy="124.9"/><circle cx="516.5" cy="175.6"/><circle cx="446.3" cy="129"/><circle cx="485.9" cy="214.5"/><circle cx="460" cy="217.1"/><circle cx="586.4" cy="224.6"/><circle cx="540.2" cy="135.3"/><circle cx="444.3" cy="265.9"/><circle cx="442.8" cy="275.4"/><circle cx="457.2" cy="263.6"/><circle cx="443.6" cy="269"/><circle cx="447.9" cy="272.6"/><circle cx="587.5" cy="154.7"/><circle cx="499.8" cy="163"/><circle cx="465.3" cy="261"/><circle cx="493.3" cy="209.3"/><circle cx="459.4" cy="244.5"/><circle cx="450.6" cy="264"/><circle cx="451.2" cy="244.4"/><circle cx="445.3" cy="284.2"/><circle cx="472.9" cy="253.9"/><circle cx="452.1" cy="217.1"/><circle cx="455.6" cy="244.8"/><circle cx="462.4" cy="216.1"/><circle cx="458.3" cy="246.1"/><circle cx="548.8" cy="165.7"/><circle cx="448.5" cy="268.5"/><circle cx="553" cy="192.7"/><circle cx="469.1" cy="114.2"/><circle cx="627.6" cy="157.5"/><circle cx="453.8" cy="278.2"/><circle cx="458.4" cy="258.2"/></g><g class="m"><circle cx="564.8" cy="102.3"/><circle cx="575.4" cy="111.6"/><circle cx="451.8" cy="241.2"/><circle cx="446.6" cy="257.7"/><circle cx="581.1" cy="100.4"/><circle cx="452" cy="251.4"/><circle cx="446.8" cy="282.3"/><circle cx="449.2" cy="267.6"/><circle cx="491.1" cy="167.2"/><circle cx="476.6" cy="214.5"/><circle cx="551" cy="138.1"/><circle cx="443.6" cy="254.2"/><circle cx="472.6" cy="264.5"/><circle cx="483.8" cy="253.9"/><circle cx="551.8" cy="124.5"/><circle cx="443.5" cy="239.8"/><circle cx="547.6" cy="161.3"/><circle cx="447.7" cy="251.9"/><circle cx="448.2" cy="259.8"/><circle cx="466.2" cy="175.6"/><circle cx="557.3" cy="239.2"/><circle cx="447.5" cy="274.3"/><circle cx="475.1" cy="248.1"/><circle cx="458" cy="261.8"/><circle cx="451.1" cy="282.6"/><circle cx="580.7" cy="168.5"/><circle cx="444.6" cy="273.2"/><circle cx="447.8" cy="279.8"/><circle cx="542.1" cy="194.6"/><circle cx="484.9" cy="234.7"/><circle cx="454.9" cy="274.1"/><circle cx="450.8" cy="264.6"/><circle cx="459.9" cy="258.9"/><circle cx="454" cy="225.7"/><circle cx="489" cy="197.4"/><circle cx="453.9" cy="275.7"/><circle cx="461.1" cy="262.1"/><circle cx="442.7" cy="283.6"/><circle cx="448.3" cy="275"/><circle cx="453" cy="243.3"/></g><g class="m"><circle cx="447.8" cy="273.6"/><circle cx="489.9" cy="193.1"/><circle cx="443.4" cy="281"/><circle cx="458.2" cy="275.4"/><circle cx="447.4" cy="268"/><circle cx="469.8" cy="266.1"/><circle cx="471.7" cy="228.4"/><circle cx="510.8" cy="185.1"/><circle cx="458.4" cy="279.6"/><circle cx="449.2" cy="228.6"/><circle cx="455.5" cy="277.6"/><circle cx="592.9" cy="178.4"/><circle cx="645.6" cy="92.2"/><circle cx="444.5" cy="284.7"/><circle cx="497.9" cy="252.4"/><circle cx="461.5" cy="161.9"/><circle cx="468.1" cy="256.9"/><circle cx="458.8" cy="227.1"/><circle cx="542.7" cy="147.1"/><circle cx="448.8" cy="247.1"/><circle cx="448" cy="275.6"/><circle cx="445.5" cy="240.7"/><circle cx="477.2" cy="209.8"/><circle cx="468.6" cy="265.8"/><circle cx="453.8" cy="259.9"/><circle cx="442.5" cy="280.6"/><circle cx="465.6" cy="266.7"/><circle cx="460.3" cy="252.3"/><circle cx="447.2" cy="274.7"/><circle cx="466.4" cy="175.5"/><circle cx="459.3" cy="256.2"/><circle cx="446" cy="277.1"/><circle cx="454" cy="245.9"/><circle cx="533.6" cy="134.5"/><circle cx="449.8" cy="246.7"/><circle cx="523.7" cy="180.3"/><circle cx="497.7" cy="235.8"/><circle cx="620" cy="127"/><circle cx="560" cy="121.6"/><circle cx="526" cy="170"/></g><g class="m"><circle cx="557.3" cy="140"/><circle cx="481" cy="218.4"/><circle cx="570.8" cy="177.8"/><circle cx="450.3" cy="252.2"/><circle cx="552.6" cy="192.7"/><circle cx="553.9" cy="206.9"/><circle cx="457.7" cy="246.6"/><circle cx="585.6" cy="60"/><circle cx="450.5" cy="282.1"/><circle cx="493.7" cy="251.9"/><circle cx="545" cy="200.3"/><circle cx="450" cy="272.3"/><circle cx="450.4" cy="247.8"/><circle cx="481.3" cy="232.2"/><circle cx="450.5" cy="231.8"/><circle cx="442.5" cy="279.9"/><circle cx="446.4" cy="252.1"/><circle cx="449.7" cy="267.8"/><circle cx="470.4" cy="268"/><circle cx="461" cy="282.8"/><circle cx="511.8" cy="198.4"/><circle cx="443.5" cy="275.4"/><circle cx="454.6" cy="283.4"/><circle cx="444.9" cy="279.6"/><circle cx="453.1" cy="266"/><circle cx="590" cy="176.5"/><circle cx="459.3" cy="243.5"/><circle cx="443.7" cy="285.9"/><circle cx="452.8" cy="267.3"/><circle cx="461.5" cy="229.6"/><circle cx="450.3" cy="273.9"/><circle cx="600.1" cy="80.3"/><circle cx="450.4" cy="270.2"/><circle cx="478" cy="237.8"/><circle cx="443.3" cy="278.1"/><circle cx="459.9" cy="236.3"/><circle cx="461.5" cy="272.1"/><circle cx="599.1" cy="73.8"/><circle cx="604.2" cy="130.6"/><circle cx="443" cy="260.9"/></g><g class="m"><circle cx="442.5" cy="284.9"/><circle cx="457.5" cy="266.4"/><circle cx="448.4" cy="267.6"/><circle cx="456.1" cy="260.6"/><circle cx="573.5" cy="93"/><circle cx="478" cy="235.8"/><circle cx="532.4" cy="163.8"/><circle cx="591" cy="153.7"/><circle cx="540.2" cy="130"/><circle cx="516.5" cy="161.9"/><circle cx="545" cy="230.6"/><circle cx="442.9" cy="267.6"/><circle cx="446.5" cy="285"/><circle cx="444.7" cy="226.6"/><circle cx="638.4" cy="130.9"/><circle cx="462.3" cy="235.7"/><circle cx="472.7" cy="251.5"/><circle cx="456.9" cy="256.4"/><circle cx="447.6" cy="282.9"/><circle cx="480.3" cy="271.8"/><circle cx="442.9" cy="270.7"/><circle cx="456.8" cy="275.5"/><circle cx="457.9" cy="271.1"/><circle cx="530.7" cy="204.1"/><circle cx="471.2" cy="243.7"/><circle cx="465.8" cy="252.3"/><circle cx="442.8" cy="284.5"/><circle cx="445.8" cy="262.7"/><circle cx="468.8" cy="259.6"/><circle cx="559.8" cy="154.3"/><circle cx="460.5" cy="278.3"/><circle cx="534" cy="119.7"/><circle cx="483.7" cy="227.4"/><circle cx="519.4" cy="201.2"/><circle cx="468.6" cy="260.2"/><circle cx="486.9" cy="213.2"/><circle cx="565.9" cy="184.1"/><circle cx="586.4" cy="135.3"/><circle cx="470.9" cy="239.2"/><circle cx="454" cy="267.8"/></g><g class="m"><circle cx="444.4" cy="286.1"/><circle cx="491.8" cy="208.7"/><circle cx="458.3" cy="258"/><circle cx="580.5" cy="168.9"/><circle cx="443.6" cy="272.5"/><circle cx="475" cy="272.3"/><circle cx="545.9" cy="206.9"/><circle cx="491" cy="235.3"/><circle cx="591" cy="81.2"/><circle cx="454" cy="236.2"/><circle cx="467.5" cy="272.6"/><circle cx="454.7" cy="259.8"/><circle cx="443.6" cy="279.2"/><circle cx="463.4" cy="154.7"/><circle cx="452.5" cy="130"/><circle cx="464.8" cy="260"/><circle cx="442.8" cy="277.2"/><circle cx="454.2" cy="217.9"/><circle cx="453.1" cy="252.9"/><circle cx="590.4" cy="176.5"/><circle cx="553.5" cy="207.9"/><circle cx="468.8" cy="244.1"/><circle cx="641.8" cy="127.1"/><circle cx="456.9" cy="248.5"/><circle cx="450.9" cy="277.7"/><circle cx="454.5" cy="270.5"/><circle cx="517.5" cy="172.3"/><circle cx="443.4" cy="282.6"/><circle cx="520.3" cy="204.1"/><circle cx="516.9" cy="167.6"/><circle cx="443.3" cy="282.8"/><circle cx="602.7" cy="128.1"/><circle cx="475.8" cy="254.2"/><circle cx="446.2" cy="231.1"/><circle cx="444.9" cy="263.3"/><circle cx="448" cy="280.7"/><circle cx="443.9" cy="286"/><circle cx="599.1" cy="152.8"/><circle cx="457" cy="250.2"/><circle cx="443.7" cy="275.1"/></g><g class="m"><circle cx="471.4" cy="261.8"/><circle cx="448.1" cy="254.7"/><circle cx="468.1" cy="221.6"/><circle cx="461.6" cy="222.6"/><circle cx="551.6" cy="204.1"/><circle cx="583.7" cy="127.3"/><circle cx="444.7" cy="279.8"/><circle cx="452.8" cy="230.9"/><circle cx="450.7" cy="274.6"/><circle cx="487.6" cy="239.3"/><circle cx="502.3" cy="186.6"/><circle cx="455.8" cy="280.3"/><circle cx="475.5" cy="113.5"/><circle cx="567.2" cy="175"/><circle cx="603.9" cy="96"/><circle cx="465.7" cy="276.1"/><circle cx="448.9" cy="213.9"/><circle cx="484.4" cy="222.6"/><circle cx="445.9" cy="278.5"/><circle cx="463.4" cy="229.6"/><circle cx="488.2" cy="265"/><circle cx="472.1" cy="219.2"/><circle cx="453.9" cy="263.7"/><circle cx="524.5" cy="127.1"/><circle cx="536.4" cy="186"/><circle cx="455.2" cy="231.6"/><circle cx="446.9" cy="234.5"/><circle cx="448" cy="278.8"/><circle cx="453.7" cy="262.7"/><circle cx="549.7" cy="175.6"/><circle cx="514.4" cy="213.2"/><circle cx="528.8" cy="183.6"/><circle cx="464.2" cy="254.1"/><circle cx="454.8" cy="277"/><circle cx="607.5" cy="134.5"/><circle cx="609.2" cy="79.1"/><circle cx="457.6" cy="267"/><circle cx="565.5" cy="132.6"/><circle cx="452.4" cy="223"/><circle cx="445.2" cy="276.5"/></g><g class="m"><circle cx="501.2" cy="241.4"/><circle cx="544.6" cy="136.8"/><circle cx="485.6" cy="244.4"/><circle cx="443.3" cy="277.7"/><circle cx="445.6" cy="235.8"/><circle cx="443.9" cy="284.3"/><circle cx="467.5" cy="265.2"/><circle cx="582.4" cy="166.2"/><circle cx="467.4" cy="245.8"/><circle cx="448.8" cy="260.5"/><circle cx="445" cy="285.2"/><circle cx="452.5" cy="250.3"/><circle cx="446.8" cy="266.4"/><circle cx="453.7" cy="266.2"/><circle cx="443.2" cy="253.6"/><circle cx="491.8" cy="208"/><circle cx="451.9" cy="282.7"/><circle cx="485.9" cy="243.9"/><circle cx="579.2" cy="128.1"/><circle cx="446.8" cy="283.2"/><circle cx="456.7" cy="266.1"/><circle cx="446.8" cy="265.3"/><circle cx="459.3" cy="230.7"/><circle cx="443" cy="285.7"/><circle cx="465.5" cy="256.7"/><circle cx="568.2" cy="198.7"/><circle cx="558.3" cy="146.7"/><circle cx="448.3" cy="269.1"/><circle cx="478.5" cy="177.4"/><circle cx="455.6" cy="231.8"/><circle cx="461.5" cy="258"/><circle cx="460" cy="280.4"/><circle cx="476.4" cy="259.3"/><circle cx="494.8" cy="243.6"/><circle cx="530.2" cy="173.3"/><circle cx="458.7" cy="235.4"/><circle cx="447.9" cy="279.1"/><circle cx="499" cy="127.1"/><circle cx="445.1" cy="274"/><circle cx="443.3" cy="211.3"/></g><g class="m"><circle cx="446.8" cy="278"/><circle cx="446.2" cy="216"/><circle cx="443.6" cy="225.5"/><circle cx="474.1" cy="245.8"/><circle cx="459.9" cy="261"/><circle cx="452.8" cy="259.1"/><circle cx="576.2" cy="144.8"/><circle cx="450.3" cy="230.5"/><circle cx="451.8" cy="273.3"/><circle cx="443.9" cy="284.5"/><circle cx="527.9" cy="138.7"/><circle cx="457.5" cy="243.6"/><circle cx="447.1" cy="264.2"/><circle cx="531.7" cy="158.1"/><circle cx="449.6" cy="246.5"/><circle cx="473.8" cy="201.8"/><circle cx="447.5" cy="276.6"/><circle cx="518.4" cy="224"/><circle cx="482.7" cy="186"/><circle cx="543.5" cy="123.2"/><circle cx="541.6" cy="152.8"/><circle cx="471" cy="141.8"/><circle cx="545" cy="170.8"/><circle cx="552.9" cy="160.4"/><circle cx="456.9" cy="263.5"/><circle cx="588.3" cy="129.8"/><circle cx="519.1" cy="213.1"/><circle cx="610.9" cy="124.3"/><circle cx="466.6" cy="230.5"/><circle cx="459.4" cy="269.4"/><circle cx="443.9" cy="282.8"/><circle cx="464.7" cy="258.8"/><circle cx="466.9" cy="269.8"/><circle cx="654.7" cy="92.2"/><circle cx="481" cy="251.7"/><circle cx="458.9" cy="260.4"/><circle cx="443.2" cy="268.5"/><circle cx="552.6" cy="141"/><circle cx="482.4" cy="230.2"/><circle cx="456.2" cy="281.8"/></g><g class="m"><circle cx="498.5" cy="198.7"/><circle cx="461.7" cy="268.1"/><circle cx="447.4" cy="241"/><circle cx="537.4" cy="206.9"/><circle cx="455.2" cy="239.3"/><circle cx="442.6" cy="261.6"/><circle cx="468.5" cy="244.3"/><circle cx="602" cy="224.6"/><circle cx="475.7" cy="191.2"/><circle cx="444" cy="284.2"/><circle cx="457" cy="256.6"/><circle cx="479.7" cy="179.4"/><circle cx="452.2" cy="261.2"/><circle cx="455.2" cy="237.7"/><circle cx="448" cy="239.7"/><circle cx="496.4" cy="205.4"/><circle cx="468.3" cy="272.1"/><circle cx="474.1" cy="262.6"/><circle cx="563.4" cy="183.2"/><circle cx="528.3" cy="151.1"/><circle cx="482" cy="201.8"/><circle cx="477.6" cy="201.2"/><circle cx="452.6" cy="268.5"/><circle cx="453.5" cy="246.3"/><circle cx="503.6" cy="102.5"/><circle cx="444.5" cy="279.2"/><circle cx="462.6" cy="265.7"/><circle cx="461.5" cy="262"/><circle cx="598.2" cy="181.3"/><circle cx="442.5" cy="282.8"/><circle cx="450.6" cy="255.5"/><circle cx="475.1" cy="253.8"/><circle cx="443" cy="286.7"/><circle cx="461.8" cy="239.3"/><circle cx="452.5" cy="239.9"/><circle cx="540.2" cy="229.7"/><circle cx="538.3" cy="197.4"/><circle cx="567" cy="174.6"/><circle cx="446.6" cy="274.3"/><circle cx="455.5" cy="271.7"/></g><g class="m"><circle cx="446.6" cy="277.6"/><circle cx="553.9" cy="210.7"/><circle cx="546.9" cy="194.6"/><circle cx="470.4" cy="274.1"/><circle cx="455.7" cy="242.8"/><circle cx="555.3" cy="161.9"/><circle cx="454.4" cy="273.8"/><circle cx="442.6" cy="271.5"/><circle cx="555.4" cy="231.6"/><circle cx="574.3" cy="144.8"/><circle cx="444.3" cy="279.5"/><circle cx="449.7" cy="156.6"/><circle cx="452.7" cy="229.4"/><circle cx="442.8" cy="269.7"/><circle cx="456.6" cy="273.5"/><circle cx="499.4" cy="205"/><circle cx="451.7" cy="246.6"/><circle cx="452.4" cy="271.4"/><circle cx="444.7" cy="276.6"/><circle cx="443.2" cy="276.7"/><circle cx="486.5" cy="122.6"/><circle cx="452.5" cy="257.1"/><circle cx="469.1" cy="192.7"/><circle cx="512.5" cy="206.1"/><circle cx="559.2" cy="182.2"/><circle cx="457.3" cy="196.1"/><circle cx="445.9" cy="83.1"/><circle cx="467.8" cy="269"/><circle cx="477.2" cy="244.1"/><circle cx="447.5" cy="262"/><circle cx="455.1" cy="271"/><circle cx="445.1" cy="253.7"/><circle cx="458.4" cy="247.3"/><circle cx="443.7" cy="217.4"/><circle cx="445.9" cy="255.9"/><circle cx="443.7" cy="266.7"/><circle cx="447.8" cy="159.4"/><circle cx="463.3" cy="220.3"/><circle cx="454.3" cy="271.4"/><circle cx="444.4" cy="104.2"/></g><g class="m"><circle cx="448.1" cy="252.4"/><circle cx="507.7" cy="248.1"/><circle cx="454.1" cy="273.7"/><circle cx="461.8" cy="111.6"/><circle cx="592.9" cy="177.8"/><circle cx="571" cy="178.4"/><circle cx="500.5" cy="240.7"/><circle cx="602" cy="96"/><circle cx="596.7" cy="83.7"/><circle cx="453.5" cy="249"/><circle cx="588.3" cy="92.2"/><circle cx="516.5" cy="175.7"/><circle cx="479.3" cy="238.4"/><circle cx="451.5" cy="234.3"/><circle cx="477.7" cy="258.9"/><circle cx="451" cy="281.9"/><circle cx="625.7" cy="150.1"/><circle cx="457.7" cy="221.3"/><circle cx="453.7" cy="260.1"/><circle cx="443.5" cy="273.4"/><circle cx="453" cy="274.6"/><circle cx="549.7" cy="152"/><circle cx="454.3" cy="282"/><circle cx="459.9" cy="264.4"/><circle cx="478.5" cy="177.1"/><circle cx="444.5" cy="264.7"/><circle cx="448.8" cy="277.5"/><circle cx="443.7" cy="265.9"/><circle cx="619" cy="75.7"/><circle cx="551.6" cy="142.9"/><circle cx="447.7" cy="275.4"/><circle cx="462.1" cy="266.4"/><circle cx="526" cy="170.3"/><circle cx="445.6" cy="269.8"/><circle cx="453.7" cy="284.1"/><circle cx="449" cy="283.7"/><circle cx="477.8" cy="213.6"/><circle cx="573.9" cy="202.5"/><circle cx="531.7" cy="168.7"/><circle cx="451.1" cy="242.6"/></g><g class="m"><circle cx="447.2" cy="187.4"/><circle cx="475.3" cy="232.3"/><circle cx="489.9" cy="168.9"/><circle cx="453.7" cy="265.2"/><circle cx="452.7" cy="254.3"/><circle cx="444.2" cy="271.8"/><circle cx="444.8" cy="252.3"/><circle cx="664" cy="187.7"/><circle cx="447.2" cy="284.7"/><circle cx="448.7" cy="266.1"/><circle cx="467" cy="277.7"/><circle cx="455.3" cy="234.8"/><circle cx="671" cy="89.4"/><circle cx="493.6" cy="232.7"/><circle cx="458.4" cy="275.7"/><circle cx="578.1" cy="107"/><circle cx="444.1" cy="264.7"/><circle cx="557.2" cy="140"/><circle cx="564.8" cy="255.7"/><circle cx="578.2" cy="202.5"/><circle cx="465.3" cy="230.2"/><circle cx="444.6" cy="270.5"/><circle cx="493" cy="233.9"/><circle cx="462.4" cy="270.3"/><circle cx="453.1" cy="249.4"/><circle cx="548.8" cy="252.5"/><circle cx="461.4" cy="235.4"/><circle cx="460.8" cy="265.6"/><circle cx="450.2" cy="271.6"/><circle cx="449.2" cy="280.7"/><circle cx="623.8" cy="116.9"/><circle cx="572" cy="133.8"/><circle cx="459.8" cy="257.9"/><circle cx="530.2" cy="121.4"/><circle cx="450.8" cy="263.2"/><circle cx="516.5" cy="170.8"/><circle cx="467.8" cy="272.9"/><circle cx="445.5" cy="285.6"/><circle cx="537" cy="170.4"/><circle cx="476.9" cy="258"/></g><g class="m"><circle cx="444.7" cy="252"/><circle cx="557.2" cy="152"/><circle cx="559.8" cy="121.6"/><circle cx="517.1" cy="129"/><circle cx="562.1" cy="182.2"/><circle cx="592.9" cy="93.9"/><circle cx="520.7" cy="92.2"/><circle cx="444.2" cy="266.7"/><circle cx="446.1" cy="271.9"/><circle cx="446" cy="278"/><circle cx="557.3" cy="152"/><circle cx="444.5" cy="277.7"/><circle cx="448.9" cy="265.4"/><circle cx="463" cy="247.8"/><circle cx="470.1" cy="262"/><circle cx="461" cy="252"/><circle cx="470.3" cy="244"/><circle cx="450.8" cy="264.2"/><circle cx="443.9" cy="277.6"/><circle cx="447.7" cy="282.5"/><circle cx="456.9" cy="229.6"/><circle cx="571.6" cy="163.8"/><circle cx="470" cy="182.8"/><circle cx="449.3" cy="273.1"/><circle cx="594.8" cy="134.7"/><circle cx="469.8" cy="274.8"/><circle cx="472.4" cy="249.4"/><circle cx="584.9" cy="166"/><circle cx="443" cy="278.3"/><circle cx="446.9" cy="246.9"/><circle cx="450.1" cy="220.2"/><circle cx="456.2" cy="264.5"/><circle cx="480.3" cy="231.6"/><circle cx="539.3" cy="169.9"/><circle cx="469.1" cy="203.1"/><circle cx="468.9" cy="261.5"/><circle cx="481.5" cy="233.7"/><circle cx="447.2" cy="250.5"/><circle cx="453.3" cy="265"/><circle cx="457.2" cy="269.2"/></g><g class="d"><circle cx="450.7" cy="278.2"/><circle cx="453.9" cy="276.1"/><circle cx="472.3" cy="275.2"/><circle cx="490.5" cy="259.6"/><circle cx="451.2" cy="279.4"/><circle cx="449.1" cy="286"/><circle cx="470.4" cy="275.3"/><circle cx="443.7" cy="284.6"/><circle cx="460.3" cy="269.8"/><circle cx="483.4" cy="251.7"/><circle cx="457.2" cy="287.2"/><circle cx="468.4" cy="282.3"/><circle cx="451.7" cy="276.3"/><circle cx="467" cy="277.3"/><circle cx="521.5" cy="248.3"/><circle cx="533.4" cy="274.1"/><circle cx="444.9" cy="286.6"/><circle cx="486.6" cy="246.3"/><circle cx="450.9" cy="284.4"/><circle cx="490.9" cy="266.9"/><circle cx="451.8" cy="270"/><circle cx="476.3" cy="282.6"/><circle cx="458.7" cy="275.7"/><circle cx="455.6" cy="274.2"/><circle cx="444.6" cy="286.3"/><circle cx="469" cy="279.6"/><circle cx="490.7" cy="249.6"/><circle cx="446.3" cy="282.7"/><circle cx="459.2" cy="261"/></g><g class="m"><circle cx="444" cy="286.3"/><circle cx="505.1" cy="150.5"/><circle cx="463.4" cy="203.1"/><circle cx="458" cy="277.8"/><circle cx="557.2" cy="240.1"/><circle cx="598.2" cy="86.9"/><circle cx="476.1" cy="253.4"/><circle cx="467.3" cy="239"/><circle cx="455.8" cy="260.7"/><circle cx="469.3" cy="273.7"/><circle cx="445.9" cy="281.2"/></g><g class="d"><circle cx="454.2" cy="285.8"/><circle cx="446.5" cy="286.5"/><circle cx="443.7" cy="281.3"/><circle cx="473.8" cy="258.2"/><circle cx="443" cy="282.9"/><circle cx="456.5" cy="286.8"/><circle cx="455.8" cy="281.2"/><circle cx="453.7" cy="279.5"/><circle cx="524" cy="239.5"/><circle cx="451.5" cy="284.9"/><circle cx="445.7" cy="282.9"/><circle cx="465.6" cy="267.7"/><circle cx="485.8" cy="253.7"/><circle cx="487.2" cy="266.7"/><circle cx="450.5" cy="280.4"/><circle cx="442.7" cy="284.3"/><circle cx="452.6" cy="278.3"/><circle cx="444.6" cy="285.1"/><circle cx="445.7" cy="283.2"/><circle cx="462.5" cy="258.6"/><circle cx="449.5" cy="281"/><circle cx="521.3" cy="208.2"/><circle cx="446.6" cy="281.7"/><circle cx="448.6" cy="282.6"/><circle cx="444.4" cy="288.3"/><circle cx="450" cy="287.6"/><circle cx="470.2" cy="260.3"/><circle cx="446.4" cy="286.1"/><circle cx="443.6" cy="278.6"/><circle cx="444.4" cy="284.8"/><circle cx="449" cy="281.1"/><circle cx="446" cy="274.5"/><circle cx="447.4" cy="285.6"/><circle cx="447.2" cy="286.6"/><circle cx="460.6" cy="274.2"/><circle cx="450.7" cy="283.3"/><circle cx="442.8" cy="281.4"/><circle cx="456.5" cy="274.2"/><circle cx="443.4" cy="286.2"/><circle cx="473.9" cy="281.7"/></g><g class="d"><circle cx="488.7" cy="246.4"/><circle cx="453" cy="280.2"/><circle cx="459.6" cy="274.9"/><circle cx="459.8" cy="275.6"/><circle cx="467.7" cy="252.8"/><circle cx="465.4" cy="267.5"/><circle cx="523.2" cy="223.3"/><circle cx="455.6" cy="280.5"/><circle cx="465.6" cy="269.1"/><circle cx="447.3" cy="277.4"/><circle cx="451.2" cy="279.3"/><circle cx="453.7" cy="284.9"/><circle cx="453.2" cy="281.9"/><circle cx="458.4" cy="281.7"/><circle cx="464.8" cy="270.2"/><circle cx="480.9" cy="264"/><circle cx="444.2" cy="284.6"/><circle cx="446.3" cy="285.7"/><circle cx="442.6" cy="286.1"/><circle cx="461.1" cy="268.6"/><circle cx="443.1" cy="274.7"/><circle cx="485.8" cy="274"/><circle cx="451.2" cy="284.6"/><circle cx="454" cy="286.9"/><circle cx="449.2" cy="286.3"/><circle cx="461.8" cy="269.3"/><circle cx="475.8" cy="270.7"/><circle cx="478.6" cy="256.6"/><circle cx="457.6" cy="283"/><circle cx="446.4" cy="284.4"/><circle cx="451.3" cy="284"/><circle cx="458.8" cy="274.4"/><circle cx="512.2" cy="274.3"/><circle cx="449.6" cy="274.8"/><circle cx="451.7" cy="282.9"/><circle cx="444.7" cy="286.8"/><circle cx="446.4" cy="286.2"/><circle cx="447.7" cy="288.2"/><circle cx="449.5" cy="277.3"/><circle cx="460.2" cy="273.8"/></g><g class="d"><circle cx="449.9" cy="274.1"/><circle cx="493.8" cy="279.9"/><circle cx="447.2" cy="281.1"/><circle cx="442.7" cy="284.3"/><circle cx="466" cy="266.3"/><circle cx="445.9" cy="285.7"/><circle cx="473.2" cy="257.4"/><circle cx="456" cy="281"/><circle cx="455.9" cy="283.5"/><circle cx="444.2" cy="287.8"/><circle cx="481.2" cy="251.4"/><circle cx="452" cy="272.4"/><circle cx="451.4" cy="276.4"/><circle cx="476.9" cy="287.4"/><circle cx="447.2" cy="281.2"/><circle cx="445" cy="284"/><circle cx="455.9" cy="282.4"/><circle cx="445" cy="284.8"/><circle cx="449.7" cy="276.1"/><circle cx="446.6" cy="284.1"/><circle cx="455.6" cy="268.7"/><circle cx="518.5" cy="208.2"/><circle cx="458.6" cy="277.4"/><circle cx="445.7" cy="283.5"/><circle cx="446.1" cy="280.9"/><circle cx="467.1" cy="276.7"/><circle cx="481" cy="277.6"/><circle cx="482" cy="245.5"/><circle cx="514.9" cy="279"/><circle cx="443.8" cy="267.6"/><circle cx="449.3" cy="284.6"/><circle cx="475" cy="243"/><circle cx="451.3" cy="287.5"/><circle cx="492.2" cy="271.9"/><circle cx="542.9" cy="225.3"/><circle cx="443.5" cy="277.9"/><circle cx="459.3" cy="285.2"/><circle cx="465.8" cy="266.1"/><circle cx="443.9" cy="287.3"/><circle cx="446.3" cy="286.9"/></g><g class="d"><circle cx="469.1" cy="267"/><circle cx="488.8" cy="263.5"/><circle cx="442.7" cy="281.3"/><circle cx="446.2" cy="280.8"/><circle cx="490.7" cy="282.9"/><circle cx="473.3" cy="258.4"/><circle cx="480.1" cy="263.1"/><circle cx="446.7" cy="285.6"/><circle cx="442.6" cy="287.9"/><circle cx="484.4" cy="266.1"/><circle cx="464.9" cy="242.5"/><circle cx="445.5" cy="282.4"/><circle cx="482.8" cy="261.7"/><circle cx="450.5" cy="279.2"/><circle cx="450.6" cy="282.4"/><circle cx="480.7" cy="256.7"/><circle cx="461.4" cy="279.1"/><circle cx="461.1" cy="281.9"/><circle cx="454.6" cy="280.8"/><circle cx="450.1" cy="270.8"/><circle cx="506.8" cy="281"/><circle cx="493.5" cy="235.9"/><circle cx="445.6" cy="285"/><circle cx="459.1" cy="273"/><circle cx="450.3" cy="278.1"/><circle cx="457.3" cy="277.2"/><circle cx="443.2" cy="286.3"/><circle cx="466.1" cy="269.2"/><circle cx="445.9" cy="287.7"/><circle cx="450.3" cy="283.4"/><circle cx="476.5" cy="259.8"/><circle cx="446.3" cy="288.1"/><circle cx="459" cy="266.7"/><circle cx="480.5" cy="255.2"/><circle cx="458.4" cy="276.6"/><circle cx="447.6" cy="275.9"/><circle cx="444.7" cy="286.2"/><circle cx="446.4" cy="281.7"/><circle cx="455.4" cy="283.8"/><circle cx="446.6" cy="283.3"/></g><g class="d"><circle cx="491.9" cy="243.1"/><circle cx="464.8" cy="284.8"/><circle cx="471.3" cy="245.6"/><circle cx="492.2" cy="258.7"/><circle cx="450.7" cy="284"/><circle cx="492" cy="244"/><circle cx="452" cy="284.3"/><circle cx="452.8" cy="286.1"/><circle cx="461.8" cy="282.1"/><circle cx="446" cy="281.4"/><circle cx="453.7" cy="273.4"/><circle cx="456.7" cy="285.4"/><circle cx="455.5" cy="276.5"/><circle cx="465.1" cy="264.4"/><circle cx="453.4" cy="284.5"/><circle cx="446.1" cy="285.8"/><circle cx="452" cy="287.2"/><circle cx="455.5" cy="284.5"/><circle cx="457.7" cy="281.6"/><circle cx="453.4" cy="279.6"/><circle cx="476.1" cy="256.3"/><circle cx="452.5" cy="283.5"/><circle cx="451.2" cy="285.6"/><circle cx="461.3" cy="276.7"/><circle cx="445.6" cy="285.1"/><circle cx="473.4" cy="271.1"/><circle cx="451.5" cy="279.7"/><circle cx="473.9" cy="282.4"/><circle cx="444" cy="286.6"/><circle cx="451.8" cy="280.7"/><circle cx="447.1" cy="285.6"/><circle cx="444.5" cy="287"/><circle cx="453.9" cy="270.9"/><circle cx="442.6" cy="287.5"/><circle cx="447.9" cy="284.3"/><circle cx="455.5" cy="278.8"/><circle cx="469.5" cy="280.8"/><circle cx="445.4" cy="280.2"/><circle cx="443.3" cy="288.2"/><circle cx="463.5" cy="277.4"/></g><g class="d"><circle cx="443.6" cy="287.5"/><circle cx="470.7" cy="262.6"/><circle cx="442.6" cy="287"/><circle cx="465.8" cy="282"/><circle cx="445.7" cy="283.9"/><circle cx="445.7" cy="276.7"/><circle cx="443.8" cy="279.6"/><circle cx="447.2" cy="274.8"/><circle cx="468.2" cy="266.7"/><circle cx="445.5" cy="285.9"/><circle cx="446.7" cy="286.4"/><circle cx="476.6" cy="281.7"/><circle cx="504.3" cy="237.3"/><circle cx="466.6" cy="262.5"/><circle cx="445.6" cy="285.2"/><circle cx="451.5" cy="281.9"/><circle cx="446.8" cy="281.9"/><circle cx="443.7" cy="284.7"/><circle cx="444.1" cy="285.8"/><circle cx="451.3" cy="284.5"/><circle cx="458.1" cy="282.1"/><circle cx="463.7" cy="283.7"/><circle cx="476.1" cy="265.7"/><circle cx="476.5" cy="280.4"/><circle cx="447.7" cy="273.3"/><circle cx="444.5" cy="285.3"/><circle cx="447.3" cy="283.4"/><circle cx="464.5" cy="280"/><circle cx="448.6" cy="283.3"/><circle cx="490.2" cy="266.4"/><circle cx="471" cy="285.9"/><circle cx="448.6" cy="283.7"/><circle cx="447.8" cy="283.7"/><circle cx="446.7" cy="277.9"/><circle cx="490.9" cy="257.7"/><circle cx="471.8" cy="284.9"/><circle cx="446.8" cy="280.5"/><circle cx="444.4" cy="279.9"/><circle cx="461.7" cy="272.6"/><circle cx="449.4" cy="282.1"/></g><g class="d"><circle cx="453.4" cy="278.3"/><circle cx="459.3" cy="281.9"/><circle cx="448.7" cy="267.4"/><circle cx="442.8" cy="288.2"/><circle cx="483.1" cy="251.3"/><circle cx="446.8" cy="240.5"/><circle cx="455.7" cy="285.8"/><circle cx="467" cy="274"/><circle cx="443.5" cy="287.5"/><circle cx="448" cy="284.2"/><circle cx="457.4" cy="277"/><circle cx="453.3" cy="281.5"/><circle cx="444.1" cy="286.1"/><circle cx="451.9" cy="280"/><circle cx="443.7" cy="285"/><circle cx="527" cy="220.3"/><circle cx="454.3" cy="287"/><circle cx="447.2" cy="261.5"/><circle cx="448" cy="281.9"/><circle cx="449.5" cy="282.5"/><circle cx="453.5" cy="275.8"/><circle cx="486.4" cy="246.4"/><circle cx="481.8" cy="279.8"/><circle cx="443.1" cy="286.1"/><circle cx="511.5" cy="249.3"/><circle cx="496.3" cy="233.2"/><circle cx="462.1" cy="272.9"/><circle cx="448.7" cy="282.8"/><circle cx="447.7" cy="285.2"/><circle cx="447.2" cy="274.7"/><circle cx="445.4" cy="285"/><circle cx="494.6" cy="229.1"/><circle cx="450.1" cy="285.6"/><circle cx="463.9" cy="277"/><circle cx="457.6" cy="286.2"/><circle cx="442.8" cy="284.8"/><circle cx="452.3" cy="284.3"/><circle cx="448.5" cy="278.6"/><circle cx="458.2" cy="274.4"/><circle cx="445.7" cy="286.7"/></g><g class="d"><circle cx="501.7" cy="279"/><circle cx="452.9" cy="281.2"/><circle cx="524.4" cy="213.2"/><circle cx="458.5" cy="269.3"/><circle cx="470" cy="231.7"/><circle cx="443.5" cy="287.6"/><circle cx="477.7" cy="262.7"/><circle cx="465.6" cy="261.5"/><circle cx="444.3" cy="275.2"/><circle cx="478.2" cy="283.3"/><circle cx="444.9" cy="285.7"/><circle cx="456.5" cy="277.6"/><circle cx="447.1" cy="280.4"/><circle cx="467.2" cy="272.5"/><circle cx="449.8" cy="286"/><circle cx="447.1" cy="286.9"/><circle cx="453.1" cy="284.3"/><circle cx="442.9" cy="284"/><circle cx="449.1" cy="281.1"/><circle cx="470.7" cy="275.3"/><circle cx="452.3" cy="287"/><circle cx="445.6" cy="288.3"/><circle cx="482" cy="274.5"/><circle cx="448" cy="273.7"/><circle cx="466.6" cy="272.8"/><circle cx="445.4" cy="281.8"/><circle cx="445.5" cy="281.8"/><circle cx="472.2" cy="266.2"/><circle cx="478.2" cy="245.3"/><circle cx="456.5" cy="277.9"/><circle cx="450.6" cy="285.8"/><circle cx="492" cy="271.2"/><circle cx="466.6" cy="268.6"/><circle cx="442.8" cy="282.8"/><circle cx="445.5" cy="275.1"/><circle cx="477.9" cy="265.6"/><circle cx="445.7" cy="280.9"/><circle cx="453.3" cy="271.5"/><circle cx="453" cy="278.2"/><circle cx="483.1" cy="243.5"/></g><g class="d"><circle cx="545" cy="270.5"/><circle cx="456.4" cy="278.7"/><circle cx="456.3" cy="275"/><circle cx="449.4" cy="278.2"/><circle cx="453.7" cy="280.9"/><circle cx="457.9" cy="281.3"/><circle cx="468" cy="269"/><circle cx="477.4" cy="255.1"/><circle cx="443.9" cy="285.9"/><circle cx="450.5" cy="284.3"/><circle cx="485.4" cy="242.7"/><circle cx="469.2" cy="286.2"/><circle cx="446.7" cy="285.3"/><circle cx="487.4" cy="239.2"/><circle cx="496.1" cy="267"/><circle cx="448.9" cy="287.1"/><circle cx="448.9" cy="277.6"/><circle cx="443.9" cy="281.9"/><circle cx="449.8" cy="274.8"/><circle cx="446.3" cy="280.9"/><circle cx="475.3" cy="266"/><circle cx="461.8" cy="278.6"/><circle cx="451.4" cy="285.7"/><circle cx="453.2" cy="285.1"/><circle cx="469.5" cy="271.8"/><circle cx="452.4" cy="271.8"/><circle cx="449.5" cy="277.7"/><circle cx="483.7" cy="254.9"/><circle cx="446.7" cy="283.2"/><circle cx="447.7" cy="281"/><circle cx="465.7" cy="280"/><circle cx="468.6" cy="282.9"/><circle cx="458.9" cy="279.3"/><circle cx="457.6" cy="277.1"/><circle cx="472.8" cy="259.1"/><circle cx="477.8" cy="262.7"/><circle cx="453.3" cy="284.6"/><circle cx="479" cy="256.5"/><circle cx="445.1" cy="287.9"/><circle cx="445" cy="287.3"/></g><g class="d"><circle cx="515.6" cy="215.2"/><circle cx="443.6" cy="283"/><circle cx="443.2" cy="285"/><circle cx="464" cy="266.6"/><circle cx="469" cy="269.1"/><circle cx="451.6" cy="283.3"/><circle cx="477.6" cy="266.3"/><circle cx="474.9" cy="255"/><circle cx="463.3" cy="277.1"/><circle cx="451.7" cy="285.5"/><circle cx="445.4" cy="286.7"/><circle cx="466" cy="264.3"/><circle cx="508" cy="263.9"/><circle cx="447.6" cy="287.3"/><circle cx="446.6" cy="279"/><circle cx="445.3" cy="284.5"/><circle cx="473.2" cy="276.2"/><circle cx="477.8" cy="273.1"/><circle cx="465.4" cy="270.9"/><circle cx="446.1" cy="285.8"/><circle cx="449.3" cy="286.4"/><circle cx="455.5" cy="276.1"/><circle cx="472.1" cy="265.5"/><circle cx="453.6" cy="279.6"/><circle cx="450.6" cy="279.2"/><circle cx="482.4" cy="257.2"/><circle cx="490.6" cy="244.6"/><circle cx="457.1" cy="273"/><circle cx="444.6" cy="284"/><circle cx="448.1" cy="286.2"/><circle cx="446.4" cy="277.7"/><circle cx="452.5" cy="284.6"/><circle cx="456.9" cy="281.1"/><circle cx="451.1" cy="285.5"/><circle cx="448.6" cy="285.2"/><circle cx="474" cy="284.4"/><circle cx="452.8" cy="282.8"/><circle cx="447.5" cy="282.9"/><circle cx="499.3" cy="273.8"/><circle cx="448.8" cy="285.5"/></g><g class="d"><circle cx="508.4" cy="286"/><circle cx="457.3" cy="281.7"/><circle cx="454.9" cy="277"/><circle cx="444.4" cy="282.8"/><circle cx="444.6" cy="281.9"/><circle cx="448.8" cy="278.4"/><circle cx="442.8" cy="276.1"/><circle cx="466.5" cy="280.3"/><circle cx="443" cy="284.7"/><circle cx="471" cy="271.6"/><circle cx="455.3" cy="277.8"/><circle cx="461.4" cy="274.8"/><circle cx="458.6" cy="283.2"/><circle cx="457.4" cy="276.9"/><circle cx="495.6" cy="250.2"/><circle cx="449.9" cy="281.8"/><circle cx="471.3" cy="255.4"/><circle cx="442.9" cy="279.5"/><circle cx="469.4" cy="261.7"/><circle cx="449.9" cy="277.2"/><circle cx="495.4" cy="247.1"/><circle cx="447.4" cy="273"/><circle cx="500.9" cy="240.6"/><circle cx="446.7" cy="284.5"/><circle cx="442.9" cy="281.4"/><circle cx="450.5" cy="277.6"/><circle cx="444.6" cy="288.1"/><circle cx="449.2" cy="282.1"/><circle cx="460.4" cy="270.5"/><circle cx="478" cy="254.5"/><circle cx="453.7" cy="277.3"/><circle cx="471.3" cy="269.1"/><circle cx="451.4" cy="283.2"/><circle cx="482.4" cy="252.9"/><circle cx="465.1" cy="278.6"/><circle cx="445.6" cy="283.1"/><circle cx="443.2" cy="283.1"/><circle cx="453.9" cy="279.6"/><circle cx="473.7" cy="278.8"/><circle cx="446.8" cy="281.2"/></g><g class="d"><circle cx="466.3" cy="281.9"/><circle cx="456.4" cy="286.3"/><circle cx="445.3" cy="287.6"/><circle cx="444.5" cy="275.2"/><circle cx="445.7" cy="285.7"/><circle cx="457" cy="283"/><circle cx="481.6" cy="253"/><circle cx="447.4" cy="282.1"/><circle cx="482.9" cy="268.1"/><circle cx="446.2" cy="288.1"/><circle cx="458.7" cy="270.6"/><circle cx="482.5" cy="245"/><circle cx="449.8" cy="284.2"/><circle cx="451.3" cy="284.5"/><circle cx="456.6" cy="287.3"/><circle cx="448.1" cy="281.7"/><circle cx="443.1" cy="284.9"/><circle cx="445.1" cy="284.3"/><circle cx="450.1" cy="276.7"/><circle cx="501.1" cy="276.1"/><circle cx="560.5" cy="280.9"/><circle cx="500.3" cy="264.7"/><circle cx="448.2" cy="274.2"/><circle cx="463.8" cy="275.8"/><circle cx="446.2" cy="284.6"/><circle cx="460.8" cy="281.2"/><circle cx="517" cy="216.3"/><circle cx="525.1" cy="243.6"/><circle cx="455.2" cy="283.1"/><circle cx="447.7" cy="280.1"/><circle cx="451.3" cy="282.7"/><circle cx="447.1" cy="286.1"/><circle cx="478.5" cy="278.5"/><circle cx="463.1" cy="283"/><circle cx="443.7" cy="286.1"/><circle cx="443.1" cy="274.7"/><circle cx="445" cy="284.8"/><circle cx="446.5" cy="280.2"/><circle cx="443.9" cy="287.9"/><circle cx="457.3" cy="284.4"/></g><g class="d"><circle cx="451.4" cy="286.4"/><circle cx="456.1" cy="272.3"/><circle cx="449.8" cy="268.8"/><circle cx="449.6" cy="280.5"/><circle cx="543.5" cy="249.1"/><circle cx="450.4" cy="280.8"/><circle cx="495.7" cy="231.8"/><circle cx="451.4" cy="278.5"/><circle cx="460.4" cy="275.7"/><circle cx="467.8" cy="285.4"/><circle cx="446.9" cy="285"/><circle cx="445.8" cy="276.2"/><circle cx="462.2" cy="269.8"/><circle cx="482.1" cy="250.8"/><circle cx="501.1" cy="275.4"/><circle cx="446.7" cy="285.1"/><circle cx="508.7" cy="242"/><circle cx="443" cy="282.6"/><circle cx="443.3" cy="286.8"/><circle cx="469.4" cy="281.7"/><circle cx="473.5" cy="282.3"/><circle cx="458.3" cy="268.2"/><circle cx="446.6" cy="287.1"/><circle cx="468.4" cy="277.5"/><circle cx="445.9" cy="271.1"/><circle cx="444.1" cy="286.3"/><circle cx="451.1" cy="277.9"/><circle cx="451.6" cy="283.6"/><circle cx="448.3" cy="287.1"/><circle cx="478" cy="282.7"/><circle cx="477.9" cy="282.4"/><circle cx="456" cy="281.4"/><circle cx="446.3" cy="284.2"/><circle cx="456.7" cy="281.2"/><circle cx="458.6" cy="269.4"/><circle cx="472.7" cy="278.4"/><circle cx="446" cy="282.2"/><circle cx="482" cy="282.3"/><circle cx="463.9" cy="274.9"/><circle cx="443.1" cy="276.9"/></g><g class="d"><circle cx="443.8" cy="287.3"/><circle cx="467.6" cy="284"/><circle cx="495.2" cy="245.3"/><circle cx="445.7" cy="285.4"/><circle cx="460.9" cy="280.6"/><circle cx="455.7" cy="280.4"/><circle cx="450" cy="279.3"/><circle cx="499.8" cy="249.1"/><circle cx="449" cy="284.2"/><circle cx="445.9" cy="288.1"/><circle cx="452.2" cy="257.7"/><circle cx="479.8" cy="275.5"/><circle cx="462.6" cy="270.3"/><circle cx="444" cy="273.5"/><circle cx="446" cy="285.6"/><circle cx="443.6" cy="274.6"/><circle cx="513.7" cy="225.9"/><circle cx="478" cy="280.4"/><circle cx="446.6" cy="284"/><circle cx="445.5" cy="286.8"/><circle cx="450.6" cy="277.8"/><circle cx="448.4" cy="283.8"/><circle cx="443.9" cy="285.8"/><circle cx="446.5" cy="286.8"/><circle cx="456.8" cy="280.8"/><circle cx="447.9" cy="284.8"/><circle cx="449.8" cy="281.4"/><circle cx="450.7" cy="285.3"/><circle cx="492.5" cy="256.1"/><circle cx="447.8" cy="278.7"/><circle cx="452" cy="281.8"/><circle cx="462.7" cy="265"/><circle cx="444.7" cy="274.3"/><circle cx="459.2" cy="275.3"/><circle cx="449.6" cy="273.6"/><circle cx="487.5" cy="282.6"/><circle cx="455.8" cy="279.8"/><circle cx="451.2" cy="284.1"/><circle cx="448.2" cy="275.9"/><circle cx="471.8" cy="255.5"/></g><g class="d"><circle cx="445.4" cy="280.2"/><circle cx="443" cy="279.2"/><circle cx="445.2" cy="286.7"/><circle cx="447.6" cy="286.1"/><circle cx="445.2" cy="283.7"/><circle cx="457.7" cy="266.2"/><circle cx="453.4" cy="279.5"/><circle cx="471.1" cy="282.8"/><circle cx="442.9" cy="285.4"/><circle cx="523.9" cy="221.6"/><circle cx="507.1" cy="236.1"/><circle cx="489.3" cy="257.1"/><circle cx="446.5" cy="280.4"/><circle cx="459.2" cy="276.1"/><circle cx="465" cy="287.3"/><circle cx="448.6" cy="287.1"/><circle cx="454.5" cy="277.4"/><circle cx="524.8" cy="267.2"/><circle cx="445.1" cy="280.8"/><circle cx="530.9" cy="249.6"/><circle cx="454.6" cy="287.6"/><circle cx="442.8" cy="273.9"/><circle cx="466.9" cy="275.6"/><circle cx="455.9" cy="279"/><circle cx="470.9" cy="257"/><circle cx="459.6" cy="259.3"/><circle cx="465.5" cy="260.2"/><circle cx="443.3" cy="276"/><circle cx="460.7" cy="276.1"/><circle cx="454.6" cy="274.1"/><circle cx="442.7" cy="286.7"/><circle cx="455.9" cy="278.3"/><circle cx="469.5" cy="276.1"/><circle cx="446.8" cy="283.7"/><circle cx="469" cy="278"/><circle cx="446.5" cy="284.4"/><circle cx="460.4" cy="286.6"/><circle cx="454.2" cy="285.8"/><circle cx="495.8" cy="261.4"/><circle cx="452.4" cy="278.3"/></g><g class="d"><circle cx="446.9" cy="287.3"/><circle cx="449.2" cy="282.9"/><circle cx="444.6" cy="279.7"/><circle cx="442.8" cy="288.1"/><circle cx="447.8" cy="287"/><circle cx="477.1" cy="285.5"/><circle cx="466.9" cy="268.8"/><circle cx="458.1" cy="270.3"/><circle cx="458.6" cy="277.3"/><circle cx="458.2" cy="281.9"/><circle cx="447.2" cy="284.9"/><circle cx="447" cy="284.6"/><circle cx="442.5" cy="277"/><circle cx="472.7" cy="275.9"/><circle cx="467" cy="281.7"/><circle cx="452.4" cy="285.8"/><circle cx="446.2" cy="285.9"/><circle cx="476.7" cy="269.5"/><circle cx="444.1" cy="282.3"/><circle cx="464.7" cy="283.4"/><circle cx="468.5" cy="263.3"/><circle cx="502.7" cy="260.2"/><circle cx="448.6" cy="286.2"/><circle cx="453.6" cy="281.1"/><circle cx="451.3" cy="281.8"/><circle cx="486.9" cy="277.1"/><circle cx="461.7" cy="273.3"/><circle cx="457.7" cy="272.3"/><circle cx="450.4" cy="284.2"/><circle cx="500.7" cy="277.2"/><circle cx="450.4" cy="284.3"/><circle cx="470.3" cy="252.2"/><circle cx="454.4" cy="275.9"/><circle cx="514.8" cy="231.5"/><circle cx="467.3" cy="277.9"/><circle cx="444.4" cy="286"/><circle cx="442.7" cy="280.7"/><circle cx="515.5" cy="242.2"/><circle cx="444.9" cy="285.6"/><circle cx="444.7" cy="269.7"/></g><g class="d"><circle cx="447.6" cy="284.7"/><circle cx="457.4" cy="282.1"/><circle cx="447.7" cy="283.1"/><circle cx="446.4" cy="279.9"/><circle cx="459.1" cy="286.3"/><circle cx="443.6" cy="288"/><circle cx="448.1" cy="281.8"/><circle cx="447.7" cy="283.1"/><circle cx="475.8" cy="285.9"/><circle cx="457.7" cy="283.9"/><circle cx="448" cy="286.3"/><circle cx="467.4" cy="268.2"/><circle cx="510.1" cy="276"/><circle cx="506.3" cy="263.4"/><circle cx="449.1" cy="282"/><circle cx="456.1" cy="283.7"/><circle cx="444" cy="283.2"/><circle cx="448.2" cy="285.2"/><circle cx="491.9" cy="235.3"/><circle cx="448.4" cy="285.7"/><circle cx="451.5" cy="282.1"/><circle cx="444.1" cy="286.7"/><circle cx="443.7" cy="284.7"/><circle cx="445.1" cy="282.9"/><circle cx="442.6" cy="270.3"/><circle cx="500.8" cy="234.3"/><circle cx="452" cy="285"/><circle cx="459.8" cy="283.1"/><circle cx="459.9" cy="274.1"/><circle cx="450.8" cy="276.1"/><circle cx="446.1" cy="285.8"/><circle cx="445.2" cy="278"/><circle cx="449.7" cy="276.1"/><circle cx="456.5" cy="274.8"/><circle cx="462.4" cy="270.4"/><circle cx="467.2" cy="278.4"/><circle cx="458" cy="279.3"/><circle cx="443.5" cy="281"/><circle cx="472.8" cy="255.9"/><circle cx="457.6" cy="277.3"/></g><g class="d"><circle cx="451.8" cy="282.6"/><circle cx="460.4" cy="284.7"/><circle cx="444.7" cy="284.5"/><circle cx="459.8" cy="268.6"/><circle cx="484.5" cy="270.3"/><circle cx="482.8" cy="269.5"/><circle cx="447.1" cy="285.8"/><circle cx="466.5" cy="280.2"/><circle cx="454.2" cy="277.8"/><circle cx="443.6" cy="285.5"/><circle cx="454.4" cy="268.9"/><circle cx="452.5" cy="277.2"/><circle cx="443.1" cy="286.9"/><circle cx="468.9" cy="276.8"/><circle cx="467.4" cy="258.7"/><circle cx="489.8" cy="263.7"/><circle cx="481.2" cy="242.7"/><circle cx="507.6" cy="242.8"/><circle cx="447" cy="276.9"/><circle cx="445" cy="284.2"/><circle cx="468" cy="262.9"/><circle cx="448.6" cy="275.8"/><circle cx="458.8" cy="278.1"/><circle cx="443.3" cy="280.3"/><circle cx="444.5" cy="285.5"/><circle cx="477.1" cy="250.8"/><circle cx="531.3" cy="216.8"/><circle cx="467.8" cy="263.2"/><circle cx="449" cy="248.6"/><circle cx="468.2" cy="267.9"/><circle cx="445.3" cy="284.9"/><circle cx="457.9" cy="285.7"/><circle cx="464.2" cy="277.8"/><circle cx="443.7" cy="284"/><circle cx="471.6" cy="269.3"/><circle cx="444.6" cy="285.4"/><circle cx="444.1" cy="282.2"/><circle cx="445.9" cy="283.2"/><circle cx="444.8" cy="277.8"/><circle cx="457.2" cy="281.6"/></g><g class="d"><circle cx="444.9" cy="282.9"/><circle cx="451" cy="283.6"/><circle cx="458.4" cy="277.4"/><circle cx="458.6" cy="283"/><circle cx="444.9" cy="281.9"/><circle cx="527.9" cy="234.4"/><circle cx="444.4" cy="285.5"/><circle cx="485.3" cy="272.8"/><circle cx="457.6" cy="283.7"/><circle cx="444.9" cy="287.7"/><circle cx="482.8" cy="275.4"/><circle cx="468.5" cy="268.7"/><circle cx="453" cy="285.4"/><circle cx="476.7" cy="273.4"/><circle cx="445.8" cy="277"/><circle cx="462.3" cy="268"/><circle cx="454.9" cy="273.2"/><circle cx="444.8" cy="286.9"/><circle cx="487" cy="274.7"/><circle cx="452.4" cy="287.6"/><circle cx="444.5" cy="286.9"/><circle cx="445.4" cy="286.3"/><circle cx="461.5" cy="281.3"/><circle cx="460.1" cy="273.1"/><circle cx="458.7" cy="273.6"/><circle cx="463.2" cy="264.1"/><circle cx="446.6" cy="285.4"/><circle cx="493.6" cy="240.8"/><circle cx="459.2" cy="281.6"/><circle cx="469.2" cy="281.6"/><circle cx="453.9" cy="273.5"/><circle cx="446.9" cy="281.7"/><circle cx="452.1" cy="280.6"/><circle cx="452.4" cy="287.1"/><circle cx="467.9" cy="264.1"/><circle cx="445.1" cy="286.2"/><circle cx="451.5" cy="279.3"/><circle cx="453.6" cy="274.7"/><circle cx="449" cy="271.4"/><circle cx="456.2" cy="271.8"/></g><g class="d"><circle cx="446.3" cy="283"/><circle cx="460.8" cy="273.7"/><circle cx="465.4" cy="276"/><circle cx="459.4" cy="267"/><circle cx="475.3" cy="253.9"/><circle cx="443.3" cy="281.2"/><circle cx="443.5" cy="274.9"/><circle cx="446.6" cy="283.3"/><circle cx="487.2" cy="271.2"/><circle cx="473.4" cy="263.4"/><circle cx="499.2" cy="228"/><circle cx="443.8" cy="284.2"/><circle cx="445.5" cy="285"/><circle cx="475.3" cy="261.4"/><circle cx="442.8" cy="284.6"/><circle cx="484" cy="259.3"/><circle cx="472.5" cy="285.9"/><circle cx="452.9" cy="262.3"/><circle cx="449" cy="282.6"/><circle cx="442.8" cy="282.7"/><circle cx="462.5" cy="267.1"/><circle cx="450.3" cy="280.1"/><circle cx="445.8" cy="287.4"/><circle cx="468.7" cy="256.1"/><circle cx="443.4" cy="283.8"/><circle cx="471.5" cy="273.2"/><circle cx="475.2" cy="269.3"/><circle cx="518.8" cy="243.5"/><circle cx="454.2" cy="284.9"/><circle cx="444.4" cy="282.4"/><circle cx="447.3" cy="285.1"/><circle cx="450.6" cy="281.1"/><circle cx="446.6" cy="287.7"/><circle cx="443.1" cy="285.8"/><circle cx="453.1" cy="284.7"/><circle cx="459.1" cy="265"/><circle cx="475.6" cy="282.8"/><circle cx="452.9" cy="269"/><circle cx="493.7" cy="269.7"/><circle cx="465.1" cy="283"/></g><g class="d"><circle cx="458" cy="278.9"/><circle cx="444" cy="287.7"/><circle cx="442.8" cy="287.3"/><circle cx="512.1" cy="279.8"/><circle cx="454.5" cy="275.7"/><circle cx="455.4" cy="274.6"/><circle cx="476.2" cy="272.5"/><circle cx="461.3" cy="268.9"/><circle cx="442.5" cy="284.5"/><circle cx="449.8" cy="277.1"/><circle cx="467.2" cy="286"/><circle cx="447.9" cy="279.1"/><circle cx="458.7" cy="284.1"/><circle cx="447.1" cy="286.6"/><circle cx="458.5" cy="285.1"/><circle cx="445.7" cy="281.7"/><circle cx="450.4" cy="283.9"/><circle cx="467" cy="278.7"/><circle cx="466.7" cy="282.7"/><circle cx="448" cy="278.4"/><circle cx="443.4" cy="285.6"/><circle cx="498.6" cy="252.7"/><circle cx="474.6" cy="271.3"/><circle cx="444.8" cy="282.8"/><circle cx="448.6" cy="282.7"/><circle cx="443.2" cy="287.1"/><circle cx="443.6" cy="281"/><circle cx="450.1" cy="282.7"/><circle cx="484.6" cy="245"/><circle cx="445.2" cy="282.3"/><circle cx="448" cy="271.8"/><circle cx="455.1" cy="267.8"/><circle cx="446.5" cy="282.9"/><circle cx="452.5" cy="284.3"/><circle cx="454.2" cy="277.9"/><circle cx="455.2" cy="277.6"/><circle cx="473" cy="281.8"/><circle cx="450.6" cy="282.3"/><circle cx="443.8" cy="284.2"/><circle cx="443.8" cy="270.1"/></g><g class="d"><circle cx="462.5" cy="272"/><circle cx="443.4" cy="287.5"/><circle cx="480.4" cy="253.5"/><circle cx="448.6" cy="269.4"/><circle cx="447.7" cy="281.4"/><circle cx="443.4" cy="265.6"/><circle cx="471" cy="270"/><circle cx="446.1" cy="287.4"/><circle cx="446.7" cy="281.7"/><circle cx="448.5" cy="272.1"/><circle cx="478.6" cy="261.8"/><circle cx="449" cy="281.3"/><circle cx="443.5" cy="283.7"/><circle cx="465.9" cy="278.4"/><circle cx="444.4" cy="279.4"/><circle cx="451.9" cy="277.3"/><circle cx="447.4" cy="277.7"/><circle cx="461.9" cy="276"/><circle cx="489.7" cy="238.9"/><circle cx="495.8" cy="244.3"/><circle cx="454.7" cy="283.1"/><circle cx="455.9" cy="281.5"/><circle cx="450.4" cy="274.4"/><circle cx="490.8" cy="252.2"/><circle cx="443.3" cy="286.3"/><circle cx="458.4" cy="282.1"/><circle cx="479.6" cy="267"/><circle cx="451.9" cy="278.9"/><circle cx="444.1" cy="286"/><circle cx="443.7" cy="284.2"/><circle cx="452" cy="275.3"/><circle cx="448.1" cy="285.7"/><circle cx="443.3" cy="275.3"/><circle cx="500.7" cy="229.2"/><circle cx="450.1" cy="278.7"/><circle cx="456.1" cy="277.7"/><circle cx="446.4" cy="278.3"/><circle cx="456.9" cy="280"/><circle cx="534.1" cy="242.8"/><circle cx="451.2" cy="287.3"/></g><g class="d"><circle cx="463.1" cy="269.6"/><circle cx="447.2" cy="285.4"/><circle cx="459.1" cy="281.3"/><circle cx="467.1" cy="263.5"/><circle cx="448.1" cy="275.5"/><circle cx="454.1" cy="276.3"/><circle cx="461" cy="273"/><circle cx="449.9" cy="287.3"/><circle cx="556.4" cy="260.6"/><circle cx="463" cy="279.1"/><circle cx="509.4" cy="233.3"/><circle cx="451.1" cy="283.2"/><circle cx="471.2" cy="264.6"/><circle cx="461.2" cy="276.6"/><circle cx="455.8" cy="275.5"/><circle cx="455.5" cy="278"/><circle cx="470.3" cy="261.3"/><circle cx="443.9" cy="286.2"/><circle cx="450.6" cy="281.6"/><circle cx="486.4" cy="260.9"/><circle cx="470.9" cy="265.3"/><circle cx="446.7" cy="285.3"/><circle cx="445.3" cy="279.6"/><circle cx="462.4" cy="278.2"/><circle cx="446.4" cy="282.1"/><circle cx="443.2" cy="279.9"/><circle cx="449.7" cy="278.7"/><circle cx="462.8" cy="272.7"/><circle cx="443" cy="277.2"/><circle cx="460.9" cy="282.7"/><circle cx="473.7" cy="249.5"/><circle cx="456.4" cy="277.4"/><circle cx="445" cy="285.1"/><circle cx="463" cy="268.5"/><circle cx="451.5" cy="273.1"/><circle cx="482.1" cy="229.8"/><circle cx="451.5" cy="284.6"/><circle cx="467.9" cy="260.6"/><circle cx="461.2" cy="269.8"/><circle cx="488.9" cy="281.3"/></g><g class="d"><circle cx="476.5" cy="274.9"/><circle cx="445.6" cy="285"/><circle cx="475.7" cy="266.5"/><circle cx="501.4" cy="278.5"/><circle cx="443.2" cy="285.2"/><circle cx="455.7" cy="278"/><circle cx="444.6" cy="284.3"/><circle cx="444.2" cy="280.7"/><circle cx="463" cy="279.8"/><circle cx="490.5" cy="254.7"/><circle cx="504.8" cy="244.9"/><circle cx="447.1" cy="287.8"/><circle cx="467.5" cy="282.2"/><circle cx="445.1" cy="283.9"/><circle cx="483.5" cy="279.6"/><circle cx="445.4" cy="283.6"/><circle cx="443.8" cy="288"/><circle cx="470.5" cy="272.4"/><circle cx="445.5" cy="275"/><circle cx="454.2" cy="278.9"/><circle cx="480.4" cy="278.7"/><circle cx="459.6" cy="281.3"/><circle cx="444.4" cy="284.2"/><circle cx="447.4" cy="282.5"/><circle cx="484.1" cy="263.4"/><circle cx="448.6" cy="285.5"/><circle cx="461.9" cy="275.2"/><circle cx="446.8" cy="283.2"/><circle cx="531" cy="273.4"/><circle cx="488" cy="257.1"/><circle cx="457.6" cy="287.5"/><circle cx="459.5" cy="279.3"/><circle cx="445.7" cy="281.6"/><circle cx="460.6" cy="276.7"/><circle cx="446.5" cy="270.2"/><circle cx="448.9" cy="286.1"/><circle cx="447.6" cy="282"/><circle cx="452.7" cy="282.3"/><circle cx="483" cy="267.1"/><circle cx="449.3" cy="286.9"/></g><g class="d"><circle cx="443.8" cy="281.9"/><circle cx="452.3" cy="282.4"/><circle cx="520.5" cy="252.6"/><circle cx="460.2" cy="277"/><circle cx="458.2" cy="268.5"/><circle cx="462.3" cy="271.7"/><circle cx="472.1" cy="258.1"/><circle cx="494.6" cy="251.3"/><circle cx="442.7" cy="282.3"/><circle cx="458.6" cy="271.2"/><circle cx="449.7" cy="284.5"/><circle cx="453.8" cy="280.1"/><circle cx="502.4" cy="237.2"/><circle cx="503.3" cy="247.2"/><circle cx="464.2" cy="277"/><circle cx="447.6" cy="278.7"/><circle cx="445.5" cy="282.9"/><circle cx="443.2" cy="287.9"/><circle cx="451.2" cy="282.8"/><circle cx="443.7" cy="283.7"/><circle cx="442.7" cy="286.6"/><circle cx="452.7" cy="283.2"/><circle cx="451.3" cy="280.8"/><circle cx="459.6" cy="282.2"/><circle cx="451.5" cy="286.8"/><circle cx="475.4" cy="249.7"/><circle cx="466.1" cy="272.2"/><circle cx="452.4" cy="277.8"/><circle cx="455.3" cy="284.6"/><circle cx="514.1" cy="271.7"/><circle cx="457" cy="279.5"/><circle cx="442.7" cy="279.9"/><circle cx="458.6" cy="283.2"/><circle cx="495.8" cy="268"/><circle cx="448" cy="284.6"/><circle cx="444.9" cy="282.6"/><circle cx="446.6" cy="285.1"/><circle cx="467.7" cy="265.1"/><circle cx="463.9" cy="278"/><circle cx="475.2" cy="268.3"/></g><g class="d"><circle cx="471.7" cy="260.5"/><circle cx="445.6" cy="285.4"/><circle cx="442.9" cy="283.4"/><circle cx="443.9" cy="285.8"/><circle cx="442.7" cy="287.7"/><circle cx="479.4" cy="249.9"/><circle cx="445.1" cy="285.7"/><circle cx="474.6" cy="263.1"/><circle cx="458.8" cy="284"/><circle cx="447.9" cy="287.1"/><circle cx="475.1" cy="273.5"/><circle cx="468.7" cy="261.7"/><circle cx="480.9" cy="277.7"/><circle cx="449.6" cy="280.5"/><circle cx="475.9" cy="262.3"/><circle cx="444.6" cy="274.6"/><circle cx="460.1" cy="278"/><circle cx="480.1" cy="273.9"/><circle cx="444.8" cy="287.4"/><circle cx="464.1" cy="268.4"/><circle cx="444.7" cy="284.6"/><circle cx="446.3" cy="287.2"/><circle cx="450" cy="282.5"/><circle cx="453" cy="279"/><circle cx="443.4" cy="287.1"/><circle cx="458.5" cy="278.9"/><circle cx="442.8" cy="288.4"/><circle cx="484.2" cy="285.5"/><circle cx="469.9" cy="261.9"/><circle cx="444.6" cy="287.3"/><circle cx="468.7" cy="276.7"/><circle cx="463.8" cy="269.2"/><circle cx="478.6" cy="279"/><circle cx="492.8" cy="276.7"/><circle cx="473.5" cy="254.3"/><circle cx="458" cy="283.4"/><circle cx="445" cy="288.3"/><circle cx="456.5" cy="276.9"/><circle cx="462.1" cy="273.8"/><circle cx="447.3" cy="282.8"/></g><g class="d"><circle cx="454" cy="277.8"/><circle cx="446.2" cy="283.4"/><circle cx="443.8" cy="283.9"/><circle cx="442.9" cy="286.5"/><circle cx="443" cy="284.2"/><circle cx="477.6" cy="267.6"/><circle cx="459.4" cy="275.7"/><circle cx="506.8" cy="238"/><circle cx="461.2" cy="283.1"/><circle cx="448.5" cy="270"/><circle cx="487.7" cy="259.6"/><circle cx="481.6" cy="258.8"/><circle cx="452.9" cy="275.5"/><circle cx="507.3" cy="235"/><circle cx="467.4" cy="256"/><circle cx="449.1" cy="282.9"/><circle cx="467" cy="267.9"/><circle cx="445.1" cy="281.9"/><circle cx="460.2" cy="267.9"/><circle cx="449.3" cy="280.5"/><circle cx="470.6" cy="266"/><circle cx="461.7" cy="276.9"/><circle cx="443.3" cy="287.4"/><circle cx="455" cy="278.9"/><circle cx="443.6" cy="285.3"/><circle cx="452.8" cy="283.6"/><circle cx="485" cy="259.1"/><circle cx="444.4" cy="285.8"/><circle cx="464.9" cy="274.8"/><circle cx="465.1" cy="275.5"/><circle cx="478.2" cy="252.1"/><circle cx="446.2" cy="279.9"/><circle cx="493.6" cy="237.6"/><circle cx="443.5" cy="278.6"/><circle cx="467.9" cy="270.4"/><circle cx="501.4" cy="226.9"/><circle cx="458.4" cy="280.9"/><circle cx="458.6" cy="279.5"/><circle cx="475.8" cy="264.9"/><circle cx="474.9" cy="257"/></g><g class="d"><circle cx="466.6" cy="263.5"/><circle cx="468" cy="264.2"/><circle cx="459.4" cy="283.1"/><circle cx="448.9" cy="277.8"/><circle cx="443.7" cy="287.7"/><circle cx="452.3" cy="285.4"/><circle cx="476.8" cy="274.1"/><circle cx="443.3" cy="285.6"/><circle cx="503.7" cy="269.9"/><circle cx="470.9" cy="275.6"/><circle cx="510" cy="277.5"/><circle cx="501.6" cy="235"/><circle cx="447.1" cy="287.8"/><circle cx="454.4" cy="284.4"/><circle cx="444.4" cy="286.7"/><circle cx="445.6" cy="285.9"/><circle cx="444.3" cy="279.1"/><circle cx="460.4" cy="264.2"/><circle cx="481.6" cy="261"/><circle cx="461.2" cy="273.3"/><circle cx="450.5" cy="274"/><circle cx="450.1" cy="286.7"/><circle cx="489.9" cy="251.5"/><circle cx="450.7" cy="273.4"/><circle cx="455.9" cy="285.5"/><circle cx="444.5" cy="287.3"/><circle cx="448.2" cy="272.7"/><circle cx="476.2" cy="262.6"/><circle cx="447.1" cy="283.5"/><circle cx="444.5" cy="286.2"/><circle cx="516.4" cy="261.3"/><circle cx="460.5" cy="286.2"/><circle cx="449.7" cy="284.5"/><circle cx="539.7" cy="286.3"/><circle cx="455.5" cy="282"/><circle cx="466.1" cy="249"/><circle cx="448.1" cy="286.4"/><circle cx="479.2" cy="282.1"/><circle cx="453.4" cy="279.3"/><circle cx="461.5" cy="279.8"/></g><g class="d"><circle cx="467.3" cy="276.4"/><circle cx="447.6" cy="285.7"/><circle cx="442.7" cy="285.9"/><circle cx="454.1" cy="283.5"/><circle cx="459.3" cy="283.2"/><circle cx="442.8" cy="284.6"/><circle cx="456.5" cy="264"/><circle cx="449.9" cy="276.8"/><circle cx="460.6" cy="274.3"/><circle cx="446.2" cy="270.3"/><circle cx="464.5" cy="267.9"/><circle cx="447.6" cy="283.6"/><circle cx="470" cy="267.8"/><circle cx="448.1" cy="275.2"/><circle cx="442.9" cy="286.8"/><circle cx="462.3" cy="269.2"/><circle cx="450" cy="283.6"/><circle cx="450.2" cy="283.9"/><circle cx="449.2" cy="285.4"/><circle cx="489.4" cy="243.4"/><circle cx="445.1" cy="275.6"/><circle cx="444.7" cy="285.1"/><circle cx="449.9" cy="285.9"/><circle cx="448.4" cy="274.9"/><circle cx="449.8" cy="281.2"/><circle cx="457.1" cy="283.8"/><circle cx="472.8" cy="268.3"/><circle cx="448.5" cy="275"/><circle cx="453" cy="286.4"/><circle cx="452" cy="279.3"/><circle cx="443.2" cy="284.3"/><circle cx="458.3" cy="275.6"/><circle cx="451.3" cy="285.3"/><circle cx="464.1" cy="284.3"/><circle cx="469.7" cy="273.7"/><circle cx="443.9" cy="286.4"/><circle cx="455" cy="278.2"/><circle cx="456.3" cy="286.6"/><circle cx="464.3" cy="256.5"/><circle cx="456.9" cy="261.9"/></g><g class="d"><circle cx="460" cy="278"/><circle cx="508.7" cy="271.6"/><circle cx="444" cy="270.3"/><circle cx="448.3" cy="280"/><circle cx="443.8" cy="266.2"/><circle cx="495.2" cy="255.3"/><circle cx="488.6" cy="247.7"/><circle cx="458.4" cy="274.1"/><circle cx="448.2" cy="285.4"/><circle cx="450.4" cy="283.9"/><circle cx="453.7" cy="281.3"/><circle cx="508.2" cy="272.5"/><circle cx="457.6" cy="275.6"/><circle cx="474.8" cy="248.1"/><circle cx="458.1" cy="283"/><circle cx="470.6" cy="261"/><circle cx="447.3" cy="283.9"/><circle cx="454.5" cy="281.8"/><circle cx="457.3" cy="276.7"/><circle cx="451" cy="266.9"/><circle cx="444.1" cy="285.4"/><circle cx="445.8" cy="285.3"/><circle cx="466.5" cy="279.6"/><circle cx="512.3" cy="257.9"/><circle cx="521.6" cy="271.1"/><circle cx="498" cy="268.8"/><circle cx="460.8" cy="266.2"/><circle cx="521.6" cy="243.7"/><circle cx="468.6" cy="268.2"/><circle cx="447.5" cy="285.7"/><circle cx="451.5" cy="281.1"/><circle cx="445.8" cy="281.8"/><circle cx="449.4" cy="287.8"/><circle cx="449.8" cy="284.8"/><circle cx="500.9" cy="231.3"/><circle cx="462.1" cy="267.1"/><circle cx="445.1" cy="283.4"/><circle cx="491.1" cy="279.3"/><circle cx="450.4" cy="286.9"/><circle cx="447.2" cy="282.5"/></g><g class="d"><circle cx="446" cy="271.5"/><circle cx="447.3" cy="281.2"/><circle cx="459.4" cy="269.9"/><circle cx="493.4" cy="243.5"/><circle cx="445.4" cy="284.1"/><circle cx="454.9" cy="287.4"/><circle cx="448" cy="265.9"/><circle cx="445.4" cy="285.5"/><circle cx="479.8" cy="258.4"/><circle cx="446.3" cy="282.7"/><circle cx="444.6" cy="281.6"/><circle cx="460.5" cy="279.7"/><circle cx="452.7" cy="282.6"/><circle cx="448.6" cy="276.7"/><circle cx="457.1" cy="279.2"/><circle cx="475.1" cy="258.2"/><circle cx="456.5" cy="280.1"/><circle cx="457.8" cy="285.1"/><circle cx="454.8" cy="282"/><circle cx="531.7" cy="286.6"/><circle cx="460.7" cy="275.1"/><circle cx="528.3" cy="218.8"/><circle cx="446.4" cy="282.8"/><circle cx="456.4" cy="267.9"/><circle cx="446.9" cy="287.2"/><circle cx="452.8" cy="280.3"/><circle cx="504.7" cy="280.2"/><circle cx="453.9" cy="267.6"/><circle cx="475.7" cy="267.4"/><circle cx="478.8" cy="240.5"/><circle cx="456.1" cy="283.9"/><circle cx="445.6" cy="286.1"/><circle cx="444.2" cy="281.4"/><circle cx="470.7" cy="272.6"/><circle cx="459.6" cy="269.6"/><circle cx="464.3" cy="280.4"/><circle cx="448.5" cy="262.9"/><circle cx="484.7" cy="262.1"/><circle cx="445.9" cy="280.1"/><circle cx="464.2" cy="274.9"/></g><g class="d"><circle cx="479.7" cy="258.5"/><circle cx="444.2" cy="285.1"/><circle cx="455.9" cy="282.9"/><circle cx="442.7" cy="286.1"/><circle cx="447.6" cy="281.1"/><circle cx="445.3" cy="287.2"/><circle cx="455.6" cy="285.1"/><circle cx="468.7" cy="257.2"/><circle cx="447.2" cy="280.7"/><circle cx="446.1" cy="286.2"/><circle cx="448.3" cy="281.3"/><circle cx="448" cy="285"/><circle cx="454.1" cy="274.8"/><circle cx="458.8" cy="282.9"/><circle cx="466.8" cy="278.7"/><circle cx="450.1" cy="278.5"/><circle cx="464.8" cy="276"/><circle cx="445.3" cy="284"/><circle cx="443.9" cy="284.9"/><circle cx="462" cy="283.1"/><circle cx="449.2" cy="277.7"/><circle cx="463.2" cy="266.8"/><circle cx="456.3" cy="283.1"/><circle cx="511.6" cy="276.4"/><circle cx="443.3" cy="284.6"/><circle cx="463.6" cy="275.6"/><circle cx="450.7" cy="279.5"/><circle cx="445.4" cy="284.2"/><circle cx="460.1" cy="284"/><circle cx="469.2" cy="280.3"/><circle cx="443.2" cy="282.7"/><circle cx="458.4" cy="286.3"/><circle cx="449" cy="278.6"/><circle cx="453" cy="284.5"/><circle cx="448.7" cy="285.2"/><circle cx="458.3" cy="273.3"/><circle cx="462.1" cy="286.6"/><circle cx="447" cy="276.6"/><circle cx="446.7" cy="283.3"/><circle cx="444.7" cy="283.4"/></g><g class="d"><circle cx="456" cy="276.3"/><circle cx="448.9" cy="275.3"/><circle cx="446.9" cy="285.5"/><circle cx="466.1" cy="258.4"/><circle cx="447.6" cy="285.9"/><circle cx="450.5" cy="269.8"/><circle cx="456.6" cy="286.5"/><circle cx="447.3" cy="288.3"/><circle cx="444.8" cy="285.4"/><circle cx="459.9" cy="277.2"/><circle cx="460.1" cy="282.8"/><circle cx="482.4" cy="263.6"/><circle cx="450.3" cy="281.4"/><circle cx="465.6" cy="270.4"/><circle cx="457.9" cy="270.8"/><circle cx="515.7" cy="220.1"/><circle cx="446.9" cy="285.9"/><circle cx="461.7" cy="283.3"/><circle cx="456.7" cy="275.7"/><circle cx="451.1" cy="279"/><circle cx="442.7" cy="278.5"/><circle cx="451.5" cy="282.7"/><circle cx="450.1" cy="283.2"/><circle cx="453.6" cy="278.8"/><circle cx="465.1" cy="273.4"/><circle cx="470.5" cy="255.7"/><circle cx="465.6" cy="266.1"/><circle cx="451" cy="281.9"/><circle cx="451.7" cy="286.5"/><circle cx="449.3" cy="276.6"/><circle cx="453.9" cy="272"/><circle cx="456.8" cy="282.8"/><circle cx="445.9" cy="284.4"/><circle cx="444" cy="270"/><circle cx="452.1" cy="283.1"/><circle cx="474.5" cy="256"/><circle cx="452.2" cy="280.4"/><circle cx="466.7" cy="280.1"/><circle cx="447.2" cy="284.6"/><circle cx="467.7" cy="262"/></g><g class="d"><circle cx="453.3" cy="284"/><circle cx="481.4" cy="279.2"/><circle cx="461.9" cy="279.1"/><circle cx="442.8" cy="288.1"/><circle cx="494.7" cy="279.1"/><circle cx="472.9" cy="261.2"/><circle cx="443.7" cy="287.9"/><circle cx="472.2" cy="246.7"/><circle cx="488.6" cy="242.7"/><circle cx="453.8" cy="278"/><circle cx="471.8" cy="274.6"/><circle cx="446.6" cy="284.1"/><circle cx="444.4" cy="287.4"/><circle cx="448" cy="285.1"/><circle cx="454.9" cy="259.6"/><circle cx="460.9" cy="278.4"/><circle cx="465.4" cy="278.2"/><circle cx="453.6" cy="280.6"/><circle cx="449.6" cy="254.9"/><circle cx="506.6" cy="275.8"/><circle cx="453" cy="275.8"/><circle cx="467.9" cy="269.6"/><circle cx="459.8" cy="277.4"/><circle cx="450.3" cy="281.4"/><circle cx="465.8" cy="273.1"/><circle cx="459.1" cy="271.9"/><circle cx="513.4" cy="233.9"/><circle cx="475.4" cy="281.8"/><circle cx="443.3" cy="287.9"/><circle cx="447.2" cy="285.6"/><circle cx="446.3" cy="284.7"/><circle cx="448.5" cy="276.6"/><circle cx="459" cy="277.7"/><circle cx="466.3" cy="270"/><circle cx="444.9" cy="282.6"/><circle cx="443" cy="278.6"/><circle cx="456.7" cy="266.5"/><circle cx="443.1" cy="288.2"/><circle cx="459.2" cy="282.4"/><circle cx="448.4" cy="278.1"/></g><g class="d"><circle cx="449.8" cy="283.7"/><circle cx="467.1" cy="278.1"/><circle cx="445.6" cy="286.3"/><circle cx="449.4" cy="273.5"/><circle cx="465" cy="274.4"/><circle cx="457" cy="271.7"/><circle cx="443.9" cy="286.4"/><circle cx="463.7" cy="273.7"/><circle cx="445.8" cy="286.3"/><circle cx="443.9" cy="283.2"/><circle cx="442.6" cy="286.7"/><circle cx="450.7" cy="284.3"/><circle cx="468.2" cy="278.7"/><circle cx="447.4" cy="285.1"/><circle cx="469.1" cy="269.6"/><circle cx="443" cy="273.6"/><circle cx="443.2" cy="283.2"/><circle cx="443.4" cy="280.7"/><circle cx="459" cy="270.9"/><circle cx="450.4" cy="287.2"/><circle cx="448" cy="285.7"/><circle cx="445.4" cy="282.5"/><circle cx="451" cy="281.2"/><circle cx="447.8" cy="276.7"/><circle cx="447.1" cy="278.3"/><circle cx="443.4" cy="285.7"/><circle cx="446.3" cy="280.3"/><circle cx="450" cy="283.1"/><circle cx="476.5" cy="269.1"/><circle cx="446.1" cy="281.6"/><circle cx="495.8" cy="275.3"/><circle cx="450.2" cy="279.1"/><circle cx="446.9" cy="274.6"/><circle cx="449.9" cy="278.4"/><circle cx="458.7" cy="274.2"/><circle cx="444.1" cy="269.8"/><circle cx="474" cy="270.2"/><circle cx="455.1" cy="280.3"/><circle cx="464.6" cy="284.3"/><circle cx="457.5" cy="273"/></g><g class="d"><circle cx="446.7" cy="285.2"/><circle cx="477.5" cy="261.7"/><circle cx="448.7" cy="284.4"/><circle cx="444.9" cy="286.1"/><circle cx="451.6" cy="282"/><circle cx="561.4" cy="280.9"/><circle cx="450.2" cy="285.2"/><circle cx="451.5" cy="273.8"/><circle cx="444.7" cy="287.1"/><circle cx="454.4" cy="277.3"/><circle cx="450.8" cy="286"/><circle cx="478.2" cy="256.4"/><circle cx="495.7" cy="252.9"/><circle cx="453.1" cy="279.4"/><circle cx="454.9" cy="277.5"/><circle cx="462.6" cy="268.9"/><circle cx="447.4" cy="285.3"/><circle cx="447.3" cy="282"/><circle cx="458.9" cy="279"/><circle cx="475.3" cy="283.3"/><circle cx="505.3" cy="230.8"/><circle cx="443.2" cy="284"/><circle cx="458.3" cy="280.8"/><circle cx="449.3" cy="285"/><circle cx="526.9" cy="223.4"/><circle cx="480.1" cy="263.7"/><circle cx="448.8" cy="283.2"/><circle cx="442.7" cy="285.7"/><circle cx="447" cy="283.7"/><circle cx="448.7" cy="287.2"/><circle cx="460.4" cy="275"/><circle cx="463.6" cy="273.8"/><circle cx="476.7" cy="250.9"/><circle cx="444.8" cy="285.9"/><circle cx="447.8" cy="281.5"/><circle cx="516.2" cy="260.8"/><circle cx="514.8" cy="247.1"/><circle cx="473.9" cy="272.3"/><circle cx="460.2" cy="275.7"/><circle cx="446.8" cy="284.3"/></g><g class="d"><circle cx="473.6" cy="287.2"/><circle cx="443.1" cy="282.2"/><circle cx="522.1" cy="214.9"/><circle cx="444.8" cy="283.5"/><circle cx="443.9" cy="287.9"/><circle cx="483.1" cy="242.1"/><circle cx="453.2" cy="281.6"/><circle cx="467.4" cy="272.2"/><circle cx="457.8" cy="281.7"/><circle cx="453" cy="277.1"/><circle cx="450" cy="280.3"/><circle cx="445.4" cy="279.2"/><circle cx="450.7" cy="284.2"/><circle cx="460.4" cy="277.7"/><circle cx="444" cy="275.3"/><circle cx="449.3" cy="286.7"/><circle cx="465.5" cy="271.1"/><circle cx="473" cy="282.1"/><circle cx="501.2" cy="239.8"/><circle cx="446.9" cy="273.2"/><circle cx="457.7" cy="278.7"/><circle cx="444.4" cy="281.6"/><circle cx="470.7" cy="285.3"/><circle cx="449.1" cy="282.3"/><circle cx="446.5" cy="280.9"/><circle cx="456.2" cy="276"/><circle cx="478.6" cy="265.8"/><circle cx="497" cy="266.7"/><circle cx="458.1" cy="276.1"/><circle cx="467" cy="272.3"/><circle cx="442.7" cy="279.6"/><circle cx="453.4" cy="260.3"/><circle cx="464.3" cy="271.5"/><circle cx="446.2" cy="285.9"/><circle cx="494.3" cy="234.3"/><circle cx="543.1" cy="285.3"/><circle cx="449.4" cy="284"/><circle cx="447.9" cy="267"/><circle cx="443.8" cy="286.9"/><circle cx="448.2" cy="285.5"/></g><g class="d"><circle cx="470.3" cy="284.1"/><circle cx="477.2" cy="276.9"/><circle cx="488.3" cy="237.4"/><circle cx="473.4" cy="273.5"/><circle cx="452.1" cy="277.2"/><circle cx="451.9" cy="273.4"/><circle cx="446.7" cy="285.5"/><circle cx="447.3" cy="285.4"/><circle cx="490.1" cy="274.9"/><circle cx="446.8" cy="284.9"/><circle cx="457.2" cy="276.8"/><circle cx="505.6" cy="259"/><circle cx="465.8" cy="277.4"/><circle cx="452.5" cy="281.1"/><circle cx="442.6" cy="279.3"/><circle cx="448.2" cy="271.8"/><circle cx="465.1" cy="269.7"/><circle cx="443.3" cy="287.5"/><circle cx="456.6" cy="282.2"/><circle cx="445.2" cy="287.3"/><circle cx="444.7" cy="286.2"/><circle cx="488.1" cy="272.1"/><circle cx="446.7" cy="284.9"/><circle cx="453.9" cy="275.5"/><circle cx="466.4" cy="280"/><circle cx="443.3" cy="286.7"/><circle cx="453" cy="281.1"/><circle cx="472.3" cy="250.7"/><circle cx="465.7" cy="270.6"/><circle cx="455.6" cy="279"/><circle cx="462.5" cy="279.7"/><circle cx="447" cy="283.9"/><circle cx="443.9" cy="278.7"/><circle cx="457.4" cy="261.9"/><circle cx="451" cy="286.4"/><circle cx="459.4" cy="272.4"/><circle cx="444.6" cy="283.9"/><circle cx="479.2" cy="271.7"/><circle cx="463.7" cy="272.5"/><circle cx="460.7" cy="283.1"/></g><g class="d"><circle cx="442.7" cy="282.4"/><circle cx="459.3" cy="268.1"/><circle cx="450.8" cy="279.4"/><circle cx="452" cy="280.1"/><circle cx="458.6" cy="278.2"/><circle cx="450.6" cy="276"/><circle cx="452" cy="272.5"/><circle cx="514.9" cy="273.7"/><circle cx="448.4" cy="281"/><circle cx="462.8" cy="284.3"/><circle cx="445.7" cy="283.4"/><circle cx="445.6" cy="285.1"/><circle cx="444" cy="277.1"/><circle cx="477.9" cy="249.1"/><circle cx="489.5" cy="265.4"/><circle cx="446.9" cy="278.5"/><circle cx="476.7" cy="259.4"/><circle cx="451.7" cy="280.2"/><circle cx="483.9" cy="274.8"/><circle cx="450.4" cy="274.5"/><circle cx="495.9" cy="269.8"/><circle cx="447.7" cy="278.4"/><circle cx="459.6" cy="276.3"/><circle cx="454" cy="288"/><circle cx="449.9" cy="279.8"/><circle cx="453.1" cy="284.8"/><circle cx="453.3" cy="285.6"/><circle cx="442.7" cy="282.6"/><circle cx="483.6" cy="253"/><circle cx="443.6" cy="272.5"/><circle cx="454.4" cy="276.4"/><circle cx="447.3" cy="281.1"/><circle cx="453.5" cy="269.4"/><circle cx="485.3" cy="245.3"/><circle cx="449.1" cy="283.1"/><circle cx="447.1" cy="286.3"/><circle cx="451.3" cy="287.5"/><circle cx="473.3" cy="263"/><circle cx="467.5" cy="273.6"/><circle cx="451.5" cy="267.8"/></g><g class="d"><circle cx="456.5" cy="275.9"/><circle cx="449.8" cy="280.9"/><circle cx="462.4" cy="282.7"/><circle cx="470" cy="257.8"/><circle cx="497.4" cy="265.6"/><circle cx="449.6" cy="282.5"/><circle cx="452.1" cy="281.6"/><circle cx="455" cy="279.9"/><circle cx="498.6" cy="269.2"/><circle cx="501.4" cy="273.6"/><circle cx="451" cy="283.1"/><circle cx="444.3" cy="287"/><circle cx="453.4" cy="279.4"/><circle cx="448.1" cy="281.9"/><circle cx="445.1" cy="282.7"/><circle cx="444.5" cy="287.3"/><circle cx="456.3" cy="285.7"/><circle cx="442.7" cy="286.7"/><circle cx="445.4" cy="287.4"/><circle cx="446.3" cy="280.2"/><circle cx="463.2" cy="277.7"/><circle cx="443.8" cy="282.4"/><circle cx="456.1" cy="283.7"/><circle cx="452.2" cy="276.4"/><circle cx="450.8" cy="281.1"/><circle cx="495.5" cy="271.4"/><circle cx="458" cy="280.6"/><circle cx="476.4" cy="272.9"/><circle cx="472.4" cy="261.4"/><circle cx="458.8" cy="274.8"/><circle cx="448.9" cy="280.3"/><circle cx="451.3" cy="275.6"/><circle cx="459.5" cy="266.3"/><circle cx="445" cy="287"/><circle cx="456.5" cy="272.1"/><circle cx="450.6" cy="276.9"/><circle cx="446.5" cy="281.7"/><circle cx="442.5" cy="287.5"/><circle cx="473.3" cy="276.4"/><circle cx="459.1" cy="269.6"/></g><g class="d"><circle cx="443.4" cy="287"/><circle cx="446.4" cy="285.5"/><circle cx="467.1" cy="266.6"/><circle cx="450.5" cy="277.1"/><circle cx="446.7" cy="282.3"/><circle cx="505.6" cy="238.8"/><circle cx="454.8" cy="282"/><circle cx="449" cy="285.6"/><circle cx="505" cy="265"/><circle cx="467.2" cy="267.2"/><circle cx="453.3" cy="286.1"/><circle cx="443.6" cy="284.3"/><circle cx="457.7" cy="279.4"/><circle cx="466.5" cy="282.4"/><circle cx="445.5" cy="282.5"/><circle cx="447.3" cy="284"/><circle cx="444.2" cy="286.2"/><circle cx="446.7" cy="284.6"/><circle cx="454.2" cy="271.3"/><circle cx="449.1" cy="282.5"/><circle cx="497.4" cy="217.6"/><circle cx="451.6" cy="282.2"/><circle cx="460.9" cy="260.5"/><circle cx="446.2" cy="284.3"/><circle cx="482.2" cy="260.5"/><circle cx="444.6" cy="278.3"/><circle cx="456.9" cy="269.1"/><circle cx="454.2" cy="267.5"/><circle cx="443.7" cy="282.8"/><circle cx="445.3" cy="278.3"/><circle cx="472.7" cy="253.6"/><circle cx="449.1" cy="285.1"/><circle cx="504" cy="256.5"/><circle cx="445.1" cy="284.1"/><circle cx="448.8" cy="273.4"/><circle cx="449.5" cy="284.6"/><circle cx="445" cy="286.7"/><circle cx="449.5" cy="280.4"/><circle cx="455.8" cy="201.2"/><circle cx="445.2" cy="285.7"/></g><g class="d"><circle cx="448.4" cy="285.7"/><circle cx="454" cy="277.5"/><circle cx="449.1" cy="285.5"/><circle cx="523.6" cy="240.1"/><circle cx="444.3" cy="285.6"/><circle cx="460.2" cy="277.5"/><circle cx="467.8" cy="262.9"/><circle cx="448" cy="285.8"/><circle cx="471.3" cy="280.9"/><circle cx="447.5" cy="269.1"/><circle cx="444" cy="285.8"/><circle cx="442.6" cy="286.9"/><circle cx="444.6" cy="286.6"/><circle cx="456.1" cy="282.3"/><circle cx="452.2" cy="282.5"/><circle cx="465.1" cy="263.6"/><circle cx="447.8" cy="287"/><circle cx="456.6" cy="274.2"/><circle cx="465" cy="270.6"/><circle cx="486.1" cy="266.4"/><circle cx="471.9" cy="278.6"/><circle cx="450" cy="284.2"/><circle cx="448.9" cy="282.5"/><circle cx="461.2" cy="272.9"/><circle cx="459.6" cy="280.6"/><circle cx="493.6" cy="261.6"/><circle cx="449.8" cy="282"/><circle cx="452.2" cy="276.2"/><circle cx="464.8" cy="261"/><circle cx="471.1" cy="279.2"/><circle cx="457.6" cy="284.2"/><circle cx="450.5" cy="282.5"/><circle cx="456.7" cy="275.4"/><circle cx="443.8" cy="286.6"/><circle cx="507.4" cy="218.6"/><circle cx="475.2" cy="262.2"/><circle cx="449" cy="287.9"/><circle cx="449.6" cy="276.8"/><circle cx="457.5" cy="264.5"/><circle cx="476.4" cy="250.8"/></g><g class="d"><circle cx="444.9" cy="287.4"/><circle cx="473.5" cy="262"/><circle cx="458.3" cy="283.9"/><circle cx="450.7" cy="282.9"/><circle cx="457.3" cy="277.1"/><circle cx="454.8" cy="278"/><circle cx="451.4" cy="283.6"/><circle cx="460.1" cy="279.9"/><circle cx="462.7" cy="279.6"/><circle cx="477.7" cy="268.8"/><circle cx="450" cy="284.8"/><circle cx="443.7" cy="285.1"/><circle cx="467.6" cy="278.7"/><circle cx="459.5" cy="276.6"/><circle cx="487.4" cy="268"/><circle cx="475.1" cy="265.1"/><circle cx="466.5" cy="282.7"/><circle cx="442.7" cy="285.6"/><circle cx="447.8" cy="275.4"/><circle cx="467.3" cy="271.8"/><circle cx="494.8" cy="258.4"/><circle cx="466.8" cy="276.1"/><circle cx="495.3" cy="259.8"/><circle cx="459.4" cy="285.2"/><circle cx="443.5" cy="288.1"/><circle cx="467.3" cy="269.5"/><circle cx="451.3" cy="277.8"/><circle cx="445.9" cy="282.1"/><circle cx="442.5" cy="274.1"/><circle cx="478.1" cy="258.1"/><circle cx="453" cy="280.3"/><circle cx="448" cy="287.6"/><circle cx="447.3" cy="279.8"/><circle cx="455.4" cy="277"/><circle cx="452.7" cy="281.6"/><circle cx="491.9" cy="240.2"/><circle cx="484.9" cy="269.6"/><circle cx="465.3" cy="279.5"/><circle cx="456.2" cy="281.1"/><circle cx="481.1" cy="283.6"/></g><g class="d"><circle cx="446.3" cy="282.2"/><circle cx="527.2" cy="224.4"/><circle cx="452" cy="282.8"/><circle cx="444.7" cy="287"/><circle cx="451.2" cy="283.8"/><circle cx="498.8" cy="245.4"/><circle cx="485.6" cy="257.3"/><circle cx="443.6" cy="282.7"/><circle cx="484.7" cy="270.2"/><circle cx="518.2" cy="211.7"/><circle cx="448.2" cy="288.1"/><circle cx="446.3" cy="284.4"/><circle cx="444.3" cy="285.6"/><circle cx="455.4" cy="278.2"/><circle cx="444.6" cy="282.3"/><circle cx="448.2" cy="283.1"/><circle cx="454.1" cy="285.3"/><circle cx="539.3" cy="255.3"/><circle cx="450.8" cy="279.8"/><circle cx="446.9" cy="272.7"/><circle cx="446.1" cy="275.2"/><circle cx="472.2" cy="282.6"/><circle cx="519.9" cy="282.7"/><circle cx="469" cy="260.8"/><circle cx="443.7" cy="276.7"/><circle cx="442.9" cy="280.9"/><circle cx="482.4" cy="267.2"/><circle cx="451.5" cy="279"/><circle cx="454.9" cy="282.9"/><circle cx="451.3" cy="278.5"/><circle cx="457.9" cy="273.9"/><circle cx="446.2" cy="285.7"/><circle cx="444.8" cy="280.8"/><circle cx="443.3" cy="279.3"/><circle cx="497.4" cy="240.9"/><circle cx="456" cy="280.3"/><circle cx="452.8" cy="273.2"/><circle cx="449.8" cy="285.2"/><circle cx="495.9" cy="232.7"/><circle cx="446" cy="288"/></g><g class="d"><circle cx="445.6" cy="282.9"/><circle cx="442.9" cy="287.7"/><circle cx="443.2" cy="285.3"/><circle cx="469.1" cy="280.2"/><circle cx="445.1" cy="284.7"/><circle cx="522" cy="225.3"/><circle cx="444.9" cy="279"/><circle cx="454.8" cy="266.8"/><circle cx="451.8" cy="279.1"/><circle cx="462.7" cy="281.3"/><circle cx="469.7" cy="280.8"/><circle cx="510" cy="216.1"/><circle cx="446.8" cy="278.9"/><circle cx="472.8" cy="273.2"/><circle cx="450" cy="283.6"/><circle cx="453.8" cy="286.2"/><circle cx="469.4" cy="272.3"/><circle cx="447.2" cy="284.4"/><circle cx="447.4" cy="285.8"/><circle cx="458.5" cy="264.8"/><circle cx="443.9" cy="287.2"/><circle cx="492.7" cy="274.8"/><circle cx="443.3" cy="285.7"/><circle cx="448.7" cy="279.8"/><circle cx="444.3" cy="286.3"/><circle cx="461.4" cy="270"/><circle cx="451.2" cy="283.3"/><circle cx="465.5" cy="274.4"/><circle cx="451.7" cy="277.8"/><circle cx="448.4" cy="264.9"/><circle cx="464.2" cy="262.8"/><circle cx="447.2" cy="283.9"/><circle cx="489.7" cy="261.5"/><circle cx="443.4" cy="283.5"/><circle cx="464.5" cy="271.3"/><circle cx="453.2" cy="284.1"/><circle cx="445.5" cy="274.1"/><circle cx="446.9" cy="255.8"/><circle cx="451" cy="276.5"/><circle cx="457.6" cy="279.7"/></g><g class="d"><circle cx="474.6" cy="254.9"/><circle cx="443.3" cy="285.3"/><circle cx="445.1" cy="287.4"/><circle cx="449.4" cy="266.3"/><circle cx="477.2" cy="254.6"/><circle cx="458.1" cy="280.9"/><circle cx="447.3" cy="277.2"/><circle cx="446.2" cy="275"/><circle cx="449.3" cy="284.9"/><circle cx="486.9" cy="257.3"/><circle cx="452.2" cy="278.9"/><circle cx="445" cy="285.8"/><circle cx="455" cy="274.7"/><circle cx="461.6" cy="257.5"/><circle cx="444.1" cy="285.2"/><circle cx="444" cy="287.2"/><circle cx="454.1" cy="280.3"/><circle cx="447.2" cy="280.2"/><circle cx="452.4" cy="287.4"/><circle cx="507" cy="263.8"/><circle cx="460.9" cy="274.5"/><circle cx="461.1" cy="278.4"/><circle cx="446.2" cy="283.1"/><circle cx="451.2" cy="272.3"/><circle cx="472.4" cy="262.7"/><circle cx="450.2" cy="280.6"/><circle cx="442.7" cy="286.5"/><circle cx="445.6" cy="287.1"/><circle cx="489.1" cy="240.3"/><circle cx="452.4" cy="279.2"/><circle cx="450.2" cy="284.5"/><circle cx="488.4" cy="259"/><circle cx="452.6" cy="270.6"/><circle cx="466.5" cy="265.4"/><circle cx="448.7" cy="282.4"/><circle cx="449.4" cy="281.1"/><circle cx="452.7" cy="275"/><circle cx="444.1" cy="284"/><circle cx="500.9" cy="276.6"/><circle cx="462.9" cy="276"/></g><g class="d"><circle cx="446.1" cy="280.4"/><circle cx="447.5" cy="272.9"/><circle cx="472.9" cy="254.7"/><circle cx="444.6" cy="280.7"/><circle cx="451" cy="280.3"/><circle cx="444.7" cy="285.9"/><circle cx="451.8" cy="283.3"/><circle cx="451.8" cy="281.7"/><circle cx="478.8" cy="253.3"/><circle cx="491.1" cy="285.6"/><circle cx="443.6" cy="285.5"/><circle cx="472.3" cy="263.6"/><circle cx="483.1" cy="249.3"/><circle cx="476.8" cy="276.3"/><circle cx="450.2" cy="282.3"/><circle cx="459" cy="266.4"/><circle cx="443.3" cy="269.9"/><circle cx="450.4" cy="284.8"/><circle cx="447.6" cy="279.2"/><circle cx="457.3" cy="272.1"/><circle cx="442.7" cy="284.6"/><circle cx="448" cy="287.1"/><circle cx="450.5" cy="282.4"/><circle cx="484" cy="263.3"/><circle cx="507.6" cy="253.2"/><circle cx="445.5" cy="278.6"/><circle cx="471.8" cy="267.7"/><circle cx="448.6" cy="284.8"/><circle cx="468.5" cy="280.6"/><circle cx="448.9" cy="283.3"/><circle cx="490.1" cy="237.9"/><circle cx="448.1" cy="285.6"/><circle cx="455.4" cy="285.9"/><circle cx="488.6" cy="244.3"/><circle cx="483.9" cy="253.2"/><circle cx="445.4" cy="286"/><circle cx="461.1" cy="265"/><circle cx="442.8" cy="281.1"/><circle cx="451.8" cy="278.4"/><circle cx="447.8" cy="284.3"/></g><g class="d"><circle cx="452.1" cy="285.2"/><circle cx="457" cy="282.1"/><circle cx="449.8" cy="280.1"/><circle cx="443.7" cy="285.7"/><circle cx="442.7" cy="288"/><circle cx="470.4" cy="264"/><circle cx="442.9" cy="282.5"/><circle cx="460.4" cy="279.1"/><circle cx="453.6" cy="286.7"/><circle cx="476.4" cy="275.5"/><circle cx="453.5" cy="271.8"/><circle cx="446.7" cy="285.3"/><circle cx="464.6" cy="271.1"/><circle cx="448.3" cy="272.4"/><circle cx="445.5" cy="284.2"/><circle cx="442.5" cy="270.9"/><circle cx="456.8" cy="280.2"/><circle cx="460" cy="277.8"/><circle cx="475.4" cy="257.1"/><circle cx="451.7" cy="282.4"/><circle cx="490.5" cy="255.3"/><circle cx="451.4" cy="285.2"/><circle cx="486.3" cy="283.4"/><circle cx="455.9" cy="263.6"/><circle cx="533.7" cy="251.1"/><circle cx="446.4" cy="276.8"/><circle cx="447.1" cy="279.8"/><circle cx="443.7" cy="281.1"/><circle cx="445.8" cy="284.3"/><circle cx="444.8" cy="275.5"/><circle cx="450.3" cy="280.1"/><circle cx="448.5" cy="279.2"/><circle cx="472.8" cy="282.2"/><circle cx="463.1" cy="284.2"/><circle cx="447.8" cy="286.4"/><circle cx="447.5" cy="282.2"/><circle cx="443.8" cy="286.2"/><circle cx="455.7" cy="285.9"/><circle cx="447.5" cy="285.2"/><circle cx="487.2" cy="278.3"/></g><g class="d"><circle cx="453.5" cy="265.6"/><circle cx="442.9" cy="288.4"/><circle cx="461.9" cy="283.7"/><circle cx="460.1" cy="281.9"/><circle cx="472.9" cy="274.4"/><circle cx="454.6" cy="280.8"/><circle cx="532.4" cy="279.4"/><circle cx="448.9" cy="284.1"/><circle cx="448.2" cy="283.5"/><circle cx="475.4" cy="259"/><circle cx="519.9" cy="229.1"/><circle cx="502.2" cy="238"/><circle cx="513" cy="215.5"/><circle cx="459.8" cy="284.8"/><circle cx="467.8" cy="280.2"/><circle cx="443.8" cy="283.4"/><circle cx="453.3" cy="283.9"/><circle cx="446.5" cy="276.1"/><circle cx="445.7" cy="279"/><circle cx="478.3" cy="264.5"/><circle cx="467.3" cy="257.5"/><circle cx="453.8" cy="268.2"/><circle cx="448.4" cy="283"/><circle cx="450.3" cy="285"/><circle cx="445.2" cy="287.4"/><circle cx="527.5" cy="278.6"/><circle cx="451.4" cy="285.8"/><circle cx="451.6" cy="280.2"/><circle cx="445.5" cy="283.9"/><circle cx="463.8" cy="274"/><circle cx="443.3" cy="285.7"/><circle cx="445.7" cy="285.8"/><circle cx="444.5" cy="285.7"/><circle cx="456.9" cy="273.8"/><circle cx="463.5" cy="278.8"/><circle cx="452.8" cy="280.3"/><circle cx="450.8" cy="285.8"/><circle cx="445.8" cy="280.3"/><circle cx="450.3" cy="280.9"/><circle cx="442.8" cy="276.4"/></g><g class="d"><circle cx="455.8" cy="284"/><circle cx="449.2" cy="281"/><circle cx="449.4" cy="283.4"/><circle cx="449.6" cy="283"/><circle cx="445.7" cy="284"/><circle cx="457.9" cy="269.8"/><circle cx="447.8" cy="284.8"/><circle cx="458.7" cy="278.1"/><circle cx="445.5" cy="279.1"/><circle cx="454.7" cy="276.7"/><circle cx="454.8" cy="274.8"/><circle cx="471.9" cy="271.1"/><circle cx="452.7" cy="277.6"/><circle cx="475.7" cy="265.7"/><circle cx="447" cy="282.9"/><circle cx="452.5" cy="273.9"/><circle cx="446.6" cy="286"/><circle cx="451.8" cy="284"/><circle cx="467.5" cy="274.4"/><circle cx="446" cy="282.6"/><circle cx="449.8" cy="285"/><circle cx="445.4" cy="281.2"/><circle cx="462.9" cy="279.1"/><circle cx="471.6" cy="257.4"/><circle cx="457" cy="282.1"/><circle cx="446.1" cy="286.8"/><circle cx="481.7" cy="262"/><circle cx="450.5" cy="281.6"/><circle cx="450.4" cy="272.1"/><circle cx="464.9" cy="275.2"/><circle cx="476.3" cy="275.6"/><circle cx="460.9" cy="267.1"/><circle cx="443.3" cy="286.5"/><circle cx="449.7" cy="285.9"/><circle cx="460.3" cy="278.2"/><circle cx="504.9" cy="266.8"/><circle cx="459" cy="274.3"/><circle cx="472.5" cy="280.7"/><circle cx="469.4" cy="274.7"/><circle cx="451.9" cy="282.1"/></g><g class="d"><circle cx="472.9" cy="270.8"/><circle cx="465.9" cy="271.9"/><circle cx="445.5" cy="285"/><circle cx="443.2" cy="285.5"/><circle cx="450.7" cy="282.6"/><circle cx="444.9" cy="282.2"/><circle cx="505.6" cy="260.1"/><circle cx="446.1" cy="282.6"/><circle cx="446.8" cy="277.1"/><circle cx="451.7" cy="286.3"/><circle cx="444.4" cy="275"/><circle cx="442.7" cy="285.1"/><circle cx="445.5" cy="286.6"/><circle cx="443.9" cy="281"/><circle cx="458.9" cy="265.1"/><circle cx="453.5" cy="283.3"/><circle cx="460.1" cy="280.1"/><circle cx="556.8" cy="260.6"/><circle cx="461.7" cy="271.3"/><circle cx="442.8" cy="273.4"/><circle cx="443.3" cy="277.8"/><circle cx="443.6" cy="281.9"/><circle cx="442.9" cy="286.9"/><circle cx="459.2" cy="276.7"/><circle cx="445.2" cy="272"/><circle cx="445.2" cy="284.9"/><circle cx="455.9" cy="269.4"/><circle cx="466.9" cy="264.8"/><circle cx="444" cy="276.1"/><circle cx="446.5" cy="283.6"/><circle cx="485.3" cy="282.4"/><circle cx="447.5" cy="281"/><circle cx="465.9" cy="275.3"/><circle cx="466.7" cy="278.9"/><circle cx="452.7" cy="273.5"/><circle cx="474.9" cy="272.7"/><circle cx="443.1" cy="287.2"/><circle cx="453.2" cy="277.2"/><circle cx="447.8" cy="284.2"/><circle cx="446.4" cy="280"/></g><g class="d"><circle cx="447.2" cy="287.2"/><circle cx="475.4" cy="266.9"/><circle cx="482.5" cy="261.9"/><circle cx="444.4" cy="277.6"/><circle cx="467.9" cy="281.9"/><circle cx="445.1" cy="280.6"/><circle cx="473.1" cy="288"/><circle cx="481.1" cy="257.8"/><circle cx="467" cy="269.6"/><circle cx="446.3" cy="280"/><circle cx="457.9" cy="261.7"/><circle cx="464.4" cy="281.5"/><circle cx="443.9" cy="287.3"/><circle cx="443.3" cy="286.8"/><circle cx="489.5" cy="267.1"/><circle cx="455.9" cy="279.6"/><circle cx="446.9" cy="284.2"/><circle cx="542.5" cy="244.7"/><circle cx="489.7" cy="239.5"/><circle cx="504.9" cy="283.2"/><circle cx="491.1" cy="227.1"/><circle cx="455.1" cy="278"/><circle cx="449.8" cy="286.7"/><circle cx="453.1" cy="284.4"/><circle cx="450.2" cy="286.7"/><circle cx="449" cy="285.9"/><circle cx="515.8" cy="240"/><circle cx="443.5" cy="287.4"/><circle cx="447.7" cy="279.8"/><circle cx="531.4" cy="250.8"/><circle cx="459.5" cy="279.2"/><circle cx="479.9" cy="264.1"/><circle cx="456.9" cy="279.1"/><circle cx="459.5" cy="267.8"/><circle cx="446" cy="277.7"/><circle cx="449.1" cy="278.5"/><circle cx="446" cy="285.9"/><circle cx="453.8" cy="275.4"/><circle cx="451.6" cy="279.5"/><circle cx="467.5" cy="283.2"/></g><g class="d"><circle cx="443.8" cy="284.8"/><circle cx="456.9" cy="282.8"/><circle cx="474.7" cy="280.3"/><circle cx="492.2" cy="278.4"/><circle cx="443.1" cy="286.5"/><circle cx="447.1" cy="280.8"/><circle cx="515.2" cy="251.5"/><circle cx="445.6" cy="286.4"/><circle cx="459.8" cy="285.6"/><circle cx="453.3" cy="285"/><circle cx="449" cy="286.5"/><circle cx="488.6" cy="276.8"/><circle cx="450.3" cy="284.5"/><circle cx="452.8" cy="278.2"/><circle cx="460.5" cy="284.8"/><circle cx="453.2" cy="279.4"/><circle cx="449.8" cy="283.2"/><circle cx="464.8" cy="280.4"/><circle cx="444.9" cy="286"/><circle cx="446.9" cy="280.5"/><circle cx="484.2" cy="260.3"/><circle cx="455.8" cy="282.9"/><circle cx="467.4" cy="266.2"/><circle cx="526.9" cy="252.3"/><circle cx="461.5" cy="280.3"/><circle cx="454.9" cy="286.7"/><circle cx="461.7" cy="271.4"/><circle cx="482.2" cy="263.9"/><circle cx="444.1" cy="284.3"/><circle cx="451.2" cy="285"/><circle cx="459.2" cy="284"/><circle cx="500.7" cy="268.5"/><circle cx="458.2" cy="286"/><circle cx="481.7" cy="247.6"/><circle cx="471.1" cy="279.2"/><circle cx="449.3" cy="284.5"/><circle cx="449.1" cy="271.1"/><circle cx="445.9" cy="282.7"/><circle cx="473.2" cy="283.2"/><circle cx="453.9" cy="283.8"/></g><g class="d"><circle cx="460.2" cy="276.6"/><circle cx="458.1" cy="285.4"/><circle cx="450.7" cy="268"/><circle cx="443.3" cy="286.2"/><circle cx="458.4" cy="280.2"/><circle cx="459.3" cy="284.5"/><circle cx="444" cy="285.5"/><circle cx="462.8" cy="283.2"/><circle cx="443.7" cy="276.3"/><circle cx="451" cy="268.1"/><circle cx="474.2" cy="281.7"/><circle cx="450.2" cy="286.5"/><circle cx="469.7" cy="282.6"/><circle cx="459.4" cy="279.8"/><circle cx="467.2" cy="283.6"/><circle cx="453.5" cy="276.6"/><circle cx="453.6" cy="284.4"/><circle cx="467.7" cy="268.2"/><circle cx="493.7" cy="241.8"/><circle cx="467" cy="267.3"/><circle cx="484.5" cy="258.2"/><circle cx="494.8" cy="280.7"/><circle cx="465.6" cy="276"/><circle cx="537.7" cy="238.8"/><circle cx="444.3" cy="286.2"/><circle cx="452.5" cy="283.7"/><circle cx="452.9" cy="262.2"/><circle cx="451.7" cy="285.9"/><circle cx="464.5" cy="274.6"/><circle cx="457" cy="284.1"/><circle cx="510" cy="232.1"/><circle cx="472.3" cy="279.3"/><circle cx="449.6" cy="279.4"/><circle cx="446.9" cy="279.1"/><circle cx="474.6" cy="269.8"/><circle cx="488.8" cy="283.3"/><circle cx="466.9" cy="278.9"/><circle cx="464.9" cy="270"/><circle cx="442.7" cy="288.2"/><circle cx="476.1" cy="233.4"/></g><g class="d"><circle cx="445.7" cy="277.3"/><circle cx="447.5" cy="272.5"/><circle cx="456.5" cy="287.3"/><circle cx="459.6" cy="272.3"/><circle cx="450.6" cy="270.8"/><circle cx="446.9" cy="280.7"/><circle cx="462.1" cy="279"/><circle cx="464.9" cy="285.6"/><circle cx="461.8" cy="281.7"/><circle cx="444.7" cy="283.7"/><circle cx="451.1" cy="279.3"/><circle cx="443.3" cy="286.7"/><circle cx="445.5" cy="286.7"/><circle cx="471.6" cy="280.5"/><circle cx="513.1" cy="261.6"/><circle cx="456.4" cy="266.7"/><circle cx="467.5" cy="287.8"/><circle cx="443.7" cy="287.7"/><circle cx="457.4" cy="275.8"/><circle cx="446.4" cy="284.3"/><circle cx="453.4" cy="281.8"/><circle cx="457.9" cy="277.3"/><circle cx="454" cy="287"/><circle cx="450.5" cy="280.9"/><circle cx="454.9" cy="281.6"/><circle cx="444.4" cy="287"/><circle cx="462.4" cy="264"/><circle cx="456.3" cy="280.4"/><circle cx="450.7" cy="285.6"/><circle cx="460.2" cy="284.7"/><circle cx="461" cy="273.5"/><circle cx="479.1" cy="279.5"/><circle cx="443.5" cy="285.8"/><circle cx="448.4" cy="282.8"/><circle cx="443.4" cy="277.7"/><circle cx="443.1" cy="280.9"/><circle cx="486" cy="280.1"/><circle cx="444.4" cy="276.3"/><circle cx="449.2" cy="279.1"/><circle cx="444.2" cy="280.4"/></g><g class="d"><circle cx="482" cy="264.2"/><circle cx="502.8" cy="286.9"/><circle cx="450" cy="281.8"/><circle cx="449.8" cy="270.2"/><circle cx="453.8" cy="271.5"/><circle cx="442.9" cy="285.8"/><circle cx="504" cy="228"/><circle cx="445.4" cy="286.7"/><circle cx="505.2" cy="243.6"/><circle cx="475.3" cy="265.6"/><circle cx="469.3" cy="275.8"/><circle cx="448.3" cy="286.1"/><circle cx="487.3" cy="248.2"/><circle cx="468.6" cy="248.4"/><circle cx="465.8" cy="264.5"/><circle cx="457.3" cy="266.6"/><circle cx="449.2" cy="285.7"/><circle cx="442.7" cy="279.8"/><circle cx="449.7" cy="284.6"/><circle cx="451.1" cy="284"/><circle cx="444.5" cy="283.1"/><circle cx="443.2" cy="281.4"/><circle cx="445.3" cy="285.5"/><circle cx="455" cy="283.7"/><circle cx="448" cy="285.1"/><circle cx="457.5" cy="270.9"/><circle cx="458.9" cy="279.9"/><circle cx="445.2" cy="285.8"/><circle cx="459.7" cy="268.7"/><circle cx="457.1" cy="278.6"/><circle cx="444.5" cy="283.3"/><circle cx="459.3" cy="273"/><circle cx="460" cy="273.3"/><circle cx="450.8" cy="283.3"/><circle cx="461" cy="278.9"/><circle cx="467" cy="263.9"/><circle cx="452.3" cy="285.8"/><circle cx="450.9" cy="274.3"/><circle cx="443.5" cy="284.1"/><circle cx="443.3" cy="288"/></g><g class="d"><circle cx="451" cy="281.9"/><circle cx="527.3" cy="272.5"/><circle cx="467.9" cy="263.1"/><circle cx="457.9" cy="285"/><circle cx="458.2" cy="271"/><circle cx="501.7" cy="265.5"/><circle cx="449.9" cy="277.5"/><circle cx="444.2" cy="280.1"/><circle cx="447.3" cy="285.1"/><circle cx="442.6" cy="285.8"/><circle cx="442.6" cy="283.4"/><circle cx="446.1" cy="277.6"/><circle cx="453.8" cy="286.9"/><circle cx="445.5" cy="285.9"/><circle cx="463.5" cy="274"/><circle cx="444.8" cy="286.4"/><circle cx="468.8" cy="262.8"/><circle cx="495.5" cy="228.3"/><circle cx="448.8" cy="284.9"/><circle cx="462.7" cy="270.9"/><circle cx="488.3" cy="245.8"/><circle cx="444.7" cy="281.5"/><circle cx="479.2" cy="256.8"/><circle cx="450.6" cy="282.7"/><circle cx="451.1" cy="274.2"/><circle cx="443.5" cy="287.7"/><circle cx="452.3" cy="278.8"/><circle cx="445.9" cy="279"/><circle cx="458.1" cy="272.8"/><circle cx="442.6" cy="282"/><circle cx="443.5" cy="272.7"/><circle cx="457.6" cy="261.6"/><circle cx="459.7" cy="270.4"/><circle cx="452" cy="287.9"/><circle cx="495.9" cy="273.1"/><circle cx="500.1" cy="249.6"/><circle cx="450.7" cy="284.3"/><circle cx="454.4" cy="285.9"/><circle cx="446.2" cy="277.2"/><circle cx="451" cy="279.5"/></g><g class="d"><circle cx="447.4" cy="279.9"/><circle cx="446.2" cy="287.2"/><circle cx="443.3" cy="287"/><circle cx="444.7" cy="279.9"/><circle cx="479.5" cy="272.6"/><circle cx="455.7" cy="264.8"/><circle cx="447.6" cy="276.6"/><circle cx="539.5" cy="235.8"/><circle cx="466.5" cy="285.2"/><circle cx="443.9" cy="278.3"/><circle cx="443.2" cy="284.9"/><circle cx="444.3" cy="287.9"/><circle cx="452.3" cy="277"/><circle cx="447.6" cy="285"/><circle cx="485.9" cy="242.5"/><circle cx="443.9" cy="287.3"/><circle cx="457" cy="275.1"/><circle cx="445.7" cy="278.4"/><circle cx="518.8" cy="222.2"/><circle cx="443.7" cy="286.1"/><circle cx="442.9" cy="280.3"/><circle cx="450.8" cy="273.4"/><circle cx="507.6" cy="223.3"/><circle cx="447.5" cy="284.8"/><circle cx="495.1" cy="267.3"/><circle cx="453.3" cy="285.3"/><circle cx="445.4" cy="286.9"/><circle cx="458.8" cy="257.4"/><circle cx="443.1" cy="283.5"/><circle cx="468.8" cy="248.6"/><circle cx="510.5" cy="259.7"/><circle cx="461.3" cy="284.9"/><circle cx="443.3" cy="287.1"/><circle cx="444.8" cy="284.2"/><circle cx="470.8" cy="259.2"/><circle cx="496.9" cy="260.5"/><circle cx="467" cy="257.6"/><circle cx="457.3" cy="274.5"/><circle cx="466.8" cy="276.3"/><circle cx="462.9" cy="278.1"/></g><g class="d"><circle cx="460.7" cy="270.6"/><circle cx="460.3" cy="276.9"/><circle cx="460.6" cy="281"/><circle cx="448.5" cy="283.2"/><circle cx="447.4" cy="277.2"/><circle cx="445.7" cy="283.2"/><circle cx="489.1" cy="275.9"/><circle cx="447.2" cy="268.7"/><circle cx="489.6" cy="273.7"/><circle cx="449.4" cy="282.1"/><circle cx="455.5" cy="257.9"/><circle cx="463.6" cy="276.4"/><circle cx="455.6" cy="287.5"/><circle cx="463.6" cy="285"/><circle cx="448.3" cy="277.6"/><circle cx="447.5" cy="287.2"/><circle cx="488.7" cy="249.2"/><circle cx="443.1" cy="287.1"/><circle cx="471.2" cy="266.4"/><circle cx="451.3" cy="286.2"/><circle cx="471.8" cy="271"/><circle cx="460.4" cy="277.6"/><circle cx="453.4" cy="283.5"/><circle cx="450.6" cy="280.9"/><circle cx="452.4" cy="277.5"/><circle cx="465.1" cy="273"/><circle cx="461.9" cy="274.4"/><circle cx="445.9" cy="282.1"/><circle cx="509.5" cy="254.8"/><circle cx="443.1" cy="287.7"/><circle cx="450" cy="282.9"/><circle cx="478.7" cy="245.9"/><circle cx="443.7" cy="284.2"/><circle cx="473.7" cy="283"/><circle cx="452.8" cy="272.2"/><circle cx="525.5" cy="227.4"/><circle cx="469" cy="263.1"/><circle cx="472.4" cy="268.2"/><circle cx="445.3" cy="280.7"/><circle cx="446.2" cy="277.2"/></g><g class="d"><circle cx="451.2" cy="280.1"/><circle cx="450.3" cy="286.7"/><circle cx="458.9" cy="272.4"/><circle cx="496.4" cy="276"/><circle cx="478.2" cy="261.3"/><circle cx="489.1" cy="241.1"/><circle cx="466.7" cy="266.8"/><circle cx="472.5" cy="278.7"/><circle cx="458.1" cy="279.1"/><circle cx="444.2" cy="284.5"/><circle cx="449.4" cy="278"/><circle cx="460.3" cy="254.4"/><circle cx="451" cy="272.1"/><circle cx="444.4" cy="275.8"/><circle cx="443.6" cy="287.4"/><circle cx="481.7" cy="261.2"/><circle cx="492.8" cy="242.6"/><circle cx="449.1" cy="274.7"/><circle cx="445.2" cy="286.6"/><circle cx="453.7" cy="277.3"/><circle cx="444.1" cy="280"/><circle cx="464.8" cy="278.2"/><circle cx="451.8" cy="283.9"/><circle cx="454.5" cy="268.9"/><circle cx="452.9" cy="283.1"/><circle cx="445.1" cy="282.8"/><circle cx="447.4" cy="281.2"/><circle cx="444.4" cy="282.4"/><circle cx="460.1" cy="274.1"/><circle cx="442.6" cy="284.7"/><circle cx="445" cy="283.3"/><circle cx="464.8" cy="265.3"/><circle cx="490" cy="280"/><circle cx="443.5" cy="282.2"/><circle cx="443.5" cy="286.1"/><circle cx="479.3" cy="266.3"/><circle cx="472.1" cy="275.8"/><circle cx="486.6" cy="263.3"/><circle cx="446.7" cy="286.1"/><circle cx="446.5" cy="278.7"/></g><g class="d"><circle cx="497.1" cy="270.7"/><circle cx="495.4" cy="269.3"/><circle cx="459.7" cy="270.7"/><circle cx="460.9" cy="277.7"/><circle cx="443.2" cy="280"/><circle cx="450.3" cy="264.6"/><circle cx="448.4" cy="275.2"/><circle cx="450.9" cy="283"/><circle cx="455.8" cy="265.2"/><circle cx="451.7" cy="276.4"/><circle cx="444.5" cy="280"/><circle cx="460.1" cy="281.1"/><circle cx="443.5" cy="286.5"/><circle cx="468" cy="283.4"/><circle cx="462" cy="272.3"/><circle cx="453.1" cy="274.7"/><circle cx="468.7" cy="251.7"/><circle cx="451.2" cy="282.4"/><circle cx="448" cy="286.4"/><circle cx="465.2" cy="271.1"/><circle cx="444.7" cy="277.6"/><circle cx="447.7" cy="285.1"/><circle cx="488" cy="265.3"/><circle cx="449.4" cy="284.4"/><circle cx="447.7" cy="285.1"/><circle cx="461.7" cy="271.1"/><circle cx="486.6" cy="238.9"/><circle cx="447.3" cy="285.8"/><circle cx="464.4" cy="266"/><circle cx="455.8" cy="277.3"/><circle cx="445.1" cy="284.1"/><circle cx="455.3" cy="280.2"/><circle cx="445.1" cy="276.2"/><circle cx="506.9" cy="280.7"/><circle cx="485.1" cy="245"/><circle cx="463.3" cy="278.8"/><circle cx="444.6" cy="285.6"/><circle cx="498.2" cy="256.3"/><circle cx="469.9" cy="265.1"/><circle cx="456.4" cy="266.1"/></g><g class="d"><circle cx="548.8" cy="257.2"/><circle cx="513.6" cy="233.8"/><circle cx="446.4" cy="283"/><circle cx="453.5" cy="264.9"/><circle cx="450.8" cy="277.5"/><circle cx="463.3" cy="267.1"/><circle cx="463.6" cy="262.7"/><circle cx="459.3" cy="275.4"/><circle cx="449.7" cy="285.6"/><circle cx="496.5" cy="260.9"/><circle cx="490.1" cy="250"/><circle cx="442.8" cy="281.3"/><circle cx="449.5" cy="276.4"/><circle cx="451.8" cy="279.1"/><circle cx="448.6" cy="276.9"/><circle cx="461.8" cy="276.3"/><circle cx="478.4" cy="262.3"/><circle cx="508.4" cy="234.9"/><circle cx="451.8" cy="277.9"/><circle cx="443.7" cy="285.1"/><circle cx="449.7" cy="277.3"/><circle cx="468.5" cy="271.8"/><circle cx="447" cy="281.1"/><circle cx="480.7" cy="258.5"/><circle cx="448.3" cy="279.1"/><circle cx="462.8" cy="267.1"/><circle cx="478.4" cy="257.4"/><circle cx="453.7" cy="278"/><circle cx="453.3" cy="280.6"/><circle cx="461" cy="280.5"/><circle cx="462.9" cy="278.4"/><circle cx="448.2" cy="283.1"/><circle cx="447.1" cy="285.7"/><circle cx="451.5" cy="276.8"/><circle cx="450.1" cy="277"/><circle cx="465.4" cy="274.5"/><circle cx="445.2" cy="286.8"/><circle cx="444.9" cy="284"/><circle cx="456" cy="273.1"/><circle cx="450.1" cy="284.4"/></g><g class="d"><circle cx="457.9" cy="281.2"/><circle cx="471.4" cy="274.2"/><circle cx="462.4" cy="257.1"/><circle cx="544.3" cy="214.4"/><circle cx="480.7" cy="282.3"/><circle cx="445.5" cy="286.6"/><circle cx="443.9" cy="279.9"/><circle cx="442.9" cy="286.7"/><circle cx="529.7" cy="239"/><circle cx="456" cy="282.7"/><circle cx="449.4" cy="280.8"/><circle cx="446.7" cy="284.2"/><circle cx="471.3" cy="260.2"/><circle cx="451.6" cy="282.1"/><circle cx="473.9" cy="267.1"/><circle cx="448.7" cy="286.3"/><circle cx="448.2" cy="283.3"/><circle cx="471.3" cy="283.2"/><circle cx="448.5" cy="286.3"/><circle cx="447.5" cy="281.5"/><circle cx="445.3" cy="284.2"/><circle cx="464" cy="269.3"/><circle cx="449.5" cy="282"/><circle cx="446.2" cy="283.7"/><circle cx="442.6" cy="282.9"/><circle cx="472.6" cy="282.2"/><circle cx="461.1" cy="256.5"/><circle cx="443.9" cy="288.1"/><circle cx="453.5" cy="272.6"/><circle cx="453.1" cy="275.5"/><circle cx="447.7" cy="269.9"/><circle cx="466.4" cy="284"/><circle cx="443.6" cy="285.9"/><circle cx="473.2" cy="265.7"/><circle cx="476.4" cy="252.4"/><circle cx="447.2" cy="284.9"/><circle cx="465.4" cy="281.3"/><circle cx="443" cy="285.9"/><circle cx="456.9" cy="280.5"/><circle cx="446.4" cy="282.8"/></g><g class="d"><circle cx="448.6" cy="282.1"/><circle cx="454.2" cy="283.2"/><circle cx="444.1" cy="274.8"/><circle cx="448.2" cy="288.3"/><circle cx="476.9" cy="250.8"/><circle cx="444.5" cy="286.3"/><circle cx="442.7" cy="287.2"/><circle cx="445.8" cy="283.5"/><circle cx="444.6" cy="286.2"/><circle cx="446.7" cy="285.9"/><circle cx="490.4" cy="241"/><circle cx="444.1" cy="282.8"/><circle cx="542.1" cy="266.9"/><circle cx="454.5" cy="280.7"/><circle cx="487.6" cy="263.5"/><circle cx="453.2" cy="283.5"/><circle cx="447.1" cy="282"/><circle cx="483.4" cy="244.7"/><circle cx="477.5" cy="276.3"/><circle cx="462.3" cy="280.3"/><circle cx="456.6" cy="272.8"/><circle cx="455.2" cy="275.9"/><circle cx="442.7" cy="288"/><circle cx="488.1" cy="277.4"/><circle cx="451.8" cy="286.7"/><circle cx="444.1" cy="281.3"/><circle cx="466.3" cy="261.6"/><circle cx="445.2" cy="278.6"/><circle cx="463.3" cy="274.1"/><circle cx="445.7" cy="282.6"/><circle cx="455.4" cy="278.7"/><circle cx="454.5" cy="278.2"/><circle cx="477.9" cy="248.5"/><circle cx="516" cy="257.6"/><circle cx="449.3" cy="284.1"/><circle cx="461.5" cy="275.3"/><circle cx="444.7" cy="284.5"/><circle cx="450.1" cy="278.2"/><circle cx="511.5" cy="219.9"/><circle cx="447.3" cy="281.3"/></g><g class="d"><circle cx="467.2" cy="274.8"/><circle cx="463.4" cy="277.2"/><circle cx="524.4" cy="218.9"/><circle cx="457" cy="281.6"/><circle cx="470.9" cy="253.8"/><circle cx="447.1" cy="279.3"/><circle cx="454.6" cy="262.9"/><circle cx="506.8" cy="272.8"/><circle cx="449.3" cy="279.4"/><circle cx="454.9" cy="273.6"/><circle cx="532.6" cy="237.3"/><circle cx="483.9" cy="254.4"/><circle cx="450.4" cy="282.7"/><circle cx="448.1" cy="285.5"/><circle cx="475" cy="271.9"/><circle cx="454.1" cy="279.8"/><circle cx="485.5" cy="277.9"/><circle cx="444.3" cy="285.1"/><circle cx="444.6" cy="282.1"/><circle cx="456.8" cy="275.6"/><circle cx="447.1" cy="272.6"/><circle cx="457.3" cy="270.9"/><circle cx="469.2" cy="277"/><circle cx="445.7" cy="281.8"/><circle cx="492.2" cy="264.3"/><circle cx="480" cy="260.1"/><circle cx="471.7" cy="273.6"/><circle cx="454.8" cy="282.8"/><circle cx="492.5" cy="241.7"/><circle cx="541.7" cy="226.8"/><circle cx="445.1" cy="282.3"/><circle cx="459" cy="280.5"/><circle cx="481.1" cy="264.4"/><circle cx="456.2" cy="282.7"/><circle cx="455.8" cy="281.3"/><circle cx="515" cy="260.9"/><circle cx="445.4" cy="284.7"/><circle cx="443.7" cy="287"/><circle cx="472.2" cy="264.2"/><circle cx="442.7" cy="283"/></g><g class="d"><circle cx="449.9" cy="275.8"/><circle cx="485.4" cy="269.3"/><circle cx="442.7" cy="288.1"/><circle cx="448.9" cy="279"/><circle cx="504.9" cy="252.2"/><circle cx="457.4" cy="281.3"/><circle cx="449" cy="287.2"/><circle cx="459.6" cy="273"/><circle cx="519.1" cy="277.1"/><circle cx="474.1" cy="269.1"/><circle cx="458.7" cy="269.3"/><circle cx="478.6" cy="279.8"/><circle cx="451.5" cy="284.4"/><circle cx="450.9" cy="274.3"/><circle cx="460.2" cy="272.9"/><circle cx="448.1" cy="266.9"/><circle cx="452.4" cy="285.2"/><circle cx="484.9" cy="269.4"/><circle cx="449.9" cy="268.8"/><circle cx="457.6" cy="279.8"/><circle cx="459.4" cy="276.2"/><circle cx="453.5" cy="284.9"/><circle cx="445" cy="287.1"/><circle cx="460.6" cy="267.7"/><circle cx="445.3" cy="286.6"/><circle cx="451.2" cy="285.5"/><circle cx="449.3" cy="283.1"/><circle cx="458.7" cy="279"/><circle cx="458.9" cy="274.1"/><circle cx="471.1" cy="257.4"/><circle cx="465.2" cy="260.6"/><circle cx="454.2" cy="282.9"/><circle cx="457.1" cy="282"/><circle cx="463" cy="256.7"/><circle cx="453.5" cy="273"/><circle cx="459.3" cy="265.2"/><circle cx="456.3" cy="272.6"/><circle cx="488.7" cy="244.2"/><circle cx="443.2" cy="281.6"/><circle cx="452" cy="284.6"/></g><g class="d"><circle cx="459.9" cy="260.6"/><circle cx="453" cy="287.6"/><circle cx="471.8" cy="284"/><circle cx="445.2" cy="286.1"/><circle cx="459.5" cy="285.1"/><circle cx="505.8" cy="232.5"/><circle cx="443.8" cy="271.3"/><circle cx="519.6" cy="209.4"/><circle cx="446.7" cy="286.8"/><circle cx="446.4" cy="283.7"/><circle cx="462.6" cy="269.1"/><circle cx="444.1" cy="282.7"/><circle cx="531.7" cy="228.7"/><circle cx="445.6" cy="285.4"/><circle cx="451.9" cy="278.8"/><circle cx="445.6" cy="286.2"/><circle cx="493.5" cy="254.6"/><circle cx="445.7" cy="274.8"/><circle cx="448.5" cy="284.6"/><circle cx="446.4" cy="284.7"/><circle cx="451.9" cy="287.3"/><circle cx="464.2" cy="276"/><circle cx="457.8" cy="285.5"/><circle cx="505.1" cy="277.9"/><circle cx="483.9" cy="265.6"/><circle cx="447.3" cy="283.9"/><circle cx="516.7" cy="235.1"/><circle cx="485.9" cy="277.7"/><circle cx="512.9" cy="254.6"/><circle cx="443.7" cy="286.5"/><circle cx="448.2" cy="278.8"/><circle cx="450.3" cy="285.7"/><circle cx="459.7" cy="281.8"/><circle cx="470.8" cy="274.7"/><circle cx="466.5" cy="232.5"/><circle cx="456.1" cy="281.8"/><circle cx="444.2" cy="283.6"/><circle cx="482.1" cy="252.1"/><circle cx="456.3" cy="281.3"/><circle cx="494.8" cy="254.9"/></g><g class="d"><circle cx="448.2" cy="277.3"/><circle cx="465" cy="284.6"/><circle cx="444.1" cy="282.1"/><circle cx="451" cy="275.3"/><circle cx="487.7" cy="248.5"/><circle cx="453.5" cy="281.7"/><circle cx="449.6" cy="279.4"/><circle cx="465.2" cy="284"/><circle cx="442.9" cy="284.8"/><circle cx="461.2" cy="278.3"/><circle cx="482" cy="251.9"/><circle cx="461.2" cy="283.4"/><circle cx="512.2" cy="260.8"/><circle cx="445.8" cy="286.7"/><circle cx="495.9" cy="275.4"/><circle cx="451.6" cy="283.4"/><circle cx="457.3" cy="275.2"/><circle cx="449.1" cy="282.4"/><circle cx="447.7" cy="287"/><circle cx="488.9" cy="256.7"/><circle cx="458.6" cy="273.4"/><circle cx="446.1" cy="285.3"/><circle cx="471.3" cy="261.7"/><circle cx="495" cy="244.2"/><circle cx="466.2" cy="286.3"/><circle cx="449.5" cy="281.6"/><circle cx="448.2" cy="286.4"/><circle cx="447.6" cy="287.2"/><circle cx="459.3" cy="281.8"/><circle cx="448.2" cy="280.2"/><circle cx="447.8" cy="283.2"/><circle cx="533.9" cy="275.8"/><circle cx="449.7" cy="275.9"/><circle cx="516.5" cy="266.9"/><circle cx="448.8" cy="285.5"/><circle cx="449.6" cy="271.8"/><circle cx="476.1" cy="272.5"/><circle cx="467.9" cy="269"/><circle cx="464.1" cy="260.6"/><circle cx="454.5" cy="278.5"/></g><g class="d"><circle cx="444.7" cy="281.9"/><circle cx="461.4" cy="280.9"/><circle cx="473.3" cy="268.5"/><circle cx="442.6" cy="283.6"/><circle cx="460" cy="277.4"/><circle cx="444.7" cy="287.7"/><circle cx="451.7" cy="281.4"/><circle cx="443.6" cy="275.6"/><circle cx="454.5" cy="275.8"/><circle cx="495.1" cy="268"/><circle cx="494.2" cy="226.2"/><circle cx="527.1" cy="258.5"/><circle cx="449.8" cy="285.5"/><circle cx="499.6" cy="258.8"/><circle cx="443.4" cy="286"/><circle cx="471" cy="272.3"/><circle cx="444.8" cy="281.9"/><circle cx="460.5" cy="278.6"/><circle cx="449.6" cy="278"/><circle cx="449.4" cy="283"/><circle cx="444.3" cy="285.6"/><circle cx="447.4" cy="283.5"/><circle cx="503.2" cy="281.3"/><circle cx="483" cy="274"/><circle cx="447.5" cy="267.8"/><circle cx="447.8" cy="263.5"/><circle cx="453.5" cy="274.5"/><circle cx="487" cy="244.8"/><circle cx="445.9" cy="282.3"/><circle cx="458.6" cy="280.3"/><circle cx="448.1" cy="285.7"/><circle cx="480.4" cy="256"/><circle cx="443.8" cy="285.1"/><circle cx="462.9" cy="285.9"/><circle cx="445.3" cy="281.8"/><circle cx="444.1" cy="287"/><circle cx="446.9" cy="287.9"/><circle cx="457.2" cy="279.6"/><circle cx="491.1" cy="261.2"/><circle cx="449.4" cy="284.8"/></g><g class="d"><circle cx="456.2" cy="283.1"/><circle cx="445.5" cy="282.9"/><circle cx="450.5" cy="282.7"/><circle cx="451.2" cy="278.6"/><circle cx="460.9" cy="286.8"/><circle cx="489.2" cy="241.2"/><circle cx="443.1" cy="288.5"/><circle cx="445.9" cy="274.1"/><circle cx="450.7" cy="278.9"/><circle cx="480.7" cy="276.9"/><circle cx="460.3" cy="282.9"/><circle cx="449.7" cy="274.6"/><circle cx="443.1" cy="284.5"/><circle cx="460.2" cy="271"/><circle cx="443.8" cy="286.4"/><circle cx="446.2" cy="285.1"/><circle cx="453.8" cy="281"/><circle cx="492.4" cy="261.1"/><circle cx="464.7" cy="267.8"/><circle cx="443.2" cy="286"/><circle cx="452.8" cy="277.8"/><circle cx="455.5" cy="283.7"/><circle cx="461" cy="280.9"/><circle cx="449.7" cy="282.3"/><circle cx="467.8" cy="259.2"/><circle cx="443.9" cy="279.4"/><circle cx="442.9" cy="281.4"/><circle cx="484.2" cy="248.6"/><circle cx="459.7" cy="283.3"/><circle cx="444.2" cy="284"/><circle cx="443.6" cy="285.2"/><circle cx="460.8" cy="265.6"/><circle cx="458" cy="268.1"/><circle cx="461.7" cy="269"/><circle cx="447.8" cy="275.6"/><circle cx="443.1" cy="284.2"/><circle cx="455.6" cy="287.6"/><circle cx="466.5" cy="272.1"/><circle cx="482" cy="270.5"/><circle cx="442.6" cy="282.8"/></g><g class="d"><circle cx="447.1" cy="261.5"/><circle cx="455.7" cy="286.3"/><circle cx="443" cy="281.4"/><circle cx="446.8" cy="281.2"/><circle cx="451.5" cy="270"/><circle cx="461.7" cy="285.7"/><circle cx="507.4" cy="250.2"/><circle cx="457.5" cy="276.6"/><circle cx="472.7" cy="267.3"/><circle cx="444.2" cy="285"/><circle cx="447.5" cy="281.6"/><circle cx="445.7" cy="284.4"/><circle cx="470.5" cy="268.8"/><circle cx="447.7" cy="277.2"/><circle cx="482.5" cy="257.5"/><circle cx="442.6" cy="285.2"/><circle cx="478.8" cy="276.6"/><circle cx="453.6" cy="284.5"/><circle cx="452.7" cy="285.8"/><circle cx="450.7" cy="280.9"/><circle cx="444.8" cy="285.6"/><circle cx="479.6" cy="252.6"/><circle cx="457.5" cy="272.7"/><circle cx="447.2" cy="271.8"/><circle cx="458.3" cy="281.2"/><circle cx="445.2" cy="285.2"/><circle cx="457.8" cy="257.4"/><circle cx="448.6" cy="285.4"/><circle cx="450.7" cy="283.9"/><circle cx="443.3" cy="281.3"/><circle cx="450.8" cy="257.7"/><circle cx="444.8" cy="287.2"/><circle cx="457.8" cy="275.1"/><circle cx="496" cy="260.7"/><circle cx="457.7" cy="274.4"/><circle cx="474.6" cy="261.3"/><circle cx="468" cy="257.6"/><circle cx="450.9" cy="282.7"/><circle cx="446.8" cy="284.7"/><circle cx="506.7" cy="218.8"/></g><g class="d"><circle cx="461.6" cy="283.5"/><circle cx="495.7" cy="245.9"/><circle cx="499.4" cy="283.7"/><circle cx="473.1" cy="275"/><circle cx="447.3" cy="285.4"/><circle cx="458.9" cy="271.4"/><circle cx="445" cy="280.8"/><circle cx="504.8" cy="279.8"/><circle cx="484" cy="242.3"/><circle cx="451" cy="272.6"/><circle cx="473.2" cy="273.7"/><circle cx="446.8" cy="282.1"/><circle cx="446" cy="276.3"/><circle cx="502.6" cy="235.7"/><circle cx="455.2" cy="270.8"/><circle cx="460.8" cy="273"/><circle cx="445.7" cy="281.1"/><circle cx="457.8" cy="264.8"/><circle cx="445.2" cy="281.3"/><circle cx="447.2" cy="283"/><circle cx="471" cy="256"/><circle cx="470.4" cy="274.2"/><circle cx="444.2" cy="279.1"/><circle cx="445.8" cy="276.8"/><circle cx="446.4" cy="279.8"/><circle cx="483.4" cy="247.7"/><circle cx="481.4" cy="268.1"/><circle cx="448.6" cy="285.9"/><circle cx="444.3" cy="286.3"/><circle cx="452.3" cy="282.6"/><circle cx="445.8" cy="283.7"/><circle cx="460.4" cy="284"/><circle cx="480.3" cy="268.6"/><circle cx="446.6" cy="277.3"/><circle cx="451.2" cy="288"/><circle cx="443.9" cy="285.5"/><circle cx="448" cy="276.7"/><circle cx="451.1" cy="283.1"/><circle cx="467.3" cy="266.5"/><circle cx="456.7" cy="281.5"/></g><g class="d"><circle cx="445.8" cy="284.3"/><circle cx="458.4" cy="263"/><circle cx="446.7" cy="283.2"/><circle cx="460.4" cy="283.8"/><circle cx="446.6" cy="288.2"/><circle cx="445.4" cy="280.4"/><circle cx="443" cy="287.6"/><circle cx="442.7" cy="286.2"/><circle cx="463.3" cy="277.2"/><circle cx="497" cy="263.8"/><circle cx="465.2" cy="266"/><circle cx="511.8" cy="240.7"/><circle cx="452.3" cy="274.6"/><circle cx="453.2" cy="280.4"/><circle cx="442.5" cy="288.2"/><circle cx="444.7" cy="281.9"/><circle cx="444.5" cy="282"/><circle cx="451" cy="285.9"/><circle cx="443" cy="284.8"/><circle cx="487.1" cy="260.3"/><circle cx="448.9" cy="281.4"/><circle cx="448" cy="271.6"/><circle cx="449.2" cy="282.6"/><circle cx="449" cy="284.1"/><circle cx="453.7" cy="273.8"/><circle cx="454.5" cy="280.5"/><circle cx="450.1" cy="278.3"/><circle cx="458.5" cy="268.2"/><circle cx="446.4" cy="280.7"/><circle cx="462" cy="268.6"/><circle cx="533.1" cy="244.7"/><circle cx="454" cy="286.3"/><circle cx="450" cy="282.4"/><circle cx="447" cy="283.7"/><circle cx="469.9" cy="269.8"/><circle cx="460.7" cy="277.3"/><circle cx="449" cy="287.5"/><circle cx="445.3" cy="277.7"/><circle cx="445.5" cy="280.6"/><circle cx="504" cy="232.1"/></g><g class="d"><circle cx="450.4" cy="287"/><circle cx="468.5" cy="261.8"/><circle cx="461" cy="269.9"/><circle cx="467" cy="279.2"/><circle cx="445.4" cy="281.5"/><circle cx="444.2" cy="287.3"/><circle cx="496.2" cy="242.6"/><circle cx="446.2" cy="284.4"/><circle cx="447.3" cy="279.7"/><circle cx="452.5" cy="287.9"/><circle cx="454.6" cy="274.3"/><circle cx="468.5" cy="284.8"/><circle cx="453.9" cy="277.2"/><circle cx="442.7" cy="284.4"/><circle cx="528.3" cy="213.2"/><circle cx="461.6" cy="278.5"/><circle cx="448.6" cy="280.9"/><circle cx="443.7" cy="288"/><circle cx="455.8" cy="284"/><circle cx="450.5" cy="277.9"/><circle cx="446.4" cy="282.1"/><circle cx="456.1" cy="285.1"/><circle cx="445.3" cy="281.6"/><circle cx="452.7" cy="274.8"/><circle cx="451.8" cy="278"/><circle cx="468" cy="283"/><circle cx="449.5" cy="285.9"/><circle cx="493.2" cy="266.6"/><circle cx="444.3" cy="286.9"/><circle cx="513.7" cy="262.5"/><circle cx="447.5" cy="279.6"/><circle cx="451.5" cy="267"/><circle cx="474.3" cy="284.7"/><circle cx="457.6" cy="273.6"/><circle cx="446.8" cy="284.9"/><circle cx="450.8" cy="282.7"/><circle cx="462.2" cy="277.2"/><circle cx="507.8" cy="231"/><circle cx="462.7" cy="272.4"/><circle cx="443.1" cy="287.7"/></g><g class="d"><circle cx="447.7" cy="280.7"/><circle cx="534.3" cy="276.1"/><circle cx="447" cy="279.9"/><circle cx="452.8" cy="284.8"/><circle cx="443.6" cy="285.1"/><circle cx="451.8" cy="278.2"/><circle cx="444.4" cy="282.5"/><circle cx="448.4" cy="282.1"/><circle cx="444.3" cy="285.3"/><circle cx="466.1" cy="282.5"/><circle cx="487.5" cy="273.3"/><circle cx="494" cy="280"/><circle cx="458.3" cy="273.6"/><circle cx="452.5" cy="280.4"/><circle cx="444.8" cy="285.6"/><circle cx="453.5" cy="283.9"/><circle cx="444.5" cy="281.5"/><circle cx="478" cy="272"/><circle cx="445.6" cy="286.2"/><circle cx="453.6" cy="278.5"/><circle cx="442.8" cy="286.4"/><circle cx="500.4" cy="243.9"/><circle cx="451" cy="280.1"/><circle cx="444.3" cy="273.5"/><circle cx="457.8" cy="281.4"/><circle cx="474.5" cy="267.3"/><circle cx="452.9" cy="278.7"/><circle cx="461.3" cy="278.9"/><circle cx="443.1" cy="287.2"/><circle cx="446.7" cy="275.4"/><circle cx="449.3" cy="286.3"/><circle cx="452" cy="284"/><circle cx="446.9" cy="276.4"/><circle cx="443.8" cy="285.6"/><circle cx="451.8" cy="274.6"/><circle cx="489.8" cy="259.5"/><circle cx="476.6" cy="259.6"/><circle cx="466.8" cy="282.9"/><circle cx="453.2" cy="284.4"/><circle cx="465.1" cy="274.4"/></g><g class="d"><circle cx="462.3" cy="281.6"/><circle cx="444.3" cy="281"/><circle cx="443.3" cy="285.5"/><circle cx="463.2" cy="278.1"/><circle cx="454.6" cy="275.8"/><circle cx="541.7" cy="228.2"/><circle cx="472.8" cy="261.7"/><circle cx="447" cy="285"/><circle cx="460.1" cy="273.8"/><circle cx="460.7" cy="280.5"/><circle cx="469.4" cy="284.1"/><circle cx="443.2" cy="287.8"/><circle cx="450.4" cy="283.8"/><circle cx="447.4" cy="275.1"/><circle cx="461" cy="277.1"/><circle cx="450.7" cy="274.8"/><circle cx="456.2" cy="280.4"/><circle cx="448.6" cy="279.8"/><circle cx="449.9" cy="270.8"/><circle cx="444.1" cy="283.4"/><circle cx="466.4" cy="259.3"/><circle cx="467.9" cy="267.9"/><circle cx="449.3" cy="284.5"/><circle cx="516.7" cy="209.9"/><circle cx="443.7" cy="284.4"/><circle cx="445.3" cy="275.2"/><circle cx="492.7" cy="265.1"/><circle cx="490.9" cy="252.6"/><circle cx="463.1" cy="265.2"/><circle cx="446.1" cy="270.8"/><circle cx="460" cy="279.2"/><circle cx="477.6" cy="266.3"/><circle cx="475.2" cy="275.5"/><circle cx="455.2" cy="281.8"/><circle cx="484.8" cy="247"/><circle cx="443.7" cy="287.2"/><circle cx="478.8" cy="268"/><circle cx="474.9" cy="255.1"/><circle cx="447.3" cy="279.7"/><circle cx="472.3" cy="284.9"/></g><g class="d"><circle cx="448.5" cy="270"/><circle cx="495.2" cy="244.1"/><circle cx="446.8" cy="284.5"/><circle cx="443.9" cy="288.2"/><circle cx="505.7" cy="269.9"/><circle cx="445" cy="278.8"/><circle cx="454.7" cy="279.3"/><circle cx="445.9" cy="287.7"/><circle cx="451.6" cy="278.3"/><circle cx="465.3" cy="269.3"/><circle cx="449.1" cy="285.7"/><circle cx="452.2" cy="282.1"/><circle cx="447.3" cy="284.3"/><circle cx="545" cy="254.4"/><circle cx="490" cy="265"/><circle cx="465.4" cy="280.6"/><circle cx="459.6" cy="280.8"/><circle cx="479.6" cy="277.1"/><circle cx="452.9" cy="282"/><circle cx="460.8" cy="280.4"/><circle cx="452.8" cy="288"/><circle cx="456.8" cy="287.1"/><circle cx="456.6" cy="271.7"/><circle cx="447.9" cy="286"/><circle cx="465.5" cy="283.5"/><circle cx="461.5" cy="276.3"/><circle cx="480" cy="283.3"/><circle cx="449.4" cy="284.6"/><circle cx="459.7" cy="276.7"/><circle cx="455.6" cy="285.3"/><circle cx="450.4" cy="278.4"/><circle cx="452.4" cy="277.9"/><circle cx="483.1" cy="268.3"/><circle cx="473.4" cy="282.9"/><circle cx="446.4" cy="286"/><circle cx="457.1" cy="245.3"/><circle cx="471.6" cy="263.2"/><circle cx="468.4" cy="270.3"/><circle cx="443.7" cy="287.7"/><circle cx="467.1" cy="263.5"/></g><g class="d"><circle cx="443.7" cy="269.2"/><circle cx="444.7" cy="285.7"/><circle cx="464.6" cy="286"/><circle cx="448.8" cy="280.4"/><circle cx="544.7" cy="256.3"/><circle cx="449.1" cy="284.2"/><circle cx="453.8" cy="280.3"/><circle cx="451" cy="283.6"/><circle cx="458.1" cy="281.6"/><circle cx="443.4" cy="288.3"/><circle cx="443.6" cy="287.3"/><circle cx="459.9" cy="266.8"/><circle cx="446.5" cy="285.7"/><circle cx="470.3" cy="271.9"/><circle cx="453.7" cy="282.9"/><circle cx="459.6" cy="270.8"/><circle cx="449.7" cy="280.7"/><circle cx="456.9" cy="274.7"/><circle cx="457.3" cy="276.1"/><circle cx="448.1" cy="285.6"/><circle cx="473.7" cy="282.3"/><circle cx="453.7" cy="271.9"/><circle cx="445.3" cy="287.9"/><circle cx="445.3" cy="286.7"/><circle cx="489.5" cy="268.3"/><circle cx="448.7" cy="284.4"/><circle cx="536.8" cy="258.5"/><circle cx="458.2" cy="238.1"/><circle cx="444.3" cy="287.1"/><circle cx="454.9" cy="284.2"/><circle cx="487.2" cy="236.6"/><circle cx="459.1" cy="285.6"/><circle cx="449" cy="287.7"/><circle cx="449.5" cy="284.1"/><circle cx="473.5" cy="274.9"/><circle cx="446" cy="283.1"/><circle cx="529.7" cy="210.1"/><circle cx="455.8" cy="279.5"/><circle cx="458.3" cy="286.3"/><circle cx="493.4" cy="270.1"/></g><g class="d"><circle cx="447.1" cy="286"/><circle cx="455" cy="280.2"/><circle cx="475.2" cy="286.8"/><circle cx="466.1" cy="277.2"/><circle cx="449.1" cy="285.6"/><circle cx="479" cy="261.3"/><circle cx="459.1" cy="275.4"/><circle cx="442.6" cy="275.5"/><circle cx="442.7" cy="280.1"/><circle cx="449.7" cy="283.7"/><circle cx="474.1" cy="257.9"/><circle cx="447.8" cy="284.5"/><circle cx="464.8" cy="261.2"/><circle cx="451.5" cy="282.8"/><circle cx="469.1" cy="274"/><circle cx="458.9" cy="282.8"/><circle cx="476.8" cy="250.9"/><circle cx="444.6" cy="281.6"/><circle cx="447.3" cy="284"/><circle cx="457.4" cy="282.2"/><circle cx="458.6" cy="270.3"/><circle cx="451" cy="269.2"/><circle cx="442.7" cy="286.6"/><circle cx="449.2" cy="278.9"/><circle cx="445.3" cy="285"/><circle cx="483.9" cy="256.8"/><circle cx="478.7" cy="263.5"/><circle cx="448.5" cy="284.8"/><circle cx="448.5" cy="275.3"/><circle cx="505.6" cy="229.8"/><circle cx="442.5" cy="276.9"/><circle cx="442.9" cy="286.1"/><circle cx="481.1" cy="280.7"/><circle cx="459.2" cy="284.8"/><circle cx="446.5" cy="283.2"/><circle cx="445.4" cy="281.9"/><circle cx="447.3" cy="282.5"/><circle cx="465.1" cy="265.2"/><circle cx="480.8" cy="248.2"/><circle cx="444.8" cy="275.5"/></g><g class="d"><circle cx="444.2" cy="284.1"/><circle cx="452" cy="282.7"/><circle cx="442.8" cy="288.3"/><circle cx="448.8" cy="284.8"/><circle cx="442.9" cy="287.1"/><circle cx="445.3" cy="282.3"/><circle cx="456.3" cy="275.7"/><circle cx="449.1" cy="273.9"/><circle cx="446.3" cy="279.9"/><circle cx="447.8" cy="281.5"/><circle cx="466.7" cy="264.5"/><circle cx="451.6" cy="276.1"/><circle cx="454.5" cy="287"/><circle cx="450.4" cy="282.4"/><circle cx="447.3" cy="286.6"/><circle cx="442.5" cy="284.3"/><circle cx="502" cy="231.6"/><circle cx="461.1" cy="269.4"/><circle cx="453.9" cy="275.4"/><circle cx="444.4" cy="287"/><circle cx="496.5" cy="276.6"/><circle cx="456.9" cy="273.7"/><circle cx="442.7" cy="286.1"/><circle cx="479.6" cy="267"/><circle cx="444.1" cy="287.5"/><circle cx="457.1" cy="284.2"/><circle cx="456.8" cy="284.4"/><circle cx="458" cy="282.9"/><circle cx="464.3" cy="275.3"/><circle cx="443.5" cy="279.3"/><circle cx="448.8" cy="282.1"/><circle cx="468.4" cy="260.7"/><circle cx="453.5" cy="279.4"/><circle cx="475.2" cy="257.8"/><circle cx="489.8" cy="266"/><circle cx="442.8" cy="287.8"/><circle cx="477.9" cy="279.9"/><circle cx="452.4" cy="277.5"/><circle cx="452.8" cy="288.3"/><circle cx="456.8" cy="271.3"/></g><g class="d"><circle cx="488.3" cy="264.9"/><circle cx="465" cy="266.5"/><circle cx="451.3" cy="278.3"/><circle cx="458.5" cy="277.7"/><circle cx="449.3" cy="284.2"/><circle cx="491.1" cy="251.8"/><circle cx="450.5" cy="271.2"/><circle cx="453.4" cy="265.5"/><circle cx="449.2" cy="281.4"/><circle cx="448" cy="284.6"/><circle cx="445.1" cy="279"/><circle cx="462.1" cy="277.9"/><circle cx="451.8" cy="285"/><circle cx="477.3" cy="272.9"/><circle cx="456.5" cy="273.4"/><circle cx="488.9" cy="258.1"/><circle cx="462.9" cy="277.3"/><circle cx="453.3" cy="281.3"/><circle cx="459.7" cy="264.4"/><circle cx="460.1" cy="269.5"/><circle cx="445.4" cy="286.5"/><circle cx="451.7" cy="284.4"/><circle cx="446.7" cy="254.1"/><circle cx="446.6" cy="281.7"/><circle cx="451.9" cy="286.8"/><circle cx="442.7" cy="279.4"/><circle cx="446.2" cy="279.5"/><circle cx="464.8" cy="271"/><circle cx="444.7" cy="276.6"/><circle cx="453" cy="284.9"/><circle cx="460.8" cy="272.9"/><circle cx="516.8" cy="273.2"/><circle cx="463" cy="273.9"/><circle cx="446.2" cy="286.2"/><circle cx="499.1" cy="269.1"/><circle cx="451.5" cy="282.7"/><circle cx="446.5" cy="281.6"/><circle cx="458.3" cy="283.1"/><circle cx="443" cy="278.3"/><circle cx="468.9" cy="280"/></g><g class="d"><circle cx="460.2" cy="277.1"/><circle cx="448.1" cy="277.8"/><circle cx="465.1" cy="276.3"/><circle cx="443.1" cy="284"/><circle cx="446.6" cy="282.8"/><circle cx="469.2" cy="241.7"/><circle cx="473.8" cy="252.6"/><circle cx="445.4" cy="283.2"/><circle cx="445.6" cy="287.8"/><circle cx="455.2" cy="278.7"/><circle cx="484.7" cy="276.8"/><circle cx="446.3" cy="284.6"/><circle cx="456" cy="280.9"/><circle cx="469.4" cy="266"/><circle cx="444" cy="266"/><circle cx="467.7" cy="273.2"/><circle cx="450" cy="286.5"/><circle cx="457.7" cy="282.1"/><circle cx="456" cy="278.7"/><circle cx="453.2" cy="273.9"/><circle cx="455.6" cy="278.2"/><circle cx="503.2" cy="223.4"/><circle cx="465.4" cy="283.1"/><circle cx="496.7" cy="258.3"/><circle cx="502.9" cy="269.3"/><circle cx="448.2" cy="278.8"/><circle cx="457.2" cy="282.9"/><circle cx="448.6" cy="281.6"/><circle cx="453.8" cy="286.2"/><circle cx="443.8" cy="281.2"/><circle cx="475.6" cy="266.5"/><circle cx="449.3" cy="282.4"/><circle cx="443.4" cy="279.7"/><circle cx="447.8" cy="280.4"/><circle cx="445.2" cy="285.9"/><circle cx="456.5" cy="281.1"/><circle cx="449.9" cy="283"/><circle cx="446.3" cy="284.5"/><circle cx="446.4" cy="285.8"/><circle cx="478.3" cy="246"/></g><g class="d"><circle cx="480.7" cy="273.6"/><circle cx="454.7" cy="278.4"/><circle cx="443.6" cy="286.9"/><circle cx="442.6" cy="286.9"/><circle cx="454.1" cy="274.8"/><circle cx="467.5" cy="275.6"/><circle cx="470.4" cy="286.7"/><circle cx="469.5" cy="258"/><circle cx="444.5" cy="283"/><circle cx="465.1" cy="281.2"/><circle cx="453.9" cy="283.5"/><circle cx="455.2" cy="277.4"/><circle cx="443.9" cy="279.4"/><circle cx="444.7" cy="282.6"/><circle cx="478.1" cy="262.5"/><circle cx="451.5" cy="274.6"/><circle cx="454.5" cy="285.4"/><circle cx="444.2" cy="285.7"/><circle cx="507.8" cy="247"/><circle cx="480.8" cy="265.5"/><circle cx="452.1" cy="275.1"/><circle cx="479.2" cy="280.9"/><circle cx="472.2" cy="283.6"/><circle cx="514.7" cy="253.7"/><circle cx="452.5" cy="273.6"/><circle cx="481.6" cy="264.2"/><circle cx="445.4" cy="284.1"/><circle cx="465.2" cy="280"/><circle cx="452.6" cy="279.4"/><circle cx="447.5" cy="280.6"/><circle cx="461.2" cy="273.1"/><circle cx="508.6" cy="224.5"/><circle cx="445.6" cy="284.9"/><circle cx="447.9" cy="279.9"/><circle cx="446.5" cy="279.9"/><circle cx="535.1" cy="238"/><circle cx="481.7" cy="272.7"/><circle cx="467" cy="262.3"/><circle cx="455.8" cy="275.2"/><circle cx="494.9" cy="274.9"/></g><g class="d"><circle cx="450.2" cy="283"/><circle cx="454.9" cy="276.1"/><circle cx="504.4" cy="268.2"/><circle cx="448" cy="279.7"/><circle cx="462.9" cy="283.6"/><circle cx="453" cy="277.6"/><circle cx="443.6" cy="286.7"/><circle cx="468.8" cy="274.9"/><circle cx="450.6" cy="261.7"/><circle cx="457.9" cy="285"/><circle cx="447" cy="283.1"/><circle cx="476.4" cy="270.9"/><circle cx="449.2" cy="282.6"/><circle cx="459.2" cy="276.5"/><circle cx="445.4" cy="284.2"/><circle cx="464.5" cy="264.8"/><circle cx="443.1" cy="279"/><circle cx="453" cy="281.9"/><circle cx="465.7" cy="263.7"/><circle cx="457.8" cy="252.8"/><circle cx="449" cy="281"/><circle cx="458.3" cy="269.7"/><circle cx="453" cy="268"/><circle cx="442.5" cy="287"/><circle cx="442.8" cy="285.1"/><circle cx="463.2" cy="279"/><circle cx="476.1" cy="250.2"/><circle cx="442.7" cy="288.3"/><circle cx="472.1" cy="276"/><circle cx="451.6" cy="279.6"/><circle cx="447.3" cy="284.9"/><circle cx="467.5" cy="277.8"/><circle cx="443" cy="286.4"/><circle cx="444.9" cy="283.2"/><circle cx="445.7" cy="283"/><circle cx="486.1" cy="263.3"/><circle cx="445.9" cy="282.2"/><circle cx="449.7" cy="279.2"/><circle cx="503" cy="242.9"/><circle cx="474.6" cy="266.1"/></g><g class="d"><circle cx="452.2" cy="285.8"/><circle cx="449.4" cy="282.7"/><circle cx="450.8" cy="282.3"/><circle cx="472.4" cy="271.5"/><circle cx="443.6" cy="286.5"/><circle cx="503.6" cy="268.7"/><circle cx="444.3" cy="287"/><circle cx="447.5" cy="285.2"/><circle cx="467.2" cy="262.7"/><circle cx="450.7" cy="284.2"/><circle cx="487" cy="249.6"/><circle cx="450.3" cy="283"/><circle cx="474.9" cy="281.3"/><circle cx="467.6" cy="263.9"/><circle cx="478.2" cy="273.9"/><circle cx="446" cy="283.3"/><circle cx="447.1" cy="286.7"/><circle cx="447.2" cy="277.5"/><circle cx="467.2" cy="270.2"/><circle cx="469.4" cy="262.9"/><circle cx="474.2" cy="266.8"/><circle cx="443.3" cy="287.7"/><circle cx="454.7" cy="280.7"/><circle cx="457.3" cy="275.5"/></g></g><line x1="443.5" y1="268.5" x2="671.2" y2="70.3" stroke="#2f8fcb" stroke-width="2.9"/><line x1="445.5" y1="289.2" x2="562.2" y2="234.8" stroke="#62b8e8" stroke-width="2.9"/><text transform="translate(508.33,67.0)" font-size="19.5" font-weight="bold" fill="#0a70b2">Moist</text><text transform="translate(499.41,86.1) scale(0.993,1)" font-size="19.5" font-weight="bold" fill="#0a70b2"><tspan font-style="italic">r</tspan> = 0.745</text><text transform="translate(572.77,245.7)" font-size="19.0" font-weight="bold" fill="#56b4e9">Dry</text><text transform="translate(569.81,268.1) scale(1.017,1)" font-size="19.0" font-weight="bold" fill="#56b4e9"><tspan font-style="italic">r</tspan> = 0.479</text><rect x="433.2" y="48.5" width="248.9" height="249.5" fill="none" stroke="#333" stroke-width="1.4"/><line x1="438.7" y1="298" x2="438.7" y2="301.7" stroke="#333" stroke-width="1.4"/><text transform="translate(428.62,314.6)" font-size="14.5" fill="#4d4d4d">0.0</text><line x1="516.5" y1="298" x2="516.5" y2="301.7" stroke="#333" stroke-width="1.4"/><text transform="translate(506.53,314.6)" font-size="14.5" fill="#4d4d4d">0.2</text><line x1="594.4" y1="298" x2="594.4" y2="301.7" stroke="#333" stroke-width="1.4"/><text transform="translate(584.23,314.6)" font-size="14.5" fill="#4d4d4d">0.4</text><line x1="672.2" y1="298" x2="672.2" y2="301.7" stroke="#333" stroke-width="1.4"/><text transform="translate(662.14,314.6)" font-size="14.5" fill="#4d4d4d">0.6</text><line x1="429.5" y1="291.0" x2="433.2" y2="291.0" stroke="#333" stroke-width="1.4"/><text transform="translate(407.03,296.1)" font-size="14.5" fill="#4d4d4d">0.0</text><line x1="429.5" y1="210.1" x2="433.2" y2="210.1" stroke="#333" stroke-width="1.4"/><text transform="translate(407.03,215.2)" font-size="14.5" fill="#4d4d4d">0.5</text><line x1="429.5" y1="129.2" x2="433.2" y2="129.2" stroke="#333" stroke-width="1.4"/><text transform="translate(407.02,134.3)" font-size="14.5" fill="#4d4d4d">1.0</text><text transform="translate(506.37,338.0) scale(1.008,1)" font-size="16.5" fill="#000">Calcium (OD)</text><text transform="translate(393.5,216.22) rotate(-90) scale(0.999,1)" font-size="16.5" fill="#000">Carbon (OD)</text><rect x="433.9" y="419" width="247.9" height="248.7" fill="#fff"/><line x1="466.9" y1="419" x2="466.9" y2="667.7" stroke="#ebebeb" stroke-width="0.7"/><line x1="525.3" y1="419" x2="525.3" y2="667.7" stroke="#ebebeb" stroke-width="0.7"/><line x1="583.8" y1="419" x2="583.8" y2="667.7" stroke="#ebebeb" stroke-width="0.7"/><line x1="642.2" y1="419" x2="642.2" y2="667.7" stroke="#ebebeb" stroke-width="0.7"/><line x1="433.9" y1="638.1" x2="681.8" y2="638.1" stroke="#ebebeb" stroke-width="0.7"/><line x1="433.9" y1="581.8" x2="681.8" y2="581.8" stroke="#ebebeb" stroke-width="0.7"/><line x1="433.9" y1="525.5" x2="681.8" y2="525.5" stroke="#ebebeb" stroke-width="0.7"/><line x1="433.9" y1="469.2" x2="681.8" y2="469.2" stroke="#ebebeb" stroke-width="0.7"/><line x1="437.7" y1="419" x2="437.7" y2="667.7" stroke="#ebebeb" stroke-width="1.4"/><line x1="496.1" y1="419" x2="496.1" y2="667.7" stroke="#ebebeb" stroke-width="1.4"/><line x1="554.5" y1="419" x2="554.5" y2="667.7" stroke="#ebebeb" stroke-width="1.4"/><line x1="613" y1="419" x2="613" y2="667.7" stroke="#ebebeb" stroke-width="1.4"/><line x1="671.4" y1="419" x2="671.4" y2="667.7" stroke="#ebebeb" stroke-width="1.4"/><line x1="433.9" y1="666.2" x2="681.8" y2="666.2" stroke="#ebebeb" stroke-width="1.4"/><line x1="433.9" y1="609.9" x2="681.8" y2="609.9" stroke="#ebebeb" stroke-width="1.4"/><line x1="433.9" y1="553.6" x2="681.8" y2="553.6" stroke="#ebebeb" stroke-width="1.4"/><line x1="433.9" y1="497.3" x2="681.8" y2="497.3" stroke="#ebebeb" stroke-width="1.4"/><line x1="433.9" y1="441" x2="681.8" y2="441" stroke="#ebebeb" stroke-width="1.4"/><g class="pts pd"><g class="m"><circle cx="455.5" cy="632"/><circle cx="455.2" cy="641.6"/><circle cx="447" cy="652.2"/><circle cx="470.8" cy="568"/><circle cx="446.2" cy="622.9"/><circle cx="464.1" cy="642.1"/><circle cx="519.4" cy="632.6"/><circle cx="442.9" cy="647"/><circle cx="462.1" cy="627.4"/><circle cx="459.9" cy="618.8"/><circle cx="442.8" cy="645.9"/><circle cx="457.9" cy="629.5"/><circle cx="443.9" cy="646.8"/><circle cx="442.8" cy="611.3"/><circle cx="448.3" cy="647.3"/><circle cx="451.8" cy="625.3"/><circle cx="451.4" cy="654"/><circle cx="446.7" cy="647.2"/><circle cx="442.6" cy="642.8"/><circle cx="450.8" cy="651.8"/><circle cx="442.6" cy="633.6"/><circle cx="478.6" cy="602.6"/><circle cx="450.2" cy="631.5"/><circle cx="462.2" cy="651.5"/><circle cx="447" cy="615.6"/><circle cx="444.7" cy="647.4"/><circle cx="449.1" cy="582.6"/><circle cx="462.2" cy="584.8"/><circle cx="447.6" cy="636.5"/><circle cx="442.7" cy="619.5"/><circle cx="451.1" cy="578.1"/><circle cx="479.8" cy="574.8"/><circle cx="445.1" cy="636.3"/><circle cx="443.3" cy="655.4"/><circle cx="559.6" cy="542.8"/><circle cx="453.8" cy="652.4"/><circle cx="474.9" cy="647.3"/><circle cx="443.4" cy="624.6"/><circle cx="443.2" cy="640.9"/><circle cx="443.3" cy="640.7"/></g><g class="m"><circle cx="461" cy="542.8"/><circle cx="446.7" cy="651.1"/><circle cx="556.8" cy="499.1"/><circle cx="443" cy="651.5"/><circle cx="442.5" cy="634.2"/><circle cx="450.3" cy="611.6"/><circle cx="459" cy="510.3"/><circle cx="444.8" cy="628.2"/><circle cx="507.2" cy="605"/><circle cx="445.5" cy="607"/><circle cx="473.6" cy="655"/><circle cx="476.4" cy="628.3"/><circle cx="447.4" cy="581.1"/><circle cx="478.1" cy="641.8"/><circle cx="447.6" cy="643.6"/><circle cx="444" cy="604.7"/><circle cx="445.3" cy="647.3"/><circle cx="453" cy="633.4"/><circle cx="453.2" cy="548.4"/><circle cx="443.6" cy="642.8"/><circle cx="447.8" cy="623.1"/><circle cx="466.3" cy="591.7"/><circle cx="443.1" cy="648.9"/><circle cx="443.8" cy="644"/><circle cx="459.7" cy="626.9"/><circle cx="448" cy="650.8"/><circle cx="443" cy="638.3"/><circle cx="442.5" cy="580.4"/><circle cx="442.6" cy="641.3"/><circle cx="453.3" cy="600.6"/><circle cx="498.5" cy="649.1"/><circle cx="443.5" cy="655.7"/><circle cx="466.9" cy="643.8"/><circle cx="451.4" cy="641.1"/><circle cx="443.6" cy="637.5"/><circle cx="444.5" cy="621.2"/><circle cx="447.2" cy="657"/><circle cx="444.2" cy="646.3"/><circle cx="449.2" cy="623.2"/><circle cx="468.9" cy="639.1"/></g><g class="m"><circle cx="451" cy="623.2"/><circle cx="447.9" cy="648.6"/><circle cx="471" cy="491.7"/><circle cx="468.5" cy="633"/><circle cx="443.9" cy="637.7"/><circle cx="458.8" cy="653.4"/><circle cx="451.5" cy="570.9"/><circle cx="445.3" cy="647.6"/><circle cx="456.2" cy="644.6"/><circle cx="444" cy="513.6"/><circle cx="444.7" cy="641.3"/><circle cx="463.4" cy="626.8"/><circle cx="470.1" cy="638.9"/><circle cx="444" cy="641.1"/><circle cx="451.5" cy="622"/><circle cx="461.6" cy="633.2"/><circle cx="442.8" cy="654"/><circle cx="446.2" cy="551.5"/><circle cx="447.3" cy="635.5"/><circle cx="449.1" cy="638.4"/><circle cx="461.3" cy="642.6"/><circle cx="443.8" cy="589.7"/><circle cx="450.1" cy="542.4"/><circle cx="471.6" cy="649.5"/><circle cx="453.4" cy="628.1"/><circle cx="465.5" cy="617.8"/><circle cx="448.4" cy="655.3"/><circle cx="449.1" cy="548.1"/><circle cx="545.9" cy="555.6"/><circle cx="465" cy="630.7"/><circle cx="452.9" cy="648.4"/><circle cx="491.6" cy="507.8"/><circle cx="445.7" cy="642"/><circle cx="447.9" cy="634.4"/><circle cx="445.2" cy="633.8"/><circle cx="451.2" cy="641"/><circle cx="443.7" cy="657.5"/><circle cx="450.6" cy="613.1"/><circle cx="445.4" cy="610.8"/><circle cx="474" cy="616.2"/></g><g class="m"><circle cx="453.3" cy="595.3"/><circle cx="457.1" cy="646"/><circle cx="445.7" cy="647.8"/><circle cx="448.7" cy="647.8"/><circle cx="479.4" cy="621"/><circle cx="453.6" cy="577.9"/><circle cx="457.1" cy="637"/><circle cx="474.9" cy="587.4"/><circle cx="443.2" cy="598.7"/><circle cx="458.6" cy="635.5"/><circle cx="475.1" cy="632.7"/><circle cx="443.2" cy="580.5"/><circle cx="460.5" cy="612.6"/><circle cx="449.9" cy="565.5"/><circle cx="444.6" cy="653.1"/><circle cx="446.2" cy="625.7"/><circle cx="478.3" cy="634.8"/><circle cx="455.9" cy="645.7"/><circle cx="452.1" cy="649.2"/><circle cx="472.4" cy="624.1"/><circle cx="559.6" cy="578.9"/><circle cx="443.6" cy="621"/><circle cx="446.3" cy="624.6"/><circle cx="443.9" cy="598.5"/><circle cx="444" cy="633.7"/><circle cx="473.1" cy="621.9"/><circle cx="444" cy="633.9"/><circle cx="447.5" cy="645.5"/><circle cx="449.3" cy="653.1"/><circle cx="448.2" cy="655.6"/><circle cx="448.7" cy="586.6"/><circle cx="454.5" cy="594.1"/><circle cx="462.6" cy="655.7"/><circle cx="449.1" cy="646.9"/><circle cx="534.5" cy="480.7"/><circle cx="446" cy="654.1"/><circle cx="455.9" cy="651.3"/><circle cx="444.9" cy="629"/><circle cx="455.6" cy="620"/><circle cx="444.2" cy="630.7"/></g><g class="m"><circle cx="446.2" cy="632.4"/><circle cx="459.7" cy="627.5"/><circle cx="448.2" cy="631.1"/><circle cx="466.1" cy="577.2"/><circle cx="456.9" cy="625.5"/><circle cx="448.7" cy="630.7"/><circle cx="444.9" cy="614.9"/><circle cx="445.6" cy="650.7"/><circle cx="456.2" cy="641"/><circle cx="479.8" cy="613.2"/><circle cx="457.2" cy="626.7"/><circle cx="500.8" cy="511"/><circle cx="450.6" cy="639.8"/><circle cx="467.3" cy="656.9"/><circle cx="453.2" cy="522.9"/><circle cx="450.3" cy="588.6"/><circle cx="443.9" cy="654.7"/><circle cx="458.1" cy="646.6"/><circle cx="450.7" cy="610"/><circle cx="445.6" cy="651.9"/><circle cx="481.9" cy="620.8"/><circle cx="457.4" cy="639.6"/><circle cx="450.8" cy="651.3"/><circle cx="457.1" cy="640.1"/><circle cx="449.5" cy="632.4"/><circle cx="444.2" cy="644.6"/><circle cx="442.7" cy="642.8"/><circle cx="453.8" cy="625.6"/><circle cx="453.2" cy="501.2"/><circle cx="443.6" cy="604.4"/><circle cx="447.5" cy="604.9"/><circle cx="443.1" cy="623.8"/><circle cx="445.3" cy="602.7"/><circle cx="445" cy="634.9"/><circle cx="442.7" cy="637.8"/><circle cx="450.7" cy="631.6"/><circle cx="452.2" cy="655"/><circle cx="446.8" cy="636.4"/><circle cx="447.8" cy="627.3"/><circle cx="460.6" cy="519.2"/></g><g class="m"><circle cx="452.2" cy="630.9"/><circle cx="444.6" cy="646.6"/><circle cx="444" cy="589.7"/><circle cx="449.7" cy="631.3"/><circle cx="461.3" cy="647.4"/><circle cx="456.4" cy="638.4"/><circle cx="452.6" cy="654.3"/><circle cx="501.3" cy="604.5"/><circle cx="444.4" cy="623.6"/><circle cx="444.4" cy="640"/><circle cx="453.9" cy="653.3"/><circle cx="445.9" cy="648"/><circle cx="444.6" cy="599.2"/><circle cx="448.7" cy="649.8"/><circle cx="484.8" cy="524.3"/><circle cx="450.2" cy="644.1"/><circle cx="448.7" cy="619"/><circle cx="450.8" cy="616.3"/><circle cx="452.8" cy="611.5"/><circle cx="445.3" cy="608.7"/><circle cx="447.1" cy="653.8"/><circle cx="447.8" cy="633.9"/><circle cx="464.1" cy="651.6"/><circle cx="444.1" cy="654.8"/><circle cx="450.5" cy="638.7"/><circle cx="450.6" cy="635.2"/><circle cx="504.9" cy="621.1"/><circle cx="447.4" cy="634.7"/><circle cx="442.6" cy="600.4"/><circle cx="455.6" cy="624.8"/><circle cx="455.3" cy="653.6"/><circle cx="465.8" cy="644.2"/><circle cx="459.4" cy="621.6"/><circle cx="444.4" cy="619"/><circle cx="445.8" cy="586.7"/><circle cx="454" cy="631.2"/><circle cx="460.2" cy="628.2"/><circle cx="447.8" cy="642.1"/><circle cx="467.5" cy="544.3"/><circle cx="450.1" cy="638.7"/></g><g class="m"><circle cx="443.2" cy="655.9"/><circle cx="466.8" cy="523.4"/><circle cx="476.6" cy="641.4"/><circle cx="448.8" cy="584.5"/><circle cx="467.9" cy="644.1"/><circle cx="450.9" cy="591.8"/><circle cx="452.9" cy="617.9"/><circle cx="455.8" cy="620.2"/><circle cx="449.6" cy="634.8"/><circle cx="452.6" cy="600.3"/><circle cx="456.5" cy="649.9"/><circle cx="443.8" cy="624.9"/><circle cx="447.7" cy="650.8"/><circle cx="450.7" cy="515.9"/><circle cx="519.4" cy="652.9"/><circle cx="457.5" cy="639.6"/><circle cx="444.3" cy="610.1"/><circle cx="463.9" cy="588.4"/><circle cx="449.7" cy="651.3"/><circle cx="445.2" cy="646.2"/><circle cx="453.9" cy="654.4"/><circle cx="442.5" cy="653.1"/><circle cx="447.7" cy="599.3"/><circle cx="462" cy="626.6"/><circle cx="515" cy="579.9"/><circle cx="484.2" cy="542.7"/><circle cx="454.1" cy="617.1"/><circle cx="514.6" cy="645.3"/><circle cx="443" cy="652.1"/><circle cx="453" cy="635.3"/><circle cx="455.1" cy="631.2"/><circle cx="452.7" cy="602.9"/><circle cx="445.3" cy="625.5"/><circle cx="457.1" cy="575.7"/><circle cx="453.6" cy="640.9"/><circle cx="450.6" cy="655.6"/><circle cx="443.5" cy="611.2"/><circle cx="445.9" cy="630.8"/><circle cx="522.2" cy="649.1"/><circle cx="443.8" cy="608"/></g><g class="m"><circle cx="443.7" cy="591.3"/><circle cx="446.6" cy="622.7"/><circle cx="449" cy="644"/><circle cx="446.7" cy="647.4"/><circle cx="454.4" cy="643.8"/><circle cx="456.9" cy="587.5"/><circle cx="478.2" cy="625.8"/><circle cx="466.1" cy="645.1"/><circle cx="444.2" cy="635.4"/><circle cx="449.5" cy="651.6"/><circle cx="470.3" cy="612.9"/><circle cx="455.6" cy="642.4"/><circle cx="444.2" cy="630.9"/><circle cx="446.6" cy="637.3"/><circle cx="455.7" cy="609"/><circle cx="443.5" cy="613.5"/><circle cx="445.7" cy="619.7"/><circle cx="444.1" cy="643.4"/><circle cx="446.4" cy="653.8"/><circle cx="446.1" cy="636.9"/><circle cx="456.7" cy="622.8"/><circle cx="451.1" cy="607.7"/><circle cx="451.2" cy="640.6"/><circle cx="451.8" cy="633.6"/><circle cx="471.4" cy="632.2"/><circle cx="450.5" cy="628.1"/><circle cx="445" cy="650.5"/><circle cx="461.7" cy="636"/><circle cx="556.6" cy="512"/><circle cx="456.7" cy="640.4"/><circle cx="452.6" cy="641.9"/><circle cx="455.7" cy="642"/><circle cx="459" cy="652.7"/><circle cx="485.2" cy="554.2"/><circle cx="483.3" cy="596.4"/><circle cx="456.2" cy="642.6"/><circle cx="457.3" cy="646.7"/><circle cx="445.6" cy="647"/><circle cx="444.6" cy="638.8"/><circle cx="456.3" cy="648.5"/></g><g class="m"><circle cx="466.1" cy="645.5"/><circle cx="463.1" cy="558.7"/><circle cx="467.6" cy="635.5"/><circle cx="533.6" cy="615"/><circle cx="448.3" cy="654.7"/><circle cx="467.2" cy="632.4"/><circle cx="481.3" cy="643.6"/><circle cx="457.9" cy="619.5"/><circle cx="461.8" cy="582.5"/><circle cx="484.9" cy="615.2"/><circle cx="460.9" cy="614"/><circle cx="450.1" cy="644.9"/><circle cx="448.7" cy="652.7"/><circle cx="445.5" cy="637.4"/><circle cx="443" cy="595.3"/><circle cx="454.1" cy="633.5"/><circle cx="453.3" cy="651.4"/><circle cx="476.8" cy="595.8"/><circle cx="447.9" cy="612.2"/><circle cx="459.1" cy="651.8"/><circle cx="451.4" cy="643.9"/><circle cx="443.4" cy="654.1"/><circle cx="443.3" cy="648.7"/><circle cx="457" cy="633.5"/><circle cx="451.2" cy="653.8"/><circle cx="459.2" cy="592.2"/><circle cx="455.1" cy="603.6"/><circle cx="444" cy="639"/><circle cx="442.6" cy="648.7"/><circle cx="444" cy="493.3"/><circle cx="449.2" cy="632.8"/><circle cx="444.8" cy="582.6"/><circle cx="454.9" cy="641.8"/><circle cx="460.5" cy="631.1"/><circle cx="443.8" cy="653"/><circle cx="455.2" cy="628.1"/><circle cx="478.6" cy="637.9"/><circle cx="445" cy="614.2"/><circle cx="457.4" cy="634.2"/><circle cx="443" cy="639.6"/></g><g class="m"><circle cx="452" cy="646.8"/><circle cx="452.7" cy="562.9"/><circle cx="443.9" cy="654.1"/><circle cx="454.8" cy="655.6"/><circle cx="462.4" cy="649.5"/><circle cx="446.5" cy="610.6"/><circle cx="450.2" cy="645.5"/><circle cx="453.7" cy="538.4"/><circle cx="445" cy="617.9"/><circle cx="444.3" cy="593.7"/><circle cx="444.6" cy="650.4"/><circle cx="461.1" cy="640.6"/><circle cx="448.4" cy="645.6"/><circle cx="443.3" cy="656.9"/><circle cx="444.5" cy="654.3"/><circle cx="457" cy="641.7"/><circle cx="445.1" cy="592.5"/><circle cx="448.9" cy="632.7"/><circle cx="466.6" cy="597.7"/><circle cx="464.9" cy="634"/><circle cx="469.3" cy="639"/><circle cx="467.2" cy="643.5"/><circle cx="444.9" cy="640.9"/><circle cx="447.8" cy="611.2"/><circle cx="443.4" cy="644.8"/><circle cx="444.1" cy="609"/><circle cx="453.3" cy="643.6"/><circle cx="458.2" cy="600.9"/><circle cx="493.7" cy="554.2"/><circle cx="463.5" cy="642.3"/><circle cx="459.5" cy="646.9"/><circle cx="470.9" cy="639.5"/><circle cx="442.9" cy="657.5"/><circle cx="559.8" cy="542.4"/><circle cx="459.1" cy="614.4"/><circle cx="460.1" cy="646"/><circle cx="464.9" cy="652.4"/><circle cx="463.9" cy="609.3"/><circle cx="449" cy="633.5"/><circle cx="444.1" cy="600.5"/></g><g class="m"><circle cx="445.4" cy="600.9"/><circle cx="447.8" cy="655.4"/><circle cx="442.6" cy="628.2"/><circle cx="443.5" cy="634.7"/><circle cx="446.2" cy="650.4"/><circle cx="446.6" cy="630.5"/><circle cx="442.7" cy="636"/><circle cx="497.4" cy="641.1"/><circle cx="500.4" cy="577"/><circle cx="447.4" cy="623.9"/><circle cx="459.7" cy="642.1"/><circle cx="446.5" cy="639.3"/><circle cx="466.5" cy="611.4"/><circle cx="462" cy="647.9"/><circle cx="442.9" cy="631.4"/><circle cx="444.6" cy="600.1"/><circle cx="464.3" cy="645.5"/><circle cx="458.5" cy="617.3"/><circle cx="444.3" cy="649.3"/><circle cx="449.1" cy="634.6"/><circle cx="455.5" cy="557.1"/><circle cx="452.6" cy="643.7"/><circle cx="457.6" cy="641.9"/><circle cx="445.2" cy="648.1"/><circle cx="447.8" cy="569.9"/><circle cx="445" cy="634.3"/><circle cx="445.4" cy="643.5"/><circle cx="445.3" cy="638.6"/><circle cx="448.3" cy="623.9"/><circle cx="485.9" cy="611.4"/><circle cx="454.4" cy="652.6"/><circle cx="467.9" cy="619.2"/><circle cx="463.9" cy="641.9"/><circle cx="456.2" cy="649"/><circle cx="455.6" cy="642"/><circle cx="479.9" cy="626"/><circle cx="447.6" cy="656.2"/><circle cx="448.8" cy="649.7"/><circle cx="447.5" cy="651"/><circle cx="444.4" cy="548.4"/></g><g class="m"><circle cx="457.4" cy="633.8"/><circle cx="457.8" cy="624.1"/><circle cx="448.1" cy="646.1"/><circle cx="443" cy="640.7"/><circle cx="455.1" cy="629.3"/><circle cx="444" cy="573.8"/><circle cx="452.9" cy="648.8"/><circle cx="443.6" cy="602.3"/><circle cx="450.1" cy="627.9"/><circle cx="443.8" cy="653.3"/><circle cx="443.9" cy="654.5"/><circle cx="457.1" cy="576.9"/><circle cx="453.4" cy="654.1"/><circle cx="462.6" cy="631.1"/><circle cx="445.4" cy="638.8"/><circle cx="482" cy="638.7"/><circle cx="493.7" cy="512.9"/><circle cx="452.9" cy="639.8"/><circle cx="452.8" cy="606.9"/><circle cx="485" cy="640"/><circle cx="444.4" cy="647"/><circle cx="463.4" cy="521.5"/><circle cx="445.4" cy="549.5"/><circle cx="454.2" cy="646.5"/><circle cx="443.8" cy="652.9"/><circle cx="456.6" cy="603.1"/><circle cx="459.2" cy="648.6"/><circle cx="447.6" cy="634.6"/><circle cx="466" cy="637.1"/><circle cx="456.5" cy="642.2"/><circle cx="443.5" cy="616.6"/><circle cx="455" cy="634.9"/><circle cx="457.3" cy="624"/><circle cx="443.6" cy="606"/><circle cx="443.6" cy="591.7"/><circle cx="451.3" cy="644.2"/><circle cx="452.3" cy="550.7"/><circle cx="479" cy="571.8"/><circle cx="445" cy="649.9"/><circle cx="500.2" cy="475.9"/></g><g class="m"><circle cx="454.7" cy="631.3"/><circle cx="453.4" cy="632.3"/><circle cx="447.2" cy="610.5"/><circle cx="449.3" cy="639.6"/><circle cx="452.5" cy="653.6"/><circle cx="447.5" cy="655.5"/><circle cx="443.6" cy="655.5"/><circle cx="471.2" cy="587.1"/><circle cx="492" cy="445.6"/><circle cx="443.5" cy="634.2"/><circle cx="462.6" cy="636.6"/><circle cx="475.1" cy="521.5"/><circle cx="460.5" cy="630.6"/><circle cx="442.8" cy="631"/><circle cx="484.5" cy="629.8"/><circle cx="444.1" cy="643.5"/><circle cx="442.5" cy="641.1"/><circle cx="454.3" cy="645.9"/><circle cx="462.2" cy="609.6"/><circle cx="445.2" cy="647.7"/><circle cx="483.9" cy="630.3"/><circle cx="449.6" cy="632.6"/><circle cx="449.5" cy="637.2"/><circle cx="450.6" cy="646.5"/><circle cx="484.3" cy="619"/><circle cx="442.8" cy="626.7"/><circle cx="455.5" cy="647.4"/><circle cx="454.4" cy="644.5"/><circle cx="473.6" cy="613.2"/><circle cx="442.5" cy="647.5"/><circle cx="449.9" cy="593.6"/><circle cx="443" cy="657.2"/><circle cx="473.6" cy="646.7"/><circle cx="472" cy="606"/><circle cx="472.7" cy="643"/><circle cx="460.6" cy="635.3"/><circle cx="446.7" cy="621.5"/><circle cx="456.9" cy="625.5"/><circle cx="448.7" cy="611.3"/><circle cx="449.2" cy="645.8"/></g><g class="m"><circle cx="444.1" cy="620.3"/><circle cx="449.9" cy="627.6"/><circle cx="447.3" cy="595.3"/><circle cx="442.8" cy="573.1"/><circle cx="443.6" cy="584.7"/><circle cx="452.4" cy="650.4"/><circle cx="445.7" cy="639.4"/><circle cx="453.9" cy="643.8"/><circle cx="481.3" cy="623.1"/><circle cx="443.3" cy="618.6"/><circle cx="462.8" cy="508.4"/><circle cx="448.1" cy="644.8"/><circle cx="499.4" cy="546.2"/><circle cx="479.7" cy="562.1"/><circle cx="454.2" cy="612.5"/><circle cx="556.8" cy="512"/><circle cx="443.6" cy="633.7"/><circle cx="453" cy="641.4"/><circle cx="443" cy="651.1"/><circle cx="453" cy="643"/><circle cx="442.5" cy="653"/><circle cx="451.2" cy="652.2"/><circle cx="475.1" cy="611.9"/><circle cx="451.6" cy="585.6"/><circle cx="445.4" cy="626"/><circle cx="453.6" cy="623.9"/><circle cx="454.9" cy="649.8"/><circle cx="448" cy="609.8"/><circle cx="452.2" cy="619.9"/><circle cx="446.1" cy="653.8"/><circle cx="464" cy="645.5"/><circle cx="443.4" cy="608.6"/><circle cx="462.4" cy="655.3"/><circle cx="450.1" cy="589"/><circle cx="460.4" cy="588.6"/><circle cx="449.3" cy="649.6"/><circle cx="448.2" cy="528.6"/><circle cx="469.4" cy="632.2"/><circle cx="455.5" cy="615.3"/><circle cx="445.5" cy="630"/></g><g class="m"><circle cx="467.3" cy="640.3"/><circle cx="445.8" cy="599"/><circle cx="458.8" cy="637.9"/><circle cx="443.3" cy="575.2"/><circle cx="448.3" cy="627.3"/><circle cx="519.4" cy="429.8"/><circle cx="444.7" cy="578.6"/><circle cx="448.8" cy="651.5"/><circle cx="452.6" cy="637.3"/><circle cx="442.8" cy="634.9"/><circle cx="442.7" cy="647.5"/><circle cx="449.3" cy="617.3"/><circle cx="453.4" cy="623.4"/><circle cx="457.5" cy="638.7"/><circle cx="442.8" cy="652.8"/><circle cx="448.9" cy="653.5"/><circle cx="443.2" cy="656.6"/><circle cx="446.3" cy="600.8"/><circle cx="451.3" cy="624.3"/><circle cx="447.3" cy="645.9"/><circle cx="445.3" cy="643.4"/><circle cx="449.9" cy="576.3"/><circle cx="457.6" cy="613.3"/><circle cx="473.3" cy="649.2"/><circle cx="450.1" cy="653.5"/><circle cx="452.2" cy="601"/><circle cx="461.1" cy="631.4"/><circle cx="445.3" cy="628.4"/><circle cx="446.9" cy="608.5"/><circle cx="457.8" cy="602.8"/><circle cx="453.3" cy="611.5"/><circle cx="442.6" cy="649.2"/><circle cx="458.7" cy="626.1"/><circle cx="448.9" cy="651.6"/><circle cx="461.7" cy="640"/><circle cx="449" cy="630.1"/><circle cx="497.5" cy="547.6"/><circle cx="452" cy="655.6"/><circle cx="450.2" cy="584.6"/><circle cx="456.8" cy="547.4"/></g><g class="m"><circle cx="443.1" cy="638.8"/><circle cx="460.5" cy="535.7"/><circle cx="456" cy="642"/><circle cx="448.7" cy="575.8"/><circle cx="448.5" cy="623.1"/><circle cx="487" cy="608.7"/><circle cx="461.2" cy="647.6"/><circle cx="455.1" cy="637"/><circle cx="443.5" cy="622.2"/><circle cx="461.9" cy="655.5"/><circle cx="461.4" cy="591"/><circle cx="451.4" cy="643.9"/><circle cx="443.5" cy="649.1"/><circle cx="443.6" cy="654.7"/><circle cx="460.5" cy="627.6"/><circle cx="459.3" cy="632.5"/><circle cx="467.2" cy="531.5"/><circle cx="484.8" cy="633.6"/><circle cx="444.9" cy="653.3"/><circle cx="456.6" cy="638.1"/><circle cx="463.2" cy="642.8"/><circle cx="442.5" cy="655.3"/><circle cx="453.4" cy="645.7"/><circle cx="444.9" cy="641.4"/><circle cx="458.4" cy="587.8"/><circle cx="449" cy="635.2"/><circle cx="448.6" cy="633"/><circle cx="443.4" cy="585.1"/><circle cx="487" cy="617.2"/><circle cx="444.4" cy="651.9"/><circle cx="448.9" cy="655.8"/><circle cx="456.9" cy="643.1"/><circle cx="447.6" cy="638.8"/><circle cx="447.2" cy="640.8"/><circle cx="451.9" cy="637.3"/><circle cx="447.3" cy="614.8"/><circle cx="463" cy="657"/><circle cx="447.8" cy="649.2"/><circle cx="457" cy="639.2"/><circle cx="453.3" cy="639.5"/></g><g class="m"><circle cx="443.9" cy="625.9"/><circle cx="452.6" cy="633.4"/><circle cx="447.3" cy="645.8"/><circle cx="459.8" cy="652.4"/><circle cx="448.3" cy="640.3"/><circle cx="454" cy="628.4"/><circle cx="480.6" cy="655.1"/><circle cx="445.5" cy="641.6"/><circle cx="452.3" cy="622.5"/><circle cx="444.5" cy="618.4"/><circle cx="477.2" cy="567.8"/><circle cx="446.5" cy="654.4"/><circle cx="463.1" cy="643.1"/><circle cx="444.7" cy="655"/><circle cx="504.6" cy="609.9"/><circle cx="448.8" cy="601"/><circle cx="445.4" cy="650.5"/><circle cx="443.9" cy="635"/><circle cx="446.8" cy="653.4"/><circle cx="485" cy="490"/><circle cx="444" cy="629.6"/><circle cx="449" cy="586"/><circle cx="447.2" cy="655.1"/><circle cx="456.5" cy="649.6"/><circle cx="457.1" cy="616.4"/><circle cx="454.8" cy="649.7"/><circle cx="455.4" cy="559.8"/><circle cx="462.2" cy="588.9"/><circle cx="447.2" cy="547.9"/><circle cx="559.8" cy="578.9"/><circle cx="451.2" cy="652.5"/><circle cx="451.2" cy="587.4"/><circle cx="451.8" cy="636.1"/><circle cx="448.1" cy="587.2"/><circle cx="459.5" cy="622.1"/><circle cx="456.9" cy="623.9"/><circle cx="451.5" cy="622.5"/><circle cx="464" cy="629.4"/><circle cx="505.1" cy="581.8"/><circle cx="465" cy="638.9"/></g><g class="m"><circle cx="449.4" cy="652.1"/><circle cx="475.2" cy="641.6"/><circle cx="443.4" cy="584.2"/><circle cx="461.2" cy="650.2"/><circle cx="479.8" cy="643.1"/><circle cx="455.3" cy="617.1"/><circle cx="456.3" cy="548.6"/><circle cx="446.1" cy="642.5"/><circle cx="468.5" cy="613.1"/><circle cx="446.8" cy="564.6"/><circle cx="451.2" cy="626.6"/><circle cx="455.2" cy="584.5"/><circle cx="443" cy="610.9"/><circle cx="465.9" cy="641.9"/><circle cx="453.5" cy="608"/><circle cx="459.9" cy="640.5"/><circle cx="458.2" cy="606.8"/><circle cx="465.1" cy="594.1"/><circle cx="453" cy="635.6"/><circle cx="447.8" cy="625.5"/><circle cx="443.9" cy="632.6"/><circle cx="460.2" cy="642.6"/><circle cx="445.8" cy="646.8"/><circle cx="452.2" cy="633.7"/><circle cx="458.2" cy="621.9"/><circle cx="452.3" cy="619.1"/><circle cx="446.7" cy="545.1"/><circle cx="446.7" cy="611"/><circle cx="450.7" cy="539.9"/><circle cx="463.6" cy="625"/><circle cx="448" cy="648.2"/><circle cx="448.1" cy="643.8"/><circle cx="462.6" cy="635.9"/><circle cx="556.6" cy="499.1"/><circle cx="450" cy="652.4"/><circle cx="459.5" cy="634.5"/><circle cx="443.7" cy="598.2"/><circle cx="443.4" cy="625.9"/><circle cx="459" cy="620.9"/><circle cx="447.2" cy="625.3"/></g><g class="m"><circle cx="448" cy="648.9"/><circle cx="462.4" cy="558.1"/><circle cx="444.8" cy="652.7"/><circle cx="453.3" cy="652"/><circle cx="445" cy="642.6"/><circle cx="455.1" cy="651.6"/><circle cx="456.3" cy="566.9"/><circle cx="449.1" cy="642.1"/><circle cx="448.7" cy="654.3"/><circle cx="476.6" cy="612.7"/><circle cx="445.8" cy="615.8"/><circle cx="443.8" cy="639.3"/><circle cx="460" cy="618.6"/><circle cx="445.4" cy="593.6"/><circle cx="455.4" cy="636.7"/><circle cx="442.8" cy="615.4"/><circle cx="450.8" cy="647.9"/><circle cx="513.7" cy="643.4"/><circle cx="451.8" cy="656.2"/><circle cx="542.3" cy="497.2"/><circle cx="506.6" cy="588.8"/><circle cx="450.1" cy="630.6"/><circle cx="461.7" cy="623.2"/><circle cx="448.9" cy="636.5"/><circle cx="443.3" cy="615.6"/><circle cx="458.7" cy="623.9"/><circle cx="451.4" cy="651.6"/><circle cx="443.7" cy="630.9"/><circle cx="465.2" cy="634.7"/><circle cx="469.2" cy="641.7"/><circle cx="462.5" cy="596.4"/><circle cx="447.4" cy="636.4"/><circle cx="444" cy="544.9"/><circle cx="462.1" cy="635.5"/><circle cx="447.6" cy="602.6"/><circle cx="445.4" cy="646.8"/><circle cx="444.4" cy="653.9"/><circle cx="448" cy="650.7"/><circle cx="442.7" cy="645.7"/><circle cx="453.7" cy="642.9"/></g><g class="m"><circle cx="527.5" cy="480.7"/><circle cx="450.4" cy="633.7"/><circle cx="464.6" cy="646.3"/><circle cx="455.4" cy="656.2"/><circle cx="462.5" cy="594.5"/><circle cx="467" cy="648.4"/><circle cx="445.7" cy="624.7"/><circle cx="459.3" cy="649.6"/><circle cx="453.3" cy="633.1"/><circle cx="518.4" cy="602.6"/><circle cx="487.6" cy="618.5"/><circle cx="452" cy="623.6"/><circle cx="443.5" cy="646.1"/><circle cx="448.6" cy="638.9"/><circle cx="451.4" cy="625.8"/><circle cx="456.8" cy="608.3"/><circle cx="489.8" cy="639.1"/><circle cx="451.7" cy="651"/><circle cx="446.8" cy="639.2"/><circle cx="443.5" cy="627.3"/><circle cx="456.6" cy="649.8"/><circle cx="459" cy="633.8"/><circle cx="447.2" cy="640.9"/><circle cx="470.8" cy="637.9"/><circle cx="552.2" cy="486.9"/><circle cx="452.1" cy="652.5"/><circle cx="449.8" cy="645.8"/><circle cx="452.4" cy="559"/><circle cx="442.8" cy="639.7"/><circle cx="458.6" cy="537.6"/><circle cx="447.9" cy="641"/><circle cx="475.2" cy="627.3"/><circle cx="453.5" cy="524.4"/><circle cx="446.9" cy="619.8"/><circle cx="470.1" cy="602"/><circle cx="460.1" cy="637.4"/><circle cx="482.3" cy="618.4"/><circle cx="452.8" cy="628.5"/><circle cx="463" cy="651.7"/><circle cx="470.9" cy="507.9"/></g><g class="m"><circle cx="443.3" cy="618.3"/><circle cx="448.7" cy="638.8"/><circle cx="467.5" cy="651"/><circle cx="458.6" cy="610.6"/><circle cx="465" cy="644.6"/><circle cx="445.3" cy="623.7"/><circle cx="446.3" cy="644.4"/><circle cx="451.2" cy="640.8"/><circle cx="446.2" cy="633.9"/><circle cx="448.5" cy="643.2"/><circle cx="453.9" cy="606.5"/><circle cx="450.8" cy="651.4"/><circle cx="449.4" cy="641.7"/><circle cx="443.7" cy="654"/><circle cx="461.3" cy="588.7"/><circle cx="452" cy="579.2"/><circle cx="445" cy="651.6"/><circle cx="444.6" cy="577.7"/><circle cx="442.5" cy="651.9"/><circle cx="446.3" cy="629.9"/><circle cx="452.8" cy="630.9"/><circle cx="453.9" cy="607.2"/><circle cx="450.9" cy="647.3"/><circle cx="448.9" cy="647.4"/><circle cx="444.4" cy="627.7"/><circle cx="460.9" cy="644.2"/><circle cx="459.7" cy="650.9"/><circle cx="472.1" cy="624.3"/><circle cx="444.4" cy="642.7"/><circle cx="450.2" cy="517.6"/><circle cx="465.5" cy="653.5"/><circle cx="465" cy="612.3"/><circle cx="449.2" cy="536.5"/><circle cx="470.3" cy="533.2"/><circle cx="446.1" cy="652"/><circle cx="457.1" cy="635.4"/><circle cx="443.9" cy="634.2"/><circle cx="443.8" cy="651.4"/><circle cx="442.5" cy="613.7"/><circle cx="447.6" cy="640.9"/></g><g class="m"><circle cx="459.3" cy="636.4"/><circle cx="451.4" cy="649.4"/><circle cx="470.1" cy="634.7"/><circle cx="453.9" cy="591.3"/><circle cx="455.4" cy="641.2"/><circle cx="444.7" cy="612.9"/><circle cx="444.5" cy="653.6"/><circle cx="458.3" cy="630.2"/><circle cx="443.5" cy="612.7"/><circle cx="459" cy="565.5"/><circle cx="451.9" cy="580.5"/><circle cx="442.6" cy="655.8"/><circle cx="449.3" cy="651.1"/><circle cx="450.5" cy="648.7"/><circle cx="462" cy="632.7"/><circle cx="460.3" cy="648.8"/><circle cx="443.9" cy="596.3"/><circle cx="449.2" cy="619.3"/><circle cx="481.1" cy="628"/><circle cx="477.2" cy="622.1"/><circle cx="449.9" cy="516.8"/><circle cx="460.8" cy="648.7"/><circle cx="444.2" cy="640.4"/><circle cx="446.6" cy="647.9"/><circle cx="446.4" cy="628.3"/><circle cx="442.5" cy="646.5"/><circle cx="450.6" cy="654.8"/><circle cx="450.8" cy="654.9"/><circle cx="445.1" cy="572.2"/><circle cx="454" cy="655.3"/><circle cx="454.8" cy="623.6"/><circle cx="450.2" cy="652.3"/><circle cx="448.2" cy="644"/><circle cx="453.1" cy="651.1"/><circle cx="443.6" cy="635.7"/><circle cx="445.5" cy="647.5"/><circle cx="444.1" cy="649.5"/><circle cx="474.7" cy="642.4"/><circle cx="469.5" cy="637"/><circle cx="462.9" cy="632.3"/></g><g class="m"><circle cx="448.4" cy="622.5"/><circle cx="463.1" cy="609.2"/><circle cx="450.5" cy="631.6"/><circle cx="453.9" cy="615.7"/><circle cx="444.9" cy="627.5"/><circle cx="461.8" cy="637.5"/><circle cx="447.7" cy="616.3"/><circle cx="460.9" cy="621.3"/><circle cx="443.5" cy="637.3"/><circle cx="444.8" cy="651.9"/><circle cx="458.4" cy="616.7"/><circle cx="465.1" cy="636.7"/><circle cx="452.1" cy="630.9"/><circle cx="443.9" cy="531.5"/><circle cx="446.3" cy="605"/><circle cx="448.9" cy="653.6"/><circle cx="448.9" cy="648.4"/><circle cx="457.4" cy="653.9"/><circle cx="442.8" cy="652.2"/><circle cx="553" cy="486.9"/><circle cx="444.5" cy="569.9"/><circle cx="468" cy="606.8"/><circle cx="444.5" cy="625"/><circle cx="444.4" cy="621.3"/><circle cx="449.5" cy="602.7"/><circle cx="456.7" cy="575.7"/><circle cx="444.1" cy="617.2"/><circle cx="464.8" cy="636.5"/><circle cx="443.1" cy="643.8"/><circle cx="446.9" cy="637.4"/><circle cx="491.1" cy="630.5"/><circle cx="472.2" cy="591.8"/><circle cx="471.9" cy="546.2"/><circle cx="452.4" cy="621"/><circle cx="488" cy="598.4"/><circle cx="443.5" cy="619"/><circle cx="467" cy="627.6"/><circle cx="482.7" cy="641.9"/><circle cx="443.6" cy="599"/><circle cx="443.4" cy="577.1"/></g><g class="m"><circle cx="473.1" cy="649.3"/><circle cx="448.1" cy="623.2"/><circle cx="446.2" cy="648.5"/><circle cx="447.1" cy="543.9"/><circle cx="474.8" cy="637.8"/><circle cx="444.7" cy="563.7"/><circle cx="477.5" cy="560.8"/><circle cx="442.8" cy="623.7"/><circle cx="444.4" cy="583.9"/><circle cx="518.4" cy="550.4"/><circle cx="446.6" cy="657.2"/><circle cx="472.2" cy="620.4"/><circle cx="443.2" cy="569"/><circle cx="447.3" cy="646.7"/><circle cx="442.6" cy="608.1"/><circle cx="453" cy="653"/><circle cx="445.4" cy="649.5"/><circle cx="444.6" cy="607.9"/><circle cx="450.1" cy="652.9"/><circle cx="443.6" cy="649.3"/><circle cx="511.8" cy="524.9"/><circle cx="444.7" cy="653.4"/><circle cx="451.5" cy="641.6"/><circle cx="447.9" cy="588.1"/><circle cx="443.7" cy="638.7"/><circle cx="452.2" cy="616.8"/><circle cx="443.6" cy="650.3"/><circle cx="484" cy="600.2"/><circle cx="443.1" cy="630.1"/><circle cx="443.6" cy="609.4"/><circle cx="473.5" cy="615.4"/><circle cx="444.1" cy="647"/><circle cx="443.7" cy="598.6"/><circle cx="452.9" cy="562.7"/><circle cx="461.6" cy="622.7"/><circle cx="451" cy="652.3"/><circle cx="484.5" cy="609.2"/><circle cx="447.5" cy="653.1"/><circle cx="464.8" cy="645.3"/><circle cx="559.6" cy="542.4"/></g><g class="m"><circle cx="445.7" cy="643.2"/><circle cx="443.3" cy="627.8"/><circle cx="454.9" cy="573.7"/><circle cx="453.7" cy="637.1"/><circle cx="449.6" cy="625.7"/><circle cx="448.5" cy="652.3"/><circle cx="444.5" cy="600.9"/><circle cx="446.6" cy="601.7"/><circle cx="445.2" cy="651.8"/><circle cx="461.4" cy="544.6"/><circle cx="460.5" cy="655.6"/><circle cx="446.2" cy="633.6"/><circle cx="459.9" cy="563"/><circle cx="459.1" cy="620.3"/><circle cx="468.3" cy="604.4"/><circle cx="449" cy="651.5"/><circle cx="442.8" cy="639.8"/><circle cx="487.1" cy="593.6"/><circle cx="457.5" cy="600"/><circle cx="464" cy="650.5"/><circle cx="450.9" cy="646"/><circle cx="444.3" cy="556.4"/><circle cx="502.5" cy="621.2"/><circle cx="449.2" cy="606.2"/><circle cx="454.8" cy="646"/><circle cx="508" cy="650.1"/><circle cx="446.1" cy="592.6"/><circle cx="456.1" cy="646.9"/><circle cx="450.3" cy="635.9"/><circle cx="450" cy="572.6"/><circle cx="442.8" cy="633.3"/><circle cx="476.1" cy="630.6"/><circle cx="443.1" cy="657.2"/><circle cx="458.2" cy="588.3"/><circle cx="449.9" cy="627.9"/><circle cx="463.8" cy="654.8"/><circle cx="452.6" cy="636.2"/><circle cx="457.3" cy="651.3"/><circle cx="454.5" cy="653.3"/><circle cx="444.6" cy="651.8"/></g><g class="m"><circle cx="523.4" cy="598"/><circle cx="451.4" cy="635.3"/><circle cx="449.2" cy="651.4"/><circle cx="463" cy="612.1"/><circle cx="446" cy="650.4"/><circle cx="444.9" cy="635.7"/><circle cx="451.7" cy="602.9"/><circle cx="450.2" cy="654.5"/><circle cx="443.6" cy="581"/><circle cx="456" cy="634"/><circle cx="443.2" cy="650.5"/><circle cx="447.4" cy="484.5"/><circle cx="457.5" cy="634.2"/><circle cx="444.1" cy="523.5"/><circle cx="443.4" cy="604.5"/><circle cx="450.8" cy="526.4"/><circle cx="444.7" cy="615.4"/><circle cx="451.4" cy="653.9"/><circle cx="450.8" cy="607.9"/><circle cx="548.4" cy="473.5"/><circle cx="460.6" cy="652.9"/><circle cx="455.3" cy="653.1"/><circle cx="461.3" cy="649.2"/><circle cx="486.2" cy="597.9"/><circle cx="446.5" cy="586.8"/><circle cx="449.9" cy="643.4"/><circle cx="443.7" cy="611.2"/><circle cx="444.6" cy="651.4"/><circle cx="451.3" cy="632"/><circle cx="492.8" cy="538.9"/><circle cx="442.6" cy="625.4"/><circle cx="448.8" cy="651.8"/><circle cx="454.6" cy="594.5"/><circle cx="455.6" cy="632.8"/><circle cx="449.8" cy="646.4"/><circle cx="444.8" cy="655.1"/><circle cx="474.2" cy="615.6"/><circle cx="447.8" cy="586.6"/><circle cx="466.9" cy="614.1"/><circle cx="446.6" cy="627.4"/></g><g class="m"><circle cx="469.4" cy="548"/><circle cx="443.7" cy="640.1"/><circle cx="443.8" cy="643.1"/><circle cx="453.4" cy="576.5"/><circle cx="449.9" cy="616.3"/><circle cx="445.9" cy="654.7"/><circle cx="459.1" cy="607"/><circle cx="446.3" cy="649.5"/><circle cx="448.3" cy="654.9"/><circle cx="459.7" cy="599.5"/><circle cx="451.4" cy="582.8"/><circle cx="446.7" cy="613.8"/><circle cx="442.7" cy="651.9"/><circle cx="469" cy="642.4"/><circle cx="453.2" cy="651.1"/><circle cx="446.9" cy="622.3"/><circle cx="442.6" cy="638.9"/><circle cx="456" cy="630.8"/><circle cx="470.1" cy="609"/><circle cx="451.2" cy="612.1"/><circle cx="449.1" cy="640"/><circle cx="445" cy="611.8"/><circle cx="450.8" cy="582.9"/><circle cx="472.8" cy="622.1"/><circle cx="450.1" cy="607.1"/><circle cx="487" cy="622"/><circle cx="485.8" cy="628"/><circle cx="515.8" cy="615.2"/><circle cx="465.7" cy="630.6"/><circle cx="444.2" cy="647.2"/><circle cx="457.8" cy="623.7"/><circle cx="462.6" cy="571.8"/><circle cx="464.5" cy="639.5"/><circle cx="471.2" cy="646.4"/><circle cx="463.6" cy="591.5"/><circle cx="519.4" cy="465.9"/><circle cx="455.3" cy="581.9"/><circle cx="447.1" cy="553.2"/><circle cx="447.3" cy="631.8"/><circle cx="444.6" cy="640.5"/></g><g class="m"><circle cx="461.1" cy="606.1"/><circle cx="453" cy="648.1"/><circle cx="480.8" cy="623.3"/><circle cx="451.4" cy="640.9"/><circle cx="461.4" cy="624.9"/><circle cx="449.9" cy="593.2"/><circle cx="473.8" cy="629.6"/><circle cx="456.6" cy="620.9"/><circle cx="448.8" cy="631.8"/><circle cx="467.8" cy="622.9"/><circle cx="452.3" cy="634"/><circle cx="442.7" cy="636.7"/><circle cx="521.8" cy="536.3"/><circle cx="458.1" cy="637.6"/><circle cx="447" cy="650.6"/><circle cx="452.9" cy="632.5"/><circle cx="451.3" cy="618.4"/><circle cx="469.9" cy="639.4"/><circle cx="443.4" cy="619.5"/><circle cx="462.3" cy="640"/><circle cx="472.5" cy="533.8"/><circle cx="445.4" cy="644.1"/><circle cx="446.3" cy="618.3"/><circle cx="444.3" cy="656.2"/><circle cx="448.5" cy="651.8"/><circle cx="450.7" cy="644"/><circle cx="487.9" cy="575.1"/><circle cx="549.7" cy="576.4"/><circle cx="443.1" cy="653.3"/><circle cx="478" cy="501"/><circle cx="444.7" cy="648.9"/><circle cx="444.1" cy="654.6"/><circle cx="460.1" cy="649.7"/><circle cx="443.8" cy="630.2"/><circle cx="445.2" cy="634.6"/><circle cx="531.7" cy="500.2"/><circle cx="445.1" cy="622.1"/><circle cx="444.3" cy="598.9"/><circle cx="445.3" cy="626.2"/><circle cx="449.2" cy="606.1"/></g><g class="m"><circle cx="448.1" cy="656.1"/><circle cx="446" cy="650.6"/><circle cx="463.2" cy="642.4"/><circle cx="443.3" cy="640.9"/><circle cx="442.9" cy="639.7"/><circle cx="458.9" cy="654.3"/><circle cx="452.3" cy="648"/><circle cx="445.2" cy="619.6"/><circle cx="443" cy="657.1"/><circle cx="466.4" cy="633.1"/><circle cx="442.8" cy="622.5"/><circle cx="444.8" cy="629.5"/><circle cx="446.1" cy="645.5"/><circle cx="449.6" cy="636.5"/><circle cx="442.9" cy="628.1"/><circle cx="462.2" cy="647"/><circle cx="462.4" cy="609.1"/><circle cx="477.2" cy="602.3"/><circle cx="466.7" cy="513.3"/><circle cx="448.5" cy="553.5"/><circle cx="446.9" cy="629.9"/><circle cx="466.7" cy="612.4"/><circle cx="450.3" cy="602.5"/><circle cx="455.1" cy="629"/><circle cx="458.7" cy="638.8"/><circle cx="450.6" cy="639.7"/><circle cx="446.2" cy="647.6"/><circle cx="444.5" cy="632.9"/><circle cx="448.5" cy="600.6"/><circle cx="447.9" cy="655.8"/><circle cx="452.9" cy="647.2"/><circle cx="467.1" cy="624.5"/><circle cx="474.3" cy="652.8"/><circle cx="459.5" cy="648.1"/><circle cx="454" cy="561.5"/><circle cx="447" cy="645.5"/><circle cx="452.2" cy="655.5"/><circle cx="450.1" cy="626.8"/><circle cx="447.4" cy="609"/><circle cx="451.8" cy="624.8"/></g><g class="d"><circle cx="464.5" cy="638"/><circle cx="444.1" cy="574.3"/><circle cx="471" cy="612.5"/><circle cx="444.6" cy="643.2"/><circle cx="453.9" cy="650"/><circle cx="445.6" cy="627.2"/><circle cx="459.7" cy="648.6"/><circle cx="448.3" cy="648"/><circle cx="445.1" cy="631.6"/><circle cx="483.7" cy="642.3"/><circle cx="454.1" cy="615"/><circle cx="452.6" cy="645.3"/><circle cx="455.8" cy="654.6"/><circle cx="669.2" cy="644"/><circle cx="456.4" cy="654.2"/><circle cx="473.3" cy="628"/><circle cx="458.3" cy="651"/><circle cx="462.2" cy="654.8"/><circle cx="472.9" cy="633.6"/><circle cx="477.2" cy="533.8"/><circle cx="449.4" cy="647.1"/><circle cx="470.3" cy="655.5"/><circle cx="450.4" cy="647.2"/><circle cx="463.1" cy="611.3"/><circle cx="513.5" cy="642.5"/><circle cx="467.1" cy="650.3"/><circle cx="448.9" cy="650.6"/><circle cx="453.2" cy="654.5"/><circle cx="453.1" cy="522.6"/><circle cx="462.9" cy="605.1"/><circle cx="461.4" cy="630.2"/><circle cx="450.5" cy="652.5"/><circle cx="443.5" cy="638.2"/><circle cx="445.2" cy="653.8"/><circle cx="473.5" cy="631.4"/><circle cx="442.5" cy="657.4"/><circle cx="443.7" cy="648.4"/></g><g class="m"><circle cx="454.2" cy="649"/><circle cx="443.9" cy="649.6"/><circle cx="445.1" cy="656.1"/></g><g class="d"><circle cx="456.4" cy="620.7"/><circle cx="447.2" cy="639.5"/><circle cx="454.7" cy="601.6"/><circle cx="486.8" cy="650.5"/><circle cx="488.7" cy="646.8"/><circle cx="453.7" cy="630.6"/><circle cx="455.8" cy="621.9"/><circle cx="447.2" cy="650.6"/><circle cx="482.4" cy="648.9"/><circle cx="475.7" cy="632.4"/><circle cx="447.6" cy="650.8"/><circle cx="463.6" cy="650.6"/><circle cx="443.5" cy="654.6"/><circle cx="453.5" cy="653.7"/><circle cx="460.9" cy="643.7"/><circle cx="461.2" cy="628.8"/><circle cx="475.5" cy="657.2"/><circle cx="450.6" cy="655.4"/><circle cx="448.9" cy="642.6"/><circle cx="473.9" cy="619"/><circle cx="443.8" cy="640.3"/><circle cx="469.3" cy="621.4"/><circle cx="445.2" cy="644.5"/><circle cx="451.2" cy="653.5"/><circle cx="461.4" cy="646.1"/><circle cx="443.3" cy="624.9"/><circle cx="451.7" cy="574.2"/><circle cx="451.8" cy="651.1"/><circle cx="462.8" cy="642.7"/><circle cx="451.2" cy="655.5"/><circle cx="449.3" cy="653.2"/><circle cx="443.8" cy="638.9"/><circle cx="472" cy="588.7"/><circle cx="443.5" cy="654.8"/><circle cx="466.2" cy="615.6"/><circle cx="453.8" cy="650.3"/><circle cx="444.8" cy="655.1"/><circle cx="455" cy="639.9"/><circle cx="454.5" cy="649.5"/><circle cx="445" cy="653.4"/></g><g class="d"><circle cx="468.8" cy="652.5"/><circle cx="503.7" cy="617.8"/><circle cx="476.3" cy="537.6"/><circle cx="446" cy="602.7"/><circle cx="451.5" cy="604.5"/><circle cx="469.5" cy="650.5"/><circle cx="444.5" cy="648"/><circle cx="443.5" cy="654.7"/><circle cx="511.9" cy="644.3"/><circle cx="483.6" cy="625.1"/><circle cx="448.7" cy="644.1"/><circle cx="455.7" cy="651.3"/><circle cx="496.2" cy="535.7"/><circle cx="508.9" cy="516.4"/><circle cx="459.9" cy="628.5"/><circle cx="500.5" cy="646"/><circle cx="454.5" cy="529.8"/><circle cx="450.7" cy="651.8"/><circle cx="456.1" cy="651.7"/><circle cx="454.6" cy="651"/><circle cx="470.8" cy="653.3"/><circle cx="449.4" cy="626.8"/><circle cx="443.2" cy="625.6"/><circle cx="460.1" cy="647.9"/><circle cx="461.6" cy="613.7"/><circle cx="489.3" cy="634.3"/><circle cx="592.9" cy="648.2"/><circle cx="443.5" cy="640.9"/><circle cx="461" cy="647.7"/><circle cx="468.1" cy="632.9"/><circle cx="491.8" cy="647.3"/><circle cx="504.9" cy="644.7"/><circle cx="445.4" cy="645.4"/><circle cx="452.5" cy="655.4"/><circle cx="446.4" cy="649.4"/><circle cx="443.6" cy="656.7"/><circle cx="462.9" cy="631.7"/><circle cx="464.3" cy="653.9"/><circle cx="446.6" cy="650.4"/><circle cx="447.6" cy="636.8"/></g><g class="d"><circle cx="455.8" cy="652"/><circle cx="442.7" cy="589.9"/><circle cx="444.4" cy="624.3"/><circle cx="448.5" cy="639.1"/><circle cx="453.6" cy="626.8"/><circle cx="453.4" cy="591.8"/><circle cx="493.7" cy="650.5"/><circle cx="456.5" cy="641.2"/><circle cx="496.7" cy="642.1"/><circle cx="478.5" cy="574.2"/><circle cx="444.3" cy="656"/><circle cx="452.5" cy="647.9"/><circle cx="448.8" cy="652.5"/><circle cx="456.3" cy="626"/><circle cx="448.8" cy="636"/><circle cx="448.3" cy="607.4"/><circle cx="458.1" cy="654.1"/><circle cx="452" cy="642"/><circle cx="482.5" cy="644.7"/><circle cx="450" cy="606.4"/><circle cx="454" cy="640.7"/><circle cx="470.4" cy="612.3"/><circle cx="487.7" cy="545.2"/><circle cx="442.8" cy="652.9"/><circle cx="447.5" cy="646.1"/><circle cx="470" cy="650.6"/><circle cx="451.3" cy="581.7"/><circle cx="473" cy="642.4"/><circle cx="458.2" cy="644.3"/><circle cx="453.2" cy="655.4"/><circle cx="449.7" cy="655.4"/><circle cx="486.8" cy="653.1"/><circle cx="453.4" cy="653.4"/><circle cx="447" cy="656.7"/><circle cx="458.3" cy="634.7"/><circle cx="443.8" cy="635.7"/><circle cx="463.9" cy="541.4"/><circle cx="572.7" cy="656.3"/><circle cx="463.5" cy="609.1"/><circle cx="487.9" cy="656.9"/></g><g class="d"><circle cx="446.6" cy="655.1"/><circle cx="443.6" cy="651.9"/><circle cx="475.7" cy="632.7"/><circle cx="486.7" cy="652.2"/><circle cx="445.1" cy="596.2"/><circle cx="453.1" cy="632.2"/><circle cx="444.9" cy="646.2"/><circle cx="451" cy="646.1"/><circle cx="464.1" cy="616.8"/><circle cx="497" cy="643.4"/><circle cx="475.9" cy="605.7"/><circle cx="463.6" cy="655.2"/><circle cx="482.9" cy="627.6"/><circle cx="522.7" cy="642.3"/><circle cx="452.1" cy="645.6"/><circle cx="475.8" cy="651.5"/><circle cx="482.1" cy="641.1"/><circle cx="448.9" cy="651.3"/><circle cx="444.1" cy="656.1"/><circle cx="446.5" cy="645.8"/><circle cx="462.3" cy="631.6"/><circle cx="503.5" cy="600.6"/><circle cx="445.4" cy="654.4"/><circle cx="459.9" cy="651.5"/><circle cx="467.6" cy="633.7"/><circle cx="461.8" cy="638.3"/><circle cx="443" cy="645.3"/><circle cx="480" cy="657.5"/><circle cx="479.7" cy="603.4"/><circle cx="446" cy="653.6"/><circle cx="443.2" cy="618.4"/><circle cx="488.3" cy="636.4"/><circle cx="449" cy="558.8"/><circle cx="443.7" cy="654.1"/><circle cx="461.5" cy="653.1"/><circle cx="445" cy="595.4"/><circle cx="468.1" cy="645.6"/><circle cx="464" cy="649.3"/><circle cx="444.5" cy="651.8"/><circle cx="464.9" cy="645"/></g><g class="d"><circle cx="467.3" cy="614.4"/><circle cx="445.1" cy="653.5"/><circle cx="448" cy="647.6"/><circle cx="494.2" cy="552.7"/><circle cx="453.1" cy="652.7"/><circle cx="453.7" cy="628.6"/><circle cx="461.3" cy="626"/><circle cx="476.7" cy="646.4"/><circle cx="455.7" cy="649.5"/><circle cx="536.4" cy="642.5"/><circle cx="446.2" cy="656.9"/><circle cx="449.8" cy="657.1"/><circle cx="475.2" cy="650.5"/><circle cx="462.3" cy="624.3"/><circle cx="444.1" cy="656.9"/><circle cx="462.4" cy="633.9"/><circle cx="467" cy="632.1"/><circle cx="459.3" cy="656"/><circle cx="443" cy="646.4"/><circle cx="446.4" cy="647.7"/><circle cx="472.6" cy="608"/><circle cx="491.8" cy="604.5"/><circle cx="443.9" cy="649.7"/><circle cx="462.6" cy="624.1"/><circle cx="488" cy="586.5"/><circle cx="513.7" cy="639.9"/><circle cx="451.5" cy="655.5"/><circle cx="476.5" cy="608.9"/><circle cx="463.4" cy="631.1"/><circle cx="444" cy="645.4"/><circle cx="445.4" cy="651.9"/><circle cx="451.9" cy="623.3"/><circle cx="471" cy="645.2"/><circle cx="459.1" cy="638.8"/><circle cx="452.2" cy="648.9"/><circle cx="448.5" cy="655.7"/><circle cx="474.7" cy="642.5"/><circle cx="469.5" cy="653.7"/><circle cx="486.9" cy="572.7"/><circle cx="518.4" cy="609.3"/></g><g class="d"><circle cx="451.5" cy="657.3"/><circle cx="524.7" cy="635.3"/><circle cx="508.5" cy="656.7"/><circle cx="462.6" cy="625.5"/><circle cx="467.9" cy="653.6"/><circle cx="445.7" cy="576.6"/><circle cx="457.6" cy="640.7"/><circle cx="453.9" cy="478.2"/><circle cx="449.4" cy="613.8"/><circle cx="456.4" cy="653.9"/><circle cx="459.2" cy="656.8"/><circle cx="446.1" cy="652.6"/><circle cx="466.5" cy="632.3"/><circle cx="442.7" cy="654.9"/><circle cx="466.8" cy="653.6"/><circle cx="499.4" cy="651.1"/><circle cx="445.9" cy="628.6"/><circle cx="456.9" cy="643.7"/><circle cx="446.6" cy="657.6"/><circle cx="448.2" cy="629.1"/><circle cx="452" cy="622.6"/><circle cx="449.3" cy="530.2"/><circle cx="443.6" cy="642.9"/><circle cx="461.8" cy="650.6"/><circle cx="473.2" cy="633"/><circle cx="470.3" cy="642.2"/><circle cx="453.3" cy="531.7"/><circle cx="460.3" cy="651.3"/><circle cx="458.5" cy="657.2"/><circle cx="455" cy="633.9"/><circle cx="448.5" cy="640.3"/><circle cx="451.8" cy="635.1"/><circle cx="445.2" cy="650"/><circle cx="490.8" cy="616.3"/><circle cx="442.8" cy="611.5"/><circle cx="446.6" cy="647.7"/><circle cx="505.9" cy="650.8"/><circle cx="446.3" cy="646.4"/><circle cx="457.8" cy="605.5"/><circle cx="443.6" cy="630.8"/></g><g class="d"><circle cx="463.7" cy="587.6"/><circle cx="463.2" cy="625.5"/><circle cx="443.3" cy="655.4"/><circle cx="470.6" cy="652.1"/><circle cx="451.5" cy="625.3"/><circle cx="453.7" cy="638.6"/><circle cx="448.5" cy="649.2"/><circle cx="455.7" cy="612.8"/><circle cx="473.5" cy="656.3"/><circle cx="460.3" cy="649.5"/><circle cx="442.9" cy="641.4"/><circle cx="475.1" cy="649.9"/><circle cx="449.4" cy="603.8"/><circle cx="443.8" cy="627.9"/><circle cx="445.8" cy="635.9"/><circle cx="445.7" cy="652.1"/><circle cx="445.4" cy="652.1"/><circle cx="480.1" cy="638.3"/><circle cx="465.8" cy="642.5"/><circle cx="458.5" cy="649.5"/><circle cx="443.4" cy="649.7"/><circle cx="456.1" cy="656.5"/><circle cx="455.6" cy="654"/><circle cx="452.3" cy="655.6"/><circle cx="501.9" cy="630"/><circle cx="512" cy="608.6"/><circle cx="455" cy="652.5"/><circle cx="472.7" cy="608.8"/><circle cx="444.5" cy="604.8"/><circle cx="468.5" cy="644"/><circle cx="456.6" cy="653.4"/><circle cx="462.9" cy="648.6"/><circle cx="556.4" cy="639.6"/><circle cx="449" cy="644.3"/><circle cx="445.4" cy="655"/><circle cx="453.7" cy="635.1"/><circle cx="460.5" cy="652.7"/><circle cx="474.6" cy="641.5"/><circle cx="453.9" cy="645.5"/><circle cx="451.7" cy="656.7"/></g><g class="d"><circle cx="445.8" cy="640.6"/><circle cx="456.3" cy="649.9"/><circle cx="448.7" cy="627"/><circle cx="454.1" cy="640.1"/><circle cx="447.3" cy="645.8"/><circle cx="448.9" cy="637.9"/><circle cx="471.2" cy="646.7"/><circle cx="479.5" cy="528.7"/><circle cx="455.7" cy="634.2"/><circle cx="524.1" cy="640.6"/><circle cx="464.2" cy="621.3"/><circle cx="463.3" cy="655.2"/><circle cx="462.6" cy="635.6"/><circle cx="462.1" cy="619.8"/><circle cx="445.3" cy="638.2"/><circle cx="454.3" cy="599.9"/><circle cx="459.8" cy="644.2"/><circle cx="455.6" cy="605.9"/><circle cx="442.6" cy="648.3"/><circle cx="464.5" cy="651.2"/><circle cx="470.3" cy="651.1"/><circle cx="459.5" cy="643.7"/><circle cx="442.7" cy="632.9"/><circle cx="517.5" cy="545.2"/><circle cx="453.2" cy="649.1"/><circle cx="447" cy="650"/><circle cx="466.5" cy="657.4"/><circle cx="465.1" cy="601.6"/><circle cx="477.9" cy="618.1"/><circle cx="444.8" cy="629.8"/><circle cx="459.6" cy="601.9"/><circle cx="449.9" cy="624.5"/><circle cx="481.4" cy="587.4"/><circle cx="472.9" cy="528.1"/><circle cx="458.8" cy="645.6"/><circle cx="443.9" cy="652"/><circle cx="468.9" cy="655.6"/><circle cx="465" cy="588"/><circle cx="444.9" cy="648.6"/><circle cx="449.5" cy="649.4"/></g><g class="d"><circle cx="471.8" cy="625.1"/><circle cx="443.1" cy="645.4"/><circle cx="445.7" cy="641.5"/><circle cx="471.3" cy="642.2"/><circle cx="446.8" cy="654.6"/><circle cx="449.6" cy="656.8"/><circle cx="460.3" cy="643.9"/><circle cx="452.2" cy="632.8"/><circle cx="503.2" cy="512.9"/><circle cx="443" cy="636.9"/><circle cx="450.9" cy="629.9"/><circle cx="446.2" cy="649.4"/><circle cx="586.4" cy="592.6"/><circle cx="453.3" cy="643.7"/><circle cx="490.7" cy="640.9"/><circle cx="449.9" cy="656.4"/><circle cx="446.4" cy="651.9"/><circle cx="524.5" cy="547.6"/><circle cx="444.3" cy="652.3"/><circle cx="446.1" cy="622.7"/><circle cx="450.1" cy="628.6"/><circle cx="469.2" cy="640.6"/><circle cx="509.9" cy="623.5"/><circle cx="508.5" cy="632"/><circle cx="447.8" cy="654.4"/><circle cx="468.1" cy="639.3"/><circle cx="638.4" cy="593.5"/><circle cx="445.4" cy="656.9"/><circle cx="444.2" cy="651.7"/><circle cx="450.9" cy="641.9"/><circle cx="459.9" cy="657.2"/><circle cx="458" cy="639"/><circle cx="520.3" cy="565.2"/><circle cx="457.5" cy="653.1"/><circle cx="446.3" cy="655.7"/><circle cx="448.5" cy="602.5"/><circle cx="489.9" cy="523.8"/><circle cx="452.5" cy="649.4"/><circle cx="444.6" cy="655.5"/><circle cx="464.5" cy="654.8"/></g><g class="d"><circle cx="491.5" cy="630.7"/><circle cx="446.6" cy="655.2"/><circle cx="445.4" cy="653.9"/><circle cx="568.6" cy="621"/><circle cx="444.6" cy="621.3"/><circle cx="455.3" cy="638.2"/><circle cx="445" cy="648.2"/><circle cx="507.9" cy="654.8"/><circle cx="448" cy="654.6"/><circle cx="477.2" cy="646.3"/><circle cx="447.9" cy="637.6"/><circle cx="461.6" cy="635.5"/><circle cx="466.2" cy="621.1"/><circle cx="483.6" cy="635"/><circle cx="462" cy="655.5"/><circle cx="459.5" cy="657.4"/><circle cx="516.3" cy="620"/><circle cx="480.3" cy="650.6"/><circle cx="467.7" cy="649.8"/><circle cx="447" cy="643.8"/><circle cx="465.4" cy="629"/><circle cx="477.1" cy="625"/><circle cx="463.4" cy="637.9"/><circle cx="445.4" cy="654.7"/><circle cx="490.8" cy="650.9"/><circle cx="502.8" cy="557.1"/><circle cx="456.3" cy="644.2"/><circle cx="453.7" cy="651.9"/><circle cx="460.7" cy="654.4"/><circle cx="460.2" cy="640.6"/><circle cx="456" cy="649.3"/><circle cx="449.8" cy="654.2"/><circle cx="474.4" cy="626.2"/><circle cx="444" cy="596.7"/><circle cx="471.7" cy="626.7"/><circle cx="456.7" cy="648.6"/><circle cx="468.9" cy="642"/><circle cx="496" cy="637.6"/><circle cx="453.3" cy="634.9"/><circle cx="451.6" cy="626"/></g><g class="d"><circle cx="480.8" cy="641.9"/><circle cx="443.8" cy="626"/><circle cx="475.4" cy="630.9"/><circle cx="501.6" cy="626.7"/><circle cx="518.7" cy="631.5"/><circle cx="473.5" cy="645.4"/><circle cx="454.3" cy="635.9"/><circle cx="461.8" cy="642.9"/><circle cx="527.9" cy="592.2"/><circle cx="444.6" cy="644"/><circle cx="451.9" cy="657.1"/><circle cx="450.6" cy="642.5"/><circle cx="445.9" cy="626.2"/><circle cx="466.4" cy="650.9"/><circle cx="453.6" cy="647.3"/><circle cx="488.8" cy="643"/><circle cx="459.8" cy="629"/><circle cx="447.8" cy="626.8"/><circle cx="448.6" cy="657.3"/><circle cx="460" cy="653.1"/><circle cx="461.6" cy="652"/><circle cx="448.4" cy="652.2"/><circle cx="485.1" cy="630.8"/><circle cx="460.6" cy="627"/><circle cx="445.5" cy="638"/><circle cx="458.2" cy="643.2"/><circle cx="443.6" cy="645.2"/><circle cx="443.3" cy="653.9"/><circle cx="459.6" cy="636.5"/><circle cx="445.2" cy="635"/><circle cx="453.3" cy="656.4"/><circle cx="455" cy="638.2"/><circle cx="446.9" cy="639.2"/><circle cx="445.3" cy="657"/><circle cx="451.5" cy="611.7"/><circle cx="443.4" cy="651.9"/><circle cx="463.3" cy="648.5"/><circle cx="444.8" cy="640.6"/><circle cx="492.8" cy="650.3"/><circle cx="454.2" cy="627.9"/></g><g class="d"><circle cx="443" cy="606.3"/><circle cx="445.7" cy="642.1"/><circle cx="458.3" cy="638.2"/><circle cx="450.1" cy="633.1"/><circle cx="447.7" cy="607.1"/><circle cx="450.7" cy="653"/><circle cx="463" cy="653"/><circle cx="456.9" cy="622"/><circle cx="480.4" cy="642.1"/><circle cx="522.3" cy="617.4"/><circle cx="453.7" cy="642.6"/><circle cx="515.6" cy="611.9"/><circle cx="445.7" cy="619.6"/><circle cx="460" cy="646.4"/><circle cx="444" cy="653.9"/><circle cx="446.7" cy="655.9"/><circle cx="452.3" cy="637.8"/><circle cx="446.4" cy="654.8"/><circle cx="449.9" cy="642.8"/><circle cx="465" cy="650.7"/><circle cx="478.8" cy="648.3"/><circle cx="475.2" cy="642.2"/><circle cx="480.1" cy="629.3"/><circle cx="516.5" cy="454.1"/><circle cx="449" cy="619.1"/><circle cx="448.7" cy="657.1"/><circle cx="453.5" cy="639.2"/><circle cx="443.3" cy="649.5"/><circle cx="446.7" cy="653.8"/><circle cx="446.7" cy="592.5"/><circle cx="443.4" cy="652"/><circle cx="462.1" cy="642.3"/><circle cx="500.4" cy="642.2"/><circle cx="459.4" cy="615.9"/><circle cx="456.8" cy="627.1"/><circle cx="450.3" cy="636.6"/><circle cx="454.4" cy="622.7"/><circle cx="455.2" cy="647.9"/><circle cx="454.4" cy="650.6"/><circle cx="459.5" cy="638.6"/></g><g class="d"><circle cx="452.2" cy="636.1"/><circle cx="508" cy="614"/><circle cx="453.7" cy="655.7"/><circle cx="488.4" cy="651.4"/><circle cx="443.7" cy="651.6"/><circle cx="471.2" cy="644.1"/><circle cx="514.2" cy="629.6"/><circle cx="445.5" cy="637.5"/><circle cx="444.4" cy="654.9"/><circle cx="451.5" cy="655.8"/><circle cx="480.4" cy="507.8"/><circle cx="446.2" cy="644.1"/><circle cx="453" cy="656.5"/><circle cx="451.6" cy="652.6"/><circle cx="446.9" cy="595.2"/><circle cx="455.6" cy="600.6"/><circle cx="442.7" cy="609"/><circle cx="444.8" cy="623.8"/><circle cx="474.8" cy="630.5"/><circle cx="454.5" cy="650.3"/><circle cx="447.3" cy="655.9"/><circle cx="466.1" cy="635.8"/><circle cx="460.1" cy="607.4"/><circle cx="480.1" cy="624.1"/><circle cx="445.4" cy="651"/><circle cx="448.2" cy="644.8"/><circle cx="475.8" cy="652.8"/><circle cx="528" cy="603.9"/><circle cx="474.9" cy="654.8"/><circle cx="515.7" cy="650.6"/><circle cx="453.3" cy="650.9"/><circle cx="512.3" cy="538.6"/><circle cx="489.2" cy="626.5"/><circle cx="443.8" cy="652.2"/><circle cx="445.1" cy="639.2"/><circle cx="447.6" cy="644.8"/><circle cx="447.7" cy="637.2"/><circle cx="450.6" cy="655.2"/><circle cx="454.7" cy="652.3"/><circle cx="442.8" cy="639.1"/></g><g class="d"><circle cx="447.2" cy="646.1"/><circle cx="443" cy="638.2"/><circle cx="515.6" cy="486.4"/><circle cx="443.3" cy="653.1"/><circle cx="446.4" cy="615.9"/><circle cx="480.5" cy="610.5"/><circle cx="472.2" cy="627.8"/><circle cx="454" cy="653.4"/><circle cx="444.1" cy="622.9"/><circle cx="505.6" cy="598.4"/><circle cx="444.9" cy="655.6"/><circle cx="451.2" cy="646.1"/><circle cx="487.7" cy="639.4"/><circle cx="457.7" cy="651.5"/><circle cx="458.3" cy="651.6"/><circle cx="456.1" cy="635.4"/><circle cx="461.1" cy="608"/><circle cx="448.7" cy="629.6"/><circle cx="472.7" cy="632.7"/><circle cx="461.6" cy="649.6"/><circle cx="450.3" cy="651.3"/><circle cx="461.6" cy="651.2"/><circle cx="451.2" cy="651"/><circle cx="453.1" cy="650.9"/><circle cx="447.1" cy="616.1"/><circle cx="450.6" cy="648.6"/><circle cx="457.4" cy="645.8"/><circle cx="443.8" cy="650.5"/><circle cx="444.2" cy="643.1"/><circle cx="466.7" cy="633.9"/><circle cx="468.7" cy="649.3"/><circle cx="571.2" cy="638.3"/><circle cx="444.1" cy="655.9"/><circle cx="445.3" cy="629.1"/><circle cx="475.9" cy="629.6"/><circle cx="443.8" cy="649.5"/><circle cx="451.7" cy="638.4"/><circle cx="485.4" cy="641.7"/><circle cx="470.6" cy="643.9"/><circle cx="444.6" cy="645.5"/></g><g class="d"><circle cx="461.9" cy="597.2"/><circle cx="475.7" cy="630.7"/><circle cx="458.4" cy="653"/><circle cx="443.6" cy="624.6"/><circle cx="510.8" cy="576.1"/><circle cx="459" cy="633.3"/><circle cx="474.6" cy="649.9"/><circle cx="443.9" cy="643.1"/><circle cx="472.9" cy="634.3"/><circle cx="455.4" cy="657.2"/><circle cx="469" cy="641.8"/><circle cx="442.9" cy="656.3"/><circle cx="442.8" cy="646.1"/><circle cx="453.7" cy="641.4"/><circle cx="456.2" cy="654.8"/><circle cx="443.6" cy="656.6"/><circle cx="442.8" cy="657.1"/><circle cx="463.5" cy="629"/><circle cx="451.5" cy="648.5"/><circle cx="458.3" cy="630.5"/><circle cx="459.6" cy="629.9"/><circle cx="467.6" cy="638.9"/><circle cx="442.7" cy="657.6"/><circle cx="461.1" cy="634.5"/><circle cx="444.9" cy="647"/><circle cx="484.5" cy="635.4"/><circle cx="443.1" cy="650"/><circle cx="545" cy="622.6"/><circle cx="443.7" cy="647"/><circle cx="447.8" cy="633.6"/><circle cx="446.5" cy="651.2"/><circle cx="456.6" cy="633.1"/><circle cx="456.2" cy="649.8"/><circle cx="466.9" cy="655.6"/><circle cx="473.8" cy="639.7"/><circle cx="448.2" cy="597.8"/><circle cx="454.1" cy="654.5"/><circle cx="445.1" cy="654.4"/><circle cx="525" cy="547.7"/><circle cx="445.2" cy="647.2"/></g><g class="d"><circle cx="457" cy="606.7"/><circle cx="528.3" cy="608.7"/><circle cx="453" cy="623.3"/><circle cx="443.5" cy="633.3"/><circle cx="450" cy="649.2"/><circle cx="454" cy="589.8"/><circle cx="468.1" cy="636.8"/><circle cx="445.3" cy="654.3"/><circle cx="480.6" cy="624.2"/><circle cx="452.8" cy="651.8"/><circle cx="452.3" cy="651.6"/><circle cx="446.9" cy="644.8"/><circle cx="446.5" cy="641.1"/><circle cx="446.8" cy="655.9"/><circle cx="444.4" cy="656.1"/><circle cx="447.1" cy="651.2"/><circle cx="490.9" cy="635.3"/><circle cx="481.4" cy="645.5"/><circle cx="466.6" cy="657.5"/><circle cx="451" cy="656.7"/><circle cx="445.7" cy="649.1"/><circle cx="445.3" cy="640.1"/><circle cx="478.6" cy="640"/><circle cx="447.5" cy="651.5"/><circle cx="444.3" cy="650.6"/><circle cx="452.7" cy="651.3"/><circle cx="554.5" cy="611.2"/><circle cx="448.8" cy="627.7"/><circle cx="442.9" cy="645"/><circle cx="446" cy="651.9"/><circle cx="456.2" cy="656.6"/><circle cx="457.4" cy="655.9"/><circle cx="445.2" cy="607.4"/><circle cx="445.5" cy="656.4"/><circle cx="448.1" cy="650.6"/><circle cx="453.3" cy="641.5"/><circle cx="491.5" cy="647"/><circle cx="462.2" cy="656.6"/><circle cx="464.1" cy="648.7"/><circle cx="456.5" cy="640.8"/></g><g class="d"><circle cx="443.2" cy="657.7"/><circle cx="447.9" cy="645.4"/><circle cx="454.5" cy="633.1"/><circle cx="475.2" cy="639.4"/><circle cx="445.8" cy="630.1"/><circle cx="450.6" cy="648.7"/><circle cx="463.6" cy="645.8"/><circle cx="442.6" cy="645.6"/><circle cx="455.8" cy="617"/><circle cx="448.9" cy="651.7"/><circle cx="466.5" cy="652.6"/><circle cx="453.9" cy="647.6"/><circle cx="484.6" cy="620"/><circle cx="443.5" cy="652.6"/><circle cx="466.8" cy="642.6"/><circle cx="538.3" cy="653.5"/><circle cx="479.3" cy="650.2"/><circle cx="462.4" cy="656.1"/><circle cx="495" cy="638"/><circle cx="554.5" cy="571.3"/><circle cx="470.4" cy="633.7"/><circle cx="452.1" cy="552"/><circle cx="473.7" cy="656"/><circle cx="492.9" cy="657.4"/><circle cx="473.1" cy="635"/><circle cx="465.4" cy="634.1"/><circle cx="456.8" cy="657.4"/><circle cx="449.3" cy="596.9"/><circle cx="447.6" cy="655.2"/><circle cx="520.3" cy="575.1"/><circle cx="474.8" cy="650.1"/><circle cx="450.8" cy="629.7"/><circle cx="454.6" cy="633.2"/><circle cx="466.2" cy="649.4"/><circle cx="468.7" cy="571.9"/><circle cx="448.7" cy="642.9"/><circle cx="447.8" cy="591.7"/><circle cx="445.1" cy="641.1"/><circle cx="447.4" cy="646.8"/><circle cx="461.4" cy="652.1"/></g><g class="d"><circle cx="447.8" cy="642.6"/><circle cx="489.8" cy="626.6"/><circle cx="487.4" cy="632"/><circle cx="465.6" cy="653.7"/><circle cx="450.1" cy="497.8"/><circle cx="481.7" cy="606"/><circle cx="449.9" cy="651.3"/><circle cx="494.8" cy="571.4"/><circle cx="453.4" cy="644.3"/><circle cx="442.9" cy="637.3"/><circle cx="466.1" cy="646.5"/><circle cx="469.8" cy="649.1"/><circle cx="512.7" cy="516.4"/><circle cx="454.2" cy="653.5"/><circle cx="468.3" cy="634.9"/><circle cx="456.2" cy="647"/><circle cx="446.3" cy="653.4"/><circle cx="461.1" cy="602.8"/><circle cx="448.4" cy="641"/><circle cx="458.3" cy="638"/><circle cx="456.8" cy="611.6"/><circle cx="446" cy="608.3"/><circle cx="481.8" cy="646.3"/><circle cx="518" cy="587.8"/><circle cx="462.3" cy="653.7"/><circle cx="445.5" cy="630.9"/><circle cx="482.7" cy="620.1"/><circle cx="447.8" cy="631.8"/><circle cx="442.5" cy="624.1"/><circle cx="489" cy="631.2"/><circle cx="447" cy="607.6"/><circle cx="452.7" cy="653.6"/><circle cx="450.7" cy="647.3"/><circle cx="458.7" cy="653.6"/><circle cx="462.7" cy="653.1"/><circle cx="442.6" cy="640.1"/><circle cx="451.3" cy="627.1"/><circle cx="459.6" cy="657"/><circle cx="446.5" cy="657.7"/><circle cx="445.3" cy="642"/></g><g class="d"><circle cx="462.5" cy="652.3"/><circle cx="460.4" cy="649.7"/><circle cx="453" cy="650.7"/><circle cx="460.4" cy="587.3"/><circle cx="466.7" cy="644.2"/><circle cx="455.7" cy="626.9"/><circle cx="479.5" cy="605.7"/><circle cx="442.7" cy="637.2"/><circle cx="477.9" cy="650.3"/><circle cx="446.6" cy="634.8"/><circle cx="489.8" cy="653.3"/><circle cx="456" cy="606.3"/><circle cx="471.2" cy="644.2"/><circle cx="470.2" cy="589.6"/><circle cx="458.7" cy="650.2"/><circle cx="461" cy="656.1"/><circle cx="443.1" cy="656"/><circle cx="457" cy="650.9"/><circle cx="454.3" cy="645.7"/><circle cx="447" cy="655.5"/><circle cx="446.2" cy="595.1"/><circle cx="452.3" cy="633.5"/><circle cx="460.1" cy="529.5"/><circle cx="452.3" cy="639.9"/><circle cx="443.1" cy="651.4"/><circle cx="524.5" cy="647.1"/><circle cx="457.7" cy="611.6"/><circle cx="457.2" cy="637.1"/><circle cx="465.2" cy="635.1"/><circle cx="452.5" cy="640.4"/><circle cx="493.3" cy="644.6"/><circle cx="472.7" cy="636.3"/><circle cx="450" cy="651.9"/><circle cx="449.3" cy="646.8"/><circle cx="463.4" cy="610.7"/><circle cx="448.4" cy="640"/><circle cx="461.8" cy="596"/><circle cx="455.1" cy="610"/><circle cx="451.1" cy="652.6"/><circle cx="465.2" cy="594.4"/></g><g class="d"><circle cx="442.8" cy="643.9"/><circle cx="493.7" cy="650.3"/><circle cx="448.2" cy="643.6"/><circle cx="449" cy="649.7"/><circle cx="459.7" cy="637.9"/><circle cx="449.7" cy="627.5"/><circle cx="445.9" cy="656.6"/><circle cx="473.4" cy="649.8"/><circle cx="467.6" cy="642.5"/><circle cx="454.7" cy="640"/><circle cx="450.9" cy="645.2"/><circle cx="467.8" cy="602.6"/><circle cx="456.6" cy="580"/><circle cx="450.1" cy="651.2"/><circle cx="490.5" cy="626.3"/><circle cx="463.8" cy="653.9"/><circle cx="465.8" cy="603.8"/><circle cx="442.5" cy="653.7"/><circle cx="452.2" cy="651.4"/><circle cx="506.5" cy="644.6"/><circle cx="454.8" cy="651.6"/><circle cx="461.8" cy="649.9"/><circle cx="446.9" cy="644"/><circle cx="479.5" cy="546.5"/><circle cx="443.2" cy="650.1"/><circle cx="520.3" cy="591.2"/><circle cx="472.5" cy="649.9"/><circle cx="460.8" cy="640.2"/><circle cx="443.3" cy="624.3"/><circle cx="468.5" cy="652.8"/><circle cx="444.9" cy="652.4"/><circle cx="486.3" cy="621.1"/><circle cx="466.8" cy="644.7"/><circle cx="455.2" cy="615.6"/><circle cx="448" cy="601.6"/><circle cx="446" cy="655.1"/><circle cx="508.4" cy="647.9"/><circle cx="487.6" cy="654.1"/><circle cx="481.1" cy="652.7"/><circle cx="481.1" cy="629.5"/></g><g class="d"><circle cx="448.4" cy="649.7"/><circle cx="456.4" cy="650.6"/><circle cx="514.1" cy="642.4"/><circle cx="469.5" cy="642.7"/><circle cx="445.9" cy="657.5"/><circle cx="443.8" cy="639.9"/><circle cx="458.4" cy="637.7"/><circle cx="451.1" cy="617.4"/><circle cx="458.8" cy="650.5"/><circle cx="447" cy="640.2"/><circle cx="460.4" cy="630.5"/><circle cx="442.5" cy="641.8"/><circle cx="504.3" cy="638.6"/><circle cx="462" cy="622.2"/><circle cx="489.6" cy="633.6"/><circle cx="494.6" cy="634.3"/><circle cx="501.3" cy="543.3"/><circle cx="468.2" cy="656.4"/><circle cx="452.6" cy="640.5"/><circle cx="462.7" cy="622.6"/><circle cx="475.4" cy="634.9"/><circle cx="449.4" cy="650.5"/><circle cx="455.1" cy="621.6"/><circle cx="451.6" cy="631.1"/><circle cx="449.2" cy="613.5"/><circle cx="508.2" cy="648.1"/><circle cx="449.6" cy="652"/><circle cx="482.8" cy="643.6"/><circle cx="489.3" cy="624"/><circle cx="445.7" cy="640.3"/><circle cx="450.9" cy="657"/><circle cx="445.4" cy="651.7"/><circle cx="476" cy="641.6"/><circle cx="459.2" cy="647.1"/><circle cx="544" cy="593.1"/><circle cx="464.4" cy="586.7"/><circle cx="458.9" cy="651.1"/><circle cx="479.9" cy="635.1"/><circle cx="447.2" cy="647.1"/><circle cx="463.7" cy="614"/></g><g class="d"><circle cx="444.4" cy="649.4"/><circle cx="447.8" cy="650.1"/><circle cx="444.1" cy="633"/><circle cx="460.7" cy="630.2"/><circle cx="457.8" cy="612.5"/><circle cx="475.2" cy="650.1"/><circle cx="455.3" cy="607.8"/><circle cx="442.7" cy="631.1"/><circle cx="452.1" cy="653.9"/><circle cx="470.8" cy="645.2"/><circle cx="466.2" cy="648.4"/><circle cx="454.9" cy="656.9"/><circle cx="443.7" cy="640.8"/><circle cx="471.5" cy="628.6"/><circle cx="468.6" cy="634.4"/><circle cx="445.2" cy="656.5"/><circle cx="502" cy="646.2"/><circle cx="450.9" cy="599.1"/><circle cx="449.9" cy="619.1"/><circle cx="450.5" cy="640.1"/><circle cx="461.3" cy="652.4"/><circle cx="489.4" cy="654"/><circle cx="490.1" cy="650.2"/><circle cx="473.9" cy="637.1"/><circle cx="456.9" cy="604.7"/><circle cx="444.1" cy="652.9"/><circle cx="443.6" cy="646.8"/><circle cx="444.9" cy="645.9"/><circle cx="475.5" cy="620.9"/><circle cx="466.7" cy="649.5"/><circle cx="443.3" cy="654.9"/><circle cx="471.5" cy="657.1"/><circle cx="446.8" cy="638.3"/><circle cx="445.3" cy="637.1"/><circle cx="458.7" cy="639.8"/><circle cx="489.4" cy="622.3"/><circle cx="522.4" cy="619.8"/><circle cx="449.4" cy="649.9"/><circle cx="470.9" cy="629.1"/><circle cx="447.1" cy="656.1"/></g><g class="d"><circle cx="452.4" cy="653.9"/><circle cx="457" cy="630.1"/><circle cx="475.6" cy="640.7"/><circle cx="471.7" cy="657.6"/><circle cx="468.6" cy="643.3"/><circle cx="448.9" cy="640.6"/><circle cx="442.6" cy="578"/><circle cx="468" cy="641.3"/><circle cx="446.5" cy="581.6"/><circle cx="481.3" cy="574.1"/><circle cx="443.3" cy="636.8"/><circle cx="539.3" cy="613.1"/><circle cx="458.9" cy="651.7"/><circle cx="470.5" cy="644.1"/><circle cx="459.3" cy="655.8"/><circle cx="552.7" cy="652"/><circle cx="446.2" cy="639.7"/><circle cx="468.9" cy="629.8"/><circle cx="456.5" cy="651.3"/><circle cx="442.6" cy="624.2"/><circle cx="492.8" cy="619.3"/><circle cx="446" cy="650.4"/><circle cx="467.6" cy="637.6"/><circle cx="554.5" cy="571.3"/><circle cx="468" cy="635.8"/><circle cx="511.3" cy="648.9"/><circle cx="444.2" cy="648"/><circle cx="474.4" cy="644.4"/><circle cx="467.4" cy="625"/><circle cx="449.1" cy="655.3"/><circle cx="446" cy="643.7"/><circle cx="443.4" cy="650"/><circle cx="444.1" cy="623.3"/><circle cx="449.3" cy="640.4"/><circle cx="444.7" cy="651.7"/><circle cx="452.8" cy="613.7"/><circle cx="466.8" cy="644.3"/><circle cx="445.8" cy="635.1"/><circle cx="456.8" cy="620.8"/><circle cx="472.6" cy="627.7"/></g><g class="d"><circle cx="486.5" cy="501"/><circle cx="457.6" cy="600.6"/><circle cx="468.7" cy="594.9"/><circle cx="511.3" cy="639.1"/><circle cx="469.3" cy="651.7"/><circle cx="443.5" cy="651.5"/><circle cx="443.4" cy="656.6"/><circle cx="443.6" cy="628.4"/><circle cx="447.4" cy="631"/><circle cx="455.8" cy="584.1"/><circle cx="457.2" cy="650"/><circle cx="444.4" cy="655.6"/><circle cx="444.6" cy="637.3"/><circle cx="445.5" cy="657.2"/><circle cx="458.6" cy="646.6"/><circle cx="446.5" cy="644.1"/><circle cx="448.9" cy="655.2"/><circle cx="599.1" cy="621.6"/><circle cx="481.4" cy="639.4"/><circle cx="473.2" cy="643.2"/><circle cx="443" cy="613.8"/><circle cx="442.6" cy="611.9"/><circle cx="470" cy="653.3"/><circle cx="455.9" cy="654.8"/><circle cx="455.3" cy="652.1"/><circle cx="444.2" cy="656.2"/><circle cx="458.3" cy="656.1"/><circle cx="480.3" cy="640.8"/><circle cx="460.4" cy="631.3"/><circle cx="449.9" cy="657.2"/><circle cx="470.5" cy="650.9"/><circle cx="445.4" cy="657.6"/><circle cx="444.7" cy="635.3"/><circle cx="461.3" cy="613.1"/><circle cx="498.3" cy="655.1"/><circle cx="443.1" cy="657.7"/><circle cx="465.4" cy="654.4"/><circle cx="471" cy="601.9"/><circle cx="442.7" cy="632.3"/><circle cx="478.3" cy="652"/></g><g class="d"><circle cx="443.9" cy="650.5"/><circle cx="449.1" cy="646.4"/><circle cx="451.8" cy="631.7"/><circle cx="445.7" cy="643.8"/><circle cx="461.1" cy="645"/><circle cx="445.5" cy="589.7"/><circle cx="470" cy="652.5"/><circle cx="517.5" cy="619.7"/><circle cx="448.5" cy="638.2"/><circle cx="467" cy="647.5"/><circle cx="456.1" cy="631.9"/><circle cx="448.4" cy="656.4"/><circle cx="443.9" cy="652.6"/><circle cx="454" cy="634.3"/><circle cx="471.2" cy="641.8"/><circle cx="447.2" cy="634"/><circle cx="446.2" cy="648"/><circle cx="450.4" cy="652.8"/><circle cx="472.4" cy="640.6"/><circle cx="454.1" cy="638.6"/><circle cx="467.6" cy="622.7"/><circle cx="472.2" cy="650.9"/><circle cx="463.9" cy="639.5"/><circle cx="461" cy="647.8"/><circle cx="455.7" cy="653.7"/><circle cx="443.1" cy="653.1"/><circle cx="461" cy="645.7"/><circle cx="453.8" cy="655.3"/><circle cx="447.2" cy="655.5"/><circle cx="446.9" cy="618.9"/><circle cx="473.1" cy="655.7"/><circle cx="445.2" cy="606.8"/><circle cx="446.4" cy="630.5"/><circle cx="454.8" cy="618"/><circle cx="444.4" cy="654.9"/><circle cx="465.6" cy="624.8"/><circle cx="485.9" cy="639.8"/><circle cx="518.3" cy="636.2"/><circle cx="443.4" cy="655.8"/><circle cx="452.8" cy="610.8"/></g><g class="d"><circle cx="463.1" cy="621"/><circle cx="527.8" cy="622.8"/><circle cx="501" cy="622.4"/><circle cx="456.8" cy="644"/><circle cx="453" cy="653.7"/><circle cx="488.8" cy="622.4"/><circle cx="443.5" cy="653.1"/><circle cx="465.7" cy="651.2"/><circle cx="476.9" cy="641.8"/><circle cx="451.2" cy="629.7"/><circle cx="452.8" cy="655.8"/><circle cx="452" cy="604.5"/><circle cx="444.6" cy="652.9"/><circle cx="466.7" cy="646.5"/><circle cx="443.3" cy="638.5"/><circle cx="514.9" cy="592"/><circle cx="452.3" cy="657.4"/><circle cx="459" cy="652.1"/><circle cx="446.6" cy="643.6"/><circle cx="443.3" cy="651"/><circle cx="489.4" cy="649.3"/><circle cx="456.5" cy="631.1"/><circle cx="444.9" cy="613.3"/><circle cx="442.7" cy="640.9"/><circle cx="467.3" cy="646.1"/><circle cx="444.3" cy="624.7"/><circle cx="500.6" cy="639.1"/><circle cx="448.6" cy="656.2"/><circle cx="446.9" cy="636.8"/><circle cx="514.8" cy="631.1"/><circle cx="451.8" cy="653"/><circle cx="456.9" cy="650.1"/><circle cx="467.2" cy="634.2"/><circle cx="460.2" cy="649.2"/><circle cx="451.1" cy="656.1"/><circle cx="470.6" cy="597.2"/><circle cx="468.4" cy="606.1"/><circle cx="443.2" cy="619.7"/><circle cx="444.1" cy="646.9"/><circle cx="478.7" cy="640"/></g><g class="d"><circle cx="455.2" cy="645.3"/><circle cx="456.1" cy="654.6"/><circle cx="456.9" cy="635.9"/><circle cx="444.2" cy="652.5"/><circle cx="448.4" cy="643.9"/><circle cx="452.2" cy="634.3"/><circle cx="450.1" cy="649.9"/><circle cx="452.9" cy="643.2"/><circle cx="448" cy="640.5"/><circle cx="453.9" cy="621.3"/><circle cx="455.7" cy="628.9"/><circle cx="451.4" cy="651.9"/><circle cx="501.6" cy="611.6"/><circle cx="443.6" cy="650.9"/><circle cx="455.7" cy="639.1"/><circle cx="469.2" cy="592.7"/><circle cx="447.1" cy="545.4"/><circle cx="466.5" cy="625.8"/><circle cx="484.6" cy="616.3"/><circle cx="449.2" cy="625.3"/><circle cx="462.8" cy="573.3"/><circle cx="448" cy="637.7"/><circle cx="454.7" cy="655.2"/><circle cx="500.7" cy="654.9"/><circle cx="449.7" cy="625.8"/><circle cx="453.4" cy="626.1"/><circle cx="447.8" cy="649.7"/><circle cx="454.1" cy="608.4"/><circle cx="463" cy="653"/><circle cx="442.7" cy="656.5"/><circle cx="456.5" cy="643.7"/><circle cx="452.2" cy="656.3"/><circle cx="444.8" cy="645.6"/><circle cx="513.7" cy="562.8"/><circle cx="446.1" cy="656.1"/><circle cx="445.9" cy="649.4"/><circle cx="451.7" cy="657.4"/><circle cx="457.2" cy="654.8"/><circle cx="471.9" cy="593.4"/><circle cx="448.8" cy="647.4"/></g><g class="d"><circle cx="503.6" cy="641.9"/><circle cx="464.9" cy="650.2"/><circle cx="445.1" cy="637"/><circle cx="449.4" cy="652.8"/><circle cx="446.3" cy="653.1"/><circle cx="446.6" cy="656.8"/><circle cx="446.7" cy="655.7"/><circle cx="506.1" cy="607.4"/><circle cx="445" cy="591.2"/><circle cx="472.6" cy="609.2"/><circle cx="480.3" cy="616.4"/><circle cx="456.8" cy="647"/><circle cx="501.3" cy="491.5"/><circle cx="445.4" cy="642.5"/><circle cx="458.6" cy="581.7"/><circle cx="469.1" cy="609.7"/><circle cx="448.6" cy="655.1"/><circle cx="474.6" cy="647.8"/><circle cx="508" cy="633"/><circle cx="449.2" cy="653.4"/><circle cx="449.3" cy="613.6"/><circle cx="492.2" cy="649"/><circle cx="477.8" cy="645.9"/><circle cx="444.1" cy="605.4"/><circle cx="443.9" cy="653.5"/><circle cx="479.6" cy="652"/><circle cx="447.8" cy="647.6"/><circle cx="452.5" cy="648.2"/><circle cx="449.7" cy="635.9"/><circle cx="472.7" cy="648.6"/><circle cx="449.1" cy="618.4"/><circle cx="455.8" cy="657"/><circle cx="453.7" cy="611.7"/><circle cx="501.4" cy="651.3"/><circle cx="450.1" cy="626.3"/><circle cx="445.3" cy="638.7"/><circle cx="519.2" cy="589.9"/><circle cx="535.5" cy="606.4"/><circle cx="449.1" cy="620.5"/><circle cx="466.5" cy="636.8"/></g><g class="d"><circle cx="445.3" cy="639.9"/><circle cx="454.5" cy="650.2"/><circle cx="443" cy="641.4"/><circle cx="449.7" cy="639.3"/><circle cx="455.9" cy="655.5"/><circle cx="496.9" cy="647.7"/><circle cx="447.5" cy="657.4"/><circle cx="448.1" cy="627.7"/><circle cx="444.6" cy="647"/><circle cx="471.3" cy="596"/><circle cx="443.1" cy="657.6"/><circle cx="451.6" cy="607.6"/><circle cx="448.3" cy="612.4"/><circle cx="554.5" cy="611.2"/><circle cx="456.9" cy="653.8"/><circle cx="462.1" cy="636.7"/><circle cx="447.1" cy="652"/><circle cx="489" cy="652.9"/><circle cx="468.8" cy="628.9"/><circle cx="443.2" cy="657.5"/><circle cx="463.8" cy="641.7"/><circle cx="447" cy="638.1"/><circle cx="445.7" cy="626.4"/><circle cx="459.4" cy="652.4"/><circle cx="488.7" cy="646.7"/><circle cx="446.4" cy="649"/><circle cx="484" cy="648.1"/><circle cx="456.5" cy="643.4"/><circle cx="453.2" cy="627.9"/><circle cx="451" cy="651.1"/><circle cx="494.4" cy="647.5"/><circle cx="459.9" cy="639.3"/><circle cx="454.5" cy="639.6"/><circle cx="546.9" cy="630.1"/><circle cx="445.4" cy="646.9"/><circle cx="460.5" cy="655.5"/><circle cx="484.3" cy="608.3"/><circle cx="463.6" cy="584.3"/><circle cx="458.5" cy="648.3"/><circle cx="445.1" cy="648.2"/></g><g class="d"><circle cx="475.7" cy="588.2"/><circle cx="442.6" cy="643.3"/><circle cx="527.3" cy="522.1"/><circle cx="446.5" cy="649.4"/><circle cx="444" cy="647.7"/><circle cx="451" cy="646.7"/><circle cx="453.1" cy="601.2"/><circle cx="444.7" cy="643.8"/><circle cx="462.2" cy="637.3"/><circle cx="442.9" cy="630.7"/><circle cx="448.3" cy="607.5"/><circle cx="449.8" cy="653"/><circle cx="489.4" cy="650.7"/><circle cx="447.5" cy="620.9"/><circle cx="457.6" cy="657.1"/><circle cx="457.9" cy="637.5"/><circle cx="447.9" cy="619.3"/><circle cx="454.2" cy="649.2"/><circle cx="442.6" cy="587.3"/><circle cx="445.9" cy="646.9"/><circle cx="447.4" cy="633"/><circle cx="458" cy="617.9"/><circle cx="450.1" cy="646.7"/><circle cx="455.3" cy="642.9"/><circle cx="446.4" cy="651.1"/><circle cx="443.3" cy="654.1"/><circle cx="446.4" cy="652.4"/><circle cx="447.9" cy="636.6"/><circle cx="448.6" cy="633.4"/><circle cx="486.5" cy="655"/><circle cx="447.4" cy="633.7"/><circle cx="542.1" cy="617.8"/><circle cx="472.2" cy="649.4"/><circle cx="451.5" cy="635"/><circle cx="443.7" cy="655.2"/><circle cx="469.6" cy="647.9"/><circle cx="443.2" cy="657"/><circle cx="446.8" cy="642.2"/><circle cx="444.6" cy="651.6"/><circle cx="458.6" cy="639.6"/></g><g class="d"><circle cx="448" cy="630.4"/><circle cx="455.9" cy="650.1"/><circle cx="457.6" cy="657.6"/><circle cx="450.4" cy="626.4"/><circle cx="446.6" cy="649"/><circle cx="477.8" cy="579.9"/><circle cx="445.9" cy="644"/><circle cx="486.5" cy="508.6"/><circle cx="463.2" cy="656.5"/><circle cx="446.4" cy="611.9"/><circle cx="447" cy="642.7"/><circle cx="487.8" cy="638.2"/><circle cx="466.9" cy="643.3"/><circle cx="450.7" cy="615.4"/><circle cx="475.8" cy="610.2"/><circle cx="444.3" cy="614.2"/><circle cx="442.6" cy="642.2"/><circle cx="474.2" cy="655.8"/><circle cx="449.7" cy="648"/><circle cx="446.8" cy="648.2"/><circle cx="452.9" cy="610.9"/><circle cx="445.7" cy="620.5"/><circle cx="486.2" cy="649.4"/><circle cx="535.5" cy="615"/><circle cx="451.8" cy="602.7"/><circle cx="453.3" cy="656.7"/><circle cx="444.4" cy="652"/><circle cx="470.8" cy="649.3"/><circle cx="457.5" cy="655.3"/><circle cx="458.7" cy="637.2"/><circle cx="442.7" cy="651"/><circle cx="465.8" cy="635.4"/><circle cx="450.9" cy="654.7"/><circle cx="464" cy="634.7"/><circle cx="452" cy="645.6"/><circle cx="450.7" cy="635.6"/><circle cx="443.4" cy="628.1"/><circle cx="449.6" cy="646.8"/><circle cx="450.8" cy="648.5"/><circle cx="444" cy="634.4"/></g><g class="d"><circle cx="443.1" cy="657.7"/><circle cx="448.1" cy="647.5"/><circle cx="489.1" cy="656.4"/><circle cx="444.1" cy="600.2"/><circle cx="451.6" cy="656.9"/><circle cx="447.7" cy="656.6"/><circle cx="462.6" cy="649"/><circle cx="471.7" cy="643.2"/><circle cx="451.2" cy="655.8"/><circle cx="453.2" cy="630.5"/><circle cx="450.5" cy="648"/><circle cx="457" cy="645.9"/><circle cx="500.4" cy="642.5"/><circle cx="443.7" cy="642.4"/><circle cx="506.6" cy="527.9"/><circle cx="443.1" cy="638.7"/><circle cx="466.8" cy="631.6"/><circle cx="443.3" cy="652.8"/><circle cx="447.1" cy="654.1"/><circle cx="497.6" cy="604.9"/><circle cx="517.2" cy="646"/><circle cx="452.5" cy="640"/><circle cx="451.3" cy="647.8"/><circle cx="478.8" cy="652.9"/><circle cx="451.2" cy="650.9"/><circle cx="458.2" cy="656.6"/><circle cx="451.2" cy="647"/><circle cx="454.5" cy="649.5"/><circle cx="449.6" cy="644.6"/><circle cx="454.2" cy="642.6"/><circle cx="449.7" cy="649"/><circle cx="457.2" cy="623.2"/><circle cx="495" cy="623.9"/><circle cx="443.1" cy="653.6"/><circle cx="455.9" cy="634.1"/><circle cx="453.7" cy="657.6"/><circle cx="469.1" cy="612.6"/><circle cx="473.5" cy="647.2"/><circle cx="446" cy="645.9"/><circle cx="447.2" cy="639.9"/></g><g class="d"><circle cx="463.4" cy="650.7"/><circle cx="450.5" cy="651.8"/><circle cx="452.6" cy="655.3"/><circle cx="509.9" cy="607.4"/><circle cx="445.4" cy="655.5"/><circle cx="478.7" cy="651.7"/><circle cx="465.5" cy="619.5"/><circle cx="450.1" cy="655.2"/><circle cx="458.5" cy="644.8"/><circle cx="443.2" cy="646.8"/><circle cx="451.5" cy="647.6"/><circle cx="470.2" cy="620.3"/><circle cx="454.6" cy="656.2"/><circle cx="498.7" cy="649.8"/><circle cx="455.7" cy="652"/><circle cx="452.5" cy="646.3"/><circle cx="447.4" cy="647.1"/><circle cx="492.4" cy="554.1"/><circle cx="461.1" cy="651.1"/><circle cx="469.2" cy="504.8"/><circle cx="466" cy="638.9"/><circle cx="470.7" cy="646"/><circle cx="542.1" cy="644"/><circle cx="459.2" cy="643.2"/><circle cx="443" cy="644.1"/><circle cx="447.2" cy="634.2"/><circle cx="451.3" cy="652.3"/><circle cx="446.3" cy="656.7"/><circle cx="449.4" cy="627.7"/><circle cx="460.4" cy="655.1"/><circle cx="455.5" cy="626.1"/><circle cx="445" cy="653.8"/><circle cx="446.3" cy="653"/><circle cx="450.6" cy="639.9"/><circle cx="452.6" cy="656.3"/><circle cx="450.7" cy="649.3"/><circle cx="442.9" cy="615.5"/><circle cx="482" cy="569.4"/><circle cx="453.6" cy="624.8"/><circle cx="460" cy="648.6"/></g><g class="d"><circle cx="443.7" cy="611.9"/><circle cx="443.7" cy="628.7"/><circle cx="446.5" cy="618"/><circle cx="453.4" cy="619.9"/><circle cx="493.4" cy="620.6"/><circle cx="476.6" cy="656"/><circle cx="467.6" cy="655.5"/><circle cx="455" cy="648"/><circle cx="449.3" cy="628"/><circle cx="444.9" cy="606.9"/><circle cx="448.6" cy="651.3"/><circle cx="443.6" cy="654.4"/><circle cx="464.7" cy="652.6"/><circle cx="447.4" cy="639.7"/><circle cx="450.4" cy="656.6"/><circle cx="444.5" cy="639.5"/><circle cx="461.4" cy="643.8"/><circle cx="465.1" cy="651.2"/><circle cx="485.3" cy="652"/><circle cx="457.4" cy="655.5"/><circle cx="470.7" cy="634.8"/><circle cx="462.1" cy="639.6"/><circle cx="484.4" cy="640.7"/><circle cx="446.3" cy="654.7"/><circle cx="448.2" cy="638.8"/><circle cx="463.8" cy="652.2"/><circle cx="481.2" cy="476.3"/><circle cx="456.3" cy="626.2"/><circle cx="443" cy="646.1"/><circle cx="476.3" cy="649.6"/><circle cx="451.1" cy="629.4"/><circle cx="477.9" cy="570.5"/><circle cx="464.5" cy="651"/><circle cx="487.3" cy="646.1"/><circle cx="447.3" cy="634.1"/><circle cx="457.9" cy="651.7"/><circle cx="479.6" cy="646.9"/><circle cx="467" cy="637"/><circle cx="477.9" cy="654.6"/><circle cx="468" cy="646.2"/></g><g class="d"><circle cx="508.2" cy="625.6"/><circle cx="456" cy="606.8"/><circle cx="448.1" cy="647.6"/><circle cx="465.6" cy="643.4"/><circle cx="457.3" cy="651.5"/><circle cx="444.6" cy="651.2"/><circle cx="448.3" cy="652.9"/><circle cx="483.9" cy="602.1"/><circle cx="462.3" cy="631.3"/><circle cx="447.1" cy="629.7"/><circle cx="448.3" cy="584.1"/><circle cx="464.8" cy="647.8"/><circle cx="448.7" cy="641.1"/><circle cx="461.5" cy="634.2"/><circle cx="470.2" cy="594.5"/><circle cx="489.6" cy="624.7"/><circle cx="443.8" cy="637.2"/><circle cx="445.1" cy="634.7"/><circle cx="444.8" cy="644.6"/><circle cx="442.6" cy="646.2"/><circle cx="454.9" cy="649.1"/><circle cx="461.9" cy="636.2"/><circle cx="455.4" cy="620.9"/><circle cx="458" cy="599.2"/><circle cx="448.8" cy="652.1"/><circle cx="442.6" cy="643.2"/><circle cx="461" cy="635.7"/><circle cx="457.6" cy="626.1"/><circle cx="466.2" cy="656.2"/><circle cx="445.7" cy="653.6"/><circle cx="494.3" cy="643.6"/><circle cx="465.9" cy="649"/><circle cx="450.8" cy="652.6"/><circle cx="443" cy="643.9"/><circle cx="457.8" cy="633"/><circle cx="442.8" cy="643.8"/><circle cx="478.5" cy="521.5"/><circle cx="455.7" cy="656.2"/><circle cx="470.6" cy="601.3"/><circle cx="445.2" cy="637.7"/></g><g class="d"><circle cx="470.3" cy="652.9"/><circle cx="460.1" cy="618.6"/><circle cx="449.9" cy="635.4"/><circle cx="502.1" cy="651.5"/><circle cx="463.3" cy="646"/><circle cx="466.7" cy="642.7"/><circle cx="495.3" cy="600.2"/><circle cx="519.1" cy="639.6"/><circle cx="445.8" cy="643.1"/><circle cx="494.1" cy="510.1"/><circle cx="473.9" cy="629.7"/><circle cx="481.6" cy="648.7"/><circle cx="456.3" cy="633.1"/><circle cx="463" cy="651.4"/><circle cx="467" cy="629.6"/><circle cx="478.8" cy="637.4"/><circle cx="454.4" cy="653.9"/><circle cx="459.8" cy="641.7"/><circle cx="452.7" cy="650.7"/><circle cx="460.6" cy="650.5"/><circle cx="450.9" cy="650.4"/><circle cx="450.3" cy="653.4"/><circle cx="483.1" cy="635.3"/><circle cx="498" cy="631.4"/><circle cx="467.6" cy="650.9"/><circle cx="444.5" cy="637.4"/><circle cx="443.4" cy="644.2"/><circle cx="500.4" cy="602.2"/><circle cx="450.7" cy="548.5"/><circle cx="476.4" cy="653.9"/><circle cx="462.1" cy="650.6"/><circle cx="464.7" cy="651.2"/><circle cx="457" cy="628.6"/><circle cx="472.4" cy="627.3"/><circle cx="444.7" cy="652.3"/><circle cx="454.6" cy="649.9"/><circle cx="450.8" cy="649.3"/><circle cx="455.2" cy="649.9"/><circle cx="480" cy="632.4"/><circle cx="476.3" cy="642.1"/></g><g class="d"><circle cx="478.9" cy="642.9"/><circle cx="490.6" cy="639.5"/><circle cx="444.4" cy="654.7"/><circle cx="457.9" cy="646.7"/><circle cx="469.7" cy="626.5"/><circle cx="476.2" cy="651.9"/><circle cx="461" cy="636.8"/><circle cx="459.7" cy="645"/><circle cx="443.3" cy="654.9"/><circle cx="500" cy="637"/><circle cx="450.7" cy="654.6"/><circle cx="467.5" cy="615"/><circle cx="500.2" cy="644.8"/><circle cx="444" cy="650.2"/><circle cx="485.4" cy="634.3"/><circle cx="456.4" cy="640.4"/><circle cx="449.5" cy="647.2"/><circle cx="447.7" cy="653.4"/><circle cx="444.4" cy="648.8"/><circle cx="564.8" cy="630.7"/><circle cx="501.3" cy="627.3"/><circle cx="444.6" cy="628.6"/><circle cx="469.9" cy="635.9"/><circle cx="442.9" cy="657.5"/><circle cx="506" cy="648.5"/><circle cx="459.6" cy="630"/><circle cx="445.4" cy="651.3"/><circle cx="451.2" cy="648.2"/><circle cx="459.9" cy="656"/><circle cx="450.7" cy="648"/><circle cx="512.4" cy="648.7"/><circle cx="444.4" cy="652"/><circle cx="461.2" cy="657"/><circle cx="457.3" cy="519.6"/><circle cx="459.4" cy="631.2"/><circle cx="444.5" cy="641.1"/><circle cx="445.1" cy="646.7"/><circle cx="452.5" cy="652.3"/><circle cx="500" cy="584.2"/><circle cx="449.4" cy="631.6"/></g><g class="d"><circle cx="444.2" cy="654.4"/><circle cx="454.8" cy="645.1"/><circle cx="478.9" cy="629.8"/><circle cx="449.3" cy="652.1"/><circle cx="488" cy="577"/><circle cx="455.3" cy="633.7"/><circle cx="515.4" cy="645.8"/><circle cx="444.8" cy="643.2"/><circle cx="460.9" cy="619.3"/><circle cx="502.1" cy="642.1"/><circle cx="473.3" cy="623.7"/><circle cx="467.3" cy="631.5"/><circle cx="442.9" cy="646.6"/><circle cx="450.6" cy="656.8"/><circle cx="468.1" cy="651.2"/><circle cx="453.7" cy="597.4"/><circle cx="460" cy="641.1"/><circle cx="452.8" cy="547.9"/><circle cx="467.5" cy="652.3"/><circle cx="499.7" cy="638.9"/><circle cx="459.4" cy="604.6"/><circle cx="459.1" cy="651.4"/><circle cx="453.4" cy="644.1"/><circle cx="446.6" cy="646.9"/><circle cx="469" cy="630.6"/><circle cx="458.7" cy="649.3"/><circle cx="465.8" cy="653.4"/><circle cx="468.3" cy="646.5"/><circle cx="448.8" cy="573.4"/><circle cx="460.5" cy="609.6"/><circle cx="524.1" cy="639.6"/><circle cx="473.6" cy="653"/><circle cx="460.7" cy="654.1"/><circle cx="513" cy="626.6"/><circle cx="474.8" cy="646"/><circle cx="489" cy="607.1"/><circle cx="479" cy="646.3"/><circle cx="459.2" cy="637.8"/><circle cx="483.9" cy="611.4"/><circle cx="450.3" cy="648.8"/></g><g class="d"><circle cx="485.2" cy="628.1"/><circle cx="456.3" cy="633.5"/><circle cx="455.8" cy="644.9"/><circle cx="444.8" cy="656.1"/><circle cx="448.7" cy="650.6"/><circle cx="474.5" cy="642.1"/><circle cx="454.2" cy="642.7"/><circle cx="472.9" cy="536.3"/><circle cx="511.7" cy="650.2"/><circle cx="443.4" cy="642.7"/><circle cx="461.1" cy="655"/><circle cx="444.9" cy="649.2"/><circle cx="450.5" cy="656.9"/><circle cx="467.4" cy="636"/><circle cx="492.6" cy="619.8"/><circle cx="453" cy="626.4"/><circle cx="458.3" cy="636.1"/><circle cx="451.5" cy="617.5"/><circle cx="453.8" cy="641.6"/><circle cx="469.4" cy="590.1"/><circle cx="466.6" cy="626.7"/><circle cx="449.5" cy="651.8"/><circle cx="463.2" cy="649.4"/><circle cx="490.6" cy="636.9"/><circle cx="450.2" cy="646.6"/><circle cx="443.1" cy="628.8"/><circle cx="449.1" cy="643.1"/><circle cx="458.4" cy="657.2"/><circle cx="530.7" cy="645.3"/><circle cx="462.1" cy="644.8"/><circle cx="512" cy="623.3"/><circle cx="445.7" cy="649"/><circle cx="449.3" cy="625.8"/><circle cx="475.7" cy="626.6"/><circle cx="444.2" cy="594.9"/><circle cx="476.2" cy="610.3"/><circle cx="511.7" cy="569.1"/><circle cx="445.2" cy="639.1"/><circle cx="464.4" cy="628.7"/><circle cx="463" cy="657.2"/></g><g class="d"><circle cx="451.5" cy="638.2"/><circle cx="446.9" cy="651.2"/><circle cx="465.4" cy="647.9"/><circle cx="496" cy="648"/><circle cx="456.9" cy="603.8"/><circle cx="443.7" cy="654.2"/><circle cx="467.2" cy="645.5"/><circle cx="443.2" cy="642"/><circle cx="476.7" cy="483.1"/><circle cx="451.2" cy="643.6"/><circle cx="470.5" cy="609.6"/><circle cx="443.7" cy="628.5"/><circle cx="451.8" cy="565.2"/><circle cx="464.8" cy="653.8"/><circle cx="443.6" cy="623.1"/><circle cx="458.5" cy="651.5"/><circle cx="448.8" cy="603"/><circle cx="473.6" cy="643.8"/><circle cx="465.2" cy="641.2"/><circle cx="464" cy="627.1"/><circle cx="465.1" cy="639.2"/><circle cx="450.9" cy="635.8"/><circle cx="444.6" cy="648.3"/><circle cx="447.3" cy="529.7"/><circle cx="484.3" cy="644.6"/><circle cx="450.1" cy="646.8"/><circle cx="448" cy="654.4"/><circle cx="486.8" cy="651.3"/><circle cx="465" cy="621.2"/><circle cx="457" cy="591.8"/><circle cx="451.3" cy="648.6"/><circle cx="442.6" cy="643.8"/><circle cx="461.3" cy="633.8"/><circle cx="468.7" cy="651.6"/><circle cx="488.8" cy="635.7"/><circle cx="507.8" cy="623"/><circle cx="444.8" cy="611.2"/><circle cx="447.2" cy="645"/><circle cx="446.6" cy="655.7"/><circle cx="453.2" cy="634.2"/></g><g class="d"><circle cx="461.5" cy="544.3"/><circle cx="474.2" cy="636.8"/><circle cx="450.5" cy="656.4"/><circle cx="529.8" cy="627.3"/><circle cx="468.4" cy="638.7"/><circle cx="443.6" cy="629.2"/><circle cx="446.3" cy="648.8"/><circle cx="457.5" cy="651.4"/><circle cx="522.2" cy="635.8"/><circle cx="443.7" cy="648.5"/><circle cx="457.7" cy="653.7"/><circle cx="477.7" cy="635.7"/><circle cx="450.5" cy="654.7"/><circle cx="448.8" cy="581.8"/><circle cx="488" cy="644.8"/><circle cx="472.9" cy="654.4"/><circle cx="448.1" cy="652.4"/><circle cx="516.3" cy="633.9"/><circle cx="456.1" cy="654.8"/><circle cx="447.6" cy="650.9"/><circle cx="484.5" cy="657.5"/><circle cx="513.6" cy="636.1"/><circle cx="458.2" cy="606.4"/><circle cx="466.2" cy="636"/><circle cx="448.5" cy="648.7"/><circle cx="456.3" cy="641"/><circle cx="486.1" cy="503.1"/><circle cx="445.9" cy="656.3"/><circle cx="453.3" cy="642.9"/><circle cx="456.1" cy="651.5"/><circle cx="447.9" cy="653.9"/><circle cx="492.5" cy="643.1"/><circle cx="491.1" cy="609"/><circle cx="455.5" cy="639"/><circle cx="501.2" cy="593.7"/><circle cx="462.3" cy="643.5"/><circle cx="444.5" cy="635.8"/><circle cx="444.4" cy="656.6"/><circle cx="443.3" cy="634"/><circle cx="531.7" cy="652"/></g><g class="d"><circle cx="451" cy="640.3"/><circle cx="444.2" cy="651.3"/><circle cx="448.8" cy="647.3"/><circle cx="455.5" cy="635.2"/><circle cx="448.5" cy="607.6"/><circle cx="458.9" cy="649.4"/><circle cx="446.4" cy="570.8"/><circle cx="453.6" cy="650.4"/><circle cx="453.1" cy="630.2"/><circle cx="462.1" cy="633.7"/><circle cx="455.5" cy="616.1"/><circle cx="465.8" cy="638.9"/><circle cx="450.6" cy="599.4"/><circle cx="443.8" cy="626.8"/><circle cx="459.7" cy="651.4"/><circle cx="465.9" cy="629.5"/><circle cx="473.1" cy="655.4"/><circle cx="449.9" cy="630.9"/><circle cx="475.6" cy="636.4"/><circle cx="494.6" cy="648.9"/><circle cx="455.8" cy="632.4"/><circle cx="452.9" cy="640.8"/><circle cx="447" cy="647.3"/><circle cx="508.9" cy="617.9"/><circle cx="449.5" cy="631.5"/><circle cx="443.4" cy="655.4"/><circle cx="448.5" cy="650.5"/><circle cx="452.5" cy="649.1"/><circle cx="462.2" cy="640.6"/><circle cx="444.2" cy="639.2"/><circle cx="452.5" cy="627.9"/><circle cx="443.2" cy="641.7"/><circle cx="458.7" cy="546"/><circle cx="448.6" cy="654"/><circle cx="480" cy="645.2"/><circle cx="451" cy="653"/><circle cx="445.5" cy="652.7"/><circle cx="469.3" cy="607.1"/><circle cx="457.8" cy="653.3"/><circle cx="450.4" cy="654.4"/></g><g class="d"><circle cx="470.1" cy="628.7"/><circle cx="456.2" cy="639.6"/><circle cx="457" cy="655.9"/><circle cx="458.9" cy="648.8"/><circle cx="455.7" cy="629.5"/><circle cx="460.3" cy="626.3"/><circle cx="498.5" cy="596.9"/><circle cx="556.4" cy="639.1"/><circle cx="500.5" cy="612.5"/><circle cx="483.2" cy="619.7"/><circle cx="445.1" cy="656.8"/><circle cx="446.3" cy="610.4"/><circle cx="462" cy="645.4"/><circle cx="448.1" cy="653"/><circle cx="456.8" cy="645.1"/><circle cx="453.5" cy="587.7"/><circle cx="443.4" cy="648.4"/><circle cx="517.7" cy="600.4"/><circle cx="451.4" cy="651.7"/><circle cx="505.4" cy="645.7"/><circle cx="471.4" cy="650.5"/><circle cx="461.8" cy="644.4"/><circle cx="453.8" cy="639.5"/><circle cx="458.5" cy="630"/><circle cx="452.9" cy="645.9"/><circle cx="516.1" cy="621.7"/><circle cx="477.1" cy="650.1"/><circle cx="462.4" cy="657.4"/><circle cx="453.5" cy="655.3"/><circle cx="444.3" cy="657.2"/><circle cx="449.6" cy="645.9"/><circle cx="458.5" cy="653.6"/><circle cx="480.8" cy="590.4"/><circle cx="457.6" cy="653.9"/><circle cx="462" cy="494"/><circle cx="463.4" cy="638.4"/><circle cx="448.2" cy="627"/><circle cx="447.7" cy="648.8"/><circle cx="465.2" cy="652.4"/><circle cx="454.4" cy="622.1"/></g><g class="d"><circle cx="449.3" cy="652.7"/><circle cx="456.3" cy="653.8"/><circle cx="453.9" cy="649.6"/><circle cx="497.3" cy="598.7"/><circle cx="450" cy="644.6"/><circle cx="451.6" cy="643.8"/><circle cx="470.4" cy="518.1"/><circle cx="469.7" cy="611.5"/><circle cx="497.5" cy="522.1"/><circle cx="446.5" cy="648"/><circle cx="461.3" cy="613.2"/><circle cx="450.9" cy="637.9"/><circle cx="454.1" cy="624.4"/><circle cx="450.5" cy="645.5"/><circle cx="444.6" cy="645.9"/><circle cx="444.7" cy="645.1"/><circle cx="470.2" cy="599.8"/><circle cx="445.9" cy="653.8"/><circle cx="453.1" cy="608.4"/><circle cx="458.1" cy="655.8"/><circle cx="462" cy="640.4"/><circle cx="458" cy="651.7"/><circle cx="480.7" cy="657"/><circle cx="443.7" cy="657.4"/><circle cx="447.3" cy="641.6"/><circle cx="465.4" cy="651.9"/><circle cx="458.3" cy="654.4"/><circle cx="485.6" cy="652.2"/><circle cx="470.3" cy="655.1"/><circle cx="452" cy="651.9"/><circle cx="453.4" cy="643.6"/><circle cx="451.6" cy="641.8"/><circle cx="448.4" cy="555.8"/><circle cx="452.9" cy="646.2"/><circle cx="447.5" cy="650.8"/><circle cx="518.8" cy="642.5"/><circle cx="456.2" cy="647"/><circle cx="453.2" cy="656.6"/><circle cx="478.3" cy="649"/><circle cx="516.5" cy="545.3"/></g><g class="d"><circle cx="447.1" cy="621"/><circle cx="524.9" cy="549.6"/><circle cx="451.7" cy="632"/><circle cx="445.3" cy="656.7"/><circle cx="484.8" cy="630.6"/><circle cx="447.6" cy="646.2"/><circle cx="444.4" cy="657.4"/><circle cx="444.9" cy="649.8"/><circle cx="443.1" cy="647.8"/><circle cx="460.6" cy="644.4"/><circle cx="457.2" cy="637.3"/><circle cx="450.6" cy="628.1"/><circle cx="515.7" cy="626.4"/><circle cx="524.3" cy="557.5"/><circle cx="472.8" cy="650.4"/><circle cx="444.5" cy="655"/><circle cx="466.4" cy="638.4"/><circle cx="467" cy="649.5"/><circle cx="523.1" cy="596"/><circle cx="455.7" cy="629.1"/><circle cx="451.1" cy="575.8"/><circle cx="497.5" cy="508.6"/><circle cx="473" cy="613.5"/><circle cx="444.3" cy="642"/><circle cx="449.7" cy="640"/><circle cx="446.5" cy="646.9"/><circle cx="444.6" cy="634.9"/><circle cx="474.5" cy="645.3"/><circle cx="469.4" cy="625.5"/><circle cx="459.7" cy="634.3"/><circle cx="475.5" cy="584.1"/><circle cx="445.5" cy="657.5"/><circle cx="493.5" cy="590"/><circle cx="445.9" cy="649.8"/><circle cx="478.1" cy="638.9"/><circle cx="478.9" cy="641.2"/><circle cx="452.4" cy="657.5"/><circle cx="444.6" cy="645.8"/><circle cx="481.8" cy="647.9"/><circle cx="466" cy="654.6"/></g><g class="d"><circle cx="461.6" cy="652.3"/><circle cx="465.1" cy="600.7"/><circle cx="443.3" cy="632.6"/><circle cx="448.7" cy="653.2"/><circle cx="445.3" cy="635.5"/><circle cx="479.6" cy="638.8"/><circle cx="467.5" cy="638.7"/><circle cx="484.4" cy="580.9"/><circle cx="459.9" cy="624.6"/><circle cx="446.9" cy="655.9"/><circle cx="454.3" cy="656.3"/><circle cx="449.4" cy="643.5"/><circle cx="454.8" cy="625.7"/><circle cx="451.9" cy="636.5"/><circle cx="448.6" cy="625.7"/><circle cx="458.4" cy="643.8"/><circle cx="445.6" cy="639.6"/><circle cx="448.8" cy="650.6"/><circle cx="447.1" cy="645.9"/><circle cx="520.4" cy="644.4"/><circle cx="452.8" cy="615.1"/><circle cx="473" cy="637.7"/><circle cx="480.4" cy="624.7"/><circle cx="442.8" cy="653.4"/><circle cx="447.8" cy="644.4"/><circle cx="455.2" cy="645.9"/><circle cx="474.4" cy="646.3"/><circle cx="445.1" cy="633.1"/><circle cx="448.3" cy="653"/><circle cx="452.9" cy="646.2"/><circle cx="468.8" cy="654.2"/><circle cx="460.3" cy="653.5"/><circle cx="460.5" cy="646.3"/><circle cx="470" cy="651.6"/><circle cx="474.9" cy="649.2"/><circle cx="474.8" cy="634.5"/><circle cx="446" cy="656.2"/><circle cx="507.7" cy="637"/><circle cx="454.3" cy="648.9"/><circle cx="480" cy="608"/></g><g class="d"><circle cx="453.1" cy="609.3"/><circle cx="479.6" cy="644.3"/><circle cx="464.4" cy="618.2"/><circle cx="475.4" cy="643.6"/><circle cx="446.7" cy="609.2"/><circle cx="444.5" cy="655.9"/><circle cx="443.3" cy="646.1"/><circle cx="444.9" cy="610.6"/><circle cx="460.2" cy="654.4"/><circle cx="467.1" cy="595.4"/><circle cx="444.2" cy="649.2"/><circle cx="448.5" cy="654.3"/><circle cx="467.1" cy="639"/><circle cx="464.8" cy="642.1"/><circle cx="527.3" cy="642.2"/><circle cx="507.7" cy="639"/><circle cx="470.9" cy="625.9"/><circle cx="449.5" cy="650.8"/><circle cx="464.6" cy="637.2"/><circle cx="475.8" cy="639.4"/><circle cx="498.1" cy="581.2"/><circle cx="458" cy="639.4"/><circle cx="504.7" cy="540.1"/><circle cx="451.8" cy="633.7"/><circle cx="458" cy="630.5"/><circle cx="453.6" cy="649.2"/><circle cx="478.3" cy="655.4"/><circle cx="452.6" cy="653.3"/><circle cx="443.7" cy="640.9"/><circle cx="444.7" cy="656.7"/><circle cx="457.1" cy="655.3"/><circle cx="454.1" cy="645"/><circle cx="460.9" cy="632.5"/><circle cx="451.4" cy="641.9"/><circle cx="452.1" cy="632.4"/><circle cx="468" cy="626"/><circle cx="518.3" cy="600.3"/><circle cx="473.1" cy="646.6"/><circle cx="527.9" cy="649.1"/><circle cx="484.2" cy="649.2"/></g><g class="d"><circle cx="453.3" cy="628.8"/><circle cx="447.2" cy="653.6"/><circle cx="447.3" cy="650.9"/><circle cx="464.7" cy="650.6"/><circle cx="454.6" cy="655.3"/><circle cx="447.2" cy="656.2"/><circle cx="449.3" cy="656.6"/><circle cx="461.7" cy="650.8"/><circle cx="449.8" cy="640.8"/><circle cx="460.8" cy="600.7"/><circle cx="450.4" cy="654.8"/><circle cx="484.3" cy="648"/><circle cx="450.8" cy="643.8"/><circle cx="503.6" cy="642.8"/><circle cx="445.6" cy="653.9"/><circle cx="479.9" cy="637.3"/><circle cx="463.2" cy="652.1"/><circle cx="454.6" cy="656.2"/><circle cx="458.5" cy="630.3"/><circle cx="506.9" cy="645.3"/><circle cx="443.9" cy="633.9"/><circle cx="446.4" cy="647.1"/><circle cx="461.7" cy="622.2"/><circle cx="459.3" cy="635.9"/><circle cx="488.4" cy="626.8"/><circle cx="508.2" cy="610.8"/><circle cx="450.2" cy="651.2"/><circle cx="443.3" cy="622.1"/><circle cx="446.2" cy="644.8"/><circle cx="443.3" cy="656"/><circle cx="451.1" cy="652.6"/><circle cx="460" cy="648.2"/><circle cx="505.9" cy="655.9"/><circle cx="478.5" cy="630.8"/><circle cx="446.4" cy="621.4"/><circle cx="462.4" cy="650.9"/><circle cx="490.8" cy="639.7"/><circle cx="447.1" cy="650"/><circle cx="448.1" cy="656"/><circle cx="448.1" cy="594.9"/></g><g class="d"><circle cx="490.1" cy="622.4"/><circle cx="443.5" cy="644.3"/><circle cx="447.2" cy="637.6"/><circle cx="454.5" cy="601"/><circle cx="457.6" cy="646.2"/><circle cx="481.4" cy="527.6"/><circle cx="442.7" cy="650.7"/><circle cx="509.9" cy="654.8"/><circle cx="476.5" cy="642.2"/><circle cx="445.4" cy="653.6"/><circle cx="448.2" cy="645.5"/><circle cx="459.2" cy="650.6"/><circle cx="480.4" cy="647.5"/><circle cx="451.9" cy="656.9"/><circle cx="457.1" cy="642.9"/><circle cx="471.2" cy="644.5"/><circle cx="451.5" cy="656.5"/><circle cx="459.8" cy="654.9"/><circle cx="468.4" cy="643.3"/><circle cx="455.6" cy="618.8"/><circle cx="471.4" cy="652"/><circle cx="443.2" cy="644.3"/><circle cx="446.8" cy="655.3"/><circle cx="446.3" cy="651.6"/><circle cx="477.2" cy="655.5"/><circle cx="459" cy="652.2"/><circle cx="490.2" cy="621.4"/><circle cx="488.2" cy="556.6"/><circle cx="496.7" cy="655.8"/><circle cx="454.6" cy="653.5"/><circle cx="445.2" cy="656.7"/><circle cx="464.7" cy="595.5"/><circle cx="443" cy="636"/><circle cx="455.7" cy="657.7"/><circle cx="495.6" cy="602.6"/><circle cx="444.5" cy="645.9"/><circle cx="511.8" cy="642.2"/><circle cx="469.8" cy="572.5"/><circle cx="456.6" cy="638.8"/><circle cx="473.2" cy="611"/></g><g class="d"><circle cx="472.9" cy="622.8"/><circle cx="448.9" cy="594.6"/><circle cx="514.4" cy="647.1"/></g></g><line x1="442.5" y1="634" x2="561.5" y2="537.6" stroke="#2f8fcb" stroke-width="2.9"/><line x1="442.5" y1="634" x2="669.7" y2="578.5" stroke="#62b8e8" stroke-width="2.9"/><text transform="translate(570.25,511.0) scale(0.991,1)" font-size="19.5" font-weight="bold" fill="#0a70b2">Moist</text><text transform="translate(562.02,532.0) scale(0.974,1)" font-size="19.5" font-weight="bold" fill="#0a70b2"><tspan font-style="italic">r</tspan> = 0.472</text><text transform="translate(603.76,608.4) scale(1.006,1)" font-size="19.0" font-weight="bold" fill="#56b4e9">Dry</text><text transform="translate(602.03,629.2) scale(0.968,1)" font-size="19.0" font-weight="bold" fill="#56b4e9"><tspan font-style="italic">r</tspan> = 0.151</text><rect x="433.9" y="419" width="247.9" height="248.7" fill="none" stroke="#333" stroke-width="1.4"/><line x1="437.7" y1="667.7" x2="437.7" y2="671.4000000000001" stroke="#333" stroke-width="1.4"/><text transform="translate(423.56,684.7)" font-size="14.5" fill="#4d4d4d">0.00</text><line x1="496.1" y1="667.7" x2="496.1" y2="671.4000000000001" stroke="#333" stroke-width="1.4"/><text transform="translate(482.06,684.7)" font-size="14.5" fill="#4d4d4d">0.25</text><line x1="554.5" y1="667.7" x2="554.5" y2="671.4000000000001" stroke="#333" stroke-width="1.4"/><text transform="translate(540.41,684.7)" font-size="14.5" fill="#4d4d4d">0.50</text><line x1="613.0" y1="667.7" x2="613.0" y2="671.4000000000001" stroke="#333" stroke-width="1.4"/><text transform="translate(598.91,684.7)" font-size="14.5" fill="#4d4d4d">0.75</text><line x1="671.4" y1="667.7" x2="671.4" y2="671.4000000000001" stroke="#333" stroke-width="1.4"/><text transform="translate(656.97,684.7)" font-size="14.5" fill="#4d4d4d">1.00</text><line x1="430.2" y1="666.2" x2="433.9" y2="666.2" stroke="#333" stroke-width="1.4"/><text transform="translate(397.61,671.3)" font-size="14.5" fill="#4d4d4d">0.00</text><line x1="430.2" y1="609.9" x2="433.9" y2="609.9" stroke="#333" stroke-width="1.4"/><text transform="translate(397.75,615.0)" font-size="14.5" fill="#4d4d4d">0.25</text><line x1="430.2" y1="553.6" x2="433.9" y2="553.6" stroke="#333" stroke-width="1.4"/><text transform="translate(397.61,558.7)" font-size="14.5" fill="#4d4d4d">0.50</text><line x1="430.2" y1="497.3" x2="433.9" y2="497.3" stroke="#333" stroke-width="1.4"/><text transform="translate(397.75,502.4)" font-size="14.5" fill="#4d4d4d">0.75</text><line x1="430.2" y1="441.0" x2="433.9" y2="441.0" stroke="#333" stroke-width="1.4"/><text transform="translate(397.60,446.1)" font-size="14.5" fill="#4d4d4d">1.00</text><text transform="translate(506.77,703.3)" font-size="16.5" fill="#000">Calcium (OD)</text><text transform="translate(392.2,590.33) rotate(-90) scale(1.005,1)" font-size="16.5" fill="#000">Carbon (OD)</text>
</svg></body></html>
